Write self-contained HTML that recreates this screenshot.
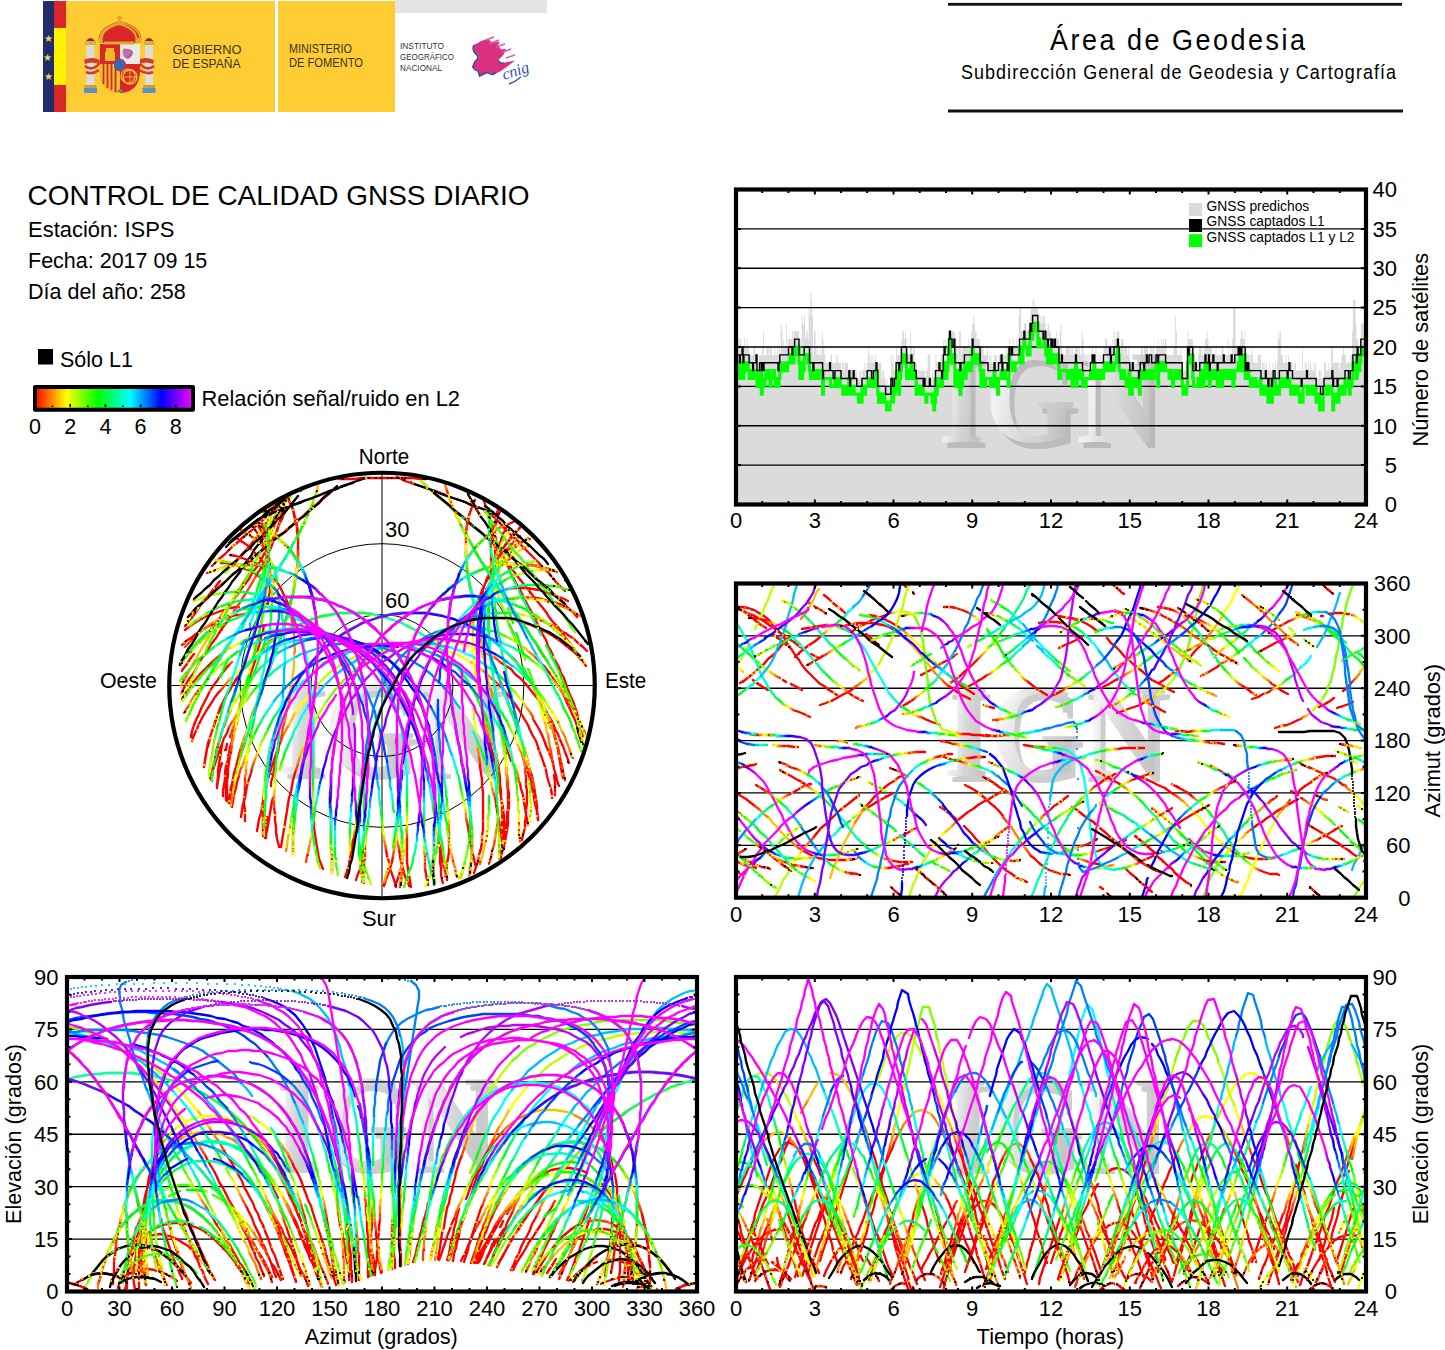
<!DOCTYPE html>
<html><head><meta charset="utf-8"><title>Control de calidad GNSS diario</title>
<style>
html,body{margin:0;padding:0;background:#fff;}
svg{display:block;}
text{font-family:"Liberation Sans",sans-serif;}
.c path{fill:none;stroke-width:2.35;stroke-linecap:round;stroke-linejoin:round;}
.c path.sp{stroke-width:2.2;}
text.wm{font-family:"Liberation Serif",serif;}
</style></head><body>
<svg width="1445" height="1350" viewBox="0 0 1445 1350">
<defs>
<clipPath id="cpA"><rect x="736" y="189.5" width="630" height="315"/></clipPath>
<clipPath id="cpB"><rect x="736" y="583.5" width="630" height="314.2"/></clipPath>
<clipPath id="cpC"><rect x="67" y="977" width="630" height="314.5"/></clipPath>
<clipPath id="cpD"><rect x="736" y="977" width="630" height="314.5"/></clipPath>
<clipPath id="cpP"><circle cx="382" cy="685.5" r="212.75"/></clipPath>
<linearGradient id="wmg" x1="0" y1="0" x2="1" y2="0.3">
<stop offset="0" stop-color="#c9c9c9"/><stop offset="0.25" stop-color="#f6f6f6"/><stop offset="0.6" stop-color="#d8d8d8"/><stop offset="1" stop-color="#c2c2c2"/>
</linearGradient>
<linearGradient id="cbar" x1="0" y1="0" x2="1" y2="0">
<stop offset="0" stop-color="#ff0000"/><stop offset="0.2" stop-color="#ffff00"/><stop offset="0.4" stop-color="#00ff00"/><stop offset="0.6" stop-color="#00ffff"/><stop offset="0.8" stop-color="#0000ff"/><stop offset="1" stop-color="#ff00ff"/>
</linearGradient>
<g id="wmark" font-size="118" font-weight="bold" transform="scale(1 1.13)">
<text class="wm" x="-106.5" y="5" fill="#9c9c9c" fill-opacity="0.5">I</text><text class="wm" x="-60.5" y="5" fill="#9c9c9c" fill-opacity="0.5">G</text><text class="wm" x="31.3" y="5" fill="#9c9c9c" fill-opacity="0.5">N</text>
<text class="wm" x="-111.5" y="0" fill="url(#wmg)" fill-opacity="0.92">I</text><text class="wm" x="-65.5" y="0" fill="url(#wmg)" fill-opacity="0.92">G</text><text class="wm" x="26.3" y="0" fill="url(#wmg)" fill-opacity="0.92">N</text>
</g>
</defs>

<!-- ================= HEADER LEFT (logos) ================= -->
<g id="logos">
<rect x="395" y="0" width="152" height="13" fill="#e4e4e4"/>
<rect x="43" y="1" width="11" height="111" fill="#1f2d6b"/>
<rect x="54" y="1" width="12" height="27" fill="#d8262b"/>
<rect x="54" y="28" width="12" height="57" fill="#fff200"/>
<rect x="54" y="85" width="12" height="27" fill="#d8262b"/>
<g fill="#f5d84a"><text x="44" y="42" font-size="10">★</text><text x="43" y="61" font-size="10">★</text><text x="44" y="80" font-size="10">★</text></g>
<rect x="66" y="1" width="209" height="111" fill="#ffcc33"/>
<rect x="278" y="1" width="117" height="111" fill="#ffcc33"/>
<!-- coat of arms -->
<g id="coa">
<rect x="86.5" y="44" width="8" height="43" fill="#dcdcdc"/>
<rect x="145" y="44" width="8" height="43" fill="#dcdcdc"/>
<rect x="85" y="41" width="11" height="4" fill="#e0b030"/><rect x="143.5" y="41" width="11" height="4" fill="#e0b030"/>
<path d="M86 41q4.5 -6 9 0z M144.5 41q4.5 -6 9 0z" fill="#8b2a2a"/>
<rect x="84.5" y="85" width="12" height="3" fill="#c8a030"/><rect x="143" y="85" width="12" height="3" fill="#c8a030"/>
<rect x="84" y="88" width="13" height="5" fill="#5a8fc8"/><rect x="142.5" y="88" width="13" height="5" fill="#5a8fc8"/>
<path d="M84 60 q8 -4 16 0 l-1 4 q-7 -3 -14 0z M138 60 q8 -4 16 0 l-1 4 q-7 -3 -14 0z" fill="#d43a2a"/>
<path d="M85 66 q7 6 15 -3 M139 63 q8 9 15 3 M86 72 q6 3 13 -2 M139 70 q8 5 14 2" stroke="#d43a2a" stroke-width="2.6" fill="none"/>
<path d="M100 44 h40 v26 q0 22 -20 23 q-20 -1 -20 -23z" fill="#d8262b"/>
<rect x="120" y="44" width="20" height="20" fill="#e8e8e8"/>
<path d="M100 64 h20 v29 q-20 -1 -20 -23z" fill="#f2c230"/>
<g stroke="#d8262b" stroke-width="1.8"><path d="M103.5 64v20M107.5 64v24M111.5 64v26M115.5 64v28"/></g>
<circle cx="130" cy="77" r="7" fill="none" stroke="#f2c230" stroke-width="1.3"/>
<path d="M123 77h14M130 70v14" stroke="#f2c230" stroke-width="0.9"/>
<path d="M105 61v-9h2v2h2v-2h2v2h2v-2h2v9z" fill="#f0b92b"/>
<path d="M125 50q5 -3 8 2q-1 6 -6 7q-3 -3 -2 -9z" fill="#b05aa0"/>
<ellipse cx="120" cy="65" rx="5.5" ry="6" fill="#3a66b5" stroke="#d8262b" stroke-width="1"/>
<path d="M117 91q3 -4 6 0q-3 3 -6 0z" fill="#5aa04a"/>
<path d="M99 43 q-3 -16 21 -22 q24 6 21 22z" fill="#d8262b"/>
<path d="M100 42 q-2 -14 20 -20 q22 6 20 20 M110 41 q-1 -12 10 -19 q11 7 10 19 M120 22v20" fill="none" stroke="#e2a92a" stroke-width="1.8"/>
<rect x="99" y="38" width="42" height="5" fill="#e2a92a"/>
<path d="M120 15v7M117 18h6" stroke="#e2a92a" stroke-width="1.8"/>
</g>
<circle cx="128" cy="76" r="7" fill="none" stroke="#f2c230" stroke-width="1.2"/>
<rect x="106" y="48" width="8" height="12" fill="#f0b92b"/>
<path d="M123 49 q5 -2 8 3 q-2 5 -6 6 q-3 -3 -2 -9z" fill="#c76aa8"/>
<ellipse cx="119" cy="65" rx="5" ry="5.5" fill="#3a66b5"/>
<path d="M102 43 q-2 -15 17 -20 q19 5 17 20z" fill="#d8262b"/>
<path d="M102 43 q-3 -14 17 -19 q20 5 17 19" fill="none" stroke="#e2a92a" stroke-width="2"/>
<path d="M104 43 h30" stroke="#e2a92a" stroke-width="3"/>
<path d="M119 16 v8" stroke="#e2a92a" stroke-width="2"/>
</g>
<text x="172.5" y="54" font-size="12.4" fill="#3b3325" textLength="69" lengthAdjust="spacingAndGlyphs">GOBIERNO</text>
<text x="172.5" y="67.8" font-size="12.4" fill="#3b3325" textLength="68" lengthAdjust="spacingAndGlyphs">DE ESPAÑA</text>
<text x="289" y="52.5" font-size="12" fill="#3b3325" textLength="63" lengthAdjust="spacingAndGlyphs">MINISTERIO</text>
<text x="289" y="67" font-size="12" fill="#3b3325" textLength="74" lengthAdjust="spacingAndGlyphs">DE FOMENTO</text>
<text x="400" y="48.6" font-size="8.6" fill="#333" textLength="44" lengthAdjust="spacingAndGlyphs">INSTITUTO</text>
<text x="400" y="60" font-size="8.6" fill="#333" textLength="54" lengthAdjust="spacingAndGlyphs">GEOGRÁFICO</text>
<text x="400" y="71.2" font-size="8.6" fill="#333" textLength="42" lengthAdjust="spacingAndGlyphs">NACIONAL</text>
<!-- cnig logo -->
<path d="M473 45.3L477 43.5L481 41L488 38.8L490 41L493 42.4L500 41.8L498 45L501 49.4L506 48.8L503.5 54.7L498 60.6L502 63L515 60.6L506 67.6L501 71L493 74.7L488 72.4L483.5 75.3L479.4 77L477.6 70.6L471.8 67.6L474 61.8L478.8 57.6L474 53L473 49.4Z" fill="#d9317f"/>
<path d="M486 40l8 -3M489 44l10 -4M496 47l9 -3M503 52l8 -3M506 58l9 -3" stroke="#e05a98" stroke-width="1.5" fill="none"/>
<path d="M474 45q-2 3 0 7q3 2 4 6q-3 3 -5 8q0 4 5 5q1 4 2 6M481 75q5 -4 9 -1q3 2 6 -2M498 60q2 4 6 3" stroke="#2f4fae" stroke-width="1.3" fill="none"/>
<text x="0" y="0" transform="translate(504 80) rotate(-18)" style="font-family:'Liberation Serif',serif;font-style:italic" font-size="16" fill="#2f4fae">cnig</text>
<path d="M509 84q6 -2 12 -7" stroke="#2f4fae" stroke-width="1.4" fill="none"/>
</g>

<!-- ================= HEADER RIGHT ================= -->
<rect x="948" y="2.9" width="454" height="2.8" fill="#111"/>
<rect x="948" y="109.5" width="455" height="3" fill="#111"/>
<text transform="translate(1177.5 50) scale(0.93 1)" x="0" y="0" font-size="29" text-anchor="middle" textLength="274" lengthAdjust="spacing">Área de Geodesia</text>
<text transform="translate(1178.5 78.7) scale(0.93 1)" x="0" y="0" font-size="19.3" text-anchor="middle" textLength="467.7" lengthAdjust="spacing">Subdirección General de Geodesia y Cartografía</text>

<!-- ================= TITLE BLOCK ================= -->
<text x="27.5" y="205" font-size="28" textLength="502" lengthAdjust="spacingAndGlyphs">CONTROL DE CALIDAD GNSS DIARIO</text>
<text x="28" y="237" font-size="21.5" textLength="146.5" lengthAdjust="spacingAndGlyphs">Estación: ISPS</text>
<text x="28" y="268.4" font-size="21.5">Fecha: 2017 09 15</text>
<text x="28" y="299" font-size="21.5">Día del año: 258</text>

<!-- legend -->
<rect x="38" y="349" width="15" height="15.5" fill="#000"/>
<text x="60" y="367" font-size="21.5">Sólo L1</text>
<rect x="35" y="387" width="158" height="22.7" fill="url(#cbar)" stroke="#000" stroke-width="4" stroke-linejoin="round"/>
<g stroke="#000" stroke-width="1.6">
<path d="M52.6 407v-1.5M70.2 407v-3M87.8 407v-1.5M105.4 407v-3M123 407v-1.5M140.6 407v-3M158.2 407v-1.5M175.8 407v-3"/>
</g>
<g font-size="21.5" text-anchor="middle">
<text x="35" y="433.5">0</text><text x="70.2" y="433.5">2</text><text x="105.4" y="433.5">4</text><text x="140.6" y="433.5">6</text><text x="175.8" y="433.5">8</text>
</g>
<text x="201.5" y="405.7" font-size="21.5" textLength="258.5" lengthAdjust="spacingAndGlyphs">Relación señal/ruido en L2</text>

<!-- ================= POLAR PLOT ================= -->
<g id="polar">
<use href="#wmark" x="390" y="773"/>
<g fill="none" stroke="#000" stroke-width="1">
<circle cx="382" cy="685.5" r="141.8"/>
<circle cx="382" cy="685.5" r="70.9"/>
<path d="M169 685.5H595M382 472.75V898.25"/>
</g>
<g class="c" clip-path="url(#cpP)">
<path stroke="#ff0000" d="M257 831l1-6 1-6 2-6 1-6 1-6 1-7 2-6 1-6 2-6 2-7 2-6 2-6 2-6 2-6 2-4M498 684l5 5 4 5 4 5 4 5 4 6 3 5 3 5 3 5 2 5 3 6 3 5 2 6 2 6 2 5 2 6 2 6 1 6 2 7 2 6 1 6 0 3M356 880l2-6 2-5M558 629l5 3 5 3 6 4 4 4 5 4 4 4M285 500l-5 5-5 4-5 5-5 4-4 4-5 4-4 4-5 4-5 4-4 4-5 4-4 4-5 5-5 4-4 4-3 3M496 552l0-6-1-6 0-7 0-6 1-6 1-6 1-6M236 538l5 3 6 4 4 4 5 5 4 4 4 6 3 5 1 2M274 807l1 7 0 6 1 7 0 6 1 6 2 7 0 1M555 795l0-7 0-6-1-7 0 0M565 591l-5-5-4-4-4-5-4-5-5-4-4-5-4-4-5-5-4-4-4-4-4-5-5-4-4-4-5-5-4-5-5-5-5-4-3-4M185 630l5-4 6-4 5-3 6-3 6-2 5-2 6-2 6-2 7-1 1 0M386 849l1 7 2 6 1 6 2 6 2 6 2 6 0 1M210 778l2-6 2-5 2-6 2-6 2-6 2-5 2-6 3-5 2-6M495 797l1 6 1 7 1 6 1 6 1 6 1 6 1 6 2 6 0 3M500 859l2-6 1-5 2-6 1-6 1-6 1-6 0-6 0-6 1-6 0-6 0-6-1-6M495 568l2-6 2-6 3-5 3-6 4-5 3-5 5-4 4-5M263 527l2 6 1 6 1 6 1 7 0 6 0 5M230 756l-1 6-1 7 0 6-1 6 0 6 0 7 0 6 0 1M288 499l-4 5-4 5-3 5-4 5-4 4-4 5-5 5-4 5-4 5-4 5-5 5-4 5-4 5-3 3M220 581l-4 5-4 5-4 5-4 5-4 5-3 5-4 5-4 5-4 5M384 886l2-6 2-6 2-6 2-6 1-6M529 598l7 0 6 1 6 2 6 1 6 2 6 3 1 0M222 745l-1 7-1 6-1 6-1 7 0 6-1 7 0 4M266 523l1 6 0 3M232 807l1-6 1-6 2-7 1-6 2-6 0-1M520 783l1 6 2 6 1 7 1 6 1 6 1 6 1 5M575 713l3 6 3 6 2 5M252 526l4 5 3 5 3 6 2 6 2 6 2 6 0 0M245 786l0 6-1 6 0 6 1 6 0 6 0 5M522 840l1-6 2-6 0-6 1-6 0-6 1-7 0-6 0-6-1-6 0-6 0-2M496 558l1-6 2-6 2-6 2-6 3-5 0-1M399 849l1 7 1 6 2 6 1 5 2 6 3 6 0 1M182 645l4-4 5-3 5-4 6-4 5-3 6-3 6-3 5-2 6-2 6-2 3 0M467 821l1 6 1 7 1 6 1 6 1 6 2 6 1 6 1 3M192 741l2-6 3-6 2-5 3-6 3-5 3-5 4-6 3-5 4-5 2-2M467 823l1 3M281 847l1-6 1-6 1-6 1-6 1-6 1-6 1-7 1-6 2-6 1-6 1-6 2-7 1-3M500 662l6 4 5 3 4 5 5 4 5 5 4 5 4 5 4 5 3 4 4 6 3 5 3 5 3 5 2 6 3 5 2 6 3 6 2 6 2 5 2 6M345 877l2-6 2-6 1-6 1-6 1-6 1-7 1-2M525 623l6 2 6 3 5 2 6 3 5 3 6 4 5 4 5 4 5 4 4 4 3 4M261 521l2 6 2 6 1 6 1 6 1 6 0 7 0 6 0 6 0 6-1 7 0 6-1 3M237 719l-2 6-1 6-1 7-2 6-1 6-1 7-1 6-1 6 0 6-1 7 0 6 0 6 0 6M500 856l2-6 1-6 2-6 1-6 0-6 1-6 0-6 1-6 0-6 0-6 0-6-1-4M494 570l2-6 3-6 2-5 3-6 4-5 4-5 4-5 4-4M221 563l6 0 7 2 6 2 5 2 6 2 5 3 5 4 5 3 3 3M314 822l0 6 1 6 1 7 1 6 1 6 1 6 2 5 2 5M583 736l-1-6-2-6-2-6-1-5-2-6-2-6-3-6-2-5-2-6-2-6-3-5-2-6-3-5-3-6-2-5-3-5-2-6-3-5-3-6-3-6-3-6-3-6-3-5-3-6-3-6-3-6-3-5-3-6-3-5-2-6-3-5-2-6-3-6-3-6-2-6-2-6-2-5-2-7-2-6-1-6-2-6M524 761l2 6 2 6 2 6 1 7 2 6 1 6 1 6 2 7 1 6 0 3M241 817l1-7 1-6 2-6 1-6 1-6 2-7 2-6 1-5M182 699l3-5 4-5 3-5 4-5 4-5 4-4 4-4 5-5M440 847l1 6 1 6 1 6 2 6 2 6 0 3M533 719l3 5 3 5 3 6 2 5 2 6 3 6 2 5 2 6 1 6 2 6 1 5 2 6M265 838l2-7 1-6 1-6 1-6 1-6 1-6 1-3M204 766l1-6 1-6 1-6 2-5 1-6 2-6 2-6 2-5 2-6 3-6 2-6 3-6 4-6 3-6 4-5 1-2M499 772l1 6 0 6 1 7 0 6 1 7 0 6 0 6 0 6 0 6 0 6 0 7 0 5M426 479l-7-1-6 0-7 0-6 0-7 0-6 0-6 0-7 0-6 0-7 0-6 1-7 0-6 0-3 0M263 836l0-6 0-6 0-7 0-6 0-6 1-6 0-7M541 701l3 6 3 6 2 6 2 5 2 6 2 6 1 6 2 5 1 6 1 6 1 6 1 6 0 4M190 615l-2 2M469 875l1-7 1-6 1-6 0-6 0-7 0-6 0-7-1-6M474 549l4-5 5-4 4-4 5-4 5-3 6-3 6-2 6-3 0 0M292 507l2 7 2 6 1 6 1 6 0 6 0 6 0 7 0 0M239 755l-1 6-2 6-2 6-1 7-1 6-2 6 0 6-1 5M537 813l0-7-1-6-1-6-1-6M468 523l1-7 2-6 2-6 2-4M289 501l3 6 2 6 1 7 2 5 0 7 1 6 0 6 0 7 0 6 0 6-1 6-1 6-1 7-1 6-1 6-2 6-1 6-2 6-2 6-1 6-2 7-2 6-2 6-3 6-2 7-2 6-2 6-3 6-2 7-2 6-3 6-2 7-2 6-3 6-2 6-2 7-2 6-2 6-2 6-2 7-2 6-2 6-1 6-2 6-1 7-2 6-1 6-1 6 0 4M537 811l0-6-1-6-1-6-1-7-2-6-1-6-2-6-1-6-2-7-2-6-2-6-2-6-2-6-2-7-2-6-3-6-2-7-2-6-3-6 0-1M475 606l-2-6-1-6-2-6-1-7-1-6-1-6 0-7-1-6 0-6 0-6 0-7 0-6 1-6 1-6 2-6 2-6 2-6 1-1M261 527l4 2M277 537l4 4 5 4 4 5 3 4 4 6 3 5 3 6 3 6 0 1M296 806l-1 6-1 6 0 7-1 6 0 7 0 6 0 7 0 4M586 737l-2-6-3-5-2-6-2-5-3-6-3-5-2-6-3-5-3-5-2-4M549 664l-3-5-4-5-3-5-3-6-4-5-3-5-3-5-4-5-3-5-4-5M499 589l-3-6-4-5-4-6-3-5-4-6-3-5-3-5-3-6-3-5-3-6-3-5-3-6-3-6-2-6-3-5-2-6-2-6-2-6M207 573l6-2 6-2 6-2 6-1 6-1 7 0 6 0 7 0 6 1 6 1 6 1 2 0M363 859l0 4M363 875l1 6 0 2M494 514l-5-2-6-3-6-2-6-2-6-3-6-2-6-2-6-2-6-3-6-2-6-2-6-2-6-2-6-2-6-2-6-3-2-1M204 767l1-6 1-6 1-6 2-6 1-6 2-6 2-6 2-5 2-6 3-6 1-3M245 667l4-5 4-4 5-5 5-4 4-5 5-4 5-3 1-1M489 728h0M494 746l2 6 1 7 1 6 1 6 1 7 0 6 1 7 0 6 1 6 0 7 0 6 0 6 0 6 0 6 0 7 0 6-1 7 0 4M426 479l-6 0-7-1-6 0-7 0-6 0-7 0-6 0-6 0-7 0M346 479l-7 0M263 836l0-5M559 752l1 6 1 6 1 6 0 3M334 489l-4 4-5 4-5 4-5 5-5 4-5 4-5 5-5 4-5 4-4 4-5 4-3 2M249 561l-2 1M222 585l-5 4-5 4-4 5-5 4-5 4-4 5-4 4-2 2M400 887l1-7 1-6 0-7 0-6 0-6 0-6 0-6 0-7 0-3M478 571l5-2 6-2 6-1 6-1 6-1 7 0 6 0 7 1 6 0 7 2 4 1M495 642l5 4 4 4 5 5 5 4 4 5 4 6 4 5 4 5 3 6 3 6 4 6 3 6 2 6 3 5 2 6 2 6 2 5 1 6 2 6 1 6 1 6 1 6 1 6 1 6 1 4M332 873l0-7 0-6 0-6-1-6 0-7 0-6 0-7 0-6 0-6 0-6-1-7 1-6 0-2M537 566l6 2 6 1 4 2M288 498l2 5 3 6 1 6 2 7 1 5 1 7 0 6 0 6 0 7 0 6 0 3M243 742l-2 6-2 6-1 6-2 7-2 6-1 6-1 6-1 6-1 7-1 5M538 820l-1-6 0-7-1-6-1-6-1-6-1-7-1-6-2-6-2-6-1-6-1-4M466 550l0-6 0-6 0-7 1-6 1-6 2-6 2-6 2-6 1-1M213 571l6-2 6-2 6-1 6-1 7 0 6 0 6 0 7 1 6 1 6 1 5 2 6 2 6 2 5 3 5 3 5 3 5 3 2 2M366 804l-1 6 0 6-1 7 0 6 0 7-1 6 0 6 0 6 0 7 0 6 0 6 1 7 0 2M577 617l-4-5-5-4-4-5-5-4-4-4-5-5-5-4-5-4-4-4-5-4-5-4-5-4-5-5-4-4-5-4-5-4-5-3-5-4-5-4-4-4-5-4-5-4-4-4-5-4-5-4-5-4-5-4-5-5-5-4-5-4-3-3M180 664l3-5 4-5 4-5 4-4 4-5 5-4 5-5 5-4 5-4 5-4 5-3 6-4 6-3 5-2M434 835l0 6 0 7 0 6-1 6 0 6 0 7 1 6 0 1M495 514l-6-2-6-3-6-2-6-2-6-3-6-2-6-2-6-2-6-3-6-2-6-2-6-2-6-2-6-2-6-2 0-1M204 767l1-6 1-6 1-6 1-6 2-6 2-6 2-5 2-6 2-6 2-6 3-6 3-6 3-6 4-5 3-6 4-5 4-6 4-5 5-5 4-4 5-5 5-4 5-4 5-4 5-3 5-4 2-1M485 715l2 6 2 6 2 7 2 6 1 6 2 7 1 6 1 6 1 7 1 6 0 7 1 6 0 6 1 7 0 6 0 6 0 6 0 4M426 479l-6 0-3-1M402 478l-6 0-7 0-6 0-7 0-6 0-7 0-6 1-6 0-7 0-5 0M263 836l0-6 0-6 0-6 0-6 0-7 1-6 0-6 0-5M268 760l1-6 2-7 1-6 2-6 2-6M511 761l-2-6-2-6-1-6-2-6-2-6-1-6-2-6-1-2M480 615l0-6 1-6 1-7 1-6 2-6 2-6 3-5 2-5 4-6 4-5 4-4 5-4 5-3 6-3 5-3 5-1M491 555l0-6 0-7 1-6 1-6 1-6 3-6 2-5 1-1M283 500l0 6-1 6-1 6-2 6-2 6-1 6-3 6-2 6-3 5-2 6-3 5-3 6-2 2M227 622l-4 5-4 6-3 5-4 5-3 5-3 5-4 5-3 5-3 6-3 5-4 5-3 5-3 6-2 4M565 780l-1-3M191 737l1-6 2-6 2-5 3-6 2-5 3-6 3-6 3-6 3-5 4-5 3-5 4-5 4-5 2-2M407 837l0 7 0 6 0 6 0 6 1 7 1 6 1 6 1 6M586 666l-3-5-4-5-4-5-3-5-4-5-4-5-3-5-4-5-4-4-4-5-3-5-4-5-4-5-4-5-4-5-4-5-4-5-4-5-4-5-3-5-2-2M501 553l-2-4M211 780l1-7 1-6 2-6 1-7 1-6 2-6 2-6 0-2M439 843l1 7 0 6 0 6 1 6 0 6 1 6 1 3M286 507l-2 6-2 6-3 6-2 6-3 5-3 6-2 5-4 5-3 6-3 5-3 5-4 5-3 6-4 5-4 5-3 5-4 5-4 5-4 5-4 6-3 4-4 5-4 5-3 5M194 654l-4 5-3 5-4 5-1 2M362 882l1-6 1-6 0-7 1-6 0-6 0-6 0-1M540 662l4 4 4 5 3 5 4 5 3 5 4 6 3 6 2 5 3 6 2 5 3 6 2 6 1 6 2 6 1 4M230 736l0 1M227 744l-1 6-1 0M222 763l-2 6-1 6-1 6-1 6 0 1M445 876l1-6 1-6 1-6 1-6 0-7 0-6 0-5M514 588l6 0 6 0 7 1 6 1 6 2 6 2 5 2 6 2 6 3M230 555l6 1 6 2 6 2 6 2 5 3 5 4 5 4 4 5 4 4 3 5 3 6 3 6 2 5 2 6 1 6 1 4M282 734l-1 6-2 6-1 6-2 6-1 6-1 6-1 6-2 6 0 4M267 817l-1 6 0 7 0 6 0 2M502 853l1-6 0-6 1-6 0-7 0-6 0-6-1-7-1-6-1-6-1-7-1-6-1-6-1-6-1-6-2-6-1-6-2-6-1-6M476 607l2-6 2-5 2-6 3-6 3-5 4-5 4-4 5-5 5-4 5-3 2-1M425 868l1 6 1 6 1 5M395 886l2-5 2-6 1-4M496 559l-1-6 0-6-1-6 1-7 0-6 1-6 0-3M257 524l3 5 3 5 2 6 2 6 1 6 1 7 1 6 0 6 0 6 0 7 0 6-1 6-1 6 0 2M264 625l-1 6-2 6-1 6-2 6-1 6-2 6-2 6-2 6-2 6-1 6-2 7-2 6-2 6-2 6-2 6-1 6-2 7-2 6-1 6-2 6-1 7-1 6-2 6-1 6 0 7-1 6-1 6 0 5M474 873l2-6 2-6 1-6 2-6 1-7 0-6 1-6 0-7 0-6 0-6 0-7 0-6 0-6-1-6 0-6-1-7-1-6 0-4"/>
<path stroke="#ff4000" d="M281 741l2-6 1-1M491 678l5 4 2 2M360 869l1-6 1-3M546 623l6 2 6 4M498 562l-1-6-1-4M268 571l2 4M274 800l0 7M553 764l-1-6-1-6-1-5M238 607l1 0M385 844l1 5M229 727l3-5 1-1M493 792l2 5M570 751l2 6 1 1M508 788l0-6 0-2M493 573l2-5M268 563l0 7 0 1M232 745l-1 7-1 4M393 856l1-6M522 597l6 1 1 0M489 864l2-6 1-7 2-6 1-6M511 545l4-5 5-4M267 532l1 6 0 7 0 0M184 713l3-5 1-1M455 868l1 6 1 3M239 775l2-7 1-1M518 776l1 6 1 1M306 862l1-6 1-3M565 696l3 5 4 6 3 5 0 1M268 560l1 7 0 0M245 776l0 7 0 3M526 777l-1-6 0-4M495 566l1-7 0-1M398 844l1 5M239 615l6-1M221 690l4-5 1-1M466 817l1 6M296 770l2-6 0-1M494 657l5 4 1 1M354 838l0-4M519 622l6 1M266 592l0 6-1 3M239 709l-1 6-1 4M507 786l0-6 0-2M493 576l1-6M269 584l3 3M313 817l1 5M522 754l2 7M252 768l2-6M213 661l5-4 2-2M438 841l2 6M530 712l3 5 0 2M238 677l3-5 1-1M498 765l1 7M264 792l1-6M537 692l3 6 1 3M332 873l0-3M569 643l4 5 4 5 2 3M335 488l-5 4-4 4-5 5-5 4-5 4-4 4M223 583l-5 5-4 4-5 4-5 5-4 4-5 4-4 5-1 1M548 569l6 2 3 1M471 824l0-6M471 553l3-4M298 551l0 6M241 748l-1 6-1 1M534 788l-1-7-2-5M466 532l1-7 1-2M469 874l1 0M504 692l-2-7-3-6-1-3M479 621l-2-6-2-7 0-2M309 586l1 2M297 801l-1 5M515 613l-3-5-4-5-3-5-3-5-3-4M277 568l5 2M363 852l0 6 0 1M278 636l5-3 6-3 0-1M486 718l2 6 1 4M263 831l0-6 0-6 0-1M554 734l2 6 1 6 2 6M402 833l-1-5M473 573l5-2M486 635l5 4 4 3M331 795l0-7M400 886l1-3M524 564l6 1 7 1 0 0M298 562l-1 6M245 736l-2 6M526 754l-2-7-1 0M466 556l0-6M314 588l4 4M366 798l0 6M246 607l5-2 2-1M434 830l0 5M479 701l2 6 3 6 1 2M276 729l2-6 1-4M498 717l-1-6-2-6M480 626l0-7 0-4M491 563l0-6 0-2M258 572l-3 6-3 5-3 5-3 5-4 6-3 5-4 5-3 6-4 5-1 2M480 515l-3-5-4-5-3-6M241 530l5 3 6 4 1 0M564 777l-1-6-1-6-2-7-1-3M230 664l2-2M407 833l0 4M185 647l4-4 5-5 4-4 2-2M221 734l2-6 2-3M439 837l0 6M301 491l-1 0M291 496l-5 4-6 3-5 3-5 3-6 3-1 0M365 844l0-5M534 656l4 4 2 2M233 728l-2 6-1 2M449 834l0-5M508 589l6-1M292 620l1 6 1 6M285 721l-2 6-1 6 0 1M490 742l-2-6 0-2M475 615l1-6 0-2M425 858l0 6 0 4M400 871l2-6 0-3M480 763l-1-6 0-1"/>
<path stroke="#ff8000" d="M284 734l3-6 2-3M482 670l5 4 4 4M362 860l1-6 0-1M538 619l5 2 3 2M499 572l-1-6 0-4M270 575l3 5M274 794l0 6 0 0M550 747l-1-6-1-7-1-1M384 839l1 5M233 721l3-5 0-1M492 787l1 5M286 851l1-6M562 731l3 6 2 6 2 5 1 3M382 885l3-5 0-2M557 605l6 2 5 2 6 3 6 4 0 0M508 780l-1-6 0-1M492 579l1-6M268 571l0 6 0 2M234 736l-2 7 0 2M394 850l1-5M516 598l6-1M495 839l1-7 1-6 0-2M504 553l4-5 3-3M268 545l0 6 0 5M188 707l3-6 3-5 4-5 1-2M452 855l1 6 2 7M242 767l2-6 0-1M516 769l2 6 0 1M308 853l1-6 1-3M557 685l4 5 3 5 1 1M269 567l1 6 0 1M246 768l0 6-1 2M525 767l-1-6 0-3M495 572l0-6 0 0M397 839l1 5M245 614l5-1M226 684l4-5 0 0M466 812l0 5M298 763l2-6 0-1M485 653l6 3 3 1M354 834l1-4M514 620l5 2M265 601l-1 6-1 3M242 698l-2 6-1 5M507 778l-1-6 0 0M492 581l1-5M272 587l3 3M313 812l0 5M519 748l3 6 0 0M254 762l2-5M480 864l1-4M523 542l5-4M220 655l5-3 1-2M438 836l0 5M526 707l4 5M242 671l4-5 2-2M497 759l1 6M265 786l0-6M532 684l4 6 1 2M332 870l0-7 0-4M554 629l5 4 5 5 4 4 1 1M307 513l-5 4-5 4-5 4-4 4-5 4-5 4-5 4-4 4-5 4-5 4-5 4-5 4-4 4-5 4-5 4-5 4-4 4-3 2M401 885l0-7 1-6 0-1M525 565l7 0 7 1 5 2 4 1M471 818l-1-6M468 557l3-4M298 557l0 6M243 742l-2 6M531 776l-1-6-1-3M466 539l0-6 0-1M470 874l1-7 0-6 1-6 0-2M494 531l5-3 6-3 2-1M498 676l-2-6-3-6-2-7-2-6-2-6-2-7-2-6-2-6-2-5M310 588l2 6M297 796l0 5M282 570l5 2M363 848l0 4M180 664l4-5 3-5 3-4M289 629l6-3 6-2 4-2M481 705l2 6 3 6 0 1M263 818l0-6 0-3M550 720l2 6 1 6 1 2M401 828l0-4M469 575l4-2M474 628l6 3 5 4 1 0M331 788l0-6 0-1M401 883l1-7 0-6 0-1M522 564l6 1 1 0M297 568l-1 6M248 729l-2 6-1 1M523 747l-2-7 0 0M466 562l0-6M259 526l6 3 4 2M583 730l-2-6-3-6-2-5M451 502l-3-6-1-6-2-5M318 592l5 4 0 1M367 791l-1 6 0 1M253 604l5-2 2 0M434 825l0 5M322 616l6-1 6-1 6-1 0 0M465 678l4 5 3 6 3 5 3 6 1 1M279 719l2-6 3-6 0-1M495 705l-2-6-1-6-2-5 0-1M481 643l0-6-1-6 0-5M493 571l-1-6-1-2M253 537l4 4 5 5 0 0M233 793l-1 6-1 6 0 1M407 829l0 4M200 632l5-3 4-4 5-3M225 725l2-6 1-3M439 832l0 5M365 839l0-5M528 651l5 4 1 1M236 721l-3 6 0 1M449 829l0-6M503 590l5-1M294 632l0 6 0 6 1 6-1 5M290 697l-1 6-2 6-1 6-1 6 0 0M488 734l-2-6-1-5M473 624l1-6 1-3M424 851l1 6 0 1M281 510l-3 6-2 6-2 5-2 4M196 659l-3 5-3 5-3 6-3 5-3 6 0 1M402 862l1-6 1-2M479 756l-1-6 0-3"/>
<path stroke="#ffbf00" d="M289 725l3-6 3-6 1-1M469 661l5 3 5 4 3 2M363 853l1-6M530 617l6 2 2 0M538 570l6 0 6 0 5 0M501 582l-1-6-1-4M273 580l1 4M275 788l-1 6M547 733l-1-7-2-6M384 835l0 4M236 715l3-5M491 781l1 6M287 845l1-7 0-3M556 719l3 5 2 6 1 1M385 878l2-6 2-5M543 600l6 2 6 2 2 1M507 773l0-6 0-1M491 584l1-5M268 579l-1 6 0 1M236 727l-2 6 0 3M395 845l1-5M511 598l5 0M230 710l-1 5M497 824l1-7M500 559l4-5 0-1M268 556l0 6-1 3M199 689l4-4 4-5 0-1M450 847l1 6 1 2M244 760l2-5M514 763l2 6M310 844l1-6 0-1M550 677l4 5 3 3M270 574l1 5M247 760l-1 7 0 1M524 758l-1-6-1-2M494 579l0-6 1-1M397 835l0 4M250 613l6 0M230 679l5-5 0 0M465 808l1 4M300 756l3-7 1-3M474 648l5 2 6 3M355 830l1-5M508 619l6 1M263 610l-1 7-1 6 0 1M246 683l-2 6-1 7-1 2M506 772l0-7 0 0M491 586l1-5M275 590l3 3M313 806l0 6M517 743l2 5M256 757l2-5M481 860l2-6 1-6 2-7 0-1M511 551l5-5 5-3 2-1M226 650l6-3 0 0M437 831l1 5M523 702l3 5 0 0M280 770l1-5M248 664l4-5 1-2M496 753l1 6M265 780l1-7M528 678l3 5 1 1M332 859l0-6-1-3M542 619l5 4 5 4 2 2M402 871l0-6 0-3M513 564l6 0 6 1M318 485l-1 6-2 5M470 812l-1-5M466 561l2-4M298 563l-1 6M246 735l-2 6-1 1M529 767l-1-6-1-2M466 546l0-6 0-1M257 525l6 3 2 1M472 853l0-6 0-6M485 538l5-4 4-3M312 594l1 6 0 2M298 791l-1 5M287 572l4 2M190 650l4-4 4-5 5-5 4-3M434 862l-1 4M305 622l6-2 6-2 6-2 6-1 2 0M470 685l3 6 4 6 2 5 2 3M263 809l1-7 0-2M545 710l3 6 2 4M582 659l3 5M401 824l0-4M465 577l4-2M458 621l6 2 5 3 5 2M331 781l0-7 1-3M579 655l3 5 1 1M402 869l0-6 0-3M510 564l6 0 6 0M296 574l-1 6M250 722l-2 7M521 740l-2-7M467 568l-1-6M269 531l5 4 4 3M293 843l0 6 0 6M576 713l-3-6-3-5-2-5-3-5M457 518l-2-6-3-6-1-4M323 597l5 4 2 3M367 782l0 6 0 3M260 602l6-2 0 0M435 820l-1 5M340 613l6 0 6 0 7 0 6 0 6 1 4 1M407 625l5 3 6 3 5 4 5 3 5 4 5 4 5 4 4 5 4 5 5 4 4 6 3 5 2 3M284 706l3-6 3-6 3-5M490 687l-2-6-1-6-1-6-1-6-2-6-1-7 0-6-1-1M494 580l-1-6 0-3M262 546l3 5 2 2M235 781l-1 6-1 6M461 878l2-7 1-6 1-1M550 728l-1-4M407 824l0 5M214 622l5-3 6-3M228 716l3-5 0-2M439 827l0 5M365 834l0-4M522 646l5 4 1 1M238 713l-2 6 0 2M449 823l0-4M498 591l5-1M294 655l0 6 0 6-1 6-1 7-1 6-1 6 0 5M485 723l-1-6-2-6 0-3M473 638l0-6 0-6 0-2M424 845l0 6M519 829l0 6 1 6 0 1M520 550l6-3 3-1M268 539l-3 6-3 5-3 6-1 1M212 632l-3 5-4 6-3 5-3 5-3 6M404 854l0-6M478 747l-1-6-1-5M271 516l0 6 0 5"/>
<path stroke="#ffff00" d="M296 712l4-6 4-5 4-5 4-5 3-3M438 648l6 2 6 2 6 2 6 3 5 3 2 1M364 847l1-4M524 615l6 2M525 572l6-1 7-1 0 0M282 502l-2 6-2 6-1 1M425 886l3-6 0-1M503 588l-2-6M274 584l2 5M275 782l0 6M544 720l-2-6-1-6M383 831l1 4M239 710l4-5 0-1M490 776l1 5M288 835l2-6 0-1M550 709l4 5 2 5M389 867l1-4M533 599l6 1 4 0M291 496l-4 5-4 5-4 4-3 4M194 612l-4 5-3 5-1 2M507 766l-1-6 0-1M490 589l1-5M267 586l0 6-1 2M238 718l-2 6 0 3M396 840l0-5M506 599l5-1M233 700l-1 6-2 4M497 565l3-5 0-1M267 565l0 6-1 2M207 679l4-5 4-3M449 840l1 6 0 1M246 755l2-6M512 757l2 6M311 837l1-6M544 671l4 4 2 2M271 579l0 6M248 752l-1 6 0 2M522 750l-1-6 0-2M494 586l0-7M396 831l1 4M256 613l5-1M235 674l5-4M464 803l1 5M304 746l2-6 3-6 1-2M457 643l6 1 6 2 5 2M356 825l0-4M504 619l4 0M261 624l-2 6-1 6-1 6-2 6-1 6-2 6-2 6-1 7-2 6-1 4M506 765l-1-6 0-1M490 592l1-6M278 593l3 4M313 802l0 4M515 737l2 6M258 752l2-6M267 510l1 6 0 5M486 840l1-6 1-6M505 558l4-5 2-2M232 647l6-3M436 826l1 5M519 697l4 5M281 765l0-1M579 719l-3-5-2-6-3-5 0-1M454 510l-2-6-3-6-1-5M211 571l6-1 5-2M253 657l5-4 2-2M494 746l2 6 0 1M266 773l1-6M523 671l4 5 1 2M331 850l0-6M532 613l6 4 4 2M402 862l0-6 0-2M503 565l6-1 4 0M315 496l-2 6-2 5-2 6-1 1M195 701l-2 5-3 6-2 5-2 4M469 807l0-5M464 564l2-3M297 569l-1 5M248 729l-2 6M527 759l-2-7 0-1M466 552l0-6M265 529l5 3 5 3 0 1M293 846l0 7 0 2M586 739l-2-6-2-5-2-6-1-1M314 498l-2 6-1 3M191 709l-2 6-3 5 0 1M472 841l0-7 0-2M479 543l5-4 1-1M313 602l2 6 0 3M299 786l-1 5M291 574l5 2M207 633l5-4 5-5 2-1M434 853l0 6 0 3M331 615l6-1 6-1 6 0 6 0 6 0 6 1 6 1 6 1 6 1 6 2 5 2 6 2 6 3 5 3 6 3 5 3 5 4 5 4 5 4 4 4 5 5 4 4 4 5 4 5 4 6 4 5 2 4M264 800l0-6 0-1M541 700l3 7 1 3M332 873l0-7 0-1M563 637l4 4 4 4 4 5 4 5 3 4M401 820l-1-4M461 580l4-3M290 694l3-6 2-3M432 614l6 1 6 1 6 2 6 2 2 1M332 771l0-7 1-6 0-2M561 635l5 5 4 4 4 5 3 4 2 2M402 860l0-6 0-1M501 565l6-1 3 0M295 580l-1 6 0 1M253 715l-3 6 0 1M519 733l-2-6 0 0M468 573l-1-5M278 538l5 4 1 2M293 834l0 7 0 2M565 692l-3-5-3-6-2-4M464 531l-3-6-3-6-1-1M330 604l4 5 3 5 1 1M368 768l0 6-1 6 0 2M266 600l6-1 1 0M435 816l0 4M497 590l-2-6-1-4M267 553l3 6 0 0M237 772l-2 6 0 3M465 864l0-4M549 724l-3-6-1-4M251 646l1 0M407 820l0 4M225 616l5-2 3-1M350 848l0 5M231 709l3-5 1-2M439 822l0 5M499 855l0 4M365 830l0-4M517 642l5 4 0 0M242 705l-3 6-1 2M449 819l-1-5M494 593l4-2M482 708l-2-6-1-6-1-6-1-6-1-6-1-7-1-6 0-6-1-7 0-6 0-6 0-2M180 665l3-4M424 839l0 6M519 811l0 6 0 7 0 5M511 556l5-3 4-3M258 557l-3 5-3 6-3 5-3 5-4 6-3 5-4 6-3 5-4 6-3 5-3 5-3 5-4 5-3 6 0 0M404 848l1-5M476 736l0-6-1-6-1-5M530 822l0-6 1-7 0-5M504 539l3-5 3-5M271 527l0 7-1 6 0 2"/>
<path stroke="#bfff00" d="M315 688l4-5 5-5 4-4 5-4 6-4 5-3 5-3 6-3 5-3 6-2 6-2 6-2 6-1 6-2 6 0 6-1 6 0 6 0 6 1 6 0 6 2 6 1M365 843l1-5M518 614l6 1M517 575l6-2 2-1M277 515l-2 5-2 6-3 6-3 5-1 2M196 670l-2 5-3 6-2 5-3 6-2 6-1 2M428 879l3-6 2-6 1-3M276 589l1 5M275 776l0 6M541 708l-2-6-2-7M503 587l-1-3M183 701l3-5M447 871l1 3M383 826l0 5M243 704l4-4M488 771l2 5M290 828l1-6 0-1M545 701l3 5 2 3M525 598l6 1 2 0M276 514l-4 5-4 5-4 5-5 5-4 5-1 1M234 563l-4 5-4 5M205 598l-4 5-3 5-4 4M506 759l-1-6 0-1M490 595l0-6M266 594l0 6-1 3M240 708l-1 6-1 4M396 835l1-4M501 600l5-1M234 696l-1 4M495 570l2-5M266 573l0 6-1 3M215 560l6 1 1 0M215 671l4-5 2-1M448 834l1 6M248 749l2-5M510 752l2 5M312 831l0-4M538 665l5 5 1 1M271 585l1 7M249 745l0 6-1 1M521 742l-1-6-1-2M494 593l0-7 0 0M396 829l0 2M261 612l5 0M240 670l5-4M463 798l1 5M310 732l2-5 3-6 3-6 4-6 3-5 2-3M418 641l6 0 6-1 6 0 6 1 7 0 6 1 2 1M356 821l1-5M498 618l6 1M505 758l-1-6 0-1M489 597l1-5M281 597l2 3M313 796l0 6M512 732l3 5M260 746l2-5M268 521l1 6 0 6 0 5M211 759l-1 7-1 6 0 4M488 828l0-7 0-3M501 563l4-5 0 0M193 601l6-2 6-2 6-2M369 879l2 5M238 644l5-3M436 822l0 4M515 692l4 5M571 702l-3-5-3-5-3-6-1-1M460 524l-2-6-3-6-1-2M222 568l6-1 6-1 7-1 1 0M363 870l1 6 0 6M426 485l-5-4 0 0M260 651l4-4 3-2M493 739l1 6 0 1M267 767l1-6M518 664l4 5 1 2M331 844l0-6M524 609l5 3 3 1M402 854l0-6M495 566l6-1 2 0M308 514l-2 5-3 6-1 2M204 685l-3 5-3 5-3 6M469 802l-1-5M462 569l2-5M296 574l-1 7M250 722l-2 6 0 1M525 751l-2-6M466 557l0-5M275 536l5 4 2 2M293 837l0 6 0 3M311 507l-2 6-3 6-1 3M200 691l-2 5-3 6-3 5-1 2M472 832l-1-6 0-1M475 548l4-5M315 611l1 6 1 7 0 3M300 781l-1 5M296 576l4 2M219 623l5-4 5-3M434 846l0 6 0 1M264 793l0-6 1-1M537 693l3 5 1 2M332 865l0-6 0-3M549 624l5 5 5 4 4 4M400 816l0-5M457 583l4-3M295 685l3-5 4-6 4-5 4-5 4-5M329 645l5-4 5-4 5-4 5-3 6-3 5-3 6-2 6-2 5-2 6-2 6-1 6-1 6-1 6 0 6 0 6 0 7 0 6 1 0 0M333 756l1-6 1-7 1-6 1-6 1-7 0 0M391 628l4-4 6-4 5-4 5-3M547 623l6 4 5 5 3 3M402 853l0-6M494 566l6-1 1 0M469 874l1-6 1-6 0-3M294 587l-1 6-1 2M256 706l-3 7 0 2M517 727l-2-7-1 0M469 580l-1-7M284 544l4 4M294 827l-1 7 0 0M557 677l-4-6-3-5-1-2M470 542l-3-6-3-5M338 615l4 6 3 6 3 5 3 6 2 6 2 6 1 3M368 726l0 6 1 7 0 6-1 7 0 6 0 7 0 3M273 599l6-1M435 811l0 5M525 660l0-1M500 601l-2-5-1-6M270 559l3 6M239 764l-2 6 0 2M545 714l-3-5 0-1M252 646l5-4 0 0M407 815l0 5M233 613l6-2 2-1M350 843l0 5M235 702l3-5 1-1M439 818l0 4M264 836l0-2M499 835l0 6 0 6 0 7 0 1M365 826l0-5M511 639l5 3 1 0M245 697l-3 6 0 2M448 814l0-4M490 595l4-2M183 661l4-4 4-5 4-5 5-5 1-1M361 871l1 6 1 5M424 834l0 5M518 798l0 6 0 6 1 1M505 562l4-4 2-2M405 843l0-3M474 719l0-7-1-4M531 804l-1-6 0-7 0-3M499 549l3-6 2-4M270 542l-1 6-1 6M459 878l3-6 2-6 0-2M534 561l3 0"/>
<path stroke="#80ff00" d="M366 838l0-4M512 613l6 1M511 577l5-2 1 0M266 539l-2 6-3 6-3 6-3 5 0 1M210 642l-3 5-2 6-3 5-3 6-3 5 0 1M434 864l1-7 1-4M277 594l2 5M276 769l-1 7M537 695l-2-6-2-6 0-1M506 599l-2-7-1-5M186 696l3-5 4-5 4-5 1-1M444 859l2 6 1 6 0 0M268 607l2 1M382 822l1 4M247 700l4-6M487 766l1 5M291 821l1-5M541 695l3 4 1 2M393 848l0-1M518 598l6 0 1 0M505 752l-1-6 0-1M489 602l1-7M265 603l-1 6-1 4M243 696l-1 6-2 6M397 831l0-5M496 601l5-1M498 793l0-4M493 576l2-6M265 582l-1 6 0 3M584 749l-1-6-2-6-1-6-2-6-1-6-2-6 0 0M490 523l-2-6-1-6-1-2M222 561l7 1 6 2 4 1M318 862l2 6M221 665l5-4 1-1M447 829l1 5M250 744l3-6M508 747l2 5M312 827l1-5M533 661l5 4 0 0M272 592l0 6M251 737l-1 6-1 2M519 734l-1-7 0-2M495 600l-1-6 0-1M266 612l0 0M245 666l5-4M462 794l1 4M327 701l4-5 4-6 4-4 4-5 5-5 5-4 4-4 5-4 6-4 5-3 5-3 6-3 5-2 6-2 6-2 6-2 6-1 5-1M357 816l0-3M493 618l5 0M504 751l-1-7 0-1M489 604l0-7M283 600l3 5M313 790l0 6M180 681l3-4M509 726l3 6M262 741l3-5 0-1M269 538l-1 6 0 6M214 742l-1 6-1 7-1 4M488 818l1-6 0-2M498 568l3-5M211 595l6-1 6-1 2 0M365 867l2 6 2 6M575 632l-4-5M490 519l-3-5-3-4M243 641l6-3M435 817l1 5M280 769l1-5M511 688l4 4M561 685l-3-5-3-6-2-3M466 536l-3-6-3-6M242 565l6 0 6 0M363 861l0 6 0 3M565 605l-4-5-5-4-5-4-3-3M456 512l-5-4-5-5-5-4-4-4-5-4-5-4-1-2M267 645l5-4 3-3M490 731l2 6 1 2M268 761l1-6M512 658l5 5 1 1M331 838l0-5M516 605l6 3 2 1M402 848l0-5M489 567l6-1M302 527l-3 6-3 6M212 671l-3 5-3 5-2 4M468 797l-1-5M460 572l2-3M295 581l-1 6 0 1M253 714l-2 6-1 2M523 745l-2-6 0-1M467 563l-1-6M282 542l5 4 0 1M294 829l-1 7 0 1M305 522l-3 6-3 6M209 676l-3 6-3 5-3 4M471 825l0-6M474 549l1-1M317 627h0M301 775l-1 6M300 578l4 3M229 616l6-3 3-2M434 840l0 6M265 786l0-6M533 685l3 6 1 2M332 856l0-7-1-1M538 617l6 4 5 3M400 811l0-5M452 586l5-3M338 724l2-7 2-6 2-6 2-6 2-7 2-6 3-5 3-6 2-6 4-5 3-6 3-5 4-5 4-5 4-4 4-5 4-4 3-2M537 616l5 4 5 3M402 847l0-5M488 568l6-2M315 495l-2 6 0 2M189 715l-3 5 0 1M471 859l1-6 0-6 0-1M488 535l1 0M292 595l0 0M259 696l-2 6-1 4M514 720l-2-7 0-1M470 587l-1-7 0 0M288 548l4 4M294 821l0 6M549 664l-4-6-3-5-1-2M476 552l-3-5-3-5M356 653l2 6 2 6 1 6 1 6 2 7 1 6 1 6 0 7 1 6 1 7 0 6 0 4M279 598l7-1M435 806l0 5M525 659l-3-6-1-2M516 641l-2-5-1-2M509 625l-2-5-2-6-2-6-3-6 0-1M273 565l2 5M241 756l-2 6 0 2M190 625l5-4 5-3 5-3 2-2M337 869l1 6M257 642h0M407 811l0 4M241 610l6-1 0 0M350 838l0 5M239 696l3-6 1-1M439 813l0 5M264 834l0-7 0-6 0 0M498 822l0 6 1 6 0 1M365 821l0-4M505 636l6 3 0 0M249 686l-3 6-1 5M448 810l-1-5M486 596l4-1M201 641l5-4 4-4 4-2M360 861l0 6 1 4M424 829l0 5M517 788l0 7 1 3M500 567l5-5M530 788l-1-6 0-3M496 556l2-6 1-1M268 554l-2 7-1 5M464 864l2-6 1-6 1-4M521 565l6-2 6-1 1-1"/>
<path stroke="#40ff00" d="M366 834l1-5M507 613l5 0M505 580l6-3M255 563l-3 5-3 6-3 5-4 6-3 5-3 6-3 6-4 5-3 6-3 6-3 5-3 5-3 6-3 5-1 2M436 853l1-6 1-1M279 599l1 5M276 763l0 6 0 0M533 682l-2-6-2-6-1-1M510 614l-2-6 0 0M198 680l4-5 4-4 1-2M443 850l1 6 0 3M270 608l5 1M382 818l0 4M251 694l4-5 0 0M485 760l2 6M292 816l1-6M536 689l4 5 1 1M393 847l1-6M513 599l5-1M504 745l-1-6 0-2M489 608l0-6 0 0M263 613l-1 7-1 6-1 2M247 680l-1 6-2 7-1 3M397 826l1-4M492 602l4-1M498 789l0-6 0-1M491 581l2-5M264 591l-2 6-1 4M235 694l-2 7 0 0M575 713l-2-6-2-6-2-5-3-6-1-4M497 543l-2-5 0-1M492 530l-2-6 0-1M239 565l6 2 3 2M316 851l1 6 1 5M227 660l5-4 0 0M447 824l0 5M253 738l2-5M506 741l2 6M313 822l1-5M528 657l5 4M404 887l2-6M553 586l6 1 6 2 4 1M272 598l0 6 0 2M252 728l-1 7 0 2M518 725l-2-6 0-4M495 608l0-7 0-1M250 662l5-4M461 789l1 5M357 813l1-6M487 618l6 0M503 743l-1-6 0-2M488 611l1-6 0-1M286 605l3 4M313 784l0 6M183 677l4-5 4-4 4-5 3-3M507 721l2 5M265 735l3-5 0-1M268 550l-1 6 0 5M217 728l-1 6-2 7 0 1M489 810l0-7 0 0M495 573l3-5M225 593l7-1 3 0M363 859l1 6 1 2M571 627l-3-6-4-5-3-5-4-5-4-5-3-5-4-5-4-5-3-4-4-5-4-5-4-5-3-5-4-5-5-5-4-5-4-5-3-5-4-5-4-5-4-5-2-3M249 638l5-2M434 813l1 4M281 764l2-5M505 681h0M553 671l-3-5-3-5-2-3M473 547l-3-6-3-5-1 0M254 565l6 0 3 1M363 854l0 6 0 1M548 589l-4-4-5-4-5-5-5-4-5-4-3-3M526 569l-5-4-5-4-5-4-5-4-4-4-5-4-5-4-5-4-5-3-4-4-5-4-5-4-4-4-5-4-3-2M275 638l6-3 5-4 0 0M487 721l2 6 1 4M269 755l1-7M506 652l4 4 2 2M331 833l0-5M509 603l6 2 1 0M402 843l0-5M484 569l5-2M296 539l-3 5-3 5M220 659l-4 5-3 5-1 2M467 792l-1-4M458 577l2-5M294 588l-1 6-1 2M256 706l-2 6-1 2M521 738l-3-6M467 569l0-6M287 547l4 4M294 823l0 6M299 534l-3 5-3 5M217 663l-4 6-3 5-1 2M471 819l-1-6M302 768l-1 6 0 1M304 581l4 2M238 611l5-3 3-1M434 835l0 5M265 780l1-7M528 678l4 6 1 1M331 848l0-6M529 612l6 3 3 2M400 806l-1-6M448 589l4-3M529 611l5 4 3 1M402 842l0-5M483 569l5-1M313 503l-3 6-2 5-2 5M199 694l-3 6-3 5-2 5-2 5M472 846l0-7 0-4M482 541l4-4 2-2M288 613l-1 4M264 683l-2 6-2 6-1 1M512 712l-3-6-1-2M472 595l-1-6-1-2M292 552l3 5M295 815l-1 6M541 651l-3-5-4-5-2-3M484 565l-4-5-3-6-1-2M286 597l6 0M435 801l0 5M513 634l-2-5-2-4M275 570l1 5M243 749l-2 6 0 1M207 613l6-3 6-3 3-1M336 859l0 6 1 4M268 637l2-1M407 806l0 5M247 609l6-1M350 833l0 5M243 689l3-4 1-2M439 808l0 5M264 821l1-7 0-3M498 813l0 6 0 3M365 817l-1-5M499 633l6 3 0 0M254 673l-2 6-3 5 0 2M447 805l0-5M482 599l4-3M214 631l5-4 5-3M359 854l1 7 0 0M581 751l-2-6-2-6-2-6-3-6 0-1M489 523l1-6 1-6 0-1M424 825l0 4M516 780l1 6 0 2M497 571l3-4M406 832l0-3M495 564l1-6 0-2M265 566l-2 6-2 6M220 677l0 0M264 524l2 6 1 3M212 775l0 6M468 848l1-6 0-5M513 569l6-3 2-1"/>
<path stroke="#00ff00" d="M367 829l1-4M502 613l5 0M501 583l4-3M438 846l1-6 0-1M280 604l1 6M277 755l-1 6 0 2M523 653l-2-6-2-6-2-6-1-2M513 623l-2-6-1-3M207 669l5-4 3-3M442 843l1 7 0 0M275 609l5 1M381 813l1 5M255 689l5-5 0 0M483 755l2 5M293 810l1-4M531 683l5 5 0 1M394 841l1-5M507 599l6 0M503 737l-1-6-1-4M489 617l0-7 0-2M260 628l-1 6-1 6-2 6-1 6-2 6-1 4M249 675l-2 5M398 822l0-5M488 604l4-2M498 782l0-6-1 0M490 585l1-4M261 601l-1 7-1 5-1 1M239 681l-2 6-2 6 0 1M565 686l-3-6-2-6-2-5-3-6M499 548l-2-5M248 569l5 3 2 0M314 842l1 6 1 3M232 656l5-4 1 0M446 820l1 4M255 733l3-6M503 736l3 5M314 817l1-5M522 653l6 4M406 881l2-6 2-6 1-2M537 585l6 0 6 1 4 0M272 606l-1 6 0 2M254 719l-1 6-1 3M516 715l-2-6-1-5M496 617l0-6-1-3M255 658l5-3 1-1M460 784l1 5M358 807l1-5M482 619l5-1M502 735l-1-6-1-4M488 619l0-6 0-2M289 609l3 6M313 777l0 6 0 1M431 871l2 6 2 6 0 1M198 660l5-4 5-4 1-1M503 715l3 5 1 1M268 729l3-6 0 0M267 561l-1 6-1 4M221 715l-2 7-2 6M489 803l0-7M493 577l2-4M235 592l6 0 2 0M361 852l1 6 1 1M254 636l6-2M433 808l1 5M283 759l2-7M500 676l5 5 0 0M545 658l-3-5-3-5-2-3M479 558l-3-5-3-6 0 0M263 566l6 1 1 0M363 848l0 6M180 664l4-5 2-3M434 877l0 6 0 2M286 631l6-3 6-3 3-1M482 709l3 6 2 6M270 748l2-6 0-1M499 645l5 5 2 2M331 828l0-5M503 601l5 1 1 1M402 838l0-4M479 571l5-2M290 549l-3 6-3 5-1 1M227 646l-3 5-3 6-1 2M466 788l0-6M457 581l1-4M292 596l-1 6-1 3M260 695l-2 6-2 5M518 732l-2-7 0 0M468 575l-1-6M291 551l3 4M295 817l-1 6M293 544l-3 6-3 5-1 1M224 651l-3 5-3 5-1 2M470 813l0-5M304 760l-2 6 0 2M308 583l4 4M246 607l6-2 1-1M434 829l0 6M266 773l1-5M523 671l4 5 1 2M331 842l0-6M521 607l6 3 2 2M399 800l0-6 0-1M443 594l5-4 0-1M402 837l0-4M478 571l5-2M306 519l-3 6-3 6 0 0M207 679l-3 5-3 6-2 4M472 835l0-6 0-1M477 546l4-4 1-1M287 617l-2 7-2 6-2 6-2 6-2 6-2 7-3 6-2 6-2 7-3 6-1 3M508 704l-2-7-1-4M474 605l-1-6-1-4M295 557l2 3M295 810l0 5M532 638l-3-5-4-5-3-6-2-2M495 582l-4-5-3-6-4-5 0-1M292 597l7 0 1 0M435 795l0 6M276 575l1 5M245 743l-2 6 0 0M222 606l5-2 5-1M335 851l0 6 1 2M530 682l-2-5M270 636l6-2 2-1M407 800l0 6M253 608l6-1M350 829l0 4M247 683l4-5 1-1M439 803l0 5M265 811l0-7 0-1M497 804l1 7 0 2M364 812l0-5M493 631l6 2 0 0M266 638l-2 7-2 5-2 6-2 6-2 6-2 5M447 800l-1-5M478 601l4-2M224 624l5-3 3-1M359 848l0 6M572 726l-2-6-3-6-3-5-1-2M489 537l0-6 0-6 0-2M239 675l2-3M424 820l0 5M515 772l1 6 0 2M494 575l3-4M493 570l2-6M261 578l-2 6-2 6 0 1M227 662l-3 6-2 6-2 3M267 533l1 6 1 6M216 757l-2 6-1 7-1 5M469 837l1-6 0-2M507 572l6-3 0 0"/>
<path stroke="#00ff40" d="M368 825l0-5M497 613l5 0M497 585l4-2M439 839l0-6M281 610l1 6 0 1M278 747l-1 6 0 2M215 662l5-4M441 838l1 5M280 610l4 2M381 808l0 5M260 684l5-5 1-1M481 749l2 6M294 806l0-5M527 679l4 4M395 836l0-4M503 600l4-1M501 727l-1-6 0-5M489 626l0-6 0-3M398 817l1-4M484 606l4-2M497 776l0-6M489 590l1-5M258 614l-1 6-2 6-1 6-2 5M246 657l-2 6-1 6-2 6-2 6M555 663l-3-5-2-5-3-6-1-2M515 583l-3-6-2-5-1-1M255 572l5 4M313 836l1 6 0 0M238 652l5-3M445 815l1 5M258 727l3-5 0 0M501 730l2 6M315 812l0-4M517 650l5 3M411 867l2-6 0-3M526 585l6 0 5 0M271 614l0 6-1 5M256 707l-1 6-1 6M513 704l-1-6-1-6-1-2M498 631l-1-7-1-6 0-1M393 808l1 4M261 654l5-3 1 0M459 778l1 6M359 802l0-5M475 620l6-1 1 0M500 725l-1-6-1-6M488 630l0-6 0-5M292 615l3 5 0 2M313 769l0 6 0 2M429 861l1 6 1 4M209 651l5-4 3-2M499 709l4 5 0 1M271 723l3-6 1-1M265 571l-1 6-1 4M224 703l-2 7-1 5M489 796h0M491 582l2-5M243 592l6 1 0 0M360 846l1 6M260 634l5-2M433 804l0 4M285 752l3-6 0-1M493 670l5 4 2 2M537 645l-4-5-3-5-3-5M488 572l-4-6-3-5-2-3M270 567l6 1 0 0M363 843l0 5M186 656l4-5 4-5 4-4 5-5 1-2M433 864l0 6 1 7 0 0M301 624l5-3 6-2 6-2 5-1M474 691l3 6 2 6 3 6M272 741l2-6 0-2M491 639l5 4 3 2M331 823l0-4M496 599l6 2 1 0M402 834l-1-4M475 573l4-2M283 561l-3 5-3 6-2 2M238 631l-4 5-3 5-4 5M466 782l-1-5M455 586l2-5M290 605l-2 6-1 6-1 2M265 680l-2 7-2 6-1 2M516 725l-2-6 0-1M469 581l-1-6M294 555l2 4M295 812l0 5M286 556l-3 5-3 6-1 1M233 638l-3 5-4 5-2 3M470 808l-1-5M306 749l-2 6 0 5M312 587l5 3M365 815l0 4M253 604l6-2 1 0M435 825l-1 4M267 768l1-7M518 665l4 5 1 1M331 836l0-5M513 604l6 3 2 0M399 793l-1-6 0-1M437 600l5-4 1-2M402 833l-1-4M474 573l4-2M300 531l-3 6-3 5M215 666l-3 6-4 5-1 2M472 828l-1-6M473 550l4-4M505 693l-3-6-2-6-1-3M478 618l-2-6-1-6-1-1M297 560l3 4M296 805l-1 5M520 620l-3-5-4-5-3-5-4-5-3-5-4-6-3-5-1-2M300 597l6 0 1 0M435 789l0 6M277 580l0 2M247 736l-2 6 0 1M232 603l6-2 2 0M335 844l0 7 0 0M528 677l-3-6-2-4M278 633l6-2 2 0M407 794l0 6M259 607l5 0M350 824l0 5M252 677l4-4 1-1M439 798l0 5M265 803l1-6 0-2M497 797l0 6 0 1M364 807l0-5M485 629l6 2 2 0M446 795l0-5M474 604l4-3M232 620l5-2 2-1M359 843l0 5M563 707l-2-6-3-6-2-3M491 549l-1-6-1-6M241 672l5-5 1-1M424 816l0 4M514 765l1 7 0 0M492 579l2-4M525 756l-1-6 0 0M493 576l0-6M257 591l-2 6-2 5-3 6-2 5M228 660l-1 2M269 545l0 6 0 4M219 743l-2 7-1 6 0 1M470 829l0-6 0-1M502 575l5-3"/>
<path stroke="#00ff80" d="M368 820l1-4M493 613l4 0M494 588l3-3M439 833l1-6M282 617l1 6 0 3M279 737l-1 6 0 4M440 832l1 6M284 612l6 2M380 803l1 5M266 678l5-4 2-2M477 741l3 6 1 2M294 801l1-5M523 675l4 4M395 832l1-4M498 601l5-1M500 716l-1-6-1-6-1-4M490 642l-1-7 0-6 0-3M399 813l0-5M479 608l5-2M497 770l-1-7 0 0M487 596l2-6M252 637l-2 6-1 6-2 6-1 2M541 635l-3-6-3-6-3-6-3-6-3-6-3-6-3-5-2-6-3-5M260 576l4 3M312 829l1 7M243 649l5-3M444 811l1 4M261 722l3-6 1-1M497 724l3 5 1 1M315 808l1-5M512 647l5 3M413 858l2-6 0-1M519 586l6-1 1 0M270 625l0 6-1 7-1 2M260 691l-2 6-1 6-1 4M510 690l-1-6-2-7-1-6-1-6-2-6-1-6-1-6-1-6-1-6-1-4M393 803l0 5M287 616l5 1 1 1M267 651l6-3 1 0M457 772l2 6M359 797l1-7 0-1M467 622l6-2 2 0M498 713l-1-6-1-6-1-7M490 648l-1-6 0-7-1-5M295 622l3 6 1 3M313 757l0 6 0 6M427 853l1 6 1 2M217 645l6-4 2-1M494 702l4 5 1 2M275 716l4-6 2-3M263 581l-2 6-1 5M228 691l-2 6-2 6M489 587l2-5M249 593l6 1M359 841l1 5M265 632l6-1 0 0M432 799l1 5M288 745l3-6 1-2M484 664l5 4 4 2M527 630l-3-5-4-5-3-5-4-5-3-5-3-5-4-5-3-6-4-5-4-6-3-5-1-1M276 568l5 2M363 839l0 4M204 635l5-4 5-5 3-2M434 854l-1 7 0 3M323 616l6-1 6-1 6-1 6 0 6 0 6 0 6 0 6 1 1 0M447 655l4 4 4 5 4 5 4 6 4 5 3 5 4 6M274 733l2-6 1-3M480 632l6 3 5 4M331 819l-1-5M490 598l6 1M401 830l0-5M470 575l5-2M275 574l-4 6-3 5-4 6-4 6-3 5-3 5-4 5-3 5-3 5-4 5-2 4M465 777l-2-7M453 591l2-5M286 619l-2 6-2 7-2 6-2 6-2 6-2 7-2 6-3 6-2 6-2 5M514 718l-3-6 0-3M471 588l-2-6 0-1M296 559l3 4M296 807l-1 5M279 568l-4 5-3 6-4 5-1 2M246 618l-4 5-3 6-3 5-3 4M469 803l-1-4M462 568h0M316 621l1 7 0 2M309 731l-1 7-2 6 0 5M317 590l4 4 1 1M365 810l0 5M260 602l6-2 0 0M435 820l0 5M268 761l1-5M512 658l5 5 1 2M331 831l0-5M506 602l6 2 1 0M398 786l0-7-1-5M430 609l4-5 3-4M401 829l0-5M469 575l5-2M294 542l-3 6-3 5M222 654l-3 5-3 6-1 1M471 822l-1-6M470 555l3-5M499 678l-2-6-3-6-2-6-2-7-2-6-3-6-2-6-2-7-2-6-1-4M300 564l2 4M297 800l-1 5M307 597l7 1 2 1M434 782l1 6 0 1M249 730l-2 5 0 1M240 601l6-1 1 0M335 839l0 5M286 631l6-1 4-1M407 785l0 7 0 2M264 607l5 0M350 820l0 4M257 672l4-5 2-1M439 793l0 5M266 795l0-6 0 0M496 791l1 6 0 0M364 802l0-7M477 627l6 2 2 0M446 790l-1-6M470 608l4-4M239 617l6-2 0 0M359 838l0 5M556 692l-3-6-3-6 0-1M493 559l-2-6 0-4M247 666l4-4 1-1M424 811l0 5M512 759l1 6 1 0M489 584l3-5M524 750l-2-7 0-1M492 582l1-6M248 613l-2 6-2 5-2 5M269 555l0 6 0 2M222 732l-2 6-1 5M470 822l0-6M498 579l4-4"/>
<path stroke="#00ffbf" d="M369 816l0-5M487 614l6-1M441 816l0 0M490 591l4-3M440 827l0-4M283 626l1 6 0 7M280 723l-1 6 0 6 0 2M439 828l1 4M290 614l5 2 1 0M379 796l1 7M273 672l5-4 4-3M474 732l2 6 1 3M295 796l1-4M518 670l5 5M396 828l0-4M494 602l4-1M497 700l-1-6-1-6-1-6-1-6 0-7-1-6-1-6-1-6 0-6 0-3M399 808l1-6M474 611l5-3M496 763l0-6 0-1M486 602l1-6M264 579l3 3M312 824l0 5M248 646l6-3M444 806l0 5M265 715l3-5 1-1M493 717l4 6 0 1M316 803l1-4M506 645l6 2M415 851l1-6M513 587l6-1M268 640l0 6-1 6-1 6-1 6-1 6-2 7-1 6-1 6 0 2M392 797l1 6M293 618l6 2 1 0M274 648l6-3 3-1M455 765l2 6 0 1M360 789l1-6 1-3M458 625l6-2 3-1M495 694l0-6-1-6-1-6-1-7-1-6-1-6 0-6 0-3M299 631l2 6 2 6 1 5M313 738l0 6 0 6 0 6 0 1M426 847l1 6M225 640l5-3M488 694l4 5 2 3M281 707l4-6 4-5 1-1M260 592l-2 6-1 6 0 0M233 677l-2 6-2 6-1 2M487 591l2-4M255 594l5 1M359 836l0 5M271 631l7-1M431 794l1 5M292 737l2-6 3-5M472 656l5 3 5 4 2 1M281 570l5 2M364 834l-1 5M217 624l5-4 6-3M434 847l0 6 0 1M372 614l6 2 6 1 6 2 6 2 6 2 5 3 6 3 5 3 5 3 6 4 4 3 5 5 5 4 4 4M277 724l2-7 2-4M467 624l5 3 6 3 2 2M330 814l0-5M483 597l7 1M401 825l0-4M466 577l4-2M463 770l-1-6 0-1M452 598l1-6 0-1M511 709l-3-6-1-2M472 597l-1-6 0-3M299 563l2 4M297 802l-1 5M267 586l-4 6-3 6-4 5-3 5-3 5-4 5 0 0M468 799l0-5M461 571l1-3M317 630l0 6 1 6 0 6-1 7 0 6 0 7-1 6 0 6-1 7-1 6 0 7-1 7-1 6-1 7-1 6-1 5M322 595l4 4 1 2M366 805l-1 5M266 600l6-1 1 0M435 815l0 5M269 756l1-7 0-1M506 652l5 4 1 2M331 826l0-4M500 600l6 2 0 0M397 774l0-7 0-6 0-7 0-2M419 628l3-6 3-6 4-5 1-2M401 824l0-4M465 577l4-2M288 553l-3 6-4 5 0 1M231 641l-3 5-4 5-2 3M470 816l0-6M468 558l2-3M302 568l2 4M297 795l0 5M316 599l7 1 4 1M434 773l0 6 0 3M251 723l-2 6 0 1M247 600l6-1M335 834l0 5M296 629l6 0 7 0 1 0M407 774l0 7 0 4M269 607l5 0M351 816l-1 4M263 666l4-4 3-3M438 786l1 7M266 789l1-6M496 785l0 6M364 795l0-6 0-2M468 627l6 0 3 0M445 784l-1-6 0-1M465 613l5-5M245 615l6-2M359 834l0 4M550 679l-3-5-3-6-1-1M496 570l-2-6-1-5M252 661l5-4 1-1M424 807l0 4M511 752l1 6 0 1M487 588l2-4M522 742l-2-7 0-1M492 588l0-6M269 563l0 6-1 3M225 721l-2 6-1 5M470 816l0-6M495 582l3-3"/>
<path stroke="#00ffff" d="M369 811l1-4M482 615l5-1M441 816l0-5M487 594l3-3M440 823l1-5M284 639l1 6 0 7 0 6 0 5M283 697l-1 6-1 6 0 6-1 7 0 1M438 823l1 5M296 616l5 3 2 1M379 789l0 6 0 1M282 665l5-3 5-3 4-2M473 732l1 0M296 792l1-5M513 666l5 4M396 824l1-5M490 604l4-2M400 802l0-6M469 614l5-3M496 756l-1-6 0-1M486 607l0-5M267 582l4 3M311 818l1 6M254 643l5-2M443 802l1 4M269 709l4-6 1-2M489 710l3 5 1 2M317 799l1-5M501 642l5 3M416 845l1-5M507 589l6-2M391 789l1 7 0 1M300 620l6 3 3 2M283 644l6-2 5-1M452 755l2 6 1 4M362 780l1-6 1-7 0-1M444 631l6-3 6-3 2 0M304 648l2 6 1 7 1 6 1 6 1 7 0 6 1 6 0 6 1 6 0 6 0 6 1 6 0 7 0 6 0 3M226 639l2-1M425 841l1 6M479 684l4 5 4 5 1 0M290 695l5-5 4-5 5-4 4-4M257 604l-2 6-2 6-2 6-1 2M240 655l-2 6-2 6-2 7-1 3M486 596l1-5M260 595l4 1M358 832l1 4M278 630l6-1 1 0M430 787l1 7M297 726l3-6 3-6 4-6 1-2M449 647l6 2 6 2 5 3 6 2M286 572l4 1M364 830l0 4M228 617l5-3 4-3M434 841l0 6M281 713l3-6 3-6 1-4M447 617l6 2 6 2 6 3 2 0M330 809l0-5M476 596l7 1M401 821l-1-4M462 579l4-2M462 763l-1-7-1-2M450 606l1-6 1-2M507 701l-2-6-2-5M475 608l-1-6-2-5M301 567l2 3M297 797l0 5M468 794l-1-5M459 576l2-5M327 601l4 5 4 4M366 799l0 6M273 599l7-1M435 811l0 4M270 748l2-6 0-1M499 646l5 4 2 2M331 822l0-5M493 598l6 2 1 0M397 752l0-6 0-7 0-6 0-7 0-6 1-7 0-6 1-7 1-6 0-7 2-6 1-6 1-6 2-7 2-6 1-5 3-6 2-6 2-6 3-5M493 598l1 1M401 820l-1-4M461 580l4-3M281 565l-4 6-3 5-4 5M242 624l-3 5-4 5-3 5-1 2M470 810l-1-5M465 562l3-4M304 572l1 4M298 791l-1 4M327 601l6 2 6 3 2 0M433 759l0 7 1 6 0 1M254 715l-2 6-1 2M253 599l6 0M335 829l0 5M310 629l6 1 6 1 6 2 3 1M405 755l1 6 0 6 1 6 0 1M274 607l5 1M351 811l0 5M270 659l5-3 3-3M438 779l0 6 0 1M267 783l1-6M495 779l1 6M364 787l0-6 0-4M455 627l7 0 6 0M444 777l-1-6 0-3M460 619l4-5 1-1M251 613l6-1M359 829l0 5M543 667l-3-6-3-5-1-2M500 582l-2-6-2-6M258 656l5-4 1 0M424 801l0 6M509 746l2 6 0 0M486 592l1-4M520 734l-1-6-1-2M492 595l0-6 0-1M268 572l0 6-1 1M228 712l-2 6-1 3M470 810l0-5M492 585l3-3"/>
<path stroke="#00bfff" d="M370 807l0-6M476 616l6-1M441 811l0-4M484 597l3-3M441 818l0-5M285 663l-1 7 0 6 0 6-1 6 0 6 0 3M241 644l4-2M438 819l0 4M303 620l5 4 4 3M377 778l1 7 1 4M296 657l5-3 6-2 6-2 6-2 3-1M452 697l4 6 4 5M297 787l2-6M507 662l5 4 1 0M397 819l0-4M485 606l5-2M400 796l1-6 0-2M463 619l5-4 1-1M495 749l-1-7 0-2M485 615l0-6 1-2M271 585l3 3M311 813l0 5M259 641l6-2 0-1M442 797l1 5M274 701l4-5 4-4M482 700l4 6 3 4M318 794l1-6M494 640l6 2 1 0M417 840l0-5M503 591l4-2M390 779l0 7 1 3M309 625l6 3 5 4 3 2M294 641l6-1 6-1 5-1M447 741l2 6 2 6 1 2M364 766l1-6 2-6 1-5 2-6 1-6 2-6 2-6 0 0M411 658l4-5 5-4 4-4 5-4 5-4 6-4 4-2M228 638l6-3 0 0M424 836l1 5M462 670l5 4 5 4 5 4 2 2M321 667l5-4 6-3 5-3 6-2 6-3 5-1 6-2 6-2 6-1 3 0M406 646l6 1 6 2 6 1 6 2 6 3 5 2M250 624l0 3M245 640l-2 6-2 6-1 3M484 601l2-5M264 596l5 2M358 827l0 5M285 629l7 0 2 0M428 780l2 6 0 1M308 706l4-5 4-5 4-5 4-5 5-5 4-4 5-4 5-4 5-4 6-3 5-4 5-3 6-2 6-3 6-2 6-1 5-2 7-1 6-1 6 0 6 0 6 0 6 1 6 0 6 2 6 1 1 0M290 573l5 2M364 825l0 5M237 611l5-2 2-1M434 835l0 6M288 697l3-6 4-6 3-5 4-5 4-6 0-1M409 613l6 0 6 0 6 0 6 1 6 1 6 2 2 0M330 804l0-5M470 596l6 0M400 817l0-5M458 582l4-3M460 754l-1-7-1-6M448 618l1-6 1-6M503 690l-2-6-2-7-2-4M480 624l-2-6-2-6-1-4M303 570l2 4M298 792l-1 5M467 789l-1-5M457 580l2-4M335 610l3 6 4 5 3 6 2 4M369 750l-1 7 0 0M367 792l-1 7 0 0M280 598l6-1M435 806l0 5M272 741l2-6 0-1M491 639l5 4 3 3M331 817l0-5M487 597l6 1M486 597l7 1M400 816l0-5M457 582l4-2M270 581l-3 6-4 5-3 5-3 5-4 5-3 6-4 5-3 5-1 1M469 805l-1-5M463 566l2-4M305 576l2 4M299 786l-1 5M341 606l6 3 6 3 5 4 6 3 2 2M429 733l1 6 1 7 1 6 1 6 0 1M279 604l0 6 0 2M257 706l-2 6-1 3M259 599l5 1M335 824l0 5M331 634l6 2 6 3 5 3 6 4 5 3 4 4 4 5 5 4 3 5 4 5 4 6 3 5 2 6 3 5 2 6 2 6 2 6 2 6 1 6 2 6 1 7 1 6 1 6 0 6M279 608l5 1M351 806l0 5M278 653l5-3 6-3 1 0M437 769l1 6 0 4M268 777l1-6M494 773l1 6M364 777l0-7 1-6 0-5M436 632l6-2 6-1 6-2 1 0M443 768l-1-6-1-6 0-1M454 629l3-6 3-4M257 612l5 0M359 825l0 4M536 654l-3-5-3-6-3-5M507 598l-3-6-2-6-2-4M264 652l5-4 2-1M424 796l0 5M507 739l2 6 0 1M484 597l2-5M518 726l-1-6-1-2M492 602l0-7 0 0M267 579l0 6-1 3M231 702l-2 6-1 4M470 805l0-5M489 588l3-3"/>
<path stroke="#0080ff" d="M370 801l1-6M469 618l6-1 1-1M441 807l1-6M481 600l3-3M441 813l0-1M245 642l5-3M437 814l1 5M312 627l5 4 4 4 5 4M375 758l1 6 0 6 1 7 0 1M322 647l6-2 6-1 6 0 7-1 6 0 6 1 6 0 6 1 6 1 6 2 6 2 5 2 6 3 6 2 5 3 6 4 5 3 5 4 5 4 4 5 5 4 4 5 5 5 2 3M299 781l1-5M502 658l5 4 0 0M397 815l1-6M480 608l5-2M401 788l0-6 1-4M456 625l4-4 3-2M494 740l-1-6 0-4M484 623l1-6 0-2M274 588l3 3M311 808l0 5M265 638l6-1 0-1M441 791l1 6M282 692l4-5 4-4 3-3M471 687l4 5 4 5 3 3M319 788l1-5M487 637l6 2 1 1M417 835l1-5M498 592l5-1M387 762l1 6 1 7 1 4M323 634l5 4 5 4 4 5 4 5 4 4 4 5 4 5 3 6 3 5 3 6 3 5 3 6 2 6 3 7 2 5 1 6 2 6 2 6 1 5M311 638l6 0 6 0 6 0 6 1 6 1 6 1 4 1M431 707l3 6 3 6 3 5 3 6 2 5 2 6M375 725l2-6 2-6 2-5 3-6 2-6 3-6 3-6 4-5 3-6 4-5 4-5 3-5 1 0M234 635l6-3M424 832l0 4M437 655l5 3 6 3 5 3 6 3 3 3M487 764l0-6M483 607l1-6M269 598l4 2M357 823l1 4M294 629l7 0 5 1M426 770l2 6 0 4M295 575l4 3M364 821l0 4M244 608l6-3 2 0M434 830l0 5M306 668l4-5 5-5 4-4 5-5 4-4 5-4 5-4 5-3 6-3 5-3 5-3 6-3 6-2 6-2 5-2 6-1 6-1 6-1 6 0 3 0M330 799l0-6M463 596l6 0 1 0M400 812l0-5M454 585l4-3M458 741l-1-7-1-6-1-7-2-6 0-1M447 635l1-6 0-6 0-5M497 673l-2-6-3-6-2-7-2-6-2-6-2-6-2-7-2-5M305 574l1 4M299 788l-1 4M466 784l-1-6M455 585l2-5M347 631l3 6 2 5 2 6 2 6 2 6 2 6 1 6 2 6 1 7 1 6 1 6 1 7 0 6 1 7 0 6 0 7 1 6 0 7 0 6 0 1M367 784l0 6 0 2M286 597l7 0M435 800l0 6M274 734l2-7 1-2M481 632l5 3 5 4M331 812l-1-5M481 597l6 0M480 597l6 0M400 811l0-5M453 586l4-4M468 800l0-4M461 570l2-4M307 580l2 5M300 780l-1 6M366 621l5 5 5 4 4 4 4 4 5 5 3 5 4 5 4 5 3 5 3 6 3 5 3 6 2 6 3 6 2 6 2 6 2 6 2 7 2 6 1 6 1 4M279 612l0 6-1 5M261 694l-2 6-2 6M264 600l4 0M335 820l0 4M284 609l5 2M352 801l-1 5M290 647l6-3 6-2 5-2M435 755l1 6 1 6 0 2M269 771l1-6M493 767l1 6M365 759l1-6 0-6 1-6 1-6 1-6 1-7 2-6 1-6 2-6 2-6 2-6 3-5 3-6 2-5 4-6 3-5 4-5 4-4 5-5 4-4 5-4 5-3 6-4 5-2 4-2M441 755l-1-6 0-6-1-6 0-6 0-1M445 650l2-6 2-5 3-6 2-4M262 612l6-1M360 821l-1 4M527 638l-3-6-3-6-3-5-3-6-3-5-2-5-3-6 0-1M271 647l6-3 2-1M424 789l0 6 0 1M505 733l2 6 0 0M482 602l2-5M516 718l-2-6 0-4M493 610l-1-6 0-2M266 588l-1 6-1 4M235 691l-2 6-2 5M470 800l0-6M486 592l3-4"/>
<path stroke="#0040ff" d="M371 795l1-7 0-1M461 622l6-3 2-1M442 801l0-5M478 604l3-4M250 639l5-2M436 810l1 4M326 639l4 5 4 5 4 5 3 5 3 5 3 6 3 5 3 6 3 6 2 6 2 6 3 6 1 6 2 6 2 6 1 5 1 6 2 6 1 6 1 6 1 6M300 776l2-6M495 654l5 3 2 1M398 809l0-5M476 610l4-2M402 778l0-6 0-1M403 763l0-1M445 637l4-5 5-5 2-2M493 730l-1-6-1-6 0-1M484 635l0-6 0-6M277 591l2 4M311 803l0 5M271 636l6-1 1 0M440 786l1 5M293 680l5-4 5-4 5-4 6-4 5-3 3-2M444 665l5 4 6 3 4 4 5 5 5 4 2 2M320 783l2-7 0 0M479 635l6 2 2 0M418 830l0-5M494 594l4-2M380 730l2 6 1 6 1 6 1 6 2 6 0 2M351 642l6 2 6 2 5 3 6 2 5 3 6 4 5 3 5 4 4 4 5 4 5 5 4 5 4 5 4 5 4 5 3 5 3 4M240 632l6-2M423 827l1 5M487 758l-1-6 0-2M482 614l1-7 0 0M273 600l3 2M357 819l0 4M306 630l6 1 6 1 5 1M422 754l2 5 1 7 1 4M299 578l4 2M365 817l-1 4M252 605l6-2 1-1M434 826l0 4M330 793l1-6M454 597l7 0 2-1M400 807l-1-5M449 589l5-4M453 714l-1-6-1-7 0-6-1-7-1-6-1-7 0-1M306 578l2 5M300 782l-1 6M465 778l-1-6M454 590l1-5M368 771l-1 7 0 6M293 597l6 0 1 0M435 795l0 5M277 725l2-7 2-5M468 625l5 3 6 3 2 1M330 807l0-5M474 596l6 1 1 0M473 596l7 1M400 806l-1-6M449 589l4-3M468 796l-1-5M459 574l2-4M309 585l1 5M301 774l-1 6M278 623l-1 6-1 6-1 5M266 676l-2 6-1 6-2 6 0 0M268 600l5 1M336 815l-1 5M289 611l6 2M352 795l0 6M307 640l6-1 6-1 6-1 6 0 6 1 6 0M429 726l1 6 2 7 1 6 1 5 1 5M270 765l1-6M492 761l1 6M439 730l-1-6 0-6 0-7 0-6 0-5M439 682l1-6 0-6 2-6 1-6 2-6 0-2M268 611l5 0M360 816l0 5M279 643l6-3 5-1M424 781l0 6 0 2M503 726l2 6 0 1M481 608l1-6M514 708l-2-6-1-5M494 620l-1-6 0-4M264 598l-1 6-1 5M239 679l-2 6-2 6M470 794l-1-5M484 595l2-3"/>
<path stroke="#0000ff" d="M372 787l1-7 1-5M451 627l6-3 4-2M442 796l0-6M475 608l3-4M255 637l6-2M436 806l0 4M302 770l1-6 0-1M487 650l6 3 2 1M398 804l0-5M471 613l5-3M403 762l1-6 1-6 1-6 1-6 1-6 1-6 1-6 1-6 2-6 1-6 2-6 2-6 2-6 2-6 3-6 2-6 3-6 3-5 3-5 3-5 4-6 2-2M491 717l-1-6-1-6 0-6-1-5M485 657l-1-6 0-6 0-7 0-3M279 595l3 4M310 797l1 6M278 635l6-1 3-1M438 779l2 6 0 1M322 659l6-2 6-3 6-2 6-2 6-2 6-1 6-1 6 0 6-1 6 0 6 1 6 0 4 1M410 649l6 2 5 2 6 3 6 2 5 3 6 4 0 0M322 776l1-6 1-3M468 634l7 1 4 0M418 825l1-4M491 597l3-3M246 630l5-1M422 823l1 4M486 750l-1-6 0-2M481 622l1-6 0-2M276 602l5 2M356 814l1 5M323 633l7 2 6 3 5 2 6 4 5 3 5 3 5 4 5 4 5 4 4 4 4 5 4 5 4 5 4 5 4 6 3 5 3 6 3 6 3 6 2 5 3 6 2 5 2 6 2 6 2 5 1 6M303 580l4 3M365 812l0 5M259 602l6-2 0 0M435 821l-1 5M331 787l0-6 0-2M445 599l6-1 3-1M399 802l0-6M445 593l4-4M308 583l2 5M301 776l-1 6M464 772l-1-6-1-1M452 596l2-6 0 0M368 751l0 7 0 6 0 7 0 0M300 597l6 0 2 0M435 789l0 6M281 713l3-6 2-6 2-3M449 618l5 1 6 3 6 2 2 1M330 802l0-5M467 596l7 0M466 596l7 0 0 0M399 800l0-6M444 594l4-4 1-1M467 791l-1-5M458 578l1-4M310 590l2 6 0 0M302 767l-1 6 0 1M275 640l-1 6-1 6-2 7-1 5-2 6-2 6M273 601l5 2M336 811l0 4M295 613l5 3 2 1M353 788l-1 6 0 1M343 638l6 1 6 2 6 2 5 2 6 3 5 3 5 4 5 3 5 5 4 4 4 5 4 5 4 5 3 5 4 5 2 6 3 5 3 6 2 6 2 6 2 5M271 759l1-6M491 755l1 6M273 611l5 0M360 812l0 4M290 639l6-2 6-2 2 0M423 769l0 6 1 6M500 719l2 6 1 1M480 615l1-6 0-1M511 697l-2-6-2-6-1-4M496 635l-1-6-1-6 0-3M262 609l-2 6-2 6-1 5M246 660l-2 6-3 6-2 6 0 1M469 789l0-6M481 599l3-4"/>
<path stroke="#4000ff" d="M374 775l1-6 1-6 1-6 0-3M434 639l5-4 5-3 5-4 2-1M442 790l0-6 0-1M472 613l3-5M261 635l6-2M435 801l1 5M303 763l2-6 1-2M477 646l6 2 4 2M398 799l1-7 0-1M465 617l5-3 1-1M488 694l-1-6 0-6-1-6 0-7-1-6 0-6M282 599l3 3M310 792l0 5M287 633l6-1 4 0M436 770l2 7 0 2M324 767l2-7 1-5M453 634l7 0 6 0 2 0M419 821l0-5M487 599l4-2M251 629l5-2M422 819l0 4M485 742l0-7-1-5M480 632l0-6 1-4M281 604l4 2M356 809l0 5M307 583l5 3M366 807l-1 5M265 600l6-1 1 0M435 816l0 5M331 779l0-6 1-4M434 602l6-2 5-1M399 796l-1-6 0-2M439 598l4-4 2-1M310 588l2 6M302 770l-1 6M462 765l-1-6 0-3M450 604l2-6 0-2M308 597l6 1 3 1M434 781l1 7 0 1M288 698l3-6 3-6 4-5 3-6 4-4M412 613l6 0 7 0 6 1 6 1 6 1 6 2M330 797l1-6M459 597l7-1 1 0M458 597l7-1 1 0M399 794l-1-6 0-2M438 599l4-4 2-1M466 786l-1-5M456 582l2-4M312 596l2 7 0 1M304 759l-1 6-1 2M278 603l4 1M337 806l-1 5M302 617l5 3 3 2M353 778l0 6 0 4M272 753l2-6 0-1M489 748l2 6 0 1M278 611l6 1M360 807l0 5M304 635l6-1 6 0 6 0 5 0M421 751l1 6 0 6 1 6 0 0M496 711l3 5 1 3M478 623l1-6 1-2M506 681l-1-6-1-3M497 641l-1-6M257 626l-2 6-2 6-2 6-2 6-2 6-1 4M469 783l-1-5M479 603l2-4"/>
<path stroke="#8000ff" d="M377 754l2-6 1-6 1-6 2-6 2-5 1-6 2-6 2-6 3-6 2-6 3-6 3-6 3-5 3-6 3-5 4-5 4-5 3-5 4-4 5-5 4-4M442 783l0-6 0-2M468 619l3-5 1-1M267 633l6-1M434 796l1 5M306 755l2-7 2-5M463 642l6 1 6 2 2 1M399 791l1-6 0-3M458 623l5-4 2-2M285 602l2 5M310 786l0 6M297 632l7 0 6 0 1 1M433 758l2 6 1 6M327 755l2-6 2-6 2-6 2-5 2-4M425 639l6-2 6-1 7-1 6-1 3 0M419 816l1-5M483 601l4-2M256 627l6-1M421 814l1 5M484 730l-1-7 0-6-1-6M479 649l0-6 0-7 1-4M285 606l4 3M356 804l0 5M312 586l4 3M366 802l0 5M272 599l6-1M435 811l0 5M332 769l0-7 1-6 0-2M417 609l6-3 6-2 5-2M398 788l0-6 0-4M433 606l4-5 2-3M312 594l1 6 0 1M303 762l-1 6 0 2M461 756l-1-6-1-6M449 615l1-6 0-5M317 599l6 1 4 1M434 772l0 6 0 3M305 671l4-5 4-5 4-5 4-5 5-4 5-4 5-4 5-4 5-3 5-3 6-3 5-3 6-2 6-2 6-2 6-1 6-2 6 0 6-1 6 0 2 0M331 791l0-6 0-1M451 598l6-1 2 0M450 598l6-1 2 0M398 786l0-7 0-4M431 608l4-5 3-4M465 781l-1-7M454 588l2-6M314 604l1 6 1 5M306 747l-1 6-1 6M282 604l5 2M337 802l0 4M310 622l5 4 4 4 2 2M354 762l0 6 0 6-1 4M274 746l1-6 1-1M487 741l2 5 0 2M284 612l6 2M361 801l-1 6M327 634l6 1 6 2 6 1 6 3 6 3 5 2 5 4 5 3 5 4 4 5 5 4 4 5 4 5 3 5 3 6 3 5 3 6 2 5 2 6 3 6 1 6 2 6 2 7 1 6 1 6 1 5M491 702l3 5 2 4M477 634l1-6 0-5M468 778l0-6 0-1M476 609l3-6"/>
<path stroke="#bf00ff" d="M442 775l0-6 0-5M463 628l3-6 2-3M273 632l6-1 1 0M433 790l1 6M310 743l3-6 2-5 3-6 1-4M438 639l6 0 6 1 6 1 6 1 1 0M400 782l1-7 0-6 0-1M449 632l4-5 5-4 0 0M287 607l3 5M310 779l0 7 0 0M311 633l7 0 6 1 6 2 6 2 2 0M425 733l2 6 2 6 2 6 2 5 0 2M337 728l2-5 3-5 3-6 3-6 3-6 4-5 3-6 4-5 4-5 4-4 5-5 4-4 5-5 5-3 5-4 5-3 5-3 6-3 5-3 6-2 4-1M420 811l0-5M480 604l3-3M262 626l5-1M420 810l1 4M482 711l0-6-1-7 0-6-1-6 0-6-1-6 0-6 0-6 0-7 0-6M289 609l5 3M355 798l1 6M316 589l4 5 1 0M366 795l0 6 0 1M278 598l6-1M435 807l0 4M333 754l1-7 1-6 1-6 1-7 2-6 1-7 1-4M381 637l4-4 5-4 4-4 5-4 6-4 5-4 6-3 1-1M398 778l-1-7 0-6 0-4M423 620l4-5 3-6 3-3M313 601l1 6 1 4M305 751l-1 7-1 4M459 744l-2-7-1-6-1-7 0-1M447 635l1-6 0-6 1-6 0-2M327 601l6 2 6 3 3 1M433 758l0 6 1 7 0 1M331 784l0-7 0-2M441 600l6-2 4 0M439 600l7-1 4-1M398 775l-1-7 0-6 0-7 0 0M420 626l3-6 4-6 3-5 1-1M464 774l-1-6M453 594l1-6M316 615l0 6 1 7 0 5M309 727l-1 7-1 6-1 7M287 606l5 3M338 796l-1 6M321 632l4 4 4 5 4 6 3 5 3 5 2 6 3 6 2 6 1 6 2 6 1 6 1 6 1 6 1 6 0 3M354 724l1 6 0 6 0 6 0 6 0 6-1 6 0 2M276 739l2-6 1-3M485 732l2 6 0 3M290 614l6 1 0 0M361 795l0 6M484 691l4 5 3 6M477 656l0-7 0-6 0-6 0-3M468 771l-1-6 0-1M474 614l2-5"/>
<path stroke="#ff00ff" d="M442 764l0-6 1-6 0-6 0-6 0-7 0-6 1-6 0-6 0-6 1-6 1-6 0-6 1-6 1-7 1-6 2-6 1-7 2-6 2-6 2-5 2-6 2-6 1-2M280 631l6-1 7 0 6 0 7 0 6 1 6 1 6 2 7 2 6 2 6 3 5 3 5 3 5 3 5 4 5 3 5 5 4 4 4 4 5 5 4 5 3 5 4 6 3 5 4 6 3 6 3 6 2 5 3 6 2 5 2 6 2 5 2 6 1 6 2 6 2 6 1 7 2 6 1 6 1 6M319 722l3-5 4-6 3-6 4-5 3-5M341 689l4-5 4-5 5-4 5-5 4-4 5-3 6-4 5-3 5-3 6-3 5-3 6-2 6-2 6-1 6-1 6-1 6-1 6 0 1 0M401 768l1-6 1-6 0-6 1-6 1-6 1-6 1-6 2-6 1-6 1-6 2-5 2-7 2-6 2-6 2-6 3-6 2-6 3-5 3-6 3-5 4-5 3-5 4-5 3-3M290 612l3 6 2 5 3 6 2 7 1 5 2 6 1 6 1 7 2 6 0 6 1 7 1 6 0 6 1 6 0 6 0 6 1 6 0 7 0 6 0 6 0 6 0 6 0 7 0 6 0 6-1 6 0 6 0 2M338 638l6 3 6 2 5 3 5 3 5 3 5 4 5 4 5 4 4 4 5 5 4 5 4 5 4 5 4 5 3 6 3 5 4 6 3 6 2 5 2 6 3 5 0 1M420 806l0-6 1-7 0-6 0-7 1-6 0-6 0-6 1-6 0-6 1-6 0-6 1-6 1-6 0-6 1-6 1-6 1-6 1-6 2-7 1-6 2-6 2-6 2-6 2-6 3-6 2-6 3-5 3-6 4-5 3-5 4-5 4-5 4-4 4-5 5-3M267 625l7-1 6 0 7 0 6 1 6 0 6 2 6 1 7 2 5 3 6 2 6 3 5 4 6 4 5 3 4 4 5 4 4 5 4 5 4 4 4 5 4 6 3 5 3 6 4 5 2 6 3 6 3 6 2 5 2 6 2 6 2 5 1 6 2 6 2 6 1 6 1 6 2 7 1 6 1 6 1 7 1 6 1 6 0 4M294 612l4 4 5 5 4 4 4 5 4 5 3 5 4 6 3 5 3 6 2 5 3 6 2 6 2 6 2 6 2 7 2 6 1 6 1 6 1 6 2 6 1 6 0 6 1 6 1 6 1 6 0 6 1 6 0 6 1 6 0 7 1 6 0 7 0 1M321 594l4 4 4 5 4 5 4 5 3 5 3 6 4 6 2 6 3 5 2 6 2 6 2 6 2 6 1 6 1 6 2 6 1 7 1 6 0 7 1 6 1 7 0 6 0 7 1 6 0 7 0 6-1 7 0 6 0 7 0 6-1 6 0 7 0 6-1 2M284 597l7 0 6 0 7 0 6 1 7 1 6 1 6 2 6 2 6 3 6 2 6 3 6 4 5 4 5 4 5 4 4 4 5 4 4 5 4 4 3 5 4 5 3 6 4 5 3 6 3 5 2 6 3 6 2 6 2 6 2 6 2 7 2 6 1 6 2 7 1 6 1 6 1 7 1 6 0 7 1 6 0 6 0 7 1 6 0 6 0 7 0 4M341 711l2-6 2-6 3-6M359 669l3-6 3-5 4-5 3-5 4-5 4-5 1-1M397 761l0-7 0-6-1-7 1-6 0-7 0-6 0-7 1-6 0-7 1-6 1-7 1-6 1-6 2-7 1-6 2-6 2-6 2-5 2-6 2-6 3-6 3-5 2-4M315 611l1 6 1 7 0 6 0 6 1 6 0 6 0 6-1 7 0 6-1 7 0 6-1 7 0 6-1 7-1 6-1 7-1 6-1 7-1 6-1 7-2 6-1 6M455 723l-1-6-1-7-1-7-1-6-1-7-1-6 0-7-1-6 0-6-1-7 0-6 0-6 0-7 0-4M342 607l6 3 6 3 6 4 5 3 5 4 5 4 4 5 4 4 4 4 4 5 4 5 4 5 3 6 3 5 3 6 3 5 3 6 2 6 3 6 2 6 2 6 2 7 1 6 2 6 1 7 1 6 1 7 1 6 1 5M331 775l1-6 0-6 1-7 1-6 1-7 1-6 1-7 1-6 2-6 1-7 2-6 2-6 3-6 2-6 3-6 2-6 3-5 3-6 4-5 3-5 4-6 4-4 3-5 5-5 4-4 4-4 6-4 5-4 5-4 6-3 6-3 6-3 6-2 6-2 3-1M406 616l6-4 6-3 6-3 5-2 7-2 3-2M397 755l0-7 0-6 0-7 0-6 0-7 0-7 1-6 0-7 1-6 1-6 1-7 1-6 2-6 1-6 2-6 2-6 2-6 2-6 2-5 3-6 2-4M463 768l-1-6-1-7-1-6-2-6-1-7-1-6-1-7-1-6-1-7-1-6-1-7-1-6-1-7 0-6-1-7 0-6-1-7 0-6 0-6 0-7 0-6 1-6 0-6 1-6 1-7 1-6 1-6 1-2M317 633l1 6 0 7 0 6-1 6 0 7 0 6-1 6 0 7-1 6-1 7-1 6-1 7-1 7-1 6-1 4M292 609l5 3 5 4 5 4 4 4 4 5 4 5 3 5 3 6 3 5 3 6 2 6 2 6 1 6 2 6 1 6 1 6 1 6 0 7 1 6 0 6 0 7 0 6 0 6 0 6 0 6-1 6 0 6-1 6 0 6-1 6 0 7-1 6 0 5M279 730l2-5 2-6 2-5 3-6 3-6 4-5 3-6 4-5 4-5 4-4 4-5 5-4 4-4 5-3 6-4 5-3 6-3 5-2 6-2 6-1 6-2 6 0 6 0 6 0 6 0 6 1 6 2 6 1 6 3 6 2 5 3 6 3 5 4 5 4 4 4 5 4 4 5 4 5 4 5 3 5 3 5 4 6 2 6 3 5 2 6 2 5 2 4M296 615l1 1M304 619l5 2 5 4 5 3 5 4 4 5 5 5 3 5 4 5 3 5 3 5 3 6 2 6 2 6 2 6 1 6 2 6 1 6 1 6 1 6 1 7 0 6 0 7 1 6 0 6 0 6 0 6 0 6-1 6 0 6 0 7-1 6 0 4M386 644l6-1 6 0 6 0 6 0 6 1 6 1 6 2 6 2 6 3 5 3 6 3 5 4 5 3 4 4 5 4 4 5 4 5 4 5 2 3M480 694l-1-6-1-6 0-6-1-6 0-6 0-7 0-1M467 764l0-6-1-6-1-6 0-7-1-6 0-6-1-6 0-6 0-7-1-6 0-6 0-6 0-6 0-7 0-6M464 651l1-6 1-6 2-6 1-6 2-6 2-6 1-1"/>
<path stroke="#000" d="M282 508l-4 5-3 6-3 6-4 5-3 5-3 5-4 5-4 5-3 6-4 5-4 5-3 6-4 5-4 5-3 5-4 5-3 5-4 5-3 5-4 6-3 5-3 5-4 5-3 5-3 6-3 5-4 5-3 6-3 5-2 5M566 581l-1-1M548 564l-4-5-5-4-4-4-5-5-5-4-4-4-5-4-4-4-5-4-4-5-5-4-4-4-5-4-4-3M284 499l-5 4-3 2M267 513l-5 4-5 3-5 4-5 4-5 4-5 4-5 4-3 3M405 666l4-5 4-5 4-4 5-4 4-4 5-4 5-4 6-4 5-3 6-3 6-2 6-2 6-2 6-1 6-1 6 0 6 0 7 0 6 0 7 1 6 2 6 2 5 2 6 2 6 3 5 2 6 4 5 3 5 4 5 4 5 4 4 4 1 1M285 499l-5 4-5 4-5 3-5 4-4 4-5 4-5 4-5 4-5 4-5 4-5 4-4 4-1 1M347 878l2-6 1-7 2-6 1-6 1-6 1-6 1-7 1-5 1-7 0-6 1-6 1-6 1-6 1-7 1-6 1-7 1-6 1-7 1-5 1-6 2-6 1-6 2-6 1-6 2-6 2-5 2-6 2-6 3-6 3-6 3-5 3-6 3-6 3-5 4-5 4-5 0-1M495 514l-6-2-6-3-6-2-6-2-6-3-6-2-6-2-6-2-6-2-6-3-6-2-6-2-6-2-5-2M353 483l-6 2-6 2-6 2-6 2-6 3-6 2-5 2-6 2-6 3-6 2-6 2-6 3-6 2-6 2-6 3-6 2M564 603l-5-4-5-4-4-5-5-4-5-4-5-4-4-4-5-5-5-4-5-4-5-4-4-4-5-4-5-4-5-4-5-3-4-4-5-4-5-4-5-4-4-4-5-4-5-4-5-5-5-4-5-4-5-4M433 861l0 7 0 6 1 6 0 4M353 483l-6 2-6 2-5 2-6 2-6 2-6 3-6 2-6 2-6 2-6 3-6 2-6 2-6 3-6 2-1 1M366 478l-6 2-6 2-6 2-6 2-5 3-6 2-6 2-2 1M313 498l-6 2-6 2-6 2-6 3-6 2-6 2-6 3-2 1M337 486l-4 4-5 4-5 4-4 5-5 4-5 4-5 5-6 4-4 4-5 4-4 4-5 3-5 4-1 1M266 547l-5 4-5 4-4 4-5 4-5 4-5 4-5 4-4 4-5 5-5 4-4 4-5 4-5 5-4 4-5 4-4 5-3 3M298 496l-4 5-4 5-4 5-4 5-5 4-4 5-4 4-5 5-4 4-5 4-4 5-5 4-5 5-4 4-5 4-4 4-5 4-4 4-5 4-4 5-5 4-4 4-5 4-2 2M588 644l-4-5-4-5-4-5-4-5-4-4-4-5-4-4-5-5-4-5-4-4-4-5-4-4-4-5-4-4-5-5-4-5-4-5-4-5-5-4-3-5M496 538l-4-5-4-6-3-5-4-5-3-5-3-6-3-5-3-5-1-2"/>
<path class="sp" stroke="#ff0000" d="M261 812h0m1-7h0m1-4h0m275-52h0m6 16h0m7 27h0m-190 73h0m1-4h0m174-242h0m5 2h0m19 9h0m5 3h0m1 0h0m11 9h0m-329-109h0m-6 5h0m256 25h0m-1-8h0m-1-3h0m0-1h0m0-34h0m1-5h0m-255 30h0m5 3h0m5 5h0m2 2h0m11 14h0m10 252h0m1 9h0m0 5h0m1 3h0m278-42h0m0-5h0m-2-26h0m-9-194h0m-2-2h0m-2-1h0m-3-4h0m-6-6h0m-11-11h0m0 0h0m-9-9h0m-9-10h0m-4-3h0m0-1h0m-297 98h0m1 0h0m34-12h0m156 267h0m-172-126h0m276 58h0m7 37h0m55-121h0m-175 163h0m5-16h0m160-267h0m-47 254h0m2-6h0m2-10h0m2-11h0m2-20h0m0-2h0m0-8h0m-12-237h0m10-19h0m2-3h0m7-9h0m-248 22h0m-37 200h0m-2 7h0m0 2h0m-2 24h0m0 10h0m31-260h0m-2 2h0m-3 4h0m-5 6h0m-10 11h0m-3 5h0m-21 24h0m-4 6h0m-3 4h0m-11 13h0m-2 3h0m-2 3h0m0 1h0m192 266h0m5-12h0m1-5h0m1-1h0m137-269h0m28 6h0m9 4h0m-345 149h0m0 3h0m-1 7h0m270 97h0m0 0h0m1-4h0m3-10h0m14-300h0m4-5h0m1 0h0m-244 0h0m0 17h0m-72 133h0m2-3h0m10-12h0m245 182h0m-218-70h0m2-9h0m287 17h0m0 3h0m2 10h0m1 6h0m0 1h0m-219 36h0m260-155h0m12 22h0m-327-195h0m10 19h0m1 2h0m3 9h0m-22 223h0m0 9h0m279 44h0m2-17h0m1-13h0m-1-16h0m0-11h0m-29-221h0m5-18h0m1-4h0m-101 330h0m-218-219h0m1-1h0m10-8h0m17-10h0m18-8h0m240 225h0m1 4h0m2 9h0m1 3h0m1 5h0m-191-37h0m263-114h0m5 10h0m0 0h0m2 4h0m7 15h0m1 4h0m4 10h0m-219 115h0m2-8h0m2-7h0m0-1h0m0-2h0m217-205h0m5 4h0m-309-121h0m1 3h0m3 22h0m-40 208h0m-2 28h0m277 54h0m2-9h0m3-42h0m-12-229h0m2-6h0m7-14h0m-256 25h0m8 5h0m59 265h0m262-123h0m-1-2h0m0-1h0m-2-5h0m-9-26h0m-2-4h0m-5-10h0m-19-39h0m-21-42h0m-2-3h0m-21-46h0m-4-10h0m-6-18h0m41 257h0m3 11h0m7 34h0m0 2h0m-293-13h0m0-1h0m0-1h0m0-1h0m1-3h0m235 66h0m6-21h0m1-5h0m24-284h0m5-5h0m6-5h0m-336 151h0m0-1h0m0 0h0m4-5h0m0 0h0m3-5h0m15-16h0m1-1h0m230 178h0m0 3h0m7 30h0m99-134h0m1 2h0m8 25h0m0 0h0m4 15h0m-292 49h0m1-5h0m0 0h0m-56-94h0m4-12h0m287 87h0m0 19h0m-80-349h0m-37-1h0m-44 1h0m-78 337h0m0-10h0m0-3h0m287-81h0m10 37h0m-28-146h0m19 13h0m14 13h0m8 9h0m-275-128h0m-12 10h0m-38 32h0m-28 25h0m-15 13h0m197 270h0m148-301h0m-80 299h0m2-20h0m0-17h0m3-283h0m-181-32h0m4 23h0m-63 230h0m301 30h0m-2-9h0m-3-15h0m-65-242h0m1-10h0m1-2h0m0-1h0m1-5h0m1-3h0m1-3h0m3-8h0m-162 5h0m-18 7h0m4 26h0m0 1h0m-68 257h0m307 8h0m-1-3h0m0-2h0m-70-258h0m0-3h0m4-25h0m0-2h0m1-3h0m-209 18h0m1 1h0m15 10h0m7 7h0m3 2h0m5 296h0m0 5h0m285-130h0m-14-28h0m-17-29h0m-95-155h0m-1-4h0m-3-9h0m-1-2h0m-84 361h0m110-347h0m-71-26h0m-197 282h0m10-40h0m287 93h0m0 13h0m-90-349h0m-32 0h0m181 285h0m1 10h0m-228-284h0m-114 97h0m182 283h0m0-5h0m102-299h0m18-1h0m37 190h0m2 14h0m2 10h0m-231 81h0m0-4h0m69 24h0m102-314h0m15-1h0m-230-66h0m1 3h0m6 18h0m1 5h0m2 16h0m-66 243h0m-1 6h0m-1 4h0m306 11h0m0-2h0m0-3h0m-4-21h0m-1-4h0m-62-258h0m-209 10h0m4 2h0m4 3h0m314 196h0m-5-12h0m-7-14h0m-121-203h0m-235 73h0m17-5h0m1 0h0m15-1h0m2 0h0m5 0h0m11 1h0m98 295h0m214-245h0m-10-9h0m-22-21h0m-3-2h0m-16-14h0m-5-5h0m-12-10h0m-7-6h0m-16-13h0m-14-11h0m-6-5h0m-9-7h0m-268 139h0m24-24h0m2-3h0m3-1h0m10-8h0m206 229h0m0 11h0m-1 14h0m0 1h0m56-359h0m0 0h0m-76-28h0m-2-2h0m-206 277h0m1-4h0m296 67h0m-149-343h0m-10 0h0m-80 357h0m0-6h0m0-16h0m0-2h0m0-4h0m235-248h0m21-17h0m5-2h0m4-2h0m1 0h0m-38 20h0m0-12h0m0-3h0m1-10h0m-215-3h0m-5 14h0m-12 25h0m-2 3h0m-32 50h0m-4 7h0m-2 2h0m0 0h0m-6 9h0m-1 1h0m-11 16h0m-1 2h0m-9 15h0m-3 5h0m289-168h0m-236 19h0m2 1h0m8 5h0m11 11h0m-72 189h0m0-1h0m0-1h0m5-15h0m5-12h0m1-2h0m7-13h0m4-7h0m194 174h0m178-195h0m-2-3h0m-4-6h0m-2-3h0m-19-26h0m-1 0h0m-10-14h0m-5-6h0m-7-8h0m-5-6h0m-338 46h0m21 130h0m0-1h0m2-11h0m3-10h0m221 97h0m1 3h0m1 28h0m1 4h0m0 2h0m-155-382h0m-13 7h0m-8 4h0m19-1h0m-2 7h0m-17 35h0m-4 7h0m-5 9h0m-14 20h0m-13 17h0m-1 1h0m-9 13h0m-2 3h0m-8 10h0m-19 27h0m-2 3h0m174 212h0m0-1h0m1-7h0m1-6h0m0-2h0m184-185h0m1 1h0m3 5h0m16 29h0m3 7h0m4 9h0m5 19h0m-355 6h0m-4 16h0m-5 18h0m230 86h0m2-18h0m0-11h0m82-250h0m8 1h0m7 2h0m9 3h0m4 2h0m-325-41h0m14 4h0m7 3h0m11 266h0m238-7h0m-1-12h0m0-4h0m8-248h0m-330 106h0m244 192h0m0 7h0m94-40h0m0 7h0m-242-310h0m-3 6h0m-37 66h0m-2 3h0m-51 85h0m212 205h0m3-10h0m96-324h0m-1-6h0m0-1h0m1-18h0m1-5h0m-236 7h0m1 3h0m2 4h0m0 1h0m1 3h0m1 2h0m1 4h0m3 14h0m-41 196h0m246 118h0m1-3h0m1-3h0m4-16h0m0-1h0m1-4h0m-211-305h0"/>
<path class="sp" stroke="#ff4000" d="M579 644h0m-81-81h0m57 230h0m2-210h0m-32-35h0m-134 322h0m-101-43h0m100 36h0m138-265h0m-26-47h0m-228-34h0m-27 32h0m-12 14h0m-21 26h0m313 8h0m-30 228h0m20-287h0m-329 169h0m261 135h0m6 28h0m-192-326h0m-18 269h0m281-3h0m0-26h0m-29-229h0m-96 304h0m0 1h0m69-24h0m-120 23h0m208-219h0m-293-105h0m1 5h0m237 305h0m3-283h0m-2-4h0m-8-19h0m0-1h0m-228-18h0m253 23h0m5-3h0m-338 150h0m256 178h0m132-155h0m-3-5h0m-369 55h0m59 42h0m316-149h0m-284-133h0m-17 14h0m124 336h0m-94-358h0m163 347h0m1-16h0m0-10h0m-174-303h0m235 251h0m0-1h0m0-2h0m-64-267h0m-208 13h0m35-4h0m240 281h0m-69-275h0m1-7h0m116 209h0m-328-166h0m157-82h0m-200 246h0m289 85h0m0 4h0m-121-340h0m178 276h0m2 13h0m-266-245h0m-8 7h0m45 321h0m229-215h0m-54-71h0m21 1h0m4 0h0m4 1h0m-66 305h0m-180-369h0m7 24h0m1 13h0m234 240h0m-2-10h0m33-82h0m-7-11h0m-95-151h0m-98 346h0m85-375h0m-21-7h0m75 323h0m28-273h0m-260 11h0m-7 14h0m214-54h0m-234 22h0m305 191h0m-3-8h0m-343-8h0m16 37h0m221 100h0m-163-311h0m89 323h0m204-150h0m-352 76h0m308-194h0m23 5h0m-307-36h0m268 2h0m-318 93h0m9-10h0m161 231h0m158-48h0m1 16h0m-253-301h0m-24 43h0m-5 7h0m-3 6h0m-49 81h0m309-143h0m-227 20h0m1 6h0m214 261h0m48-10h0"/>
<path class="sp" stroke="#ff8000" d="M539 751h0m-176 103h0m180-233h0m-314-71h0m46-30h0m158 346h0m63-348h0m52 219h0m0-1h0m-359-44h0m370-107h0m-169 284h0m110-42h0m-112 43h0m-134-330h0m247 315h0m8-55h0m-11-240h0m12-21h0m-223-39h0m-48 58h0m-42 53h0m189 269h0m170-277h0m-41-62h0m-248-10h0m0 33h0m-70 129h0m5-7h0m32 110h0m76 46h0m251-152h0m-308-163h0m272 301h0m-326-103h0m85 101h0m269-103h0m7 15h0m-210 121h0m165-326h0m8 63h0m0 0h0m-255-75h0m1 8h0m0 10h0m218 292h0m-292-231h0m290-88h0m-41 357h0m-212-303h0m132 311h0m92-365h0m46 294h0m-170 64h0m-139-258h0m123-120h0m156 362h0m0-3h0m18-317h0m-195-15h0m-65 274h0m306 6h0m-243 34h0m0 11h0m-93-152h0m271 135h0m59-58h0m-64-229h0m-173 307h0m-78-277h0m19-4h0m18-1h0m182 285h0m43-343h0m-64-24h0m-199 240h0m288 112h0m47-117h0m-50-153h0m63 210h0m-271-270h0m2 346h0m160-344h0m-187 59h0m304 43h0m-11-10h0m-4-4h0m-115-102h0m-231 246h0m5-14h0m186-247h0m120 65h0m-29-6h0m-211-14h0m-1 3h0m-4 10h0m-5 13h0m-6 12h0m-10 18h0m-68 106h0m83-128h0m-65 58h0m6 76h0m370-33h0m-52-68h0m-316 33h0m52 204h0m-28-230h0m-5 6h0m134 250h0m215-115h0m-133 126h0m52-298h0m11-8h0m-150 306h0m65-9h0m0 7h0m92-73h0m1 11h0m5-251h0m-243-39h0m-95 169h0m214 197h0m2-7h0m94-323h0m0-1h0m-1-3h0m0-5h0m1-10h0m-231 11h0m213 324h0m0 0h0m1-4h0m4-16h0m48-26h0"/>
<path class="sp" stroke="#ffbf00" d="M261 808h0m1-2h0m283-38h0m28-129h0m6 5h0m-312-106h0m-7 14h0m-1 2h0m-20 37h0m-2 3h0m-3 6h0m-45 86h0m308-130h0m-245-6h0m300 27h0m-43-44h0m-320 93h0m199 232h0m1 6h0m-99-39h0m262-113h0m-168 170h0m161-281h0m20 7h0m-68-45h0m-230-18h0m9-31h0m249 83h0m-33 255h0m23-312h0m-247 8h0m0 12h0m314 178h0m-344-173h0m79 293h0m132-18h0m79-15h0m-217 12h0m-67-40h0m253-245h0m-313 91h0m8 97h0m5-10h0m151 138h0m230-212h0m-317-134h0m5 18h0m1 4h0m237 297h0m4-31h0m-267-243h0m337 151h0m-23-59h0m-17-34h0m-6-11h0m-351 66h0m346 90h0m6 24h0m2 6h0m-287-17h0m-33-45h0m-1 4h0m-2 11h0m272 96h0m36-305h0m-152 333h0m75-13h0m106-112h0m-93-237h0m-220 51h0m312 23h0m-338 149h0m292 89h0m-101 53h0m1-20h0m-92-350h0m-9 20h0m12-29h0m264 216h0m-124-210h0m-3-6h0m-87 358h0m-139-240h0m223-123h0m-184 337h0m34-312h0m265 253h0m-230 82h0m175-292h0m-310 134h0m286-158h0m-190-30h0m-60 270h0m333-86h0m-98-155h0m-222 26h0m187-74h0m-221 137h0m222 228h0m-1 8h0m-217-145h0m1-4h0m285 90h0m-10-272h0m-227 27h0m-34 245h0m106 64h0m72 5h0m153-242h0m-5-6h0m-293 194h0m235 13h0m-269-229h0m-42 59h0m176 207h0m81 5h0m114-278h0m-309-37h0m3 2h0m13 260h0m0 3h0m237-15h0m3-249h0m13 265h0m-12-266h0m-259 15h0m-22 35h0m-35 57h0m211 198h0m94-307h0m-1-9h0m-1-6h0m-267 221h0m-2 12h0m257 62h0m0-2h0m49-29h0m-26-270h0m5-7h0m3 38h0"/>
<path class="sp" stroke="#ffff00" d="M550 788h0m2 8h0m-288-277h0m-29 25h0m-2 2h0m46-36h0m-25 54h0m184 281h0m57-306h0m0-5h0m-220 281h0m238-279h0m-10 305h0m0 2h0m-217 4h0m102 24h0m135-273h0m16 2h0m-262-87h0m-79 95h0m-8 10h0m315 223h0m12-311h0m-239-19h0m-9 11h0m-55 66h0m-25 32h0m31 135h0m277-190h0m86 181h0m-336-178h0m68 279h0m141 26h0m67-75h0m1 3h0m35-113h0m15 24h0m-329 101h0m162 69h0m-123-55h0m254-199h0m-32 202h0m48-173h0m-350-2h0m18-62h0m-30 91h0m276-146h0m-19-42h0m-15 382h0m-230-113h0m298 78h0m0 2h0m55-99h0m2 10h0m-227 96h0m-78-295h0m-62 56h0m210 254h0m0-10h0m112-293h0m-208-45h0m-77 282h0m64 36h0m0 10h0m10-322h0m-107 175h0m-8 17h0m283 144h0m35-337h0m-276 268h0m299-25h0m-1-4h0m-59-246h0m-12-1h0m-8-18h0m-240 74h0m-28 90h0m5-7h0m44-40h0m197-127h0m-214 240h0m5-13h0m284 86h0m0 19h0m0 8h0m0 21h0m-170 22h0m0-20h0m-1-5h0m224-216h0m-242-122h0m-16 13h0m226 43h0m15 2h0m13 158h0m-219 129h0m172-288h0m-198-45h0m-106 172h0m337 124h0m38-105h0m-345-145h0m9-1h0m-26 163h0m153-250h0m147 68h0m4-2h0m11-4h0m-37 10h0m-214-17h0m-79 133h0m-17 28h0m299-179h0m-233 18h0m2 2h0m10 8h0m204 328h0m-243-264h0m116 254h0m73 14h0m100-310h0m-310 68h0m240 212h0m0 1h0m-195-261h0m-33 45h0m154 228h0m0-7h0m214-119h0m-131 131h0m-182-45h0m237 26h0m-286-215h0m2-2h0m141 235h0m0 2h0m220-114h0m-91-213h0m24 17h0m-240-25h0m-35 62h0m-4 5h0m-2 5h0m-51 86h0m219 184h0m3-15h0m1-2h0m91-325h0m-230 11h0m214 316h0m16-292h0m-224-42h0m248 44h0m1-1h0m5-1h0"/>
<path class="sp" stroke="#bfff00" d="M270 533h0m160 343h0m2-7h0m3-12h0m62-296h0m61 163h0m14 32h0m-341-189h0m287-29h0m66 211h0m-7-30h0m-19-48h0m-315-105h0m12 6h0m60 277h0m-125-146h0m265 166h0m110-173h0m-349-50h0m52-92h0m-49 168h0m-8 34h0m0 3h0m-1 10h0m-7-171h0m12-4h0m340 10h0m-59-77h0m-11-16h0m81 183h0m-202 185h0m-169-235h0m239 240h0m-192-317h0m302 1h0m-344 123h0m69-160h0m8 6h0m8 7h0m20-23h0m129 336h0m-171-35h0m293-81h0m19-90h0m6 7h0m-110 210h0m1-37h0m6-286h0m-193-1h0m182-8h0m-235 78h0m238-114h0m-222 34h0m-44 81h0m346 113h0m-347-98h0m-2 11h0m223 208h0m87-293h0m8-5h0m-269 21h0m-15 23h0m-18 28h0m312 159h0m-29-235h0m1-3h0m2-3h0m30 21h0"/>
<path class="sp" stroke="#80ff00" d="M523 573h0m19-3h0m-253 265h0m1-9h0m267-105h0m-359-114h0m298 229h0m66-156h0m-14-30h0m-32-65h0m-267-16h0m68 288h0m2 8h0m113 8h0m-218-132h0m312-201h0m1-1h0m8 38h0m32 118h0m-3-5h0m-100-158h0m-100 349h0m158-315h0m-4-3h0m-15-13h0m-36-30h0m-45-38h0m-206 143h0m186 226h0m97-286h0m-188-59h0m-16 34h0m16-33h0m-15 33h0m-86 134h0m-10 18h0m-2-50h0m65 167h0m297-175h0m22 26h0m-180 192h0m112-288h0m-243-31h0m22 310h0m261-171h0m-317 99h0m-14-154h0m41 218h0m234-18h0m1 21h0m0 3h0m76-108h0m-7-17h0m-49 96h0m-19-245h0m-264 27h0m-3 4h0m-51 86h0m348 131h0m-261-267h0m-1-9h0m191 339h0m2-4h0m7-29h0"/>
<path class="sp" stroke="#40ff00" d="M258 556h0m-10 19h0m-9 16h0m-40 87h0m89 158h0m99 36h0m138-274h0m-235-101h0m-13 16h0m-74 88h0m296-39h0m84 183h0m-25-75h0m-71-158h0m-264 49h0m93 293h0m134-9h0m106-160h0m-369-13h0m81-156h0m0 29h0m243 6h0m-269 41h0m126 286h0m178-287h0m19 101h0m-3-5h0m-317-122h0m8 0h0m110 298h0m187-272h0m-60-52h0m-66-55h0m-93 360h0m71 12h0m-190-186h0m-9 16h0m-1 3h0m326 75h0m-341-46h0m285 130h0m0-13h0m-38 14h0m112-138h0m0 1h0m8-83h0m20 20h0m-55-85h0m-301 97h0m75 181h0m-60-53h0m317-61h0m-285 79h0m233 0h0m0 20h0m1 20h0m0 5h0m-312-196h0m0 0h0m174 215h0m0 1h0m128-348h0m1-11h0m1-1h0m26 275h0m-275-202h0m261-45h0m6-10h0m-238-8h0m0 12h0m-6-8h0m-52 247h0"/>
<path class="sp" stroke="#00ff00" d="M532 571h0m-299 31h0m-23 41h0m228 199h0m-172-316h0m281 121h0m-233 193h0m-105-162h0m318-93h0m20 0h0m-361 88h0m316-112h0m37 22h0m31 118h0m-16-28h0m-191 193h0m-167-222h0m104-112h0m-82 128h0m-22 39h0m280-152h0m100 105h0m-278-117h0m253 133h0m-315 105h0m-41-152h0m69 203h0m1-9h0m234 16h0m0 14h0m0 14h0m-299-217h0m19-15h0m142 242h0m1 8h0m206-161h0m-18-35h0m-295-117h0m275 228h0"/>
<path class="sp" stroke="#00ff40" d="M187 695h0m6-8h0m385 37h0m-5-17h0m-124 130h0m67-250h0m-334 92h0m35 48h0m335-127h0m-59-78h0m72 170h0m-12-21h0m-6-10h0m-85-134h0m45 27h0m-7-6h0m-11-9h0m-15-13h0m-12-9h0m-263 124h0m8-9h0m8 34h0m-3 5h0m348-36h0m-259-105h0m-1 1h0m171 13h0m-1-2h0m-257 68h0m285 213h0m1 28h0m-139 16h0m211-144h0m-8-17h0m-13-27h0m-1-1h0m-58-128h0m0-2h0m-2-9h0m0-16h0m7 34h0m-275 178h0"/>
<path class="sp" stroke="#00ff80" d="M266 539h0m-45 83h0m-6 11h0m222 219h0m-248-160h0m362-37h0m-15-30h0m-23-46h0m-199 262h0m115 22h0m-240-193h0m9-10h0m27-67h0m3-1h0m138 280h0m185-274h0m-1 68h0m-2-3h0m-57-122h0m-159 309h0m140-17h0m14-296h0m-270 72h0m3-2h0m116 250h0m2 12h0m-73-43h0m234-1h0m78-87h0m-83-177h0m24 225h0m0 6h0m-250-258h0m-54 241h0m252 88h0m3-17h0m42-276h0m6-3h0m11-4h0"/>
<path class="sp" stroke="#00ffbf" d="M541 634h0m-15-49h0m-314 63h0m258-105h0m-6-25h0m-236 99h0m206 236h0m0 1h0m-127-337h0m177 22h0m-258 65h0m110 260h0m227-158h0m-2-5h0m-2-4h0m-66-137h0m-1-6h0m-3-25h0m2-19h0m-222 45h0m-48 178h0"/>
<path class="sp" stroke="#00ffff" d="M522 597h0m-207 249h0m101 2h0m-229-194h0m30 8h0m14-59h0m104 243h0m216-165h0m-62-151h0"/>
<path class="sp" stroke="#00bfff" d="M555 663h0m-126 199h0m2 8h0m117-194h0m-59-137h0m-220 17h0"/>
<path class="sp" stroke="#0080ff" d="M523 598h0m-96 256h0"/>
<path class="sp" stroke="#000" d="M279 505h0m-4 4h0m-3 2h0m-13 12h0m-12 11h0m-3 3h0m-15 13h0m-14 13h0m338 7h0m-273-63h0m-1 3h0m149 370h0m0 0h0m68-358h0m1-8h0m58 273h0m-1-208h0m-1 0h0m-2-3h0m0 0h0m-1-1h0m-8-9h0m-42-43h0m-10-9h0m14 335h0m67-95h0m-1-144h0m7 4h0m-288-115h0m-5 5h0m-83 100h0m-6 8h0m-7 9h0m314 230h0m-216-350h0m-2 4h0m-4 5h0m-94 115h0m378-19h0m-73 251h0m1-6h0m27-314h0m64 207h0m-1-2h0m-397-30h0m272 164h0m71-53h0m50-104h0m-395-60h0m371-73h0m15 4h0m-316-63h0m2 3h0m268 305h0m19-278h0m-6-5h0m-7-6h0m-1-1h0m-3-3h0m-3-3h0m-23-21h0m-8-7h0m-305 130h0m382 121h0m-325-230h0m271 3h0m2-3h0m-82 349h0m-150-381h0m-3 2h0m-2 1h0m-1 2h0m-9 7h0m-12 9h0m-8 7h0m-12 9h0m-4 3h0m-1 1h0m35-30h0m0 4h0m259 25h0m-37-23h0m-306 180h0m264 180h0m131-158h0m-363-149h0m217-79h0m-248 167h0m250 223h0m0 3h0m54-373h0m-24-9h0m-5-2h0m-19-7h0m-14-14h0m-2 0h0m-19-1h0m-3 0h0m-4 0h0m-1 0h0m-5 0h0m-11 0h0m-5 0h0m-7 0h0m-26 1h0m-16 13h0m-8 3h0m-2 1h0m-38 14h0m-4 2h0m-16 7h0m71-27h0m224 79h0m-237-80h0m153 382h0m0-1h0m4-371h0m-213 26h0m321 199h0m-111 140h0m-179-359h0m0 0h0m182-6h0m-264 71h0m283-59h0m-18-7h0m-6-2h0m-5-2h0m-17-6h0m-3-2h0m-8-2h0m-32-12h0m-5-2h0m103 367h0m-79-366h0m-26-1h0m-6 0h0m-48 1h0m6 5h0m-5 2h0m-4 1h0m-4 2h0m-17 6h0m-18 7h0m0 0h0m-2 1h0m-12 4h0m-6 3h0m299 146h0m2 4h0m-384-54h0m-3 4h0m-4 4h0m151-127h0m-7 2h0m-65 25h0m65-26h0m-2 2h0m68 395h0m0-2h0m149-313h0m-79 294h0m-180-359h0m-32 21h0m2 1h0m-46 43h0m350 34h0m-134-114h0m28 10h0m-2-1h0m-12-4h0m-48-17h0m-9 0h0m-25 0h0m160 63h0m2 0h0m-232-39h0m-2 3h0m-83 81h0m-3 3h0m290-67h0m4-8h0m-216-13h0m0 3h0m0 0h0m-1 7h0m-99 180h0m67-156h0m315 243h0m-2-7h0m15-116h0m-136 223h0m-157-378h0m-20 11h0m19 0h0m0 1h0m293 216h0m1 1h0m0 2h0m0 1h0m2 6h0m-349-183h0m272 293h0m-321-185h0m308-145h0m0-4h0m95 127h0m-4-6h0m-105-126h0m-2-4h0m45 330h0m1 3h0m-337-156h0m213 203h0m81-21h0m1-3h0m31-331h0m-46 338h0"/>
</g>
<circle cx="382" cy="685.5" r="212.75" fill="none" stroke="#000" stroke-width="4.2"/>
<text x="384" y="463.7" font-size="22" text-anchor="middle" textLength="50.4" lengthAdjust="spacingAndGlyphs">Norte</text>
<text x="379" y="925.5" font-size="22" text-anchor="middle">Sur</text>
<text x="128.5" y="688" font-size="22" text-anchor="middle" textLength="57" lengthAdjust="spacingAndGlyphs">Oeste</text>
<text x="625.6" y="688" font-size="22" text-anchor="middle" textLength="41.2" lengthAdjust="spacingAndGlyphs">Este</text>
<text x="385" y="537" font-size="22">30</text>
<text x="385" y="608" font-size="22">60</text>
</g>

<!-- ================= CHART A ================= -->
<g id="chartA">
<path d="M736.0 347H737.8V339.1H738.6V347H739.5V339.1H741.2V347H743.9V339.1H744.8V347H746.5V339.1H747.4V347H749.1V354.9H753.5V347H755.2V354.9H757V362.8H758.8V354.9H762.2V347H763.1V331.2H764V354.9H766.6V347H769.2V354.9H770.1V347H771.9V354.9H774.5V347H775.4V354.9H777.1V347H778V354.9H778.9V347H779.8V354.9H780.6V323.4H781.5V331.2H782.4V347H783.2V339.1H784.1V347H785.9V323.4H786.8V347H787.6V339.1H792V331.2H792.9V339.1H793.8V331.2H799V347H799.9V339.1H800.8V347H801.6V315.5H802.5V323.4H804.2V315.5H805.1V339.1H806V331.2H807.8V339.1H808.6V307.6H809.5V315.5H810.4V291.9H811.2V299.8H812.1V315.5H813V354.9H813.9V331.2H815.6V347H816.5V354.9H817.4V347H818.2V354.9H820V347H820.9V354.9H821.8V331.2H822.6V339.1H823.5V347H824.4V354.9H825.2V362.8H830.5V354.9H832.2V362.8H835.8V354.9H836.6V362.8H837.5V354.9H838.4V362.8H841V370.6H841.9V362.8H843.6V370.6H844.5V362.8H848V370.6H856.8V378.5H859.4V370.6H861.1V378.5H862V370.6H863.8V362.8H864.6V370.6H865.5V362.8H866.4V370.6H867.2V362.8H868.1V347H869V354.9H869.9V362.8H870.8V354.9H871.6V362.8H872.5V354.9H873.4V362.8H875.1V354.9H876V362.8H881.2V378.5H882.1V370.6H883.9V378.5H885.6V386.4H886.5V378.5H887.4V386.4H890.9V354.9H891.8V362.8H892.6V354.9H893.5V370.6H896.1V347H897V354.9H901.4V339.1H902.2V331.2H904V339.1H904.9V331.2H905.8V339.1H906.6V354.9H910.1V331.2H911V347H911.9V354.9H912.8V347H914.5V370.6H915.4V362.8H917.1V370.6H925V378.5H925.9V370.6H927.6V354.9H930.2V378.5H932V370.6H932.9V378.5H934.6V370.6H935.5V354.9H936.4V362.8H940.8V354.9H942.5V347H943.4V339.1H944.2V347H945.1V339.1H946V347H948.6V331.2H954.8V339.1H956.5V347H957.4V354.9H958.2V347H959.1V331.2H960.9V354.9H961.8V347H967.9V339.1H968.8V347H971.4V331.2H972.2V323.4H973.1V315.5H974V323.4H974.9V331.2H976.6V339.1H980.1V354.9H981V347H983.6V354.9H987.1V347H988V362.8H988.9V354.9H989.8V362.8H990.6V354.9H991.5V362.8H994.1V354.9H996.8V362.8H998.5V354.9H1005.5V347H1006.4V354.9H1007.2V347H1009V339.1H1009.9V347H1013.4V339.1H1014.2V347H1016V339.1H1016.9V347H1018.6V315.5H1019.5V307.6H1021.2V331.2H1023.9V323.4H1026.5V331.2H1030V315.5H1030.9V307.6H1032.6V299.8H1034.4V307.6H1037.9V323.4H1039.6V315.5H1040.5V323.4H1041.4V315.5H1042.2V323.4H1043.1V315.5H1044.9V323.4H1045.8V331.2H1047.5V323.4H1049.2V331.2H1051V339.1H1056.2V331.2H1057.1V339.1H1058.9V354.9H1059.8V331.2H1060.6V323.4H1061.5V347H1062.4V354.9H1065.9V347H1070.2V354.9H1071.1V347H1072.9V354.9H1074.6V347H1078.1V354.9H1079V347H1079.9V354.9H1081.6V331.2H1082.5V339.1H1083.4V354.9H1084.2V362.8H1089.5V354.9H1092.1V347H1093V354.9H1095.6V347H1096.5V354.9H1103.5V347H1105.2V339.1H1107V347H1112.2V339.1H1113.1V347H1114V331.2H1114.9V339.1H1116.6V331.2H1119.2V354.9H1120.1V347H1121V339.1H1123.6V354.9H1124.5V347H1127.1V354.9H1128V347H1128.9V354.9H1129.8V362.8H1137.6V354.9H1138.5V362.8H1140.2V354.9H1141.1V347H1142.9V354.9H1143.8V347H1148.1V354.9H1149.9V347H1151.6V354.9H1152.5V347H1154.2V354.9H1156V347H1157.8V339.1H1158.6V347H1161.2V339.1H1162.1V347H1163V339.1H1163.9V347H1164.8V339.1H1166.5V354.9H1173.5V347H1175.2V315.5H1176.1V331.2H1177V354.9H1180.5V347H1181.4V354.9H1182.2V362.8H1183.1V370.6H1186.6V362.8H1187.5V331.2H1188.4V339.1H1192.8V354.9H1193.6V362.8H1194.5V354.9H1195.4V362.8H1198V354.9H1198.9V347H1201.5V354.9H1202.4V347H1203.2V354.9H1204.1V347H1205V339.1H1206.8V331.2H1207.6V339.1H1208.5V347H1212V354.9H1215.5V347H1216.4V354.9H1221.6V347H1223.4V354.9H1227.8V339.1H1228.6V354.9H1230.4V347H1231.2V354.9H1232.1V339.1H1233V307.6H1235.6V347H1240V339.1H1240.9V331.2H1242.6V339.1H1244.4V331.2H1245.2V362.8H1247V354.9H1249.6V362.8H1250.5V354.9H1251.4V347H1252.2V354.9H1253.1V362.8H1257.5V354.9H1261V370.6H1261.9V362.8H1263.6V370.6H1264.5V362.8H1265.4V370.6H1266.2V362.8H1267.1V370.6H1268.9V362.8H1269.8V370.6H1272.4V362.8H1273.2V370.6H1275V362.8H1275.9V370.6H1276.8V362.8H1277.6V339.1H1278.5V331.2H1279.4V339.1H1280.2V331.2H1281.1V354.9H1282.9V362.8H1285.5V354.9H1286.4V362.8H1288.1V354.9H1289V362.8H1292.5V370.6H1294.2V362.8H1296V370.6H1302.1V347H1303V370.6H1304.8V362.8H1306.5V370.6H1308.2V362.8H1309.1V370.6H1310V362.8H1310.9V370.6H1313.5V362.8H1314.4V370.6H1315.2V362.8H1316.1V378.5H1318.8V370.6H1320.5V378.5H1321.4V370.6H1322.2V378.5H1324V362.8H1325.8V370.6H1328.4V362.8H1329.2V370.6H1331V347H1332.8V362.8H1338.9V370.6H1339.8V362.8H1341.5V354.9H1343.2V347H1344.1V354.9H1345.9V362.8H1350.2V354.9H1352V331.2H1352.9V299.8H1355.5V323.4H1356.4V339.1H1358.1V347H1359.9V339.1H1360.8V323.4H1364.2V331.2H1365.1V323.4H1366V504.5H736.0Z" fill="#dbdbdb" stroke="none" clip-path="url(#cpA)"/>
<g clip-path="url(#cpA)"><use href="#wmark" x="1050" y="442"/></g>
<path d="M736.0 465.12H1366.0M736.0 425.75H1366.0M736.0 386.38H1366.0M736.0 347.00H1366.0M736.0 307.62H1366.0M736.0 268.25H1366.0M736.0 228.88H1366.0" stroke="#000" stroke-width="1.3" fill="none"/>
<path d="M736.0 362.8H737.8V370.6H739.5V378.5H740.4V362.8H741.2V370.6H742.1V362.8H743V378.5H743.9V370.6H745.6V362.8H746.5V370.6H747.4V362.8H748.2V370.6H749.1V378.5H750V370.6H750.9V378.5H751.8V370.6H752.6V378.5H753.5V370.6H757V386.4H758.8V378.5H760.5V370.6H761.4V394.2H762.2V378.5H764V386.4H764.9V378.5H765.8V370.6H767.5V378.5H768.4V370.6H770.1V386.4H771V378.5H773.6V370.6H774.5V378.5H775.4V386.4H777.1V378.5H778V386.4H778.9V378.5H779.8V362.8H780.6V370.6H784.1V362.8H785V370.6H787.6V362.8H790.2V354.9H791.1V362.8H793.8V354.9H795.5V347H796.4V354.9H798.1V347H799V362.8H799.9V378.5H800.8V370.6H801.6V378.5H802.5V362.8H803.4V370.6H804.2V354.9H807.8V362.8H808.6V354.9H809.5V370.6H810.4V378.5H812.1V370.6H813V378.5H816.5V370.6H818.2V378.5H819.1V370.6H822.6V394.2H823.5V378.5H830.5V386.4H834.9V378.5H836.6V386.4H839.2V378.5H840.1V386.4H842.8V394.2H844.5V386.4H845.4V394.2H847.1V386.4H848V394.2H848.9V378.5H849.8V394.2H850.6V386.4H852.4V394.2H853.2V386.4H854.1V394.2H858.5V402.1H859.4V394.2H860.2V402.1H862V386.4H862.9V394.2H863.8V386.4H864.6V394.2H865.5V386.4H868.1V378.5H871.6V386.4H873.4V378.5H874.2V386.4H876V370.6H876.9V386.4H877.8V394.2H878.6V402.1H879.5V394.2H881.2V402.1H882.1V394.2H884.8V402.1H886.5V410H890V402.1H891.8V386.4H892.6V402.1H893.5V394.2H895.2V386.4H896.1V378.5H897V370.6H898.8V394.2H899.6V378.5H900.5V370.6H901.4V362.8H903.1V354.9H904V362.8H904.9V354.9H906.6V378.5H908.4V370.6H909.2V378.5H911V362.8H911.9V378.5H912.8V370.6H914.5V378.5H916.2V394.2H917.1V386.4H918.9V394.2H919.8V386.4H921.5V394.2H922.4V386.4H923.2V394.2H925.9V402.1H926.8V394.2H932V402.1H932.9V394.2H933.8V410H934.6V402.1H935.5V378.5H936.4V394.2H937.2V378.5H940.8V386.4H942.5V378.5H943.4V362.8H945.1V370.6H946V378.5H946.9V370.6H947.8V362.8H948.6V347H949.5V339.1H950.4V354.9H952.1V362.8H953V354.9H954.8V386.4H955.6V370.6H957.4V386.4H958.2V370.6H960V394.2H960.9V370.6H961.8V386.4H962.6V378.5H963.5V370.6H964.4V362.8H965.2V378.5H966.1V370.6H967V362.8H968.8V370.6H971.4V362.8H972.2V347H973.1V362.8H974.9V354.9H975.8V362.8H976.6V354.9H979.2V362.8H980.1V370.6H981V386.4H981.9V378.5H982.8V370.6H983.6V378.5H984.5V386.4H985.4V378.5H990.6V386.4H991.5V378.5H992.4V386.4H994.1V370.6H995V386.4H996.8V378.5H997.6V394.2H998.5V378.5H1001.1V370.6H1002V378.5H1002.9V370.6H1005.5V378.5H1008.1V386.4H1009V354.9H1009.9V362.8H1012.5V370.6H1015.1V362.8H1019.5V347H1020.4V354.9H1021.2V347H1022.1V362.8H1023V347H1023.9V339.1H1024.8V347H1027.4V354.9H1030V331.2H1030.9V339.1H1032.6V331.2H1034.4V323.4H1037.9V347H1038.8V339.1H1039.6V347H1044V339.1H1044.9V347H1045.8V354.9H1046.6V347H1047.5V362.8H1048.4V354.9H1050.1V347H1051V362.8H1051.9V354.9H1053.6V362.8H1054.5V354.9H1055.4V362.8H1057.1V354.9H1058V362.8H1058.9V378.5H1060.6V370.6H1067.6V378.5H1069.4V370.6H1072V386.4H1072.9V370.6H1074.6V378.5H1075.5V362.8H1076.4V386.4H1077.2V370.6H1079V378.5H1080.8V370.6H1082.5V386.4H1083.4V378.5H1084.2V386.4H1086V378.5H1090.4V370.6H1093V378.5H1093.9V362.8H1094.8V370.6H1095.6V378.5H1096.5V370.6H1097.4V378.5H1098.2V370.6H1099.1V378.5H1101.8V370.6H1102.6V378.5H1103.5V370.6H1104.4V362.8H1106.1V370.6H1107V362.8H1107.9V370.6H1109.6V362.8H1110.5V370.6H1111.4V362.8H1113.1V370.6H1114V362.8H1116.6V354.9H1117.5V347H1118.4V354.9H1119.2V370.6H1121V378.5H1121.9V370.6H1124.5V378.5H1126.2V386.4H1127.1V378.5H1128.9V370.6H1129.8V394.2H1132.4V378.5H1135V386.4H1135.9V378.5H1136.8V386.4H1137.6V378.5H1138.5V386.4H1139.4V394.2H1140.2V370.6H1141.1V378.5H1142V370.6H1143.8V378.5H1145.5V370.6H1147.2V378.5H1149V370.6H1151.6V378.5H1152.5V370.6H1153.4V378.5H1154.2V370.6H1156V362.8H1157.8V386.4H1158.6V370.6H1159.5V362.8H1161.2V370.6H1162.1V362.8H1163V370.6H1163.9V362.8H1165.6V370.6H1169.1V378.5H1170.9V370.6H1171.8V378.5H1172.6V386.4H1173.5V378.5H1175.2V370.6H1176.1V378.5H1178.8V370.6H1179.6V378.5H1180.5V370.6H1181.4V378.5H1182.2V386.4H1183.1V394.2H1184V386.4H1184.9V394.2H1186.6V386.4H1187.5V362.8H1190.1V354.9H1192.8V378.5H1193.6V386.4H1198V378.5H1198.9V386.4H1200.6V370.6H1202.4V378.5H1203.2V386.4H1204.1V378.5H1205V362.8H1205.9V378.5H1206.8V370.6H1207.6V378.5H1208.5V362.8H1209.4V386.4H1210.2V370.6H1211.1V378.5H1212V370.6H1214.6V378.5H1215.5V370.6H1216.4V378.5H1217.2V386.4H1218.1V378.5H1219.9V370.6H1220.8V378.5H1221.6V386.4H1222.5V370.6H1224.2V378.5H1226V370.6H1226.9V378.5H1228.6V370.6H1229.5V378.5H1231.2V370.6H1232.1V378.5H1233V386.4H1233.9V378.5H1234.8V370.6H1238.2V362.8H1240V354.9H1240.9V370.6H1241.8V354.9H1243.5V370.6H1244.4V354.9H1245.2V378.5H1247.9V370.6H1248.8V378.5H1250.5V386.4H1252.2V378.5H1254V386.4H1254.9V378.5H1255.8V386.4H1260.1V378.5H1261V394.2H1262.8V386.4H1263.6V394.2H1264.5V386.4H1266.2V394.2H1267.1V386.4H1268V402.1H1268.9V386.4H1269.8V394.2H1271.5V402.1H1272.4V386.4H1273.2V378.5H1275V394.2H1277.6V386.4H1278.5V394.2H1279.4V386.4H1280.2V378.5H1281.1V386.4H1282V378.5H1282.9V386.4H1285.5V378.5H1286.4V386.4H1289V378.5H1289.9V386.4H1290.8V394.2H1291.6V386.4H1292.5V394.2H1293.4V386.4H1295.1V394.2H1296.9V386.4H1298.6V394.2H1299.5V402.1H1300.4V394.2H1301.2V402.1H1303V386.4H1307.4V394.2H1309.1V386.4H1312.6V394.2H1315.2V386.4H1316.1V402.1H1317V394.2H1319.6V410H1320.5V402.1H1321.4V410H1323.1V394.2H1325.8V386.4H1326.6V394.2H1328.4V386.4H1331.9V394.2H1332.8V410H1333.6V402.1H1334.5V394.2H1336.2V402.1H1337.1V394.2H1338V402.1H1338.9V386.4H1341.5V394.2H1343.2V386.4H1344.1V394.2H1345V378.5H1348.5V386.4H1349.4V394.2H1350.2V378.5H1351.1V386.4H1352V378.5H1352.9V362.8H1353.8V370.6H1355.5V362.8H1356.4V378.5H1357.2V354.9H1358.1V362.8H1359V370.6H1359.9V362.8H1360.8V354.9H1361.6V347H1362.5V354.9H1363.4V347H1364.2V354.9H1366.0" fill="none" stroke="#00ff00" stroke-width="3.2" clip-path="url(#cpA)"/>
<path d="M736.0 354.9H739.5V362.8H740.4V354.9H742.1V347H743V362.8H743.9V354.9H749.1V362.8H752.6V370.6H753.5V362.8H756.1V354.9H757V370.6H759.6V362.8H761.4V370.6H762.2V362.8H763.1V370.6H764V362.8H778V370.6H778.9V362.8H779.8V354.9H788.5V347H792V354.9H792.9V347H794.6V339.1H799V354.9H804.2V347H809.5V362.8H813V370.6H813.9V362.8H822.6V378.5H823.5V370.6H829.6V362.8H830.5V370.6H833.1V378.5H834.9V370.6H841V378.5H848.9V370.6H849.8V386.4H850.6V378.5H853.2V370.6H854.1V378.5H856.8V386.4H862V378.5H867.2V370.6H871.6V378.5H873.4V370.6H876V362.8H876.9V370.6H877.8V386.4H885.6V394.2H890.9V378.5H892.6V386.4H894.4V378.5H896.1V362.8H898.8V370.6H899.6V362.8H901.4V347H906.6V362.8H911V354.9H911.9V362.8H914.5V370.6H916.2V378.5H923.2V386.4H924.1V378.5H925V386.4H929.4V378.5H930.2V386.4H935.5V370.6H939V362.8H939.9V370.6H941.6V378.5H942.5V370.6H943.4V354.9H944.2V347H945.1V354.9H948.6V339.1H949.5V331.2H950.4V339.1H952.1V347H953.9V339.1H954.8V362.8H960V370.6H960.9V362.8H964.4V354.9H972.2V339.1H973.1V347H980.1V362.8H988V370.6H994.1V362.8H995V370.6H998.5V362.8H1001.1V354.9H1002V370.6H1002.9V362.8H1007.2V370.6H1009V347H1009.9V354.9H1011.6V347H1012.5V354.9H1019.5V339.1H1023.9V331.2H1024.8V339.1H1030V323.4H1030.9V331.2H1031.8V323.4H1032.6V315.5H1037.9V331.2H1043.1V339.1H1044V331.2H1045.8V339.1H1047.5V347H1048.4V339.1H1051V347H1051.9V339.1H1052.8V347H1054.5V339.1H1055.4V347H1058.9V362.8H1061.5V354.9H1062.4V362.8H1075.5V354.9H1076.4V362.8H1082.5V370.6H1090.4V362.8H1092.1V354.9H1093V362.8H1093.9V354.9H1094.8V362.8H1103.5V354.9H1109.6V347H1110.5V362.8H1111.4V354.9H1114V347H1117.5V339.1H1118.4V347H1119.2V362.8H1129.8V370.6H1132.4V362.8H1133.2V370.6H1138.5V378.5H1139.4V370.6H1140.2V362.8H1143.8V370.6H1144.6V362.8H1146.4V354.9H1147.2V362.8H1149V354.9H1151.6V362.8H1156V354.9H1157.8V362.8H1158.6V354.9H1165.6V362.8H1182.2V378.5H1187.5V347H1188.4V354.9H1189.2V347H1192.8V370.6H1195.4V362.8H1196.2V370.6H1199.8V362.8H1205V354.9H1205.9V362.8H1208.5V354.9H1209.4V370.6H1210.2V362.8H1212.9V354.9H1213.8V362.8H1217.2V370.6H1218.1V362.8H1223.4V354.9H1224.2V362.8H1231.2V354.9H1232.1V362.8H1234.8V354.9H1238.2V347H1239.1V354.9H1240V347H1240.9V354.9H1241.8V347H1245.2V370.6H1246.1V362.8H1247V370.6H1247.9V362.8H1248.8V370.6H1261V378.5H1265.4V370.6H1266.2V378.5H1268V386.4H1268.9V378.5H1271.5V386.4H1272.4V378.5H1273.2V370.6H1275V378.5H1279.4V370.6H1287.2V378.5H1288.1V370.6H1289V362.8H1289.9V370.6H1292.5V378.5H1301.2V386.4H1302.1V378.5H1306.5V370.6H1307.4V378.5H1316.1V386.4H1320.5V394.2H1323.1V386.4H1324V378.5H1331.9V370.6H1332.8V386.4H1333.6V378.5H1337.1V386.4H1338V378.5H1345V370.6H1348.5V378.5H1350.2V370.6H1352.9V354.9H1356.4V362.8H1357.2V347H1358.1V354.9H1360.8V339.1H1366.0" fill="none" stroke="#000" stroke-width="1.4" clip-path="url(#cpA)"/>
<rect x="1189" y="203" width="13" height="13" fill="#dbdbdb"/><rect x="1189" y="219" width="13" height="13" fill="#000"/><rect x="1189" y="234.2" width="13" height="12.8" fill="#00ff00"/>
<g font-size="13.8"><text x="1206.5" y="211.2">GNSS predichos</text><text x="1206.5" y="226.4">GNSS captados L1</text><text x="1206.5" y="241.8">GNSS captados L1 y L2</text></g>
<rect x="736.0" y="189.50" width="630.0" height="315.00" fill="none" stroke="#000" stroke-width="4.2"/>
<path d="M736.0 189.5v5M736.0 504.5v-5M814.8 189.5v5M814.8 504.5v-5M893.5 189.5v5M893.5 504.5v-5M972.2 189.5v5M972.2 504.5v-5M1051.0 189.5v5M1051.0 504.5v-5M1129.8 189.5v5M1129.8 504.5v-5M1208.5 189.5v5M1208.5 504.5v-5M1287.2 189.5v5M1287.2 504.5v-5M1366.0 189.5v5M1366.0 504.5v-5M762.2 189.5v3.5M762.2 504.5v-3.5M788.5 189.5v3.5M788.5 504.5v-3.5M841.0 189.5v3.5M841.0 504.5v-3.5M867.2 189.5v3.5M867.2 504.5v-3.5M919.8 189.5v3.5M919.8 504.5v-3.5M946.0 189.5v3.5M946.0 504.5v-3.5M998.5 189.5v3.5M998.5 504.5v-3.5M1024.8 189.5v3.5M1024.8 504.5v-3.5M1077.2 189.5v3.5M1077.2 504.5v-3.5M1103.5 189.5v3.5M1103.5 504.5v-3.5M1156.0 189.5v3.5M1156.0 504.5v-3.5M1182.2 189.5v3.5M1182.2 504.5v-3.5M1234.8 189.5v3.5M1234.8 504.5v-3.5M1261.0 189.5v3.5M1261.0 504.5v-3.5M1313.5 189.5v3.5M1313.5 504.5v-3.5M1339.8 189.5v3.5M1339.8 504.5v-3.5M736.0 504.50h5M1366.0 504.50h-5M736.0 465.12h5M1366.0 465.12h-5M736.0 425.75h5M1366.0 425.75h-5M736.0 386.38h5M1366.0 386.38h-5M736.0 347.00h5M1366.0 347.00h-5M736.0 307.62h5M1366.0 307.62h-5M736.0 268.25h5M1366.0 268.25h-5M736.0 228.88h5M1366.0 228.88h-5M736.0 189.50h5M1366.0 189.50h-5" stroke="#000" stroke-width="2" fill="none"/>
<g font-size="22" text-anchor="middle"><text x="736.0" y="527.5">0</text><text x="814.8" y="527.5">3</text><text x="893.5" y="527.5">6</text><text x="972.2" y="527.5">9</text><text x="1051.0" y="527.5">12</text><text x="1129.8" y="527.5">15</text><text x="1208.5" y="527.5">18</text><text x="1287.2" y="527.5">21</text><text x="1366.0" y="527.5">24</text></g>
<g font-size="22" text-anchor="end"><text x="1397.0" y="512.3">0</text><text x="1397.0" y="472.9">5</text><text x="1397.0" y="433.6">10</text><text x="1397.0" y="394.2">15</text><text x="1397.0" y="354.8">20</text><text x="1397.0" y="315.4">25</text><text x="1397.0" y="276.1">30</text><text x="1397.0" y="236.7">35</text><text x="1397.0" y="197.3">40</text></g>
<text transform="translate(1428.0 349.7) rotate(-90)" font-size="21.7" text-anchor="middle" textLength="193.5" lengthAdjust="spacingAndGlyphs">Número de satélites</text>
</g>

<!-- ================= CHART B ================= -->
<g id="chartB">
<use href="#wmark" x="1055" y="776"/>
<path d="M736.0 845.33H1366.0M736.0 792.97H1366.0M736.0 740.60H1366.0M736.0 688.23H1366.0M736.0 635.87H1366.0" stroke="#000" stroke-width="1.3" fill="none"/>
<g class="c" clip-path="url(#cpB)">
<path stroke="#ff0000" d="M820 705l6-2 5-2 6-3 5-3 6-3 5-3 2-2M958 820l5-4 5-4 5-3 5-4 5-3 6-3 5-3 5-3 6-3 0 0M750 734l5 1M904 835l5-3 5-3 3-1M1178 608l5 3 5 4 5 4 5 3 5 4 4 4 2 1M751 862l5 3 6 2 6 1 2 1M1039 623l6-1 6 0 6 0 4 1M1150 704l6 3 5 3 4 2M1291 791l5 3 2 1M755 843l5 4 4 3 5 4 5 4 5 4 5 4 5 3 2 2M1059 648l6-3 5-2 6-3 5-3 1 0M1207 742l6 1 6 0 5 1M967 687l6-3 5-3 5-3 4-3M1132 780l6-2 5-2 6-2 4-1M780 770l5 3 6 3 5 3 6 3 4 3M888 859l6 2 6 1 6 0 6 0M1185 616l6 1 6 2 5 2M1272 684l5 3 5 4 6 3 0 0M736 607l5 3 5 3 5 4 5 4 5 4 5 3M772 634l5 3 5 4 5 4 3 2M941 741l6 1 6 2 1 0M1082 846l6-2 5-3 4-2M753 680l5 4 5 3 5 3M1297 615l4 1M1051 696l5-2 6-3 1-1M1220 788l5-2 6-3 5-2M1165 812l6-3 1-1M749 618l6 0 6 1 6 2M850 694l5 3 6 3 2 1M983 777l6 3 5 3 5 4 5 3 2 1M1086 861l6 2 6 1 3 0M782 746l6 0 6 1 4 0M1259 652l5-3 6-3 5-3 5-2 4-2M736 769l6-2 6-1 6-1 2-1M1201 676l6-3 5-3 5-3 5-4M1365 768l1 0M1117 713l6-2 5-2 6-2 6-2 5-3 2-1M1252 829l5-4 5-3 5-4 5-3 5-4 5-3 6-3 5-3 5-3M1176 731l6 0 6 1 5-1M1317 840l5-3 6-3 5-3 5-3 4-2M869 615l6 1 6 2 5 2 6 3 5 3 3 2M946 673l5 4 4 4 5 4 5 3 6 4 3 2M1096 771l6 3 5 3 5 3 6 3 3 2M1202 859l6 2 6 1 6 0 5 0M802 629l6-1 5-1 7-1 6-1 0 0M921 717l6 3 5 2 6 2 2 1M1072 807l5 3 5 4 5 4 5 3 5 4 4 4 5 4 4 4 5 4 5 4 4 4 5 4 5 4 5 4 5 3 5 3 5 3 6 2 1 0M788 795l6-3 5-3 5-3 6-2 1 0M1252 699l6-2 5-3 6-2 2-2M807 665l6-3 5-3 5-3 2-1M970 758l6-1 7 0 2 0M867 808l5-3 5-3 5-3 6-3 5-3M1337 708l6-2 6-2 4-2M950 683l5-3 5-4 4-4 5-4 4-4 5-5 0 0M1094 787l5-3 5-4 5-3 6-3 3-1M1310 887l4 4 5 4 2 3M1322 584l4 4 5 4 2 2M901 707l5-3 5-3 3-2M1045 814l5-4 4-4 5-3 5-4 4-3M1297 644l1 1M779 762l6 2 5 3 6 2 1 0M888 868l6-1 6-1 6-2 2 0M1158 607l6 1 6 1 5 2M1241 685l5 3 5 4 5 3M756 785l5 3 3 2M851 873l6 1 3 1M736 607l6 0 6 1 6 2 5 3 5 3 5 4 4 5 4 4 4 5 4 5 3 6 4 5 3 5 4 5 3 5 4 5 4 4 5 5 4 4 5 3 5 4 5 3 3 2M965 785l6 3 5 3 5 4 5 4 4 4 5 4 4 4 4 5 0 1M1030 855l5 4 4 4 5 4 5 3 6 2 6 2 6 0 3 1M1321 616l2 0M1329 614l6-1 6 0 6 1 2 0M793 710l6 2 5 2 6 3M940 807l5 3 5 4 5 4 2 2M964 826l4 4 4 4 4 5 5 5 0 0M989 854l4 4 5 5 4 4 5 4 5 3 5 4 6 2 4 2M1268 633l5-3 5-3 6-3 5-3 3-1M771 735l1 0M777 736l3 0M916 869l5 4 4 4 5 4 5 4 4 4 5 4 1 1M1159 683l5-3 5-4 5-4 4-4M1191 656l4-5 4-4 4-5 2-2M1290 800h0M1296 795l4-5 5-4 5-3 5-4 5-3 6-3 5-2M891 887l4 4 5 4 2 3M903 584l3 3M913 592l1 2M1110 707l2-1M1270 801l5-3 2-2M824 595l5 4 4 4 5 4 5 4 3 3M856 624l1 1M866 634l5 4 4 4 4 3M1024 745l6 1 6 1 6 0 2 0M1138 863l6-3 5-2 6-3 5-3 1-1M813 838l4-5 4-5 5-4 4-4 4-4 5-5 5-4 4-3 5-4 5-4 1-1M1275 728l6-2 6-1 5-2 6-3 3-1M741 852l5-3M944 607l6 0 6 1 6 2 5 2 2 1M1027 681l5 4 5 4 5 3 5 3M1172 784l5 3 6 3 5 3 5 4 0 0M1259 870l5 2 6 2 7 0 2 1M851 632l5-3 5-3 6-3 5-3 6-2 5-2 5-2M962 734l6 0 6 1 6 0 6 1 3 0M1135 836l5 4 5 4 4 4 5 4 4 5 5 4 4 4 5 4 4 5 5 4 5 4 5 3 0 1M795 657l4-4 5-4 5-4 5-3 5-4 2-2M936 757l6-1 6-2 4 0M1126 869l4 4 5 4 4 4 5 4 5 4 3 3M740 683l5-3 5-4 5-4 4-4 5-4 4-5 5-4 4-4 4-5 4-5 4-4 1-2M867 805l4-4 4-5 5-4 4-4 5-4 5-3 5-4 3-1M1100 887l3 2M1107 893l4 4 1 1M1112 584l5 4 4 4 3 2M1319 707l6-3 5-3 4-3M1343 691l5-4 4-5 1-1M736 793l5 3 5 3 5 4 4 3M802 850l5 3 6 3 5 2 6 1 6 1 6 0 7 0 6 0 6-1 2-1M787 863l6 2 6 1 6 1 6 1 2 0M1140 608l6 1 6 2 6 2 5 3 6 3 5 3 5 3M1204 643l5 3 5 4 5 3 5 3 6 3 5 3 3 2M1316 795l2 1M921 675l6-3 5-3 5-3 5-3 6-3 5-3 2-2M1118 749l6-1 6 0 7 0 6 0 1 0M1307 824l5 3 5 3 5 3 6 4 5 3 5 3 5 4 5 3 5 4 5 3M1364 861l2 1M1103 687l6-3 5-3 5-3 3-1M1314 758l6-1 6-1 7 0 2 0M736 608l6 2 5 3 6 2 5 3 6 3 5 4 5 3 5 4 5 3 5 4 5 3 5 4 3 2M811 654l6 3 2 1M986 735l6 1 6 0 6-1 2 0M1172 827l5-3 6-4 5-3 5-3 5-3 6-3 5-3 0 0M780 678l0 0M783 680l3 2M791 684l6 3 5 3M941 756l6 2 6 2 6 1 3 1M1098 851l6-2 6-2 6-2 5-3 5-2M841 627l6-2 6-1 6-1 6 0 6 0 6 1 6 1 6 2 5 3 1 1M947 685l5 3 5 4 5 3 6 3 2 1M984 705l6 2 4 1M1126 772l5 2 6 2 6 2 5 2 6 3 6 3 5 2 5 4 5 3M1237 854l6 2 6 2 6 1 6 0 6 0 6-1 1 0M915 752l6 0 4 0M1340 744l5 1 2 0M736 861l6 3 5 2 6 1 3 1M1058 616l6 1 6 1 6 1 5 2 6 3 5 3 5 4 1 0M1107 638l4 5 5 4 4 4 4 5 5 4 4 4 5 4 5 4 4 4 5 4 6 3 5 3 5 3 6 3 0 0M1300 763l5 3 6 2 6 3 5 2 6 3 5 2 5 3 5 4 2 0"/>
<path stroke="#ff4000" d="M855 687l3-2M955 823l3-3M755 735l4 0M899 837l5-2M746 860l5 2M1061 623l2 0M1148 703l2 1M1301 798l5 3 1 1M1082 637l0 0M1205 742l2 0M987 675l3-1M1130 781l2-1M1082 802l2-1M806 785l3 2M885 859l3 0M1202 621l3 2M1269 681l3 3M954 744l3 0M1079 847l3-1M890 768l5 2 5 2M1014 861l6-1M1301 616l6 2M1113 669l3-2M1289 760l4-1M1063 690l3-2M1217 790l3-2M993 720l4 0M1158 816l6-3 1-1M767 621l3 1M847 691l3 3M1006 791l3 2M1083 860l3 1M779 746l3 0M1284 639l2-1M1222 663l3-1M1363 769l2-1M1147 701l3-2M1249 831l3-2M1193 731l1 0M1314 841l3-1M900 628l4 3M942 670l4 3M1121 785l3 2M1199 858l3 1M826 625l2 0M919 717l2 0M786 796l2-1M1271 690l2-1M825 655l3-2M968 758l2 0M864 810l3-2M978 659l2-2M1092 789l2-2M914 699l2-2M1042 817l3-3M856 728l1-1M1004 830l4-3M1242 595l5 4 5 4 1 1M1284 633l5 5 5 4 3 2M953 850l3-2M797 769l2 1M886 868l2 0M1175 611l2 1M1238 683l3 2M764 790l3 2M847 873l4 0M989 762l0 0M1003 817l4 5 1 1M1026 849l3 4 1 2M1352 615l1 0M792 709l1 1M981 844l4 5 4 5M1292 620l2-1M769 735l2 0M1205 640l4-5 0 0M1287 804l3-4M1112 706l4-2M1265 805l5-3 0-1M1044 747l1 0M1137 864l1-1M810 842l3-4M1301 719l2-2M1234 745l1 0M736 855l5-3M969 613l2 2M1025 680l2 1M1193 797l2 2M1257 869l2 1M888 614l2-1M960 734l2 0M821 636l2-2M934 758l2-1M862 811l4-5 1-1M1353 681l3-3M755 806l5 4 0 0M797 847l5 3 0 0M782 861l5 2M1179 625l5 3 5 4 5 4 5 3 5 4M736 872l5 2 4 2M1075 620l6 0 2-1M1318 796l5 3 4 1M955 655l2-1M1116 749l2 0M1184 652l5-2 3-2M1122 677l4-3M1312 759l2-1M809 603l1 0M814 606l5 3 5 3 2 2M1006 735l2 0M1168 829l4-2M776 676l4 2M962 762l3 1M1095 852l3-1M895 631l5 3 1 1M942 680l4 4 1 1M1175 795l4 3M1233 852l4 2M910 753l5-1M1347 745l5 1M1345 785l2 3"/>
<path stroke="#ff8000" d="M858 685l4-3M951 827l4-4M759 735l3 0M895 839l4-2M742 858l4 2M1063 623l2 1M1146 702l2 1M1307 802l5 3M1203 741l2 1M990 674l2-2M1128 782l2-1M903 714l3 0M1074 807l5-3 3-2M837 741l4 0M990 841l5-3 4-2M809 787l2 2M883 858l2 1M1205 623l3 1M1266 679l3 2M957 744l2 1M1076 848l3-1M900 772l5 3M1009 860l5 1M1307 618l5 2M1116 667l5-3 2-1M1283 760l6 0M1066 688l3-1M1214 791l3-1M997 720l4-1M1154 819l4-3M770 622l3 1M844 689l3 2M1009 793l3 2M1080 859l3 1M777 746l2 0M1286 638l2-1M1225 662l3-2M1361 770l2-1M1150 699l3-1M1245 834l4-3M1194 731l2 0M1312 842l2-1M904 631l3 3M939 666l3 4M1124 787l3 2M1197 857l2 1M828 625l2 1M917 716l2 1M783 798l3-2M1273 689l2-1M1210 766l2 0M1341 859l3 0M828 653l3-2M965 758l3 0M862 812l2-2M980 657l3-3M1090 791l2-2M916 697l2-1M1040 820l2-3M857 727l4-1M997 835l5-4 2-1M1253 604l5 4 5 4 4 5 4 4 5 4 4 4 4 4M815 745l5 1M946 854l5-3 2-1M799 770l2 1M884 868l2 0M1177 612l2 2M1236 681l2 2M767 792l3 2M844 872l3 1M989 762l6 3 1 0M1108 866l6-1M1008 823l4 5 3 5 4 6 3 5 4 5M1353 615l2 1M790 708l2 1M1294 619l2-1M767 735l2 0M1214 657l4-4M1209 635l4-5 2-3M1283 809l3-4 1-1M1116 704l3-2M1261 809l4-4M1045 747l1 0M1135 864l2 0M805 847l4-5 1 0M1303 717l3-1M1235 745l5 1M1364 855l2-1M971 615l3 1M1023 678l2 2M1195 799l3 2M1255 868l2 1M902 616l4-1M1152 808l5 4 0 0M1231 880l5 2 2 0M890 613l3 0M958 733l2 1M823 634l3-2M933 759l1-1M801 619l4-5 3-4M854 824l4-6 3-5 1-2M1356 678l4-5 0-1M760 810l5 5 4 3M788 839l5 4 4 4M778 859l4 2M1083 619l6 0 1 0M1210 693l6 3M1114 749l2 0M1192 648l6-3 2-1M1126 674l4-2M1309 759l3 0M1008 735l2 0M1165 831l3-2M773 674l3 2M965 763l2 0M1092 853l3-1M901 635l5 4 4 4 2 2M931 668l4 5 4 4 3 3M1179 798l5 4M1229 849l4 3M906 753l4 0M1115 610l6 2 4 3M1181 655l5 3 5 4 1 0M1352 746l3 1M1347 788l4 3"/>
<path stroke="#ffbf00" d="M862 682l5-4 0-1M944 833l5-4 2-2M762 735l2 0M892 841l3-2M851 851l6-2 1 0M738 855l4 3M1065 624l2 0M1143 700l3 2M1312 805l5 4M1201 741l2 0M992 672l2-1M1126 783l2-1M906 714l4-1M1069 810l5-3M841 741l5 1M984 843l5-2 1 0M811 789l3 1M880 857l3 1M1208 624l3 2M1262 676l4 3M959 745l2 0M1074 849l2-1M741 670l2 2M905 775l3 2M1006 860l3 0M1312 620l3 1M1123 663l5-3M1279 761l4-1M1069 687l2-1M1212 793l2-2M1001 719l3 0M1150 822l4-3M773 623l2 1M841 687l3 2M1012 795l3 3M1077 857l3 2M776 745l1 1M1288 637l3-1M1228 660l2-2M1359 770l2 0M1153 698l4-3M1241 839l4-4 0-1M1196 731l2 0M1310 843l2-1M907 634l5 4 0 1M934 661l4 5 1 0M1127 789l2 2M1194 856l3 1M830 626l2 0M915 715l2 1M781 799l2-1M1275 688l2-1M1212 766l5 3 3 1M1334 859l6 0 1 0M831 651l3-2M964 759l1-1M859 813l3-1M1364 697l2-2M983 654l3-3M1088 792l2-1M918 696l2-2M1037 822l3-2M861 726l3 0M993 839l4-4M820 746l4 0M942 857l4-3M1196 599l4 1M801 771l1 1M883 868l1 0M1179 614l2 1M1234 679l2 2M770 794l3 2M842 871l2 1M1110 617l4-1M996 765l4 2M1104 867l4-1M1355 616l2 2M789 707l1 1M1296 618l1 0M1218 653l5-4 2-2M1364 755l2-1M1215 627l3-4 4-6 1-2M1276 819l3-5 4-5M1119 702l2-1M1258 812l3-3M1219 826l1-2M1046 747l2 1M1133 865l2-1M800 854l3-5 2-2M1306 716l3-2M799 827l2-2M1240 746l3 0M1359 857l5-2M974 616l2 2M1021 676l2 2M1198 801l2 1M1253 866l2 2M906 615l5-1M1015 715l4 1M1157 812l5 4 2 1M1225 877l5 2 1 1M893 613l3-1M955 733l3 0M826 632l2-2M931 759l2 0M808 610l3-6 3-5 2-6 3-4M830 878l2-6 2-6 3-5 2-6 3-6 2-6 3-5 3-6 3-5 1-3M1360 672l4-5 2-3M769 818l4 5 4 4 4 5 4 4 3 3M774 857l4 2M1090 619l6 0M1205 691l5 2M1348 760l6 2 1 0M1339 807l1 1M1112 749l2 0M1200 644l5-3M1130 672l3-2M1307 760l2-1M1010 735l2 0M1162 833l3-2M769 671l4 3M967 763l2 1M1090 853l2 0M912 645l4 5 4 4 4 5 4 5 3 4M1184 802l4 4 2 2M1222 843l4 4 3 2M903 754l3-1M854 779l5-2 1 0M809 858l5-1M1129 617l5 3 3 2M1170 647l5 3 5 4 1 1M1355 747l3 0M1351 791l4 4M1296 612l5 2"/>
<path stroke="#ffff00" d="M867 677l5-5 4-4 3-4M932 848l3-5 4-4 4-5 1-1M764 735l2 0M889 842l3-1M845 853l6-2M1124 609l6 2M1336 751l3 1M736 853l2 2M1067 624l3 1M1141 699l2 1M1317 809l4 3M1199 741l2 0M994 671l3-2M1124 784l2-1M910 713l3-1M1065 812l4-2M846 742l1 1M979 845l5-2M1259 606l5 3 4 2M1309 643l5 4M814 790l2 2M878 855l2 2M1211 626l3 3M1259 673l3 3M961 745l2 0M1072 850l2-1M737 667l4 3M1002 859l4 1M1315 621l4 3M1128 660l4-2M1277 761l2 0M1071 686l2-2M1210 794l2-1M1004 719l2-1M1146 824l4-2M775 624l3 1M838 685l3 2M1015 798l3 2M1075 856l2 1M774 745l2 0M1291 636l2-1M1230 658l2-1M1357 771l2-1M1157 695l4-4 1 0M1234 845l4-4 3-2M1198 731l2 0M1308 844l2-1M912 639l5 4 4 4 4 5 4 5 4 4 1 0M1129 791l3 2M1192 855l2 1M832 626l2 0M913 714l2 1M779 801l2-2M1277 687l3-2M985 613l5 1M1220 770l4 3M1329 859l5 0M834 649l2-1M962 759l2 0M857 815l2-2M1366 695l0 0M736 811l5 3 0 1M809 878l5 3 1 0M1060 633l3-3M986 651l2-3M1086 794l2-2M920 694l2-1M1035 824l2-2M864 726l2-1M989 842l4-3M824 746l3 1M938 858l4-1M1200 600l6 3 1 1M1273 666l4 4 2 1M802 772l2 1M881 868l2 0M1181 615l2 1M1232 678l2 1M773 796l2 2M839 870l3 1M1114 616l5-2M1226 715l3 2M1358 806l5 4 1 0M782 601l4 1M857 668l3 3M1000 767l3 1M1101 868l3-1M1357 618l4 2M787 706l2 1M1297 618l2-1M1225 647l5-3M1361 756l3-1M1223 615l3-6 4-5 3-6 2-5 3-5 2-4M1240 897l3-6 2-5 3-6 2-6 2-6 3-6 2-5 3-6 2-6 3-5 3-6 3-6 3-5 2-4M1121 701l3-2M1254 814l4-2M1065 727l3 0M1210 832l5-3 4-3M1048 748l1 0M1131 866l2-1M736 667l3-5M791 867l3-5 4-5 2-3M1309 714l4-4M791 833l5-4 3-2M1243 746l3 1M1356 859l3-2M976 618l2 2M1019 673l2 3M1200 802l2 2M1251 865l2 1M911 614l3 0M1012 714l3 1M1164 817l4 4 1 1M1220 873l5 4M896 612l5-1M950 732l5 1M828 630l2-2M930 760l1-1M769 854l5 3M1096 619l4 1M1201 689l4 2M1355 762l2 1M1340 808l5 2M968 647l0 0M1110 750l2-1M1205 641l5-2M1364 731l2 0M1133 670l4-2M1305 760l2 0M1294 771l2-1M1012 735l2-1M1159 835l3-2M766 669l3 2M969 764l2 0M1087 854l3-1M1190 808l4 5 5 4 4 5 4 5 3 4 5 5 4 5 3 2M754 657l2-1M901 754l2 0M846 782l5-2 3-1M803 858l6 0M1137 622l5 3 5 4 5 4 5 4 5 3 4 4 4 3M1358 747l2 1M1355 795l4 4 3 3M868 782l6 3 1 1M987 863l6 0 0 0M1301 614l6 2 2 1"/>
<path stroke="#bfff00" d="M879 664l3-6 3-5 3-6 3-6 2-6 2-6 2-5 2-7 2-5 2-6 1-6 2-7 2-5 1-4M909 897l2-6 2-6 3-6 2-6 3-6 2-5 4-6 3-5 2-3M766 735l2 0M887 843l2-1M841 854l4-1M1130 611l5 3 5 3M1190 658l5 3 5 4 1 1M1339 752l6 2 0 1M1070 625l2 1M1139 697l2 2M1321 812l4 4M1365 853l1 1M911 666l2-1M1084 758l2-1M1198 741l1 0M997 669l2-2M1122 785l2-1M913 712l3-1M1062 814l3-2M976 847l3-2M1268 611l5 4 5 3 1 2M1289 628l4 3M1304 639l4 4 1 0M816 792l3 2M876 854l2 1M1214 629l4 2M1256 670l3 3M963 745l2 1M1069 850l3 0M736 666l1 1M1000 859l2 0M1319 624l3 2M1219 630l3-1M1132 658l3-2M1274 762l3-1M1073 684l2-1M1208 795l2-1M1006 718l2 0M1144 826l2-2M778 625l2 2M836 683l2 2M1018 800l3 2M1072 854l3 2M773 745l1 0M1293 635l2-1M1232 657l3-2M1355 772l2-1M1162 691l5-5 4-4 4-5 0-1M1218 863l4-5 4-4 4-5 4-4M1200 731l2 0M1305 845l3-1M1132 793l2 2M1190 854l2 1M834 626l2 0M911 713l2 1M777 802l2-1M1280 685l2-1M990 614l6 2 2 0M1079 682l5 4 1 0M1224 773l4 1M1326 859l3 0M870 641l5-2 2-1M1024 737l2 1M836 648l3-2M960 759l2 0M855 817l2-2M741 815l5 4 1 0M804 875l5 3M1063 630l5-3 2 0M1194 736l4 0M774 887l2 1M988 648l3-3M1084 797l2-3M922 693l2-2M1032 827l3-3M866 725l2-1M986 844l3-2M827 747l2 0M936 860l2-2M1207 604l5 3M1267 662l5 4 1 0M804 773l1 0M879 868l2 0M1183 616l2 2M1230 675l2 3M775 798l2 1M838 869l1 1M1119 614l3 0M1222 714l4 1M786 602l5 3 1 1M851 664l4 3 2 1M1003 768l3 1M1098 868l3 0M1361 620l4 4 1 1M785 705l2 1M1299 617l2-1M1230 644l4-3M1359 756l2 0M1124 699l2-2M1252 817l2-3M1068 727l4-1M1205 837l5-4 0-1M1049 748l2 0M1130 866l1 0M739 662l3-5 3-6 3-5 1-2M755 629l3-6 2-5 3-6 2-6 3-6 2-6 2-5 3-5M775 897l3-6 3-5 2-6 4-5 3-6 1-2M1313 710l4-4 4-5 2-3M1358 890l3-5 4-5 1-1M785 837l5-4 1 0M1246 747l2 0M1354 860l2-1M1198 762l5 2M978 620l3 2M1016 670l3 3M1202 804l2 3M1249 863l2 2M914 614l2-1M1010 713l2 1M1169 822l4 4M1216 870l4 3M901 611l6 1 6 3 2 2M938 724l4 5 6 2 2 1M830 628l2-1M928 760l2 0M736 828l0 0M763 850l5 4 1 0M1100 620l3 0M1197 687l4 2M1345 810l3 2M968 647l3-2M1108 750l2 0M1210 639l4-1M1361 730l3 1M1137 668l3-2M1302 761l3-1M1056 707l1 0M1284 774l6-2 4-1M1014 734l2 0M1156 836l3-1M762 666l4 3M971 764l2 1M1085 854l2 0M756 656l6-3 5-3 0 0M951 735l6 1M898 754l3 0M840 785l6-3M798 859l5-1M1360 748l1 0M1362 802l4 5M875 786l6 2 0 1M981 862l6 1M1309 617l5 2 0 0M1096 760l6 2 1 0M1248 853l1 0"/>
<path stroke="#80ff00" d="M768 735l2 0M885 844l2-1M838 854l3 0M1140 617l5 3 5 4M1180 650l5 4 5 3 0 1M1345 755l5 1M1072 626l2 1M1137 695l2 2M1325 816l5 4M1360 850l5 3M913 665l5-3 2-1M1079 758l5 0M1095 632l1 0M1196 741l2 0M999 667l2-2M1120 786l2-1M916 711l2-1M1059 816l3-2M854 744l0 0M973 848l3-1M819 794l2 3M873 852l3 2M1218 631l4 4M1251 666l5 4M965 746l1 0M1067 851l2-1M916 782l2 1M997 858l3 1M1322 626l4 2M860 804l5 3 5 4 2 1M944 868l5 3 1 0M1222 629l6-2 2 0M1357 723l3 1M1135 656l3-2M1272 762l2 0M1075 683l2-2M1206 797l2-2M1008 718l2-1M1141 827l3-1M780 627l3 2M833 681l3 2M1021 802l3 3M1069 852l3 2M1295 634l0 0M1235 655l2-2M1354 772l1 0M1175 676l4-6 2-5 3-6 2-6 2-6 2-7 1-6 2-6 1-7 2-6 1-5 1-7 2-7 2-6 1-6M1204 896l2-6 2-6 2-6 3-5 3-6 2-4M1202 731l1 0M1303 846l2-1M1134 795l3 2M1187 852l3 2M836 626l2 1M909 711l2 2M1342 661l1-1M775 804l2-2M1282 684l2-2M998 616l5 3M1073 678l5 4 1 0M1228 774l3 2M1323 859l3 0M877 638l6-3 0 0M1019 736l5 1M1179 833l1 1M1225 869l4 2M839 646l2-1M958 760l2-1M736 696l2-1M853 818l2-1M747 819l5 4M799 872l5 3M1070 627l4-3M1191 735l3 1M1350 840l4 4 2 1M762 877l4 4 5 4 3 2M991 645l4-4M1081 799l3-2M924 691l2-2M1030 829l2-2M868 724l2 0M984 846l2-2M829 747l1 0M933 861l3-1M1212 607l5 3M1263 658l4 4M805 773l2 1M878 867l1 1M1185 618l3 2M1228 673l2 2M777 799l2 2M835 867l3 2M1122 614l3-1M1220 713l2 1M792 606l4 3M846 659l4 4 1 1M1006 769l2 1M1098 868l0 0M1366 625h0M783 704l2 1M1301 616l2-1M1234 641l3-3M1357 757l2-1M1126 697l2-1M1249 819l3-2M1072 726l2 0M1201 840l4-3M1051 748l2 0M1128 867l2-1M1323 698l3-5 2-6 3-6 1-6 2-6 1-6 1-7 2-7 1-6 1-6 1-6 1-6 1-7 2-6 1-7 2-6 2-6 2-6 2-3M1354 897l3-5 1-2M782 840l3-3M1248 747l2 0M1352 861l2-1M991 600l3 2M1068 670l2 1M1203 764l5 2M1315 867l0 0M981 622l0 1M1013 666l3 4M1204 807l2 2M1246 861l3 2M916 613l3 0M1008 712l2 1M1173 826l4 4M1212 867l4 3M915 617l3 6 2 5 2 7 1 6 1 7 1 7 0 8 1 6 1 6 1 7 0 8 1 6 1 7 2 6 2 6 2 6 2 3M832 627l2-2M927 761l1-1M736 828l4 3M745 835l3 3M752 841l5 4 5 4 1 1M1103 620l3 1M1194 685l3 2M988 647l6-3 3-2M1174 729l3 0M971 645h0M1106 750l2 0M1214 638l3-2M1359 730l2 0M1140 666l3-3M1300 762l2-1M1057 707l6-2 0 0M1278 776l6-2 0 0M1016 734l2 0M1153 838l3-2M758 662l4 4M973 765l3 1M1082 855l3-1M767 650l6-3 1-1M946 734l5 1M896 755l2-1M836 787l4-2M795 859l3 0M881 789l4 2M977 861l4 1M1314 619l6 3M1103 762l6 2 1 1M1241 855l6-1 1-1"/>
<path stroke="#40ff00" d="M770 735l2 0M882 845l3-1M835 855l3-1M1150 624l4 3 5 5 5 3 4 5 5 4 5 4 2 2M1350 756l3 1M1074 627l2 1M1134 694l3 1M1330 820l4 4 1 1M1354 844l3 3M920 661l5-4M1075 758l4 0M1096 632l2-1M1194 740l2 1M1001 665l3-2M1118 788l2-2M918 710l2 0M1056 818l3-2M854 744l3 0M971 848l2 0M821 797l3 2M871 850l2 2M1222 635l4 4 1 1M1246 660l4 4 1 2M966 746l2 0M1065 851l2 0M918 783l2 1M995 857l2 1M1326 628l4 4M1364 665l2 2M872 812l5 4 4 3M935 864l3 1M941 867l3 1M1230 627l5-1M1353 721l4 2M1138 654l2-2M1270 762l2 0M1077 681l3-1M1204 798l2-1M1010 717l2 0M1138 829l3-2M1034 746l2 1M1184 846l5-3 1 0M783 629l3 2M830 678l3 3M1024 805l3 3M1066 849l3 3M1237 653l3-2M1352 773l2-1M1203 731l2 0M1301 848l2-2M1137 797l3 3M1184 850l3 2M838 627l3 1M907 710l2 1M1343 660l5-3 3-2M773 805l2-1M1284 682l2-2M1003 619l4 2M1068 675l5 3M1231 776l3 2M1320 858l3 1M883 635l4-1M1015 735l4 1M1180 834l5 4 5 4 5 4 5 4 5 4 4 4 5 3 5 4 5 4 1 0M841 645l2-1M956 760l2 0M738 695l2-1M850 821h0M752 823l4 4M795 869l4 3M1074 624l3-1M1188 735l3 0M1356 845l5 5 4 4 1 1M736 853l4 4 5 5 4 4 5 4 4 4 4 3M995 641l3-5 1 0M1078 803l3-4M926 689l2-1M1027 833l3-4M870 724l2-1M981 848l3-2M830 747l2 0M931 862l2-1M1217 610l4 3M1259 654l4 4M807 774l1 1M876 867l2 0M1188 620l2 3M1225 670l3 3M779 801l2 2M833 866l2 1M1125 613l2 0M1218 712l2 1M796 609l4 3M841 655l5 4M1008 770l1 1M781 702l2 2M1303 615l1 0M1237 638l3-2M1355 757l2 0M1128 696l2-2M1247 822l2-3M1074 726l2-1M1198 842l3-2M1053 748l1 0M1126 868l2-1M779 843l3-3M1250 747l1 0M1350 862l2-1M994 602l5 3 1 0M1061 664l5 4 2 2M1208 766l4 2M1311 868l4-1M987 629l1 2M1009 661l3 5 1 0M1206 809l3 3M1244 859l2 2M919 613l2 0M1006 711l2 1M1177 830l5 4 0 1M1207 863l5 4 0 0M834 625l3-2M925 762l2-1M748 838l4 3M1106 621l3 1M1191 684l3 1M997 642l6-2 2-1M1168 728l6 1M977 642l1-1M1104 751l2-1M1217 636l3-1M1356 730l3 0M1143 663l3-2M1298 762l2 0M1063 705l5-2M1274 778l4-2M1018 734l2 0M1149 840l4-2M752 657l4 4 2 1M976 766l2 0M1080 855l2 0M774 646l6-2M942 734l4 0M1100 803l6 3 5 3M1209 869l6 1 2 0M894 755l2 0M832 788l4-1M792 858l3 1M1365 749l1 0M973 860l4 1M1320 622l5 4M1366 659l0 1M860 615l6 1M966 686l2 2M1110 765l4 2M1237 856l4-1"/>
<path stroke="#00ff00" d="M772 735l1 0M880 846l2-1M833 855l2 0M1353 757l3 1M1076 628l3 2M1132 691l2 3M1340 830l5 5 3 3M1351 842l3 2M925 657l4-2M1072 759l3-1M1098 631l2-1M1193 740l1 0M1004 663l3-2M1116 789l2-1M920 710l2-1M1054 820l2-2M857 744l1 1M969 849l2-1M824 799l3 3M867 848l4 2M1227 640l4 4 5 5 3 4M1244 658l2 2M968 746l2 1M1063 852l2-1M920 784l3 2M993 857l2 0M1330 632l4 4 1 0M1359 660l4 5 1 0M881 819l5 4 3 2M933 862l2 2M1235 626l3 0M1349 720l4 1M1140 652l3-1M1268 763l2-1M1080 680l2-2M1202 799l2-1M1012 717l2-1M1136 830l2-1M1036 747l6 1 0 1M1177 848l5-2 2 0M786 631l3 2M827 675l3 3M1027 808l4 4M1062 846l4 3M1240 651l2-1M1350 774l2-1M1205 731l2 0M1298 849l3-1M1140 800l3 3M1181 847l3 3M841 628l2 1M904 708l3 2M882 754l6 0 1 0M1351 655l6-3M770 807l3-2M1286 680l3-2M1007 621l4 2M1064 671l4 4M1234 778l2 1M1318 858l2 0M887 634l3-1M1012 734l3 1M843 644l3-2M955 760l1 0M740 694l2-2M847 823l3-2M756 827l4 5M791 865l4 4M1077 623l3-2M1186 735l2 0M1004 657l3-3M1161 754l2-1M999 636l3-5 2-2M1074 808l4-5M928 688l2-3M1024 836l3-3M872 723l1 0M979 850l2-2M832 747l2 0M929 863l2-1M1221 613l4 4M1254 650l5 4M808 775l2 1M874 867l2 0M1190 623l3 3M1222 666l3 4M781 803l2 2M831 865l2 1M1127 613l2 0M1216 711l2 1M800 612l4 3M837 651l4 4M1009 771l2 1M779 700l2 2M1304 615l2-1M1240 636l2-2M1353 758l2-1M1130 694l2-1M1244 824l3-2M1076 725l2-1M1195 845l3-3M1054 748l2 0M1123 868l3 0M1251 747l2 0M1348 863l2-1M1000 605l4 3M1056 660l5 4 0 0M1212 768l2 1M1308 868l3 0M988 631l4 5 3 5 4 5 3 6 4 5 3 4M1209 812l3 4M1240 855l4 4M921 613l1 0M1004 710l2 1M1182 835l4 4 2 2M1201 856l4 5 2 2M837 623l2-2M923 763l2-1M1109 622l3 1M1188 682l3 2M1005 639l5-2M1164 727l4 1M1359 820l3 2M978 641l4-2M1101 751l3 0M1220 635l3-1M1354 730l2 0M1146 661l3-2M1296 763l2-1M1068 703l3-2M1270 779l4-1M1020 734l3-1M1146 842l3-2M736 643l5 4 4 4 5 4 2 2M978 766l2 1M1077 855l3 0M780 644l4-2M939 734l3 0M1111 809l5 3 3 1M1201 866l6 2 2 1M736 658l2-1M892 756l2-1M829 790l3-2M789 858l3 0M970 859l3 1M1325 626l5 3 1 1M1360 654l4 4 2 1M866 616l5 1 1 0M959 682l6 3 1 1M1114 767l4 1M1233 856l4 0"/>
<path stroke="#00ff40" d="M773 735l2 0M878 847l2-1M830 855l3 0M1356 758l2 1M1079 630l3 2M1129 689l3 2M929 655l2-1M1070 759l2 0M1100 630l2 0M1191 740l2 0M1007 661l3-2M1113 791l3-2M922 709l2-1M1051 821l3-1M858 745l2 0M967 850l2-1M827 802l4 4M864 844l3 4M970 747l2 0M1062 852l1 0M923 786l2 2M991 856l2 1M1335 636l4 4 4 4M1350 652l4 4 5 4M889 825l5 4 2 2M919 852l5 4M1238 626l3-1M1347 719l2 1M1143 651l2-2M1266 763l2 0M1082 678l2-1M1199 801l3-2M1014 716l2 0M1134 832l2-2M1042 749l4 1M1172 850l5-2M789 633l4 4M823 671l4 4M1031 812l4 5 1 0M1057 841l5 4 0 1M765 745l2 0M1242 650l3-3M1348 775l2-1M1207 731l2 0M1296 850l2-1M1143 803l4 5M1177 843l4 4M843 629l3 1M901 706l3 2M878 754l4 0M1357 652l4-2M767 809l3-2M1289 678l3-2M1011 623l4 3M1060 668l4 3M1236 779h0M1316 857l2 1M890 633l3-1M1010 734l2 0M846 642l2-1M953 761l2-1M742 692l3-2M843 826l4-3M760 832l5 4 1 1M786 860l4 5 1 0M1080 621l2-1M1184 735l2 0M1007 654l5-3 3-3M1156 755l5-1M1004 629l3-5 4-5 0 0M1068 816l4-5 2-3M930 685l3-2M1021 839l3-3M873 723l2-1M977 852l2-2M834 747l1 0M928 863l1 0M1225 617l4 4 1 1M1249 644l4 4 1 2M810 776l2 1M872 866l2 1M1193 626l4 5 1 1M1217 660l4 5 1 1M783 805l3 2M829 863l2 2M1129 613l2 0M1214 711l2 0M804 615l4 4M833 646l4 5 0 0M1011 772l2 0M775 697l4 3M1306 614l2 0M756 734l1 0M1242 634l3-2M1352 759l1-1M1132 693l1-2M1242 827l2-3M1078 724l2 0M1192 847l3-2M1056 748l3 1M1120 869l3-1M1253 747l1 0M1346 864l2-1M1004 608l5 3M1052 656l4 4M1214 769l2 1M1306 868l2 0M1212 816l4 5 1 1M1236 850l4 5 0 0M922 613l2 0M1003 710l1 0M1188 841l4 5 4 5 4 4 1 1M839 621l3-2M921 764l2-1M1112 623l1 0M1185 680l3 2M1010 637l4-2M1161 726l3 1M1362 822l4 4M982 639l4-3M1098 752l3-1M1223 634l2-1M1352 729l2 1M1149 659l4-3M1294 764l2-1M1071 701l3-1M1267 781l3-2M1023 733l2 0M1142 844l4-2M980 767l2 1M1074 855l3 0M784 642l3-2M937 733l2 1M1119 813l6 3 1 1M1195 864l6 2 0 0M738 657l3-2M890 756l2 0M826 792l3-2M787 858l2 0M894 796l2 2M967 858l3 1M1331 630l4 3 5 4M1359 654l1 0M872 617l5 2M954 679l5 3M1118 768l3 1M1230 856l3 0"/>
<path stroke="#00ff80" d="M775 735l2 1M876 848l2-1M829 855l1 0M1358 759l2 1M1082 632l3 3M1125 685l4 4M1068 759l2 0M1102 630l2-1M1188 740l3 0M1010 659l3-3M1110 793l3-2M924 708l1-1M1049 823l2-2M860 745l2 0M965 851l2-1M831 806l5 5 1 2M858 839l4 4 2 1M972 747l1 1M1059 853l3-1M925 788l2 1M988 854l3 2M1343 644l4 4 3 4M900 835l4 4 5 4 5 4 4 4 1 1M1241 625l2 0M1344 718l3 1M1145 649l2-1M1265 764l1-1M1084 677l3-3M1197 803l2-2M1016 716l2-1M1132 833l2-1M1046 750l3 0M1169 851l3-1M793 637l4 5 2 1M817 664l4 5 2 2M1036 817l4 5 4 5 4 4 5 5 4 4 0 1M763 745l2 0M1304 630l2-1M1245 647l3-2M1345 776l3-1M1209 731l3-1M1292 851l4-1M1147 808l4 4 3 3M1170 836l4 5 3 2M846 630l5 3M897 702l4 4M874 754l4 0M1361 650l3-2M764 812l3-3M1292 676l4-4M1015 626l5 3M1056 664l4 4M1314 857l2 0M893 632l3-1M1008 733l2 1M848 641l3-2M951 761l2 0M745 690l3-2M839 829l4-3M766 837l4 5 4 5 4 4 4 5 4 4M1082 620l2-1M1183 735l1 0M1015 648l5-4 0 0M1152 755l4 0M1011 619l3-5 4-6 3-5 3-5 2-6 1-2M1055 841l2-5 3-6 3-5 4-6 1-3M933 683l3-3M1017 844l4-5M875 722l1 0M975 853l2-1M835 747l2 0M926 864l2-1M1230 622l4 4 4 5 4 5 4 5 3 3M812 777l2 2M870 865l2 1M1198 632l4 5 3 5 4 5 3 6 4 5 1 2M786 807l2 3M827 861l2 2M1131 613l2 0M1212 710l2 1M808 619l5 5 2 2M826 639l4 5 3 2M1013 772l1 1M1089 868h0M736 623l3 4M770 690l4 5 1 2M1308 614l3-1M754 734l2 0M1245 632l2-2M1350 759l2 0M1133 691l2-1M1239 830l3-3M1080 724l2-1M1190 849l2-2M1059 749l4 0M1116 869l4 0M1254 747l2 0M1344 864l2 0M1009 611l3 3M1048 652l4 4M1216 770l2 0M1304 868l2 0M1217 822l3 5 4 5 3 6 4 5 3 5 2 2M924 613l2 0M1001 709l2 1M842 619l3-3M919 765l2-1M1182 678l3 2M1014 635l3-1M1158 726l3 0M986 636l6-3M1094 753l4-1M1225 633l3-1M1350 729l2 0M1153 656l4-2M1291 765l3-1M1074 700l3-1M1264 782l3-1M1025 733l3 0M1138 846l4-2M982 768l3 1M1071 855l3 0M787 640l4-2M935 733l2 0M1126 817l5 4 1 0M1189 862l6 2M741 655l3-2M888 757l2-1M823 794l3-2M785 857l2 1M896 798l3 2M964 857l3 1M1340 637l4 4 2 2M877 619l4 2M950 676l4 3M1121 769l2 1M1228 856l2 0"/>
<path stroke="#00ffbf" d="M777 736l2 0M874 849l2-1M736 762l0 0M827 855l2 0M1360 760l2 1M1085 635l5 4 0 1M1120 680l4 4 1 1M1066 760l2-1M1104 629l3-1M1186 739l2 1M1013 656l4-4M1107 796l3-3M925 707l2 0M1047 825l2-2M862 745l2 1M963 851l2 0M837 813l4 5 4 4 3 5 4 5 4 5 2 2M973 748l3 0M1057 853l2 0M927 789l3 2M986 853l2 1M1243 625l2 0M1342 717l2 1M1147 648l3-2M1263 764l2 0M1087 674l3-2M1194 805l3-2M1018 715l1 0M1129 835l3-2M1049 750l3 1M1166 851l3 0M799 643l4 5 4 4 4 5 4 5 2 2M761 745l2 0M1306 629l4-1M1248 645l4-3M1342 778l3-2M1212 730l3 0M1288 853l4-2M1154 815l4 5 3 5 4 5 4 5 1 1M851 633l4 4 3 3M890 694l4 5 3 3M872 754l2 0M1364 648l2-1M760 815l4-3M1296 672l4-4 1-1M1020 629l4 4 0 0M1051 659l4 4 1 1M1312 856l2 1M896 631l2-1M1006 733l2 0M851 639l2-1M949 762l2-1M748 688l5-4M834 835l4-4 1-2M1084 619l2 0M1181 734l2 1M1020 644l4-3M1150 756l2-1M1027 590l3-5 0-1M1031 897l3-6 2-6 2-5 3-6 2-6 3-6 2-5 2-6 3-6 2-4M936 680l3-5M1012 850l4-4 1-2M876 722l2-1M972 855l3-2M837 747l1 0M924 865l2-1M814 779l2 2M868 864l2 1M788 810l3 3M824 858l3 3M1133 613l2 0M1211 709l1 1M815 626l4 5 4 5 3 3M1014 773l2 1M1088 868l1 0M739 627l3 5 3 5 3 6 3 6 2 5 2 6 3 6 2 6 3 6 3 5 3 6 1 1M1311 613l3-1M753 734l1 0M1247 630l2-2M1348 760l2-1M1135 690l2-2M1236 832l3-2M1082 723l1 0M1188 851l2-2M1063 749l5 2 1 0M1109 869l6 1 1-1M1256 747l1 1M1343 865l1-1M1012 614l5 5M1043 648l5 4 0 0M1218 770l2 1M1303 868l1 0M926 613l1 1M999 708l2 1M845 616l3-4M916 767l3-2M1179 676l3 2M1017 634l4-1M1156 725l2 1M992 633l5-3 1-1M1090 754l4-1M1228 632l3-1M1348 729l2 0M1157 654l4-3M1288 766l3-1M1077 699l3-2M1262 783l2-1M1028 733l4-1M1133 849l5-3M985 769l3 1M1068 855l3 0M791 638l3-1M932 733l3 0M1132 821l5 3 0 1M1184 859l5 3M744 653l4-3M886 757l2 0M820 795l3-1M782 856l3 1M899 800l3 2M961 855l3 2M881 621l4 2M946 673l4 3M1123 770l2 1M1225 856l3 0"/>
<path stroke="#00ffff" d="M779 736l1 0M872 850l2-1M736 762l2 1M825 855l2 0M1362 761l2 1M1090 640l4 4 4 5 1 2M1111 668l4 5 4 5 1 2M1064 760l2 0M1107 628l4 0M1183 739l3 0M1017 652l5-4 1-2M1106 796l1 0M927 707l2-1M1044 826l3-1M864 746l1 0M961 852l2-1M976 748l2 1M1054 853l3 0M930 791l2 3M983 851l3 2M1245 625l3 0M1340 716l2 1M1150 646l2-1M1261 765l2-1M1090 672l3-3M1191 808l3-3M1019 715l2-1M1127 837l2-2M1052 751l2 1M1164 852l2-1M758 745l3 0M1310 628l4-1M1252 642l4-4M1339 780l3-2M1215 730l6 0M1282 855l6-2 0 0M858 640l3 4 4 6 3 5 3 6 3 5 3 6 3 5 3 5 3 6 3 5 1 1M736 648l1-1M869 754l3 0M755 820l5-4 0-1M1301 667l5-4 4-5 1-2M1024 633l5 5 3 2M1043 652l4 4 4 3M1310 855l2 1M898 630l2 0M1004 733l2 0M853 638l3-2M946 763l3-1M753 684l4-4 4-4M824 845l4-5 4-4 2-1M1086 619l2-1M1180 734l1 0M1024 641l3-3M1147 757l3-1M939 675l4-5 1-2M1006 859l3-4 3-5M878 721l1-1M970 857l2-2M838 747l1 1M922 865l2 0M816 781l3 2M865 862l3 2M791 813l3 4M820 854l4 4M1135 613l1 1M1209 708l2 1M1016 774l2 1M1086 867l2 1M1314 612l4 0M751 734l2 0M1249 628l2-1M1347 761l1-1M1137 688l3-2M1234 836l2-4M1083 723l2-1M1185 852l3-1M1069 751l5 4 4 5 3 6 1 5 2 7 1 7 1 6 1 6 1 8 1 7 1 8 0 7 1 7 1 7 2 6 1 6 2 6 4 5 4 4 4 1M766 852l1 0M1257 748l2 0M1341 866l2-1M1017 619l4 4 2 1M1037 641l5 5 1 2M1220 771l2 1M1301 868l2 0M927 614l2 0M998 707l1 1M848 612l5-4 0-1M912 771l4-4M1176 673l3 3M1021 633l2-1M1154 725l2 0M998 629l6-3 5-3 1-1M1081 757l6-2 3-1M1231 631l2-1M1346 728l2 1M1161 651l5-4M1285 768l3-2M1080 697l2-1M1259 785l3-2M1032 732l4-1M1127 853l5-3 1-1M988 770l4 2M1063 854l5 1M794 637l3-1M930 733l2 0M1137 825l5 3 1 1M1178 855l5 3 1 1M748 650l3-2M883 758l3-1M818 797l2-2M780 856l2 0M902 802l3 3M958 854l3 1M885 623l3 2M942 670l4 3M1125 771l3 1M1223 856l2 0"/>
<path stroke="#00bfff" d="M780 736l3 0M869 851l3-1M738 763l2 0M823 855l2 0M1364 762l2 0M1099 651l4 5 4 5 3 5 1 2M941 648l1-1M1062 760l2 0M1111 628l4-1M1179 738l4 1M1023 646l5-4 4-5 3-4M1092 811l4-5 0-1M929 706l2-1M1042 828l2-2M865 746l2 0M958 852l3 0M978 749l3 1M1051 854l3-1M932 794l3 2M980 849l3 2M1248 625l2 0M1338 715l2 1M1152 645l3-2M1259 765l2 0M1093 669l4-4M1186 812l5-4M1021 714l2-1M1124 839l3-2M1054 752l2 0M1162 852l2 0M754 745l4 0M1314 627l6-1 1 0M1256 638l5-3 2-2M1333 784l5-4 1 0M1221 730l6 0 6 0 3 1M1265 857l6 1 6-1 5-2M737 647l3-1M867 754l2 0M747 829l5-5 3-4M1317 647l3-5 3-5 3-6 2-5 2-6 3-6 2-6 2-6 2-7 1-2M1352 870l2-6 3-5 3-6 3-6 3-5M1032 640l1 1M1037 646l5 4 1 2M1307 854l3 1M900 630l2-1M1002 732l2 1M856 636l4-3M944 764l2-1M761 676l4-5 4-5 3-5 3-6 2-6 3-6 2-6 2-6 2-5 1-6 2-7 2-6 2-7 1-6 2-6 1-4M798 897l2-6 2-7 2-5 2-6 3-5 3-6 3-5 4-5 4-5 1-2M1088 618l1-1M1178 734l2 0M1027 638l3-2M1146 757l1 0M944 668l4-5 3-6 3-5 1-1M993 880l3-6 3-5 4-5 3-5M879 720l2-1M968 859l2-2M839 748l2 0M921 866l1-1M819 783l4 5M861 859l4 3M794 817l4 5 2 3M815 847l4 5 1 2M1136 614l2 0M1208 707l1 1M1018 775l1 1M1084 867l2 0M1318 612l6 0 2 0M1364 730l2 1M749 733l2 1M1251 627l2-2M1345 761l2 0M1140 686l2-3M1230 839l4-3M1085 722l1-1M1183 854l2-2M764 854l2-2M1259 748l1 0M1339 866l2 0M1023 624l4 5 4 5 4 5 2 2M1222 772l1 1M1299 868l2 0M929 614l2 0M996 706l2 1M853 607l5-4 4-5 1-2M904 780l4-5 4-4M1125 628l4 3M1172 670l4 3M1023 632l3-1M1152 724l2 1M1010 622l5-3 6-3 5-4 5-3 4-4 4-5 3-6 2-7 0-3M1044 896l1-8 1-2M1050 799l1-6 1-7 1-6 3-6 4-5 4-4 5-3 6-3 6-2 0 0M1233 630l3-1M1344 728l2 0M1166 647l5-4 1-1M1281 770l4-2M1082 696l3-2M1257 786l2-1M1036 731l6-1 2-1M1117 858l5-3 5-2M992 772l5 4 1 0M1057 853l6 1 0 0M797 636l2-2M928 733l2 0M1143 829l5 4 3 2M1170 850l5 3 3 2M751 648l4-3M881 759l2-1M815 799l3-2M778 855l2 1M905 805l3 2M955 852l3 2M888 625l4 2M938 667l4 3M1128 772l2 1M1221 856l2 0"/>
<path stroke="#0080ff" d="M783 736l2 0M866 852l3-1M740 763l2 1M821 855l2 0M1366 762l0 1M942 647l2-2M1060 761l2-1M1115 627l6 0 2 1M1172 736l6 2 1 0M1035 633l3-5 4-5 3-5 3-6 2-6 3-6 2-5 2-6 1-5M1059 897l1-6 2-6 2-7 2-6 1-6 2-6 2-7 2-6 2-6 3-6 2-6 3-5 3-5 4-6 2-2M931 705l2-1M1039 830l3-2M867 746l2 1M956 853l2-1M981 750l3 1M1047 853l4 1M935 796l4 4M977 846l3 3M1250 625l2 1M1336 714l2 1M1155 643l2-2M1257 766l2-1M1097 665l5-4 2-2M1180 818l4-4 2-2M1023 713l2-1M1121 841l3-2M1056 752l2 1M1160 853l2-1M748 744l6 1 0 0M1321 626l6 0 6 2 5 4 3 5 2 7 2 6 1 6 1 7 1 6 1 7 1 7 0 7 1 7 1 6 1 7 2 7 1 6 2 6 3 5 4 5 1 1M1263 633l5-5 4-4 4-5 3-5M1320 798l3-5 5-4 4-4 1-1M1236 731l5 4 3 6 1 6 2 7 0 7 1 7M1252 823l1 7 1 6 1 6 1 6 3 6 6 3M740 646l2-2M866 754l1 0M736 845l3-6 4-5 3-4 1-1M1248 787l2 2M1305 852l2 2M902 629l2 0M1000 732l2 0M860 633l5-3M940 765l4-1M1089 617l2-1M1177 734l1 0M1030 636l2-2M1144 758l2-1M955 651l3-6 2-5 3-6 2-6 3-5 2-6 2-6 3-6 2-6 3-5 2-6 2-4M984 897l3-6 3-5 3-6 0 0M881 719l2-1M966 861l2-2M841 748l2 0M919 867l2-1M823 788l4 5 3 5 1 2M855 852l4 5 2 2M800 825l3 5 4 5 3 5 4 5 1 2M1138 614l1 0M1206 706l2 1M1019 776l2 1M1082 866l2 1M1326 612l5 3 4 5 3 6 2 6 1 7 1 7 1 6 1 7 1 8 0 6 1 6 1 8 1 7 1 7 1 7 2 6 2 6 3 5 5 4 2 1M746 733l3 0M1253 625l3-2M1344 762l1-1M1142 683l3-3M1226 844l4-5M1086 721l2 0M1181 856l2-2M762 856l2-2M1260 748l2 0M1337 867l2-1M1223 773l2 1M1298 868l1 0M931 614l1 1M995 705l1 1M863 596l4-6 3-5 0-1M871 897l2-6 2-6 2-6 1-6 2-7 1-6 2-7 1-6 1-6 1-6 1-7 1-6 2-6 1-7 2-6 2-6 2-6 3-6 4-5 0 0M1129 631l5 4 0 0M1166 666l5 4 1 0M1026 631l3-1M1150 724l2 0M1236 629l3-1M1342 728l2 0M1172 642l5-4 4-3M1275 773l5-3 1 0M1085 694l3-1M1254 788l3-2M1044 729l6-1 6-2 6-1 5-2 7-1 3 7M1079 867l4 5 6-2 6-2 5-2 6-3 5-2 6-3M998 776l4 4 5 4 2 2M1045 845l5 4 5 3 2 1M799 634l3-1M926 732l2 1M1151 835l5 4 5 4 5 3 4 4M755 645l5-3M878 760l3-1M812 801l3-2M775 854l3 1M908 807l4 4M952 849l3 3M892 627l4 3M934 664l4 3M1130 773l2 1M1218 856l3 0"/>
<path stroke="#0040ff" d="M785 736l3 0M862 853l4-1M742 764l2 1M818 854l3 1M944 645l3-1M1059 761l1 0M1123 628l6 2 5 4 3 5 3 6 2 6 2 7 1 7 1 6 2 7 1 6 1 7 1 7 2 6 1 6 2 6 3 6 3 5 4 5 5 3 1 1M933 704l3-1M1036 833l3-3M869 747l2 0M954 853l2 0M984 751l3 1M990 754l0 0M1040 852l6 1 1 0M939 800l4 4 0 1M972 842l5 4 0 0M1252 626l2 0M1334 713l2 1M1157 641l3-2M1255 767l2-1M1104 659l4-5 4-5 3-5 2-3M1167 835l3-5 4-5 4-5 2-2M1025 712l3-1M1118 843l3-2M1058 753l2 0M1158 853l2 0M736 738l5 4 6 2 1 0M1279 614l4-5 3-5 2-6 2-6 2-6 0-2M1293 897l1-7 2-5 1-7 1-7 2-6 1-6 1-6 1-7 1-6 2-6 1-6 2-6 2-6 2-6 3-6 3-5 1-1M742 644l3-1M864 755l2-1M1250 789l2 2M1302 850l3 2M904 629l2-1M999 731l1 1M865 630l5-3 2-1M934 767l5-2 1 0M1091 616l2 0M1175 734l2 0M1032 634l3-2M1142 759l2-1M883 718l2-1M963 863l3-2M843 748l1 0M917 867l2 0M831 800l3 6 3 6 2 5 2 6 2 4M1139 614l2 1M1205 705l1 1M1021 777l2 1M1080 866l2 0M742 732l4 1M1256 623l2-2M1342 763l2-1M1145 680l4-5M1222 850l4-5 0-1M1088 721l2-1M1179 858l2-2M760 858l2-2M1262 748l2 0M1335 867l2 0M1225 774l1 1M1296 867l2 1M932 615l2 1M993 704l2 1M1134 635l5 4 3 3M1158 658l5 4 3 4M1029 630l2-1M1147 724l3 0M1239 628l4-1M1339 727l3 1M1181 635l5-4 4-4 5-4 4-5M1262 783l4-4 5-3 4-3M1088 693l2-2M1251 789l3-1M1009 786l3 5 4 5 3 5 3 5M1030 822l3 6 3 5 4 5 4 5 1 2M802 633l3-1M924 732l2 0M760 642l5-3 0-1M874 761l4-1M809 803l3-2M772 852l3 2M912 811l4 4M947 846l5 3M896 630l5 4M929 660l5 4 0 0M1132 774l2 2M1216 855l2 1"/>
<path stroke="#0000ff" d="M788 736l4 0M858 854l4-1M744 765l2 2M816 854l2 0M947 644l2-2M1057 762l2-1M936 703l2-2M1033 835l3-2M871 747l2 1M951 853l3 0M990 754l5 4 4 5 4 5 2 6 2 5 2 6 2 6 2 6 1 6 2 6 2 7 2 6 1 6 3 5 2 6 4 5 4 4 5 3 1 1M943 805l4 5 4 4 0 1M964 833l4 4 4 5M1254 626l2 0M1332 712l2 1M1160 639l4-2M1252 768l3-1M1117 641l4-5 3-6 2-6 3-6 3-6 2-5 2-7 2-6 2-6 1-4M1142 897l2-6 2-6 1-6 1-1M1152 865l3-6 2-6 3-5 3-6 3-5 1-2M1028 711l4-1M1113 846l5-3M1060 753l2 1M1156 853l2 0M745 643l2-1M862 755l2 0M1252 791l4 3M1299 848l3 2M906 628l2 0M997 731l2 0M872 626l5-4 5-3 5-4 4-5 3-5 3-6 2-6 1-7 0-1M901 896l1-8 0-5M907 816l0-6 1-7 1-6 2-6 2-6 3-5 4-4 5-4 5-3 4-2M1093 616l2-1M1174 734l1 0M1035 632l2-2M1141 759l1 0M885 717l2-1M960 866l3-3M844 748l2 0M914 868l3-1M1141 615l2 0M1203 704l2 1M1023 778l2 2M1078 864l2 2M736 730l6 2 0 0M1258 621l3-2M1340 764l2-1M1149 675l3-5 2-1M1215 859l4-5 3-4M1090 720l1-1M1177 860l2-2M757 860l3-2M1264 748l2 0M1333 868l2-1M1226 775l2 0M1294 867l2 0M934 616l3 1M990 702l3 2M1142 642l4 4 5 4 4 5 3 3M1031 629l3 0M1146 723l1 1M1243 627l4 0M1336 727l3 0M1199 618l4-4 4-5 4-5 3-6 3-5 3-6 1-3M1221 897l3-6 2-7 1-6 2-6 1-7 2-6 1-6 1-6 2-6 1-7 2-6 2-6 2-6 2-6 2-6 3-5 3-6 4-5 4-4 1-1M1090 691l3-1M1249 791l2-2M805 632l3-1M922 732l2 0M765 638l5-3 2-1M869 763l5-2M806 805l3-2M769 851l3 1M916 815l5 4 2 2M941 840l5 4 1 2M901 634l4 4 3 2M922 653l4 4 3 3M1134 776l2 1M1214 855l2 0"/>
<path stroke="#4000ff" d="M792 736l6 1 2 0M849 855l6 0 3-1M746 767l2 1M814 853l2 1M949 642l3-1M1055 762l2 0M938 701l3-2M1028 839l5-4M873 748l3 1M949 854l2-1M951 815l4 5 4 5 3 5 2 3M1256 626l2 1M1330 711l2 1M1164 637l4-3M1249 769l3-1M1032 710l4-3M1107 851l5-4 1-1M1062 754l1 1M1154 854l2-1M747 642l2-2M860 755l2 0M1256 794l4 5M1295 844l4 4M908 628l2 0M995 730l2 1M1095 615l1-1M1172 734l2 0M1037 630l2-1M1139 760l2-1M887 716l3-3M956 870l4-4M846 748l3 0M912 869l2-1M1143 615l2 1M1201 703l2 1M1025 780l3 3M1075 863l3 1M1261 619l3-3M1338 766l2-2M1154 669l3-6 3-5 3-5M1203 878l4-5 3-6 3-5 2-3M1091 719l2-1M1174 862l3-2M755 862l2-2M1266 748l2 1M1330 869l3-1M1228 775l2 2M1292 867l2 0M937 617l2 1M988 700l2 2M1034 629l2-1M1143 723l3 0M1247 627l5-1M1331 726l5 1M1093 690l3-2M1246 793l3-2M808 631l3-1M920 732l2 0M772 634l5-4 5-4 2-1M861 767l6-2 2-2M802 808l4-3M765 848l4 3M923 821l3 4M939 838l2 2M908 640l5 4 4 4 4 5 1 0M1136 777l2 1M1212 854l2 1"/>
<path stroke="#8000ff" d="M800 737l6 2 5 4 3 6 2 6 2 6 2 7 1 6 1 6 0 7 1 8 1 7 1 7 1 7 1 6 1 6 1 6 2 7 2 5 4 5 5 3 6 1 1 0M748 768l3 2M811 852l3 1M952 641l2-2M1053 763l2-1M941 699l5-3M1023 844l4-4 1-1M876 749l3 1M945 854l4 0M1258 627l2 0M1328 710l2 1M1168 634l5-4 1 0M1245 771l4-2M1036 707l5-3 5-4M1095 861l5-4 5-4 2-2M1063 755l2 0M1152 854l2 0M749 640l2-1M858 755l2 0M1260 799l4 4 2 4M1288 837l4 5 3 2M910 628l2 0M993 730l2 0M1096 614l2 0M1170 734l2 0M1039 629l2-2M1138 760l1 0M890 713l5-3M950 876l4-5 2-1M849 748l3 1M908 869l4 0M1145 616l3 2M1198 701l3 2M1028 783l4 4M1071 860l4 3M1264 616l3-4M1335 768l3-2M1163 653l3-6 3-5 2-6 3-6 2-6 3-6 2-5 3-6 2-6 2-6 3-5 2-6M1194 897l2-6 3-5 3-6 1-2M1093 718l2-1M1171 864l3-2M752 865l3-3M1268 749l4 0M1326 869l4 0M1230 777l1 1M1291 866l1 1M939 618l4 3M984 696l4 4M1036 628l3-1M1141 722l2 1M1252 626l6 0 2 0M1324 723l6 2 1 1M1096 688l3-3M1242 795l4-2M811 630l3-1M918 732l2 0M784 625l5-4 5-4 4-4 4-5 4-4 4-6 3-5 2-6 1-3M817 896l1-6 2-7 1-6 1-7 2-7 0-6 1-6 1-6 1-6 1-6 1-7 1-6 1-7 2-6 2-6 2-6 2-6 4-5 4-5 4-5 5-3 5-4M797 812l5-4M760 844l5 4 0 0M1138 778l3 2M1209 853l3 1"/>
<path stroke="#bf00ff" d="M751 770l4 3M806 850l5 2M954 639l3-2M1051 763l2 0M946 696l5-4 3-3M1013 854l4-5 4-4 2-1M879 750l5 2M939 853l6 1M1260 627l2 1M1326 708l2 2M1174 630l4-4 5-4 2-1M1235 777l5-3 5-3M1046 700l5-4 3-5 3-6 3-5 2-6 1-6 2-7 1-6 1-7 1-6 0-7 1-7 1-8 1-7 1-6 1-7 1-6 1-6 1-4M1076 896l2-7 2-5 2-6 4-5 3-5 4-5 2-2M1065 755l2 1M1150 854l2 0M751 639l3-1M857 756l1-1M1266 807l4 5 3 5 4 5 3 5 4 5 4 5 0 0M912 628l3 0M991 729l2 1M1098 614l3-1M1168 734l2 0M1041 627l2-2M1136 761l2-1M895 710l4-5 4-5 3-5 2-5M934 585l1-1M935 897l3-6 3-5 4-5 4-4 1-1M852 749l5 1M902 870l6-1M1148 618l3 2M1195 698l3 3M1032 787l3 4 3 4M1065 852l3 5 3 3M1267 612l5-4 1-1M1331 771l4-3M1095 717l3-2M1168 868l3-4M748 868l4-3M1272 749l6 2 0 0M1319 869l6 1 1-1M1231 778l2 1M1288 865l3 1M943 621l4 4 2 3M978 688l4 5 2 3M1039 627l3 0M1138 721l3 1M1260 626l6 1 5 3 5 3 4 5 3 6 3 5 2 6 2 6 2 6 2 6 1 6 2 6 2 6 2 6 2 4M1308 709l3 5 5 4 5 4 3 1M1099 685l4-2M1239 798l3-3M814 629l3-1M915 731l3 1M792 817l4-4 1-1M751 834l4 5 5 4 0 1M1141 780l3 2M1206 852l3 1"/>
<path stroke="#ff00ff" d="M755 773l5 5 4 4 3 5 3 6 3 5 3 6 3 6 3 5 2 6 3 5 3 6 3 5 4 5 4 4 5 4M957 637l5-3 5-3 5-4 6-3 4-4 5-4 5-4 3-5 3-6 2-6 2-6 1-5M1003 896l1-7 1-8 0-5M1009 824l1-6 1-7 1-7 1-7 2-5 2-6 4-5 4-4 5-4 5-3 5-3 6-2 5-2M954 689l4-5 4-5 3-5 1-2M969 666l2-6 2-6 2-6 1-6 2-7 1-6 2-6 1-6 1-7 1-6 2-6 1-7 2-6 0-1M990 897l2-7 2-6 2-6 3-5 3-6 4-5 3-5 4-3M884 752l6 3 4 5 4 5 2 5 3 6 2 6 2 5 1 7 2 6 1 6 2 6 2 6 1 6 2 6 3 6 3 5 3 5 5 4 5 2 2 1M1262 628l6 3 5 4 4 4 4 5 4 5 3 6 3 5 3 5 3 6 3 5 3 6 3 5 3 5 4 5 4 4 5 4 4 3M1185 621l4-4 4-5 4-5 3-5 2-6 2-6 1-6M1206 896l1-7 1-7 1-7 1-8 0-6 1-6 1-7 0-6 1-8 1-7 1-6 1-7 1-6 2-6 2-5 2-6 4-5 4-5 4-4M1067 756l6 2 5 3 5 4 5 4 3 5 4 5 3 6 2 5 3 6 2 6 2 6 2 6 2 6 3 6 2 6 3 5 4 5 4 5 5 3 6 3 6 1 6 0M754 638l5-3 5-3 6-3 5-3 6-2 5-3 6-3 5-2 6-3 5-3 0-2M809 771l5-4 5-2 6-2 6-2 6-1 6-2 6-1 6-1 2 0M915 628l6 0 6 1 5 3 5 4 4 5 3 6 2 6 2 5 2 6 2 7 2 5 2 7 2 6 2 6 2 5 3 6 3 5 4 5 4 5 5 3 5 3 5 2M1101 613l6-1 6-1 6 2 5 3 3 6 2 5 2 6 1 7 1 8 1 6 1 8 0 6 1 6 1 8 1 7 1 7 1 6 1 7 2 6 2 6 4 5 5 4 5 2 6 1 3 1M1043 625l5-4 5-4 4-4 5-4 4-5 4-4 3-5 4-6 2-5M1080 897l2-6 2-6 2-6 2-6 1-6 2-7 1-6 1-6 1-6 1-6 1-7 2-7 1-6 2-6 1-7 2-6 3-6 3-5 3-6 4-4 4-5 5-4 5-3 5-3M908 690l3-6 2-6 1-6M922 631l1-6 2-7 1-6 1-6 2-7 2-6 2-6 1-2M857 750l6 3 4 4 3 5 2 6 2 6 1 7 1 7 1 6 1 7 1 8 1 8 1 7 0 7 1 6 1 6 2 6 1 6 3 6 4 5 5 3 4 1M1151 620l5 4 3 5 4 5 2 6 3 5 2 6 3 6 2 6 3 6 2 5 3 6 3 5 3 5 4 5 2 3M1038 795l3 6 3 6 2 5 3 6 2 6 3 6 2 6 3 5 3 6 3 5M1273 607l4-5 4-5 3-5 3-5 2-3M1289 897l3-6 2-6 2-6 1-6 2-7 1-6 1-7 2-6 1-6 1-6 1-7 1-7 2-6 1-6 2-6 2-6 2-6 3-6 3-5 4-5 5-4M1098 715l5-4 4-4 4-5 3-5 3-6 2-5 2-6 2-6 2-7 1-6 1-6 1-6 2-6 1-7 1-6 1-6 1-6 1-7 2-6 2-6 2-7 2-5 1-3M1145 897l2-5 4-6 3-5 4-4 5-5 4-4 1 0M736 881l4-5 4-4 4-4M1278 751l5 3 4 5 3 6 2 6 1 7 1 6 2 8 0 7 1 7 1 8 1 7 1 7 1 7 1 6 1 7 2 6 2 6 4 5 5 4 3 0M1233 779l5 4 4 5 4 5 3 6 3 5 3 6 2 5 2 6 3 6 2 6 3 6 3 6 3 5 3 5 4 4 5 4 3 2M949 628l4 5 3 6 2 5 3 6 2 6 2 6 3 6 2 5 3 6 3 5 2 4M1042 627l6-1 6 0 7 1 5 2 6 4 4 4 4 5 3 5 3 6 2 6 3 6 2 5 2 6 3 6 2 5 3 6 3 5 3 5 4 5 5 4 5 3 5 3 6 2 4 1M1103 683l5-4 4-4 5-4 4-5 4-4 5-5 3-5 4-4 4-5 3-6 3-5 4-5 2-6 3-5 3-6 2-5 3-6 2-6 3-5 1-4M1171 897l2-6 3-5 2-6 3-6 2-5 3-6 3-5 3-6 3-5 3-5 4-6 3-5 4-4 4-5 4-5 4-4 5-4 4-5 5-4 4-2M817 628l1 0M822 627l6-1 6-1 6 0 6 2 5 4 4 4 3 6 3 6 2 6 2 6 2 7 1 6 2 6 1 6 2 6 2 6 2 6 2 6 3 6 3 5 5 4 5 3 6 2 6 2 6 1 2 0M736 893l3-6 2-5 3-6 3-6 3-5 4-5 3-6 4-5 3-5 4-4 5-5 4-4 4-5 4-4 5-4 2-1M736 815l4 5 3 4 4 5 4 5 0 0M1144 782l5 4 4 4 4 4 4 5 4 5 3 6 4 5 3 5 3 5 2 3M1189 839l4 4 5 4 5 4 3 1"/>
<path stroke="#000" d="M829 609l5 3 5 4 5 3 5 4 5 4 5 4 5 4 4 4 5 4 5 3 5 4 5 4 4 3M958 845l0 0M965 851l5 4 5 3 5 4 4 4 6 3 3 3M977 608l3 2M984 613l5 4 5 3 5 4 1 1M736 854l5 3 7 0 6-1 6-2 5-2 6-2 6-3 5-2 6-3 5-3 6-3 5-3 5-2 6-3 1-1M1080 607l5 4 5 4 5 3 5 4 5 4M1279 732l7 0 6 0 6 0 6 0 6-1 6 0 6 0 6 0 6 0 6 2 5 5 2 5 2 7 1 6 1 7 1 6 0 5M1356 819l0 7 1 7 1 6 2 6 2 6 4 4M1335 869l5 4 4 4 5 4 4 4 5 4 1 1M1283 591l5 4 4 4 5 4 5 4 4 4 5 4 0 1M931 840l5 4 5 5 4 4 4 4 5 4 4 4 4 5 5 4 5 4 4 4 4 3M736 755l6-1 3-1M864 591l5 4 5 4 4 4 5 4 4 4 2 2M1070 587l5 4 4 4 4 3M1086 601l4 4 5 4 4 4M1032 594l5 4 4 4 5 4 5 4 4 4 1 1M1059 618l5 5 4 4 4 4 5 4 5 4 4 4 2 2M1186 604l6 3 5 3 5 3 6 3 5 3 5 4 5 3 6 3 5 4 5 3 5 3 3 2M1092 829l5 3 5 3 5 3 6 4 5 3 5 3 5 4 5 3 5 4 3 2M1148 865l5 3 6 3 5 2 6 3 2 0"/>
<path class="sp" stroke="#ff0000" d="M828 702h0m2-1h0m2 0h0m154 99h0m7-4h0m10-5h0m-246-56h0m1 0h0m136 105h0m3-2h0m7-4h0m3-1h0m0 0h0m6-3h0m281-210h0m3 2h0m-451 238h0m3 2h0m2 0h0m0 1h0m15 5h0m3 0h0m273-246h0m3 0h0m3 0h0m1 0h0m9 0h0m96 85h0m4 1h0m2 1h0m1 1h0m131 81h0m1 1h0m9 6h0m-538 52h0m1 1h0m1 1h0m2 1h0m2 2h0m5 4h0m0 0h0m4 3h0m5 4h0m1 1h0m1 0h0m281-223h0m0 0h0m14-7h0m137 106h0m-239-63h0m156 99h0m15-6h0m-80 36h0m-232-68h0m7 1h0m141 101h0m-205-72h0m2 1h0m4 2h0m4 2h0m8 5h0m0 0h0m3 2h0m88 77h0m11 2h0m2 0h0m5 0h0m290-243h0m73 64h0m3 2h0m0 0h0m9 6h0m3 2h0m-533-75h0m1 1h0m1 1h0m3 2h0m5 4h0m2 1h0m10 9h0m2 2h0m2 1h0m5 4h0m1 1h0m1 1h0m1 0h0m155 96h0m5 1h0m2 1h0m1 0h0m131 103h0m12-5h0m4-2h0m-340-156h0m1 0h0m2 2h0m130 83h0m0 0h0m2 1h0m4 1h0m115 91h0m3 0h0m1 0h0m292-244h0m7 4h0m-193 43h0m1 0h0m6-4h0m158 100h0m-229-67h0m3-2h0m166 94h0m1 0h0m4-2h0m3-1h0m0 0h0m-237-62h0m163 95h0m9-5h0m-419-192h0m10 1h0m1 0h0m4 1h0m83 72h0m3 2h0m135 85h0m6 3h0m5 3h0m5 4h0m4 2h0m82 71h0m9 2h0m2 0h0m-312-118h0m472-94h0m1-1h0m5-2h0m7-4h0m8-4h0m-536 125h0m2 0h0m4-1h0m2 0h0m2 0h0m371-55h0m153 101h0m4-2h0m0-1h0m1 0h0m6-4h0m2-1h0m3-2h0m-115-70h0m4 0h0m3 1h0m0 0h0m1 0h0m148 97h0m3-1h0m-465-212h0m2 0h0m10 3h0m77 67h0m9 6h0m129 81h0m3 2h0m16 9h0m85 76h0m3 1h0m7 1h0m-399-236h0m4 0h0m109 94h0m150 91h0m1 1h0m0 0h0m2 1h0m9 7h0m1 1h0m4 3h0m14 12h0m16 14h0m1 1h0m19 14h0m4 2h0m8 4h0m-366-78h0m4-2h0m13-6h0m1-1h0m449-87h0m0 0h0m1 0h0m0 0h0m1-1h0m-49 70h0m8 4h0m2 1h0m112 88h0m3 0h0m4 0h0m-530-195h0m0 0h0m0 0h0m2-2h0m1 0h0m2-1h0m7-5h0m1 0h0m145 102h0m2 0h0m13-1h0m-107 45h0m1 0h0m9-5h0m0-1h0m6-2h0m447-87h0m2 0h0m0 0h0m-381-31h0m3-3h0m143 106h0m6-3h0m210-192h0m-11 304h0m10 9h0m12-304h0m-426 111h0m3-2h0m1-1h0m141 107h0m11-8h0m-74 42h0m7-6h0m6-4h0m3-3h0m252-222h0m4 4h0m14 14h0m11 10h0m5 5h0m-470 106h0m133 103h0m-172-86h0m6 3h0m6 2h0m95 100h0m272-261h0m9 3h0m75 78h0m-485 99h0m3 2h0m5 3h0m78 80h0m4 1h0m1 1h0m1 0h0m2 0h0m1 0h0m1 0h0m4 1h0m-75-273h0m-44 5h0m11 2h0m0 1h0m83 84h0m132 92h0m1 1h0m1 0h0m84 84h0m1 1h0m10 2h0m1 0h0m1 0h0m256-258h0m0 0h0m8-2h0m3 0h0m2-1h0m-529 102h0m2 1h0m138 95h0m9 7h0m9 8h0m56 53h0m1 1h0m4 1h0m1 1h0m-257-147h0m154 139h0m21 19h0m217-211h0m12-9h0m144 105h0m4-2h0m-418-192h0m-8 307h0m8-307h0m370 215h0m3-2h0m-452-202h0m43 40h0m164 111h0m1 0h0m116 112h0m6-3h0m-302-54h0m4-3h0m3-2h0m421-70h0m1 0h0m-45 20h0m121 112h0m5-2h0m-418-249h0m1 0h0m8 0h0m2 1h0m7 2h0m78 81h0m2 1h0m1 1h0m134 93h0m1 1h0m1 0h0m6 4h0m2 1h0m85 82h0m-370-258h0m2 0h0m2-1h0m246 194h0m4 3h0m5 3h0m71 65h0m-381-248h0m6-3h0m0-1h0m5-3h0m1 0h0m2-1h0m4-2h0m112 113h0m155 101h0m3 3h0m9 8h0m1 0h0m6 6h0m2 2h0m4 4h0m2 3h0m6 5h0m5 5h0m3 2h0m3 3h0m-381-223h0m10-8h0m1-1h0m1-1h0m4-3h0m125 115h0m4-1h0m4-1h0m1 0h0m178 116h0m0 0h0m22 20h0m1 1h0m-407-209h0m1-1h0m156 96h0m212-193h0m8 6h0m3 3h0m196 114h0m2-1h0m5-3h0m1 0h0m1-1h0m-494 158h0m16-1h0m3 0h0m3-1h0m1 0h0m-72 4h0m6 2h0m2 1h0m6 1h0m359-253h0m7 4h0m13 7h0m1 1h0m25 18h0m4 2h0m1 1h0m0 0h0m4 3h0m1 1h0m7 5h0m1 0h0m7 4h0m2 2h0m-493 212h0m338-253h0m1 0h0m5-1h0m10 0h0m-171 56h0m1 0h0m0 0h0m6-4h0m6-3h0m0 0h0m6-4h0m4-2h0m185 86h0m178 76h0m2 1h0m3 2h0m1 1h0m13 7h0m0 0h0m7 5h0m3 2h0m4 3h0m3 2h0m-155-197h0m-81 35h0m1 0h0m4-3h0m5-2h0m198 78h0m1 0h0m15-2h0m2 0h0m1 0h0m-519-149h0m6 3h0m4 3h0m-88-4h0m4 1h0m18 9h0m4 2h0m5 3h0m10 7h0m9 6h0m0 1h0m7 4h0m1 1h0m5 4h0m13 8h0m2 1h0m176 80h0m0 0h0m4 0h0m3 0h0m1 0h0m179 87h0m1 0h0m2-2h0m14-8h0m3-1h0m4-2h0m7-5h0m-424-124h0m7 4h0m8 4h0m146 69h0m9 2h0m5 1h0m147 87h0m4-1h0m4-2h0m4-2h0m2-1h0m-278-216h0m8-2h0m5 0h0m134 83h0m150 70h0m5 2h0m2 1h0m126 78h0m-518-201h0m154 96h0m3 0h0m-61 27h0m3-1h0m266-167h0m3 1h0m30 20h0m1 1h0m35 27h0m151 83h0m5 1h0m-605 118h0m3 1h0m0 0h0m9 3h0m3 0h0m305-250h0m2 0h0m2 0h0m1 0h0m2 0h0m1 1h0m2 0h0m7 2h0m81 63h0m142 80h0m1 1h0m1 1h0m7 2h0m0 1h0m2 0h0m-3-152h0"/>
<path class="sp" stroke="#ff4000" d="M913 830h0m-167 30h0m546-69h0m-534 55h0m15 11h0m443-114h0m-303-31h0m-66 31h0m131 103h0m-82 15h0m-152-249h0m15 11h0m5 4h0m11 9h0m306 210h0m-176-71h0m114 86h0m97-194h0m161 94h0m13-2h0m-531-140h0m101 81h0m134 84h0m10 5h0m84 73h0m-302-116h0m0 0h0m-44 21h0m442-35h0m147 100h0m-455-215h0m2 0h0m222 156h0m35 85h0m2 1h0m8 6h0m0 0h0m-156-251h0m351 245h0m3 0h0m-532-196h0m168 94h0m-241 55h0m2 1h0m211-130h0m-40 18h0m97 126h0m250-219h0m6 6h0m-444 132h0m388-142h0m-425 160h0m6 2h0m3 2h0m376-159h0m-403 181h0m0 1h0m1 0h0m88 83h0m258-258h0m-367-8h0m223 178h0m89 87h0m3 1h0m-118-66h0m342-184h0m-344 266h0m230-215h0m147 103h0m1-1h0m-415-193h0m368 217h0m4-3h0m-436-190h0m3 3h0m441 115h0m-492 107h0m567 25h0m8-4h0m-627-1h0m1-1h0m459-89h0m-253-156h0m10 1h0m5 2h0m224 181h0m3 3h0m-23 25h0m4 3h0m53 53h0m-237-139h0m154 145h0m6 5h0m-248-107h0m-40 79h0m310-240h0m8 4h0m-436 251h0m337-253h0m265 188h0m3 2h0m-410-142h0m184 11h0m197 79h0m-565-144h0m250 122h0m194 78h0m-394-125h0m304 160h0m12-4h0m-269-220h0m425 233h0m-511-205h0m5-3h0m186 85h0m-100 44h0m7-2h0m271-160h0m19 13h0m3 3h0m2 2h0m34 25h0m-440 206h0m327-247h0m3 1h0m243 153h0m-449 11h0"/>
<path class="sp" stroke="#ff8000" d="M987 799h0m-226-64h0m136 103h0m305-212h0m-70-14h0m213 142h0m-579 114h0m545-64h0m0 0h0m-397-140h0m-157 181h0m459-102h0m-72 32h0m-300-33h0m435-122h0m-497 151h0m20 11h0m90 78h0m11 2h0m-167-255h0m26 19h0m22 17h0m160 99h0m149 99h0m-76 20h0m284-246h0m14 6h0m-194 43h0m4-2h0m-70 32h0m-53 25h0m154 99h0m-407-200h0m239 162h0m219-107h0m-81 37h0m156 98h0m6-3h0m-104-73h0m38 130h0m-100-15h0m0 1h0m-132-234h0m3 1h0m5 1h0m225 156h0m-352-131h0m357 230h0m-248-114h0m87-129h0m129 108h0m-434 141h0m343-97h0m-248-53h0m439-84h0m-97-43h0m-413 165h0m1 1h0m110 101h0m266-259h0m90 85h0m-493 94h0m461-73h0m4 1h0m-374-51h0m154 105h0m-26 24h0m74 79h0m-246-157h0m463-83h0m7-4h0m6-3h0m77 131h0m-438 117h0m18 17h0m232-217h0m152 101h0m-64 36h0m-114 49h0m-288-63h0m89-189h0m71 109h0m211 163h0m-360-257h0m269 216h0m4 4h0m2 1h0m-2 40h0m-394-206h0m5-3h0m354 219h0m-256-34h0m-54 7h0m356-254h0m2 0h0m5 3h0m7 3h0m6 3h0m9 6h0m52 35h0m-136-42h0m-102 23h0m-55 21h0m370 162h0m33 22h0m-145-203h0m-139 61h0m-277-71h0m3 2h0m215 98h0m206 71h0m-259-48h0m316 101h0m8-1h0m-325-124h0m-39 19h0m4 0h0m-76 33h0m5-2h0m-31 74h0m305-248h0m74 50h0m156 85h0m3 1h0m-606 118h0m0 0h0m2 0h0m3 1h0m5 2h0m314-250h0m238 148h0m0 0h0m2 1h0m7 3h0m-443 14h0"/>
<path class="sp" stroke="#ffbf00" d="M829 702h0m1-1h0m164 95h0m-83 35h0m2-1h0m227-213h0m5 3h0m1 1h0m15 12h0m1 1h0m2 2h0m32 26h0m-447 199h0m299-239h0m-287 226h0m19 15h0m281-216h0m150 95h0m2 1h0m-299-32h0m153 100h0m-228-70h0m145 102h0m9-4h0m-103 21h0m304-242h0m-451-7h0m337 236h0m-185-77h0m122 91h0m291-243h0m6 3h0m-450 185h0m366-179h0m126 96h0m-79 38h0m-41 20h0m-232-62h0m-150-23h0m236 166h0m170-210h0m-58 24h0m3-2h0m-25 57h0m160 96h0m-471-212h0m9 2h0m2 1h0m222 156h0m11 6h0m-302-153h0m267 184h0m20 16h0m13 11h0m4 3h0m227-180h0m-550 132h0m9-5h0m3-1h0m461-94h0m-193-16h0m1 1h0m4 3h0m139 87h0m123 91h0m-316-122h0m-45 20h0m-98 43h0m-73 77h0m261-249h0m288 217h0m-398-168h0m153 99h0m-294-30h0m8 0h0m381-143h0m7 5h0m-429-7h0m162 210h0m74 68h0m2 1h0m-251-145h0m461-93h0m-302 239h0m181-174h0m-273-100h0m20 189h0m423-70h0m78 132h0m-297-193h0m250 202h0m-363-260h0m90 83h0m124 127h0m54 54h0m-355-245h0m328 259h0m-381-239h0m134 109h0m3 0h0m-191-83h0m1-1h0m139 109h0m-96 86h0m374-245h0m42 75h0m-42 33h0m-36 19h0m186 86h0m3 1h0m-263-130h0m220 69h0m-496-137h0m29 19h0m176 80h0m-50 21h0m179 85h0m-269-218h0m3 0h0m131 81h0m2 1h0m157 73h0m124 80h0m-416-80h0m-53 80h0m345-232h0m15 12h0m24 18h0m166 89h0m-614 115h0m5 2h0m2 1h0m418-178h0m5 2h0m148 82h0m1 0h0m-441 15h0m114 78h0m5 0h0m244-7h0"/>
<path class="sp" stroke="#ffff00" d="M1002 792h0m2-2h0m183-176h0m13 10h0m0 0h0m-72-14h0m22 14h0m203 133h0m-597 108h0m2 1h0m395-160h0m-374 156h0m371-88h0m1-1h0m-246-59h0m-61 28h0m131 105h0m7-3h0m285-233h0m41 31h0m4 3h0m-525 129h0m122 88h0m-167-252h0m5 4h0m28 22h0m13 10h0m-32 36h0m246 177h0m-141-54h0m373-179h0m117 95h0m-60 38h0m-65 27h0m1-1h0m-72 33h0m10-6h0m-305-113h0m-64 48h0m329-37h0m197 127h0m-216-61h0m-7 51h0m255-173h0m-472-18h0m-68 26h0m-16 209h0m16 10h0m347-127h0m-211-71h0m167 90h0m0 0h0m-58 30h0m3-3h0m-198-74h0m409-103h0m23 21h0m-474 102h0m4 1h0m116 109h0m267-251h0m46 89h0m-32 20h0m3 1h0m-433-109h0m60 60h0m6 4h0m134 94h0m121 101h0m-280-172h0m145 101h0m2 1h0m81 79h0m-46 3h0m7 4h0m245-248h0m-54 23h0m3-2h0m17-14h0m-298 247h0m304 11h0m-69-224h0m4-3h0m138 110h0m6-4h0m2-1h0m7-4h0m-262-45h0m7-1h0m2-1h0m132 110h0m-375-233h0m7 6h0m316 247h0m5-3h0m-317-44h0m439-82h0m75 132h0m-357-253h0m60 59h0m113 120h0m-15 29h0m-301-184h0m3-2h0m-108 47h0m364-87h0m-269 273h0m2 0h0m7-2h0m-66 6h0m369-250h0m66 43h0m13 7h0m-502 208h0m343-252h0m1 0h0m8-1h0m263 142h0m-347-121h0m165 88h0m-32 20h0m221 109h0m-166-209h0m123 110h0m0 0h0m-538-127h0m23 15h0m198 90h0m4-1h0m203 73h0m-257-50h0m37-53h0m145 68h0m-354-127h0m1-1h0m169 89h0m2 0h0m153 69h0m100 63h0m-397-8h0m320-244h0m28 19h0m3 2h0m2 1h0m35 26h0m155 83h0m7 2h0m1 0h0m-604 119h0m316-249h0m240 149h0m-334 94h0m326-247h0m-59 242h0m1 0h0m2-1h0"/>
<path class="sp" stroke="#bfff00" d="M909 897h0m228-282h0m203 138h0m3 1h0m5 2h0m-601 104h0m324-51h0m13-8h0m207-172h0m-272 231h0m-159-56h0m10 7h0m17 12h0m345-196h0m6-1h0m114 95h0m-235-54h0m172 92h0m-131 57h0m202-166h0m-356-31h0m62 54h0m12 9h0m1 0h0m4 3h0m-209-46h0m5-2h0m310 204h0m32 26h0m7 4h0m-484-54h0m453-81h0m-186-85h0m152 102h0m115-126h0m-326 223h0m318-186h0m-154-49h0m4-1h0m4 0h0m-333-9h0m572 150h0m-249-50h0m153 99h0m-51 24h0m-441 69h0m24-71h0m401-63h0m13 5h0m96 100h0m-395-254h0m304 258h0m-18-232h0m-455 236h0m334-256h0m-84 23h0m344 164h0m-145-160h0m-427 3h0m139 103h0m-103 105h0m5 0h0m336-231h0m10 8h0m12 9h0m-282 146h0m98 72h0m2 1h0m2 0h0m261-9h0"/>
<path class="sp" stroke="#80ff00" d="M844 853h0m8-3h0m58-137h0m4-1h0m156 97h0m237-167h0m-407 131h0m-17 48h0m11 9h0m24 21h0m317-225h0m120 96h0m3 2h0m-155 173h0m-320-143h0m190-76h0m269 181h0m1 0h0m-143-9h0m-456-33h0m1 1h0m56 55h0m397-137h0m-461 118h0m2 2h0m5 5h0m14 13h0m18 14h0m244-244h0m-192 103h0m109 112h0m267-257h0m13 8h0m-431-8h0m12 8h0m47 49h0m6 5h0m371-14h0m-103 52h0m235 196h0m-564-65h0m10-7h0m446-79h0m115 109h0m-454-241h0m108 100h0m155 108h0m30-134h0m5-47h0m-149 65h0m220 70h0m9-4h0m2 0h0m-179 34h0m7 4h0m-269-29h0m-51 77h0m359-225h0m2 2h0m35 26h0m-320 121h0m440-165h0m-442-1h0m227 143h0m2 0h0m13 5h0"/>
<path class="sp" stroke="#40ff00" d="M1147 622h0m8 6h0m6 5h0m-241 27h0m-10 53h0m-66 29h0m132 105h0m284-241h0m7 5h0m38 29h0m-301 220h0m-143-55h0m26 18h0m61 47h0m274-241h0m132 93h0m-75 39h0m-126 58h0m192-160h0m-357-46h0m12 4h0m333 242h0m-443-226h0m133 104h0m171 108h0m-449-28h0m1 2h0m325-193h0m3-2h0m117 111h0m164 110h0m-606 21h0m26 21h0m91-162h0m-40 22h0m437-89h0m5 4h0m1 1h0m-498 132h0m88-125h0m139 96h0m4 2h0m358-12h0m-102 56h0m0-1h0m-470 24h0m8-6h0m567 26h0m-313-200h0m-35 60h0m193-22h0m131 114h0m-270-105h0m202 77h0m9-4h0m9-3h0m3-1h0m-533-116h0m0-1h0m192 81h0m1 0h0m256 133h0m7 2h0m1 0h0m-381-83h0m315-156h0m-164 232h0m6 0h0m307-250h0m6 2h0m-443 0h0m103 71h0"/>
<path class="sp" stroke="#00ff00" d="M848 852h0m317-216h0m15 14h0m174 108h0m-81-143h0m-378 216h0m453-111h0m-220-60h0m45 189h0m8-3h0m164-187h0m-18 200h0m-129-11h0m-456-33h0m9 8h0m442-88h0m-182-84h0m203-43h0m45 46h0m-406 12h0m245 202h0m118-40h0m-210-219h0m166 215h0m29-135h0m-210-43h0m71 59h0m4-1h0m216 70h0m7-2h0m7-2h0m-529-120h0m10-5h0m173 90h0m4 0h0m161 76h0m16 10h0m9-197h0m-260 164h0"/>
<path class="sp" stroke="#00ff40" d="M913 665h0m4-3h0m-49 147h0m6 5h0m401-53h0m-107 90h0m175-191h0m-275 14h0m123 169h0m32 25h0m-478-51h0m7 6h0m3 3h0m47 48h0m-59-14h0m2 2h0m4 4h0m6 6h0m4 4h0m254-226h0m3-3h0m-174 9h0m2 2h0m365 175h0m-205-225h0m0 0h0m211 262h0m1 0h0m-216-229h0m279 135h0m13-5h0m-343-36h0m163 74h0m8 5h0m12 7h0m1 1h0m61 42h0m1 0h0m5 2h0m9 3h0m-232-8h0m-26-184h0"/>
<path class="sp" stroke="#00ff80" d="M1140 617h0m33 26h0m4 4h0m173 109h0m-436-92h0m-22 164h0m11 10h0m18 15h0m428-133h0m-470 34h0m468-96h0m4-3h0m-468-20h0m1 0h0m137 101h0m171 107h0m-438-18h0m1 1h0m-7 39h0m326-139h0m138 42h0m102 99h0m-312-227h0m1 0h0m164 87h0m6 2h0m-112-23h0m218 69h0m-173 31h0m83 55h0m-354-74h0m3-1h0m28-170h0m100 70h0m137 76h0m7 3h0m125 91h0m4-1h0m5-1h0"/>
<path class="sp" stroke="#00ffbf" d="M900 835h0m272 15h0m186-199h0m-561 219h0m-38 5h0m265-234h0m128 115h0m0-1h0m-121 142h0m-32-293h0m314 263h0m-306-229h0m164 90h0m-51 86h0m2 1h0m2 1h0m65 46h0m3 1h0m14 5h0m11 2h0m-340-251h0m73 57h0"/>
<path class="sp" stroke="#00ffff" d="M914 847h0m437-126h0m-300 30h0m-44-97h0m43 1h0m-41-18h0m153 89h0m-31 94h0m74 48h0"/>
<path class="sp" stroke="#00bfff" d="M890 826h0m-12-72h0m4 0h0m-85 143h0m247 0h0m2-14h0m0-3h0m0-3h0m0-4h0m1-4h0m0-5h0m0-4h0m0-6h0m1-5h0m0-5h0m0-6h0m0-5h0m0-5h0m1-5h0m0-5h0m0-4h0m0-4h0m0-3h0m1-3h0m0-3h0m83 21h0m67 44h0m-323-247h0"/>
<path class="sp" stroke="#0080ff" d="M1058 897h0m-145-50h0m335-77h0m1 3h0m0 3h0m0 3h0m0 3h0m0 3h0m1 4h0m0 3h0m0 4h0m0 3h0m0 3h0m1 4h0m0 3h0m0 3h0m0 3h0m1 3h0m0 3h0m-377-67h0m109 143h0m-114 1h0m207-166h0m0 5h0m0 12h0m1 30h0m0 49h0m0 22h0m0 9h0m1 4h0m0 2h0"/>
<path class="sp" stroke="#0040ff" d="M1293 897h0"/>
<path class="sp" stroke="#0000ff" d="M1141 898h0m-241-1h0m2-16h0m0-3h0m1-3h0m0-3h0m0-3h0m0-3h0m1-4h0m0-4h0m0-3h0m0-4h0m0-4h0m1-4h0m0-3h0m0-4h0m0-3h0m1-3h0m0-3h0m0-3h0m0-3h0m0-3h0m315 80h0"/>
<path class="sp" stroke="#8000ff" d="M1194 897h0m-378 0h0"/>
<path class="sp" stroke="#bf00ff" d="M1076 897h0m-141 0h0"/>
<path class="sp" stroke="#ff00ff" d="M1003 897h0m3-23h0m0-3h0m0-3h0m0-3h0m0-3h0m1-3h0m0-3h0m0-3h0m0-3h0m0-3h0m1-3h0m0-3h0m0-3h0m0-3h0m1-3h0m0-3h0m0-2h0m-19 70h0m215 0h0m-397-294h0m1 182h0m0-12h0m271 125h0m209-1h0m-145 0h0m27 1h0"/>
<path class="sp" stroke="#000" d="M1180 609h0m2 2h0m2 1h0m5 4h0m5 4h0m2 1h0m6 5h0m6 5h0m-351 218h0m269-240h0m2 1h0m210 142h0m0 0h0m-574 115h0m4 1h0m526-75h0m-534 54h0m0 0h0m1 1h0m0 0h0m0 0h0m4 3h0m20 15h0m4 4h0m364-97h0m-70 29h0m-88 36h0m3-1h0m263-230h0m2 1h0m43 33h0m3 2h0m4 3h0m-530 126h0m-46-165h0m2 1h0m2 2h0m48 37h0m307 193h0m-203-71h0m2 1h0m125 90h0m-158-55h0m0 1h0m252-137h0m179 90h0m-58 22h0m-67 30h0m-278-156h0m294 190h0m6-2h0m-441-225h0m2 0h0m234 160h0m-17 75h0m2 2h0m3 2h0m1 0h0m1 1h0m2 2h0m9 7h0m4 3h0m271-219h0m36 149h0m-303-180h0m227 242h0m1 0h0m-335-108h0m194-146h0m1 1h0m1 0h0m0 1h0m4 2h0m5 4h0m3 3h0m5 3h0m2 1h0m0 1h0m250 152h0m0 3h0m1 3h0m0 3h0m0 3h0m0 3h0m1 3h0m0 3h0m0 3h0m0 3h0m0 3h0m1 3h0m0 3h0m0 2h0m0 3h0m-370-204h0m2 0h0m355 246h0m-116 11h0m-418-205h0m176 92h0m-248 54h0m325-179h0m-290 253h0m235-230h0m156 99h0m1-1h0m174 117h0m7 7h0m1 1h0m6 5h0m-41 4h0m0 1h0m5 4h0m1 1h0m1 1h0m0 0h0m2 1h0m3-311h0m1 1h0m2 2h0m7 6h0m-41 4h0m2 2h0m1 1h0m11 10h0m1 1h0m5 4h0m-67-18h0m-289 252h0m243-249h0m-418 162h0m0 1h0m80 112h0m252-259h0m250 193h0m-370-46h0m-254-156h0m1 0h0m330 268h0m200-242h0m-352 236h0m5 5h0m2 1h0m1 2h0m5 4h0m1 1h0m2 2h0m10 8h0m1 2h0m383-121h0m-435 115h0m7 6h0m1 1h0m13-302h0m-47-1h0m1 1h0m1 1h0m2 1h0m5 5h0m5 4h0m0 0h0m0 1h0m4 3h0m2 2h0m332 217h0m1-1h0m-344-184h0m1 1h0m2 1h0m199-50h0m2 1h0m19 18h0m-66-18h0m1 1h0m201 149h0m1 0h0m-490 104h0m457-85h0m-255-157h0m-45 9h0m1 0h0m-51 16h0m288 208h0m51 45h0m-55-7h0m1 1h0m3 3h0m-32 12h0m2 2h0m7-308h0m-264 271h0m1 0h0m336-253h0m1 1h0m48 29h0m2 1h0m-435 230h0m5 1h0m330-260h0m1 0h0m1 1h0m4 1h0m89 53h0m-155-43h0m236 176h0m3 1h0m-8 30h0m20-71h0m-516-148h0m10 5h0m-88-4h0m0 0h0m465 199h0m1 0h0m1 0h0m0 0h0m3-2h0m-367-180h0m287 146h0m-373-116h0m457 213h0m2 1h0m-121-40h0m3 2h0m68 41h0m2 1h0m-309-96h0m1-1h0m332-116h0m150 83h0m-37 21h0m2 1h0m-313 97h0m109-102h0"/>
</g>
<rect x="736.0" y="583.50" width="630.0" height="314.20" fill="none" stroke="#000" stroke-width="4.2"/>
<path d="M736.0 583.5v5M736.0 897.7v-5M814.8 583.5v5M814.8 897.7v-5M893.5 583.5v5M893.5 897.7v-5M972.2 583.5v5M972.2 897.7v-5M1051.0 583.5v5M1051.0 897.7v-5M1129.8 583.5v5M1129.8 897.7v-5M1208.5 583.5v5M1208.5 897.7v-5M1287.2 583.5v5M1287.2 897.7v-5M1366.0 583.5v5M1366.0 897.7v-5M762.2 583.5v3.5M762.2 897.7v-3.5M788.5 583.5v3.5M788.5 897.7v-3.5M841.0 583.5v3.5M841.0 897.7v-3.5M867.2 583.5v3.5M867.2 897.7v-3.5M919.8 583.5v3.5M919.8 897.7v-3.5M946.0 583.5v3.5M946.0 897.7v-3.5M998.5 583.5v3.5M998.5 897.7v-3.5M1024.8 583.5v3.5M1024.8 897.7v-3.5M1077.2 583.5v3.5M1077.2 897.7v-3.5M1103.5 583.5v3.5M1103.5 897.7v-3.5M1156.0 583.5v3.5M1156.0 897.7v-3.5M1182.2 583.5v3.5M1182.2 897.7v-3.5M1234.8 583.5v3.5M1234.8 897.7v-3.5M1261.0 583.5v3.5M1261.0 897.7v-3.5M1313.5 583.5v3.5M1313.5 897.7v-3.5M1339.8 583.5v3.5M1339.8 897.7v-3.5M736.0 897.70h5M1366.0 897.70h-5M736.0 845.33h5M1366.0 845.33h-5M736.0 792.97h5M1366.0 792.97h-5M736.0 740.60h5M1366.0 740.60h-5M736.0 688.23h5M1366.0 688.23h-5M736.0 635.87h5M1366.0 635.87h-5M736.0 583.50h5M1366.0 583.50h-5M736.0 871.52h3.5M1366.0 871.52h-3.5M736.0 819.15h3.5M1366.0 819.15h-3.5M736.0 766.78h3.5M1366.0 766.78h-3.5M736.0 714.42h3.5M1366.0 714.42h-3.5M736.0 662.05h3.5M1366.0 662.05h-3.5M736.0 609.68h3.5M1366.0 609.68h-3.5" stroke="#000" stroke-width="2" fill="none"/><g font-size="22" text-anchor="middle"><text x="736.0" y="921.5">0</text><text x="814.8" y="921.5">3</text><text x="893.5" y="921.5">6</text><text x="972.2" y="921.5">9</text><text x="1051.0" y="921.5">12</text><text x="1129.8" y="921.5">15</text><text x="1208.5" y="921.5">18</text><text x="1287.2" y="921.5">21</text><text x="1366.0" y="921.5">24</text></g><g font-size="22" text-anchor="end"><text x="1410.5" y="905.5">0</text><text x="1410.5" y="853.1">60</text><text x="1410.5" y="800.8">120</text><text x="1410.5" y="748.4">180</text><text x="1410.5" y="696.0">240</text><text x="1410.5" y="643.7">300</text><text x="1410.5" y="591.3">360</text></g><text transform="translate(1440.0 740.8) rotate(-90)" font-size="21.7" text-anchor="middle" textLength="153.6" lengthAdjust="spacingAndGlyphs">Azimut (grados)</text>
</g>

<!-- ================= CHART C ================= -->
<g id="chartC">
<use href="#wmark" x="383" y="1167"/>
<path d="M67.0 1239.08H697.0M67.0 1186.67H697.0M67.0 1134.25H697.0M67.0 1081.83H697.0M67.0 1029.42H697.0" stroke="#000" stroke-width="1.3" fill="none"/>
<g class="c" clip-path="url(#cpC)">
<path stroke="#ff0000" d="M453 1261l1-7 2-6 1-6 2-6 1-7 2-6 2-6 2-6 2-7 2-6 2-6 2-7 2-6 2-6 3-5 2-6 2-6 3-5 1-3M223 1149l3 5 4 6 3 5 3 5 3 6 3 5 2 6 3 5 3 6 3 5 2 6 3 5 2 6 3 5 2 6 3 7 2 6 2 6 3 6 2 6 2 6 2 6 2 5M395 1268l0-7-1-6 0-5M193 1250l2 6 3 5 2 6 3 5 2 6 3 6M648 1286l-5-3-5-3-6-2-6-1-6 0-6 2-6 2-6 2-1 1M138 1237l-2 6-2 6-2 6-2 6-1 6-1 6-1 6-1 7-1 3M619 1284l0-7 1-6 0-7 0-7 0-6 0-6 0-6 0-6 0-6-1-6 0-5M455 1217l-3 6-2 6-2 5-2 6-2 6-2 6-2 6-1 2M281 1280l-3-6-3-6-3-4M177 1281l-5-4-6-3-5-2-6-2-7-1-6 1-6 1-5 2-6 3-4 3M567 1280l3-6 2-5 2-6 2-6 3-6 2-6 2-6 2-6 2-6 2-6 1-2M380 1219l-1 7 0 6-1 6 0 6-1 7 0 7-1 6-1 6 0 5M490 1265l2-6 2-6 3-6 2-6 3-6 3-6 2-6 3-6 3-6M303 1212l2 6 1 6 2 7 1 6 2 6 1 7 2 6 1 6 1 6 1 7 1 4M322 1287l-2-6-3-5-2-6-2-6-3-5-2-6-3-6-2-6-3-6-2-6-3-6-2-5M144 1218l-2 7-1 6 0 7-1 6-1 7 0 6 0 7 0 7 0 6 0 7 0 6M632 1270l-1-6-1-7-1-6-1-6-1-6-2-6-2-6-1-3M496 1224l-3 6-3 5-3 6-3 5-3 5-3 6-2 5 0 1M650 1286l-3-6-4-4-5-5-5-4-5-3-6-2-5-2-7 0-3 0M597 1262l-6 2-6 3-5 4-4 4-5 4-2 2M381 1273l-1-6-1-6-1-7 0-6-1-7-1-6 0-5M171 1231l1 6 2 6 2 6 2 6 2 6 2 6 2 6 0 1M504 1229l-4 6-3 6-4 5-3 6-3 6-3 6 0 0M635 1272l-1-6-1-6M471 1263l2-6 2-6 2-6 2-6 2-6 2-5 0-2M286 1226l2 6 2 6 2 6 2 6 2 6 1 6 2 6 1 6 1 2M239 1266l2 5 3 6 2 5M629 1281l-1-7 0-6 0-7-1-6-1-7-1-6-1-6-1-7 0-2M476 1228l-3 6-2 6-3 6-2 5-3 6-2 4M308 1286l-2-6-3-6-3-5-2-6-3-6-2-5-3-6-3-5-3-6-2-6M140 1230l-1 6-1 6-1 6-1 7-1 6-1 7 0 5M372 1221l0 6-1 6 0 6 0 7-1 6 0 7 0 6-1 7 0 4M559 1279l3-6 2-6 3-5 2-6 2-5 3-6 2-6 2-6 3-6 2-6 2-6 1-2M326 1214l1 6 1 6 1 6 1 6 1 7 0 7 1 6 1 7 1 6 0 6 0 2M511 1270l3-6 2-6 3-5 2-6 3-6 3-5 3-6 2-6 3-5 2-4M326 1216l1 4M438 1259l1-6 1-6 1-7 1-7 2-6 1-7 1-6 1-6 2-5 1-6 2-6 1-6 2-7 1-6 2-6 2-6 2-5M205 1155l3 6 3 5 3 5 3 6 2 5 4 6 3 6 3 6 3 5 3 6 3 6 2 6 3 6 3 5 3 6 2 6 3 6 2 6 3 5 2 6 3 6 0 1M401 1266l0-7 0-6-1-7 0-7 0-6 0-6 0-6 0-6 0-7 0-1M183 1208l3 6 2 6 2 6 3 6 2 6 3 5 2 6 3 6 2 5 3 6 2 6 2 2M633 1280l0-7-1-6-1-6-1-7-1-6-2-6-1-6-2-6-2-5-2-7-3-5-3-6-3-5-3-5M517 1197l-4 5-4 5-4 5-4 5-3 5-3 6-3 5-3 5-3 6-3 5-3 6-2 5-2 3M321 1283l-2-6-3-5-2-6-2-6-3-6-2-6-3-6-2-6-3-6-2-6-3-6-2-3M144 1215l-1 7-1 6-1 7-1 6 0 7-1 7 0 6 0 7 0 6 0 7 0 5M605 1276l1-6 1-6 1-7 1-6 1-6 1-6 0-6 1-6 0-7 1-6 0-6 0-6M428 1203l-1 6-2 7-2 6-1 6-2 7-1 6-2 6-1 6-2 6-1 3M249 1283l-3-5-4-5-4-6-3-5-4-5-4-5-4-4-5-5-4-4-5-4-5-4-6-3-6-2-6-2-6-1-6 0-6 1-6 1-6 3-5 3-5 4-4 5-4 4-4 6-3 5-3 5-2 6-3 6-2 6-2 6-1 4M273 1214l2 6 3 6 2 6 2 6 2 5 2 6 2 6 2 6 1 5 2 7 2 6 1 3M464 1262l2-6 2-6 1-6 2-6 2-6 2-6 2-6 2-6 2-6 2-4M533 1274l2-6 3-5 3-6 2-5 3-6 3-6 2-5 3-5M348 1231l0 6 0 6 1 6 0 7 0 7 0 6 0 7 0 4M246 1206l3 6 3 6 2 6 3 6 3 6 2 6 3 6 2 6 3 6 2 6 2 6 2 5M448 1260l1-6 1-6 1-7 2-6 1-6 2-7 1-6 2-7 0 0M497 1266l3-5 3-6 3-5 3-6 3-5 3-5 4-6 3-5 4-5 3-5 4-6 4-5 3-5 4-5 1-1M288 1192l3 6 3 6 2 6 3 6 2 6 2 6 3 6 2 6 2 6 2 6 2 6 1 6 2 6 1 3M88 1290l-6-3-6-2-6-2-3 0M696 1283l-6 1-6 2-6 2-2 1M449 1260l2-6 2-6 2-6 2-6 2-6 2-6 3-6 2-6M234 1213l4 6 3 5 3 5 4 5 3 6 3 5 3 5 4 6 3 5 3 6 2 5 2 3M575 1280l-2 2M339 1285l-2-6-1-6-2-7-1-6-1-6-2-7-1-6-1-7-2-6-1-6 0-2M127 1221l0 6 0 7 1 6 0 6 1 7 1 6 1 6 1 6 1 6 1 6 1 7M650 1272l0-6-1-6 0-7-1-6-1-6-1-6-1-6-1-6-1-6-2-6M494 1211l-2 6-3 6-2 6-3 6-2 6-2 5-2 6-3 6-1 4M293 1273l-2-5-2-6-2-6-2-6-1-2M116 1249l-1 6-1 6 0 6 0 7-1 6 0 4M650 1282l0-7 0-6 0-6-1-6 0-6-1-7-1-6-1-6-1-6-2-6-1-6-2-6-2-6-2-5-2-6-3-6-3-6-3-5-4-6-4-5-4-4-5-4-5-4-5-3-6-2-6-2-7-2-6 0-7 0-6 2-6 1-5 2-6 3-5 4-6 4-4 4-5 5-5 5-3 4-4 5-3 5-3 6-4 5-2 6-3 5-3 6-3 6-2 6-2 6-3 5-2 6-2 6-2 6-2 6-1 2M293 1272l-2-5-2-6-2-6-3-6-2-6-2-5-2-6-3-6-2-6-3-6-3-5-2-6-3-5-3-6-4-5-3-5-4-5-3-5-5-5-5-4-4-5-2-1M153 1158l-4 4-4 5-4 5-4 5-3 6-3 6-3 6-2 6-2 5-1 6-2 6-1 6-2 6-1 6-1 6 0 7-1 6-1 6 0 6 0 6-1 7 0 4M632 1273l1-6 0-1M635 1246l1-6 0-6 1-7 0-6 0-7 0-7 0-6 0-7 0-7-1-7 0-6-1-3M444 1195l-1 7-2 6-1 6-1 6-2 6-1 6-1 6-1 6-2 7-1 6-1 3M249 1287l-2-5-3-6-3-5-3-6-3-5-3-5-3-6-3-5-2-3M212 1226l-5-5-4-4-5-4-5-4-5-3-6-2-6-2-2-1M155 1201l-5 2-6 3-5 3-5 4-5 4-4 5-4 5-3 5-3 6-3 6-3 6-2 5-2 6-2 6-2 6-1 6-2 5M597 1284l2-5 3-6 2-6 2-6 3-6 2-6 2-6 2-6 2-6 2-6 2-6 2-6 1-3M393 1235l0 5M392 1258l-1 7 0 4M125 1280l-5-3-6-2-6-1-7-1-6 1-6 2-5 3-6 3-4 3M497 1266l3-5 3-6 3-5 3-5 3-6 3-5 4-6 3-5 4-5 1-2M553 1182l4-5 4-5 4-5 5-5 4-5 5-5 4-4 1-1M262 1148h0M274 1165l3 6 4 6 3 6 3 6 2 6 3 6 3 5 2 6 3 7 2 6 2 6 3 6 2 6 2 6 2 6 1 6 2 6 2 6 1 6 2 6 0 1M88 1290l-6-3-5-2-7-2-3 0M697 1283l-7 1M680 1287l-3 2M449 1260l2-5M260 1256l3 5 3 6 3 5 1 1M673 1276l-3-5-4-5-4-5-4-4-5-4-5-3-6-3-6-2 0 0M615 1246l-1 1M596 1257l-5 4-5 5-4 4-4 5-4 5 0 1M373 1275l-1-6 0-7-1-7 0-6 0-6-1-6 0-6 0-7 0-6-1-7 0-6 0-7 0-2M137 1197l1 7 2 6 2 6 1 6 2 6 2 5 2 7 2 6 2 6 3 6 2 6 2 6 1 3M187 1156l5 5 4 4 5 5 4 5 4 5 4 5 4 5 4 5 4 5 3 5 4 6 4 5 3 5 4 5 3 6 3 5 4 5 3 6 3 5 3 5 3 6 3 5 3 6 1 2M408 1263l1-6 1-6 0-6 1-6 1-6 1-7 0-6 1-6 1-6 1-7 2-6 1-6 1-7 1-6 2-7 1-6 2-7 0-1M159 1267l2 5 3 6 1 4M650 1288l0-6 0-6 0-7 0-6-1-6 0-6-1-6-1-7-1-6-1-6-2-6-1-6-2-6-2-6-1-4M501 1198l-3 6-3 6-3 5-2 6-3 6-2 6-2 6-3 5-2 6-2 6-2 6 0 1M296 1281l-2-6-2-6-2-6-3-6-2-5-2-6-2-6-2-6-3-6-2-5-3-6-2-5M123 1212l-2 6-1 6-2 6-1 6-1 6 0 6-1 7-1 6 0 6 0 6-1 6 0 5M599 1279l3-6 2-5 2-6 3-6 2-6 2-6 2-7 2-6 2-6 2-6 2-6 1-6 2-6 1-6 2-7 1-6 2-7 1-6 1-7 1-6 1-2M396 1154l0 6-1 7 0 7 0 6 0 7-1 7 0 7 0 6 0 7 0 6-1 7 0 6 0 6 0 6-1 6 0 6-1 7 0 5M191 1283l-4-5-4-5-4-5-5-4-4-5-5-3-5-4-6-3-6-2-6-2-6 0-6 0-6 2-6 2-5 3-5 4-5 4-4 5-4 5-4 5M550 1277l3-5 4-5 3-6 4-5 3-6 4-5 3-6 3-5 4-5 3-6 3-5 3-5 2-3M348 1211l1 6 1 6 1 7 1 6 1 6 0 6 1 6 1 7 0 6 1 7 0 1M125 1280l-5-3-6-2-6-1-6-1-7 1-6 2-5 3-6 3 0 0M497 1267l3-6 3-5 3-6 3-5 3-6 3-5 4-5 3-5 3-6 4-5 4-5 3-5 4-5 4-6 4-5 4-5 4-5 4-5 5-4 4-5 4-5 5-5 5-5 4-4 5-4 2-2M252 1135l5 5 4 6 4 5 3 6 4 5 3 6 4 6 3 5 3 6 3 6 3 6 2 6 3 6 2 6 3 6 2 6 2 6 3 6 2 6 1 5M88 1290l-4-3M77 1285l-7-2-3 0M697 1283l-7 1-6 1-5 3-3 1M449 1260l2-6 2-6 2-6 2-6 2-6 2-6 2-6 3-6 1-4M481 1178l4-6 3-5 3-6 4-6 4-5 2-3M278 1198l-3-6-3-6-3-6-3-5-3-5-4-5-4-5-4-5M162 1155l-4 6-3 5-2 6-2 5-2 6-2 6-2 7-1 6-1 6 0 7-1 6 0 7 0 6 0 7 0 6 0 7 1 6 0 6 1 7 1 6 1 6M136 1228l-1 6-2 6-2 7-1 6-1 6-1 6 0 6-1 6 0 6 0 5M648 1288l-1-6-2-6-1-6-2-6-3-6-2-6-3-5-3-6-4-5-4-4-5-4-4-3M578 1225l-5 3-5 4-5 4-4 4-4 5-4 5-4 5-3 5-3 5-4 6-2 3M272 1282l-1-3M513 1270l3-6 3-5 4-6 3-5 3-6 4-5 3-5 4-6 3-5 3-6 4-5 3-5 0-1M366 1205l0 6 1 6 0 7 0 6 1 7 0 6 0 6 0 6 0 6 0 6 0 7 0 3M215 1280l-3-5-4-6-4-5-3-4-4-5-5-5-4-4-5-3-6-4-5-2-6-2-6-1-6 1-6 1M141 1240l-3 2M489 1265l3-6 2-5 3-6 3-5 3-6 3-5 3-6 1-1M347 1225l1 7 1 6 0 6 1 6 1 6 0 6 0 6 1 7 0 6 0 1M647 1276l-2-6-2-5-3-6-3-5-3-6-4-5-4-4-5-4-5-3-6-2-6-1-7 0-5 2-6 2-6 3-5 4-5 4-1 1M556 1259l-3 5-4 6-2 3M392 1269l0-7 0-6 0-6 0-6 0-7 0-6 0-7 1-6 0-6M209 1213l4 5 3 6 4 5 3 5 3 6 4 5 3 6 3 5 3 6 4 5 3 5 3 6 3 5 0 1M508 1213l-1 1M503 1221l-2 5-1 1M495 1240l-3 5-2 6-3 6-2 6-1 1M350 1274l-1-6-2-6-1-7-1-6-1-6-1-6-1-6-2-6-1-7M161 1219l1 6 2 6 2 6 2 6 2 6 2 6 2 5 3 6 2 6 3 6 0 1M611 1273l1-6 1-6 1-7 1-6 1-6 1-7 0-6 1-6 0-6 0-6 0-6 0-6-1-6 0-6-1-6-1-6-2-6-1-6-2-6-3-6-2-6-2-4M494 1142l-4 5-3 5-3 5-3 6-3 5-2 6-3 5-2 6-2 6-2 6-1 2M454 1236l-2 6-1 6-2 6-2 6M320 1282l-2-6-2-6-2-6-2-6-2-6-2-6-1-6-2-6-2-7-2-6-2-6-2-5-2-6-2-6-3-5-2-6-2-6-3-5-3-6-2-5-3-5-2-3M155 1158l-2 6-2 6-2 7-1 6-1 6-1 6 0 6-1 6 0 6 0 6 0 6 0 6 1 7 0 6 1 5M359 1254l0 6 0 6 0 7 0 6 0 1M375 1275l-1-6 0-7-1-6-1-3M140 1229l-2 5-2 6-2 6-2 6-1 6-2 6-1 6-1 5M631 1279l0-6-1-7 0-6-1-6-1-7-1-6-1-6-2-6-1-6-2-6-3-6-2-6-3-5-3-6-4-5-4-5M587 1173l-6-3-6-1-6-1-6 0-6 1-6 1-6 3-5 3-6 3-5 4-4 4-5 5-4 5-3 4-4 5-4 6-3 5-3 5-3 6-3 5-3 6-3 6-3 5-2 6-3 6-1 1M336 1285l-2-6-2-6-2-6-2-6-2-6-1-6-2-6-2-6-2-6-2-6-2-6-2-6-2-7-3-6-2-6-2-5-2-6-2-5-3-6-3-5-2-5"/>
<path stroke="#ff4000" d="M489 1148l3-6 2-4M217 1139l4 6 2 4M394 1250l0-7 0-6M188 1237l2 6 3 6 0 1M143 1227l-3 5-2 5M619 1216l-1-6 0-1M457 1210l-2 6 0 1M268 1256l-3-6-4-5-1-3M590 1219l0-1M380 1212l0 6 0 1M513 1211l2-6 1-1M301 1204l2 7 0 1M258 1272l3 6 0 1M293 1218l-3-6-1-2M145 1211l-1 6 0 1M622 1224l-3-6 0-3M501 1216l-3 5-2 3M376 1230l-1-6 0-3M168 1222l2 6 1 3M328 1284l-2-6-2-5-3-6-2-6-1-2M141 1259l0 7 1 6 0 6M633 1260l-2-6-1-6-1-4M526 1272l2-5 1-1M344 1267l0 6 0 6 1 3M483 1226l3-6 1-3M283 1218l2 6 1 2M423 1260l0-6 1-7M230 1248l3 6 3 5 2 6 1 1M623 1227l-2-6 0-2M481 1220l-3 5-2 3M282 1229l-3-5-2-4M143 1220l-2 6-1 4M372 1213l0 6 0 2M586 1213l2-6 0-2M537 1215l3-6 0-1M325 1208l1 7 0 1M462 1155l2-6 1-3M200 1147l3 5 2 3M400 1207l0-7M181 1201l2 6 0 1M608 1197l-4-5-2-2M523 1191l-4 4-2 2M292 1215l-2-5-1-3M146 1208l-1 6-1 1M613 1202l0-7M430 1196l-1 6-1 1M270 1207l3 6 0 1M483 1204l2-6 0 0M554 1230l2-6 2-3M347 1222l1 6 0 3M242 1199l3 5 1 2M545 1191l4-5 1-1M285 1185l3 6 0 1M466 1212l2-6 1-1M229 1206l3 5 2 2M408 1264l1-4M202 1260l4 6 3 5 0 1M674 1277l-4-5-3-5-4-5-5-4-2-2M597 1256l-5 4-5 5-4 4-4 5-4 5 0 1M163 1277l2 5 2 3M325 1220l-2-6 0-1M126 1213l1 7 0 1M641 1211l-2-6 0-1M498 1204l-3 6-1 1M284 1248l-2-6-3-6 0-1M117 1236l-1 7 0 6M339 1284l-1 0M229 1157l-5-3-5-4-3-1M165 1149l-5 4-5 3-2 2M634 1159l-1-3M446 1189l-2 6M174 1201l-6 0-6-1-6 1-1 0M624 1210l1-6 1-2M393 1225l0 6 0 4M584 1147l5-5 4-4 1-1M255 1138l4 5 3 5M451 1255l1-6 2-6 1-3M252 1241l3 6 3 5 2 4M369 1196l0-6M135 1191l2 6M179 1147l5 5 3 4M426 1155l2-6 0-2M373 1275l-1-5M154 1253l2 6 2 6 1 2M637 1198l-2-5-1-1M504 1192l-3 6 0 0M269 1212l-3-6-1-1M125 1205l-2 6 0 1M636 1154l1-7 0-2M396 1146l0 6 0 2M592 1210l3-6 1-1M347 1204l1 6 0 1M240 1122l5 4 4 5 3 4M501 1147l4-5 3-4M251 1155l-4-4-5-5M170 1147l-5 4-3 4M140 1219l-2 6-2 3M614 1225l-6-3-5-1-6-1-7 1-6 1-5 3-1 0M119 1268l-3 5-3 5-2 3M623 1287l1-7 0-6 1-6M271 1279l-2-6-3-6-3-5-1-3M553 1204l2-3M365 1198l1 6 0 1M559 1274l3-5 3-6 3-5 0 0M510 1225l3-5 2-4M346 1217l1 6 0 2M657 1289l0 0M652 1287l-6-1-6 1-3 1M393 1212l0-6 0-1M205 1205l3 5 1 3M512 1206l-4 6 0 1M339 1218l-1-6 0-1M159 1211l1 7 1 1M603 1141l-4-5-4-5-1-1M504 1130l-4 5-4 5-2 2M273 1157l-3-5-2-3M159 1149l-3 6-1 3M358 1240l0 6 0 6 1 2M372 1253l-1-6 0-6 0-2M292 1162l-3-5-1-3"/>
<path stroke="#ff8000" d="M494 1138l2-5 3-6 1-1M209 1127l4 6 3 5 1 1M394 1237l-1-6 0-5M184 1227l2 6 2 4M147 1218l-3 6-1 3M618 1209l-1-6-1-1M460 1203l-2 5-1 2M260 1242l-4-5-3-5-1-1M380 1205l0 6 0 1M516 1204l3-6 0-1M299 1198l2 6M435 1260l1-7 0-2M249 1252l3 6 3 5 2 6 1 3M382 1272l-1-6-1-5M181 1262l2 6 2 5 2 6 3 6 1 3M289 1210l-3-6 0-1M147 1204l-1 6-1 1M619 1215l-3-5-1-2M506 1209l-3 5-2 2M375 1221l-1-6 0-2M166 1214l2 6 0 2M318 1259l-2-6-2-6-2-4M142 1244l-1 6 0 7 0 2M629 1244l-2-5-2-7M529 1266l2-6 3-5 3-6 0-1M343 1248l0 7 1 7 0 5M487 1217l2-6 1-2M280 1210l3 6 0 2M424 1247l0-6 1-6M224 1236l3 5 3 6 0 1M621 1219l-2-6-1-2M485 1212l-3 5-1 3M277 1220l-3-5-2-3M145 1213l-2 6 0 1M372 1206l0 6 0 1M588 1205l2-5 0-1M540 1208l3-6 1-1M324 1202l1 6 0 0M465 1146l2-6 1-4M194 1137l3 5 3 5M400 1200l1-6M178 1194l3 6 0 1M602 1190l-4-4-2-2M531 1185l-5 4-3 2M289 1207l-3-5-1-1M148 1201l-2 6 0 1M613 1195l0-6M432 1189l-2 6 0 1M267 1200l3 6 0 1M485 1198l3-6 0-1M332 1278l-2-4M145 1275l0 6 0 3M558 1221l3-6 1-2M346 1214l1 6 0 2M239 1193l3 5 0 1M550 1185l4-5 1-2M281 1179l3 5 1 1M469 1205l2-6 1 0M224 1199l4 5 1 2M409 1260l0-7 1-6 0-3M193 1245l3 5 3 6 3 4M656 1256l-5-4-5-3-6-3-6-1-6-1-6 1-6 1-6 2-5 3-6 3-2 2M373 1273l-1-7 0-7-1-6M154 1254l3 6 2 6 2 6 2 5M323 1213l-2-7 0-1M126 1206l0 6 0 1M639 1204l-2-6-1-1M501 1198l-3 6 0 0M279 1235l-2-6-2-3M119 1227l-1 6-1 3M338 1284l-1-6-1-7-2-6-1-6 0-1M130 1259l1 6 1 6 1 6 0 1M216 1149l-5-2-6-2-6-1-6-1-7 0-6 1-7 2-6 3-2 0M633 1156l-1-6-1-3M447 1183l-1 6M626 1202l1-6M394 1219l-1 6M550 1277l4-5 3-6 1-1M594 1137l5-4 4-4 5-4 1 0M244 1126l5 5 4 5 2 2M455 1240l2-6 2-4M245 1230l3 5 4 6 0 0M369 1190l-1-6M134 1185l1 6M169 1138l4 4 5 4 1 1M428 1147l2-7 1-4M372 1270l0-7-1-7 0-6M153 1251l2 6 1 1M634 1192l-2-6-1-1M508 1186l-3 5-1 1M265 1205l-3-6 0-1M127 1198l-2 6 0 1M631 1274l1-6 1-6 1-3M246 1281l-3-6-2-5-2-4M103 1267l-2 6-1 6-2 6 0 3M637 1145l1-6 1-5M396 1134l0 7 0 5M596 1203l3-6 1-1M346 1197l1 7M625 1113l5-4 6-3 6-4 3-2M215 1101l5 3 5 4 5 4 5 4 4 4 1 2M508 1138l4-6 4-4 3-3M242 1146l-5-3-5-4-6-2 0 0M184 1137l-5 3-5 3-4 4M144 1212l-3 5-1 2M625 1268l0-7 1-6 0-6M477 1249l-2 6-2 6-1 1M365 1192l0 6M568 1258l3-6 3-6 2-4M515 1216l3-5 2-2M345 1209l1 7 0 1M393 1205l0-6 0-1M201 1199l3 5 1 1M516 1200l-4 5 0 1M338 1211l-1-7 0 0M157 1204l2 7 0 0M594 1130l-4-5-5-4-5-3-6-3-1-1M528 1114l-6 3-6 3-5 4-5 4-2 2M268 1149l-4-5-4-5M165 1140l-4 5-2 4M357 1229l0 7 1 4M644 1277l-2-6-3-6-3-5-1-3M554 1255l-4 5-4 5-4 5-3 4M371 1239l-1-6-1-5M288 1154l-4-5-2-4"/>
<path stroke="#ffbf00" d="M500 1126l3-5 3-5 3-6 1 0M197 1110l4 5 4 6 3 5 1 1M393 1226l0-6 0-2M181 1219l2 6 1 2M161 1264l1 6 1 7 2 6 0 2M153 1211l-4 5-2 2M616 1202l-1-6M463 1196l-2 6-1 1M252 1231l-3-5-4-4M381 1198l-1 7M519 1197l3-5 1-1M297 1192l2 6M436 1251l1-6 1-7M243 1239l3 5 3 6 0 2M380 1261l-1-6 0-7-1-3M176 1246l2 6 2 6 1 4M286 1203l-3-5-1-2M150 1197l-2 6-1 1M615 1208l-3-5-1-2M512 1202l-4 5-2 2M374 1213l-1-6 0-1M165 1207l1 6 0 1M523 1204l-3 3M312 1243l-2-6 0 0M143 1233l-1 6 0 5M625 1232l-3-6-1-3M537 1248l3-6 3-6 0-1M342 1236l0 6 1 6M490 1209l2-5 0-1M278 1203l2 6 0 1M425 1235l1-6 0-4M220 1226l2 5 2 5M618 1211l-2-6 0-1M489 1205l-4 5 0 2M272 1212l-3-5-1-2M148 1206l-2 5-1 2M372 1199l0 7M590 1199l2-6 0 0M544 1201l3-5 1-2M322 1196l2 6M468 1136l3-6 2-6 0-1M185 1124l4 5 3 5 2 3M401 1194l0-7M176 1188l2 6 0 0M596 1184l-5-3-4-3M541 1178l-5 3-5 4M285 1201l-3-6 0-1M150 1195l-2 6M613 1189l-1-7M434 1183l-2 6 0 0M265 1194l2 6 0 0M488 1191l2-6M330 1274l-2-6-2-6-2-6-1-3M144 1253l0 6 0 7 1 7 0 2M562 1213l2-6 1-1M346 1207l0 6 0 1M236 1186l3 6 0 1M470 1173l2-5 1-1M555 1178l5-5 1-1M278 1173l3 6M472 1199l2-6 1-1M219 1193l4 5 1 1M410 1244l1-6 1-6M185 1233l3 5 4 6 1 1M371 1253l0-6 0-6 0-2M149 1241l3 6 2 6 0 1M666 1288l-1-7-2-6 0 0M321 1205l-1-6M127 1199l-1 7M636 1197l-2-6 0 0M505 1191l-3 6-1 1M275 1226l-2-6-2-3M121 1218l-1 6-1 3M631 1278l1-6 1-6M333 1258l-2-6-1-7-1-3M128 1243l1 6 1 7 0 3M631 1147l-1-6-2-4M449 1177l-2 6M627 1196l2-6M558 1265l3-5 4-6 3-5 1-1M353 1248l1 6 0 1M609 1125l5-4 5-4 5-4 5-3 5-3M224 1107l5 4 5 4 4 4 4 5 2 2M459 1230l2-6 1-3M239 1221l4 6 2 3M211 1275l3 4M368 1184l0-7M133 1178l1 7M154 1125l5 3 4 4 5 5 1 1M431 1136l2-6 3-7M209 1271l3 5M371 1250l0-6-1-6 0-1M148 1238l2 6 3 6 0 1M631 1185l-3-6M512 1180l-3 5-1 1M262 1198l-3-6-1 0M130 1192l-3 6M634 1259l0-6 1-6 1-3M434 1244l-2 7-1 6-1 3M239 1266l-3-5-3-6-4-5-1-2M109 1249l-2 5-2 6-2 6 0 1M639 1134l0-6 1-6 0-1M397 1121l0 6 0 6-1 1M600 1196l3-6 0 0M345 1191l1 6M645 1100l6-3 5-3 6-2 5-3 6-2 6-3 7-2 1 0M106 1073l7 0 6 0 7 0 6 0 6 1 7 0 6 1 6 2 6 1 6 2 6 1 6 3 7 2 6 3 6 3 6 3 5 3 4 3M519 1125l4-5 5-4 4-4 4-3M226 1137l-6-3-6-1-6-1-7 0-6 1-6 2-5 2M149 1205l-4 5-1 2M626 1249l-1-6 0-7M482 1237l-3 5-2 6 0 1M343 1284l-2-6-1-6-2-4M249 1233l-2-3M364 1186l1 6M576 1242l2-5 3-6M520 1209l3-5 1-2M343 1203l2 6M393 1198l1-6M197 1192l3 5 1 2M521 1193l-4 5-1 2M337 1204l-1-7M156 1198l1 6 0 0M573 1114l-6-2-6-1-6-1-6 0-6 0-6 1-6 2-3 1M260 1139l-5-4-4-4-4-3M176 1128l-4 4-4 5-3 3M356 1220l1 7 0 2M305 1270l2 6 2 6 1 3M147 1263l0 7 1 6M631 1251l-4-4-5-5-2-1M570 1241l-5 3-5 5-4 4-2 2M369 1228l0-6-1-2M282 1145l-4-5-4-5M639 1276l-1-6-2-6 0-2"/>
<path stroke="#ffff00" d="M510 1110l3-6 4-5 4-5 4-5 5-5 5-5 1-2M166 1077l5 5 4 4 5 5 4 4 4 5 4 4 4 6 1 0M393 1218l0-7 0 0M178 1211l3 6 0 2M157 1247l1 6 2 7 1 4M647 1286l-2-6-3-6 0-1M361 1280l-2-6-1-3M157 1206l-4 5M615 1196l-1-6 0-1M466 1190l-3 6 0 0M245 1222l-3-5-3-3M381 1192l0 6M523 1191l2-5 1-2M295 1185l2 6 0 1M438 1238l1-7 1-3M238 1228l3 6 2 5M378 1245l0-5M172 1234l2 6 2 6M652 1288l-4-5-3-5-4-3M577 1275l-5 4-2 2M282 1196l-3-5-1-1M152 1191l-2 6M611 1201l-3-5-1-1M518 1195l-5 5-1 2M373 1206l-1-6 0-1M163 1200l1 6 1 1M530 1198l-5 4-2 2M144 1223l-1 6 0 4M621 1223l-3-5-1-3M543 1235l3-5 2-5M341 1226l1 6 0 4M492 1203l3-6 0-1M275 1197l3 6 0 0M426 1225l1-6 0-3M215 1217l3 6 2 3M616 1204l-2-5-1-1M493 1198l-3 5-1 2M268 1205l-4-5-1-1M151 1199l-2 6-1 1M372 1193l0 6M592 1193l2-6 0-1M548 1194l3-5M321 1189l1 6 0 1M473 1123l3-6 3-6 3-6 0-1M173 1105l4 5 3 6 4 5 1 3M401 1187l0-6M174 1182l2 6M587 1178l-6-3-6-1-6-1-6-1-7 1-6 2-6 2-3 1M282 1194l-4-5 0-1M153 1188l-3 6 0 1M612 1182l0-6M436 1177l-2 6M262 1188l2 5 1 1M490 1185l3-6 0-1M639 1287l-1-6-1-6-1-2M323 1253l-2-7-2-5-1-2M144 1239l0 6 0 6 0 2M565 1206l3-6 0-1M345 1200l1 6 0 1M233 1180l3 6 0 0M473 1167l0-1M242 1272l-3-6-3-5-3-4M106 1257l-2 6-2 6-1 6-1 2M598 1281l3-6 2-5M561 1172l4-5 2-2M274 1166l3 5 1 2M475 1192l3-6M214 1187l4 5 1 1M412 1232l1-6 0-3M180 1224l3 5 2 4M371 1239l-1-6 0-4M146 1229l2 6 1 6M663 1275l-2-7-1-6-2-5-2-4M531 1254l-3 5-3 6-3 5 0 1M320 1199l-2-7 0 0M127 1193l0 6M634 1191l-3-6M508 1185l-3 6 0 0M271 1217l-2-6-1-2M123 1210l-1 6-1 2M633 1266l1-6 0-6 1-5M433 1249l-2 6-1 5M250 1289l-3-5-2-6-3-5M662 1271l-1-6-2-4M527 1261l-3 6-2 5M329 1242l-1-6-1-4M127 1232l1 6 0 5M628 1137l-2-6-2-5 0-1M451 1170l-2 6 0 1M629 1190l1-7M569 1248l3-6 3-5 1-2M352 1236l1 6 0 6M634 1107l6-4 6-3 5-3 5-3 6-3 6-2 6-2 6-3 6-2 7-2 3-1M68 1079l7-2 6-1 6-1 6-1 7 0 6-1 6 0 7 0 6 0 6 0 7 1 6 0 6 1 6 2 6 1 6 1 6 2 7 2 6 3 6 3 6 3 6 3 6 3 5 4 5 3 3 2M462 1221l3-6 0-2M234 1213l3 5 2 3M408 1263l1-7 0-3M198 1254l3 5 4 6 3 5 3 5M368 1177l0-6M131 1172l2 6M530 1114l5-4 5-4M128 1106l6 4 5 4 5 3 5 4 5 4M436 1123l2-6 2-6 2-6 1-1M197 1252l3 5 4 6 3 5 2 3M370 1237l0-6 0-5M145 1227l2 6 1 5M628 1179l-3-5-1-2M517 1173l-3 5-2 2M258 1192l-3-6-1-1M132 1186l-2 6M636 1244l0-7 1-5M436 1233l-1 6-1 5M228 1248l-3-5-4-6-2-2M116 1236l-3 6-3 6-1 1M640 1121l0-7 1-6 0-7 0-2M399 1100l-1 7 0 6-1 6 0 2M603 1190l3-6 1-1M343 1185l2 6M155 1198l-4 4-2 3M625 1236l0-6-1-4M486 1227l-3 5-1 5M338 1268l-1-5M247 1230l-3-6-2-3M569 1179l0-1M364 1179l0 6 0 1M581 1231l3-5 1-4M402 1222l-1 7 0 0M524 1202l3-5 1-1M342 1196l1 7M321 1282l1 5M394 1192l0-6M193 1186l4 5 0 1M526 1187l-4 4-1 2M336 1197l-2-6M155 1191l1 6 0 1M247 1128l-6-3-5-3-6-3-6-2-6-1-7 0-6 0-6 1-6 2-6 2-5 3-5 4-1 0M549 1277l3-4M355 1213l1 6 0 1M299 1251l2 6 2 5 2 6 0 2M146 1246l0 7 0 6 1 4M620 1241l-5-4-5-3-6-1-7-1-6 0-6 1-6 2-5 3-4 3M368 1220l0-6-1-2M274 1135l-5-5-4-4-6-4 0 0M299 1274l-2-5-3-6-2-5M137 1258l-1 7 0 6 0 5M636 1262l-2-6-2-6-2-4"/>
<path stroke="#bfff00" d="M536 1077l5-4 5-5 5-4 5-3 6-4 5-3 6-3 6-3 6-3 7-2 6-2 6-2 6-1 7-2 7-1 7-1 7-1 7 0 6-1 6 0 6 0 6 0 6 0 8 1 7 0 6 1M69 1034l7 1 6 2 7 1 6 2 6 1 7 2 6 3 6 2 6 3 6 3 6 3 5 3 6 4 5 3 5 4 5 4 2 2M393 1211l0-7 0-1M176 1204l2 7 0 0M156 1235l0 6 1 6M642 1273l-3-6-3-5-3-5-3-5M548 1253l-4 4-4 5-4 5-4 4M358 1271l-1-6-2-6-1-6 0-2M614 1189l-2-6 0 0M469 1184l-3 5 0 1M239 1214l-5-5-3-2M156 1207l-2 2M532 1271l2-4M348 1268l0 4M382 1185l-1 7M526 1184l3-5 0-1M293 1179l2 5 0 1M440 1228l1-6 0-3M234 1219l3 6 1 3M170 1224l1 7 1 3M641 1275l-4-4-5-4-6-3-1-1M609 1261l-6 1-1 0M586 1269l-5 3-4 3M278 1190l-3-5-1-1M155 1185l-3 5 0 1M607 1195l-4-5-2-2M524 1189l-5 4-1 2M372 1199l0-6M162 1193l1 6 0 1M532 1196l-2 2M145 1215l-1 6 0 2M617 1215l-3-5-2-2M604 1285l1-6 1-3M548 1225l3-6 1-2M340 1218l1 6 0 2M495 1196l3-6M272 1190l3 6 0 1M427 1216l1-6 0-1M212 1210l3 5 0 2M613 1198l-2-6-1-1M497 1192l-3 5-1 1M263 1199l-4-5-1-2M155 1192l-3 6-1 1M372 1189l0 4M594 1186l2-6M551 1189l3-6 0-1M320 1182l1 7M482 1104l3-6 4-5 3-6 4-5 3-5 4-5 4-5 4-5 1-1M136 1062l4 4 5 5 5 5 4 4 4 5 4 5 4 5 3 5 4 5M401 1181l0-7M172 1176l2 5 0 1M278 1188l-4-6 0-1M156 1182l-3 6 0 0M612 1176l-1-6M438 1170l-2 6 0 1M259 1181l2 6 1 1M493 1178l3-6M636 1273l-1-6-1-6-2-6-1-3M499 1252l-3 6-4 6-1 2M318 1239l-2-6-2-5M144 1229l0 6 0 4M582 1282l2-5 2-6 2-6 0-2M389 1264l-1 6 0 0M568 1199l3-6 0 0M344 1193l1 7M229 1174l3 5 1 1M233 1257l-3-5-3-6-3-4M112 1243l-2 6-3 5-1 3M603 1270l2-5 3-6 2-6 1-2M392 1251l0 6-1 7 0 5M89 1280l-3 5M567 1165l4-5 3-3M270 1159l3 5 1 2M478 1186l3-6 0-1M209 1180l4 5 1 2M413 1223l1-6 0-3M175 1215l3 6 2 3M370 1229l0-7 0-3M143 1221l2 5 1 3M656 1253l-2-5-3-6-1-3M540 1240l-4 6-3 5-2 3M318 1192l-2-7M127 1186l0 7M631 1185l-3-6 0-1M513 1179l-4 5-1 1M268 1209l-3-5 0-1M125 1204l-2 5 0 1M635 1249l1-7 0-6M435 1236l-1 7-1 6M659 1261l-2-6-2-6-2-5M536 1246l-3 5-3 5-3 5M327 1232l-1-6-1-4M127 1223l0 6 0 3M624 1125l-3-6-3-5-3-5-2-2M453 1163l-2 6 0 1M630 1183l2-6M576 1235l4-5 2-5M351 1226l1 7 0 3M465 1213l3-6 0-1M229 1206l4 6 1 1M409 1253l1-6 1-6 0-2M189 1240l4 5 3 6 2 3M368 1171l0-7M130 1165l1 7M540 1106l5-4 5-3 6-4 5-3 6-3 7-3 2-1M605 1076l7-1 6-1 6-1 7 0 6-1 7 0 6 0 6 0 7 1 6 1 6 0 6 1 6 2 6 1 4 1M69 1079l6 2 7 2 6 3 6 2 6 3 5 2 6 3 5 3 6 3 6 4 0 0M443 1104l2-5 3-6 3-5 3-6 3-5 4-6 4-5 3-3M82 1064l4 4 4 5 4 5 4 6 4 5 3 4M188 1238l4 6 3 5 2 3M370 1226l0-6 0-2M143 1219l1 6 1 2M339 1285l-2-6-1-7-2-6M624 1172l-4-5-1-1M523 1166l-4 5-2 2M254 1185l-3-5-1-1M136 1179l-3 6-1 1M637 1232l0-7 0-2M438 1224l-1 6-1 3M219 1235l-4-5-4-5M122 1226l-3 5-3 5M641 1099l0-6 0-7 0-7-1-7-1-6-2-7-1-6-2-6-3-6-2-3M415 1040l-3 6-3 6-2 6-2 7-2 6-1 6-1 7-1 6-1 6 0 4M607 1183l3-5 0-1M342 1178l1 7M207 1192l-1-1M163 1192l-5 3-3 3M624 1226l0-6-1-2M489 1218l-2 6-1 3M242 1221l-3-5-1-1M569 1178l4-5 0-1M363 1173l1 6M585 1222l3-6 1-2M402 1214l0 7 0 1M528 1196l4-6 1-1M341 1190l1 6M449 1260l0-3M316 1257l1 6 2 6 1 7 1 6M394 1186l1-7M190 1180l3 5 0 1M531 1181l-4 4-1 2M334 1191l-1-6M154 1185l1 6M552 1273l3-5 3-5 3-6 3-5M393 1253l0 6-1 7-1 3M354 1205l1 7 0 1M294 1238l2 5 2 6 1 2M145 1234l0 6 1 6M367 1212l0-4M259 1122l-5-4-5-2M292 1258l-3-6-2-6-2-3M138 1243l-1 7 0 6 0 2M630 1246l-2-6-3-6 0 0M344 1284l-2-6-2-6-1-5M156 1267l1 4"/>
<path stroke="#80ff00" d="M393 1203l0-6M174 1197l2 6 0 1M154 1225l1 6 1 4M630 1252l-4-4-4-5-5-4-1 0M564 1239l-5 4-4 3-5 5-2 2M354 1251l-2-6-1-6 0-1M612 1183l-2-6M472 1177l-2 6-1 1M231 1207l-5-4-4-3M163 1200l-5 5-2 2M534 1267l3-5 2-6 3-5 1-2M347 1249l1 7 0 6 0 6M600 1181l0-3M382 1179l0 6M529 1178l3-5 1-1M290 1172l2 6 1 1M441 1219l1-6 1-2M230 1212l3 5 1 2M375 1217l0-1M167 1216l2 6 1 2M274 1184l-3-5-1-1M158 1178l-3 6 0 1M601 1188l-4-4-3-2M532 1183l-5 3-3 3M372 1193l-1-7M161 1187l1 6M299 1212l-1-5M146 1207l-1 7 0 1M612 1208l-4-5-1-2M255 1290l-3-6-4-5-4-6-3-5-2-3M126 1265l-2 6-2 6-2 4M606 1276l1-6 1-7 1-6 1-3M417 1255l-2 6 0 1M552 1217l3-6 1-1M339 1210l1 6 0 2M498 1190l2-6 1-1M270 1184l2 6M428 1209l1-6 0-1M208 1203l3 5 1 2M610 1191l-3-6 0 0M502 1185l-4 5-1 2M258 1192l-4-4-1-2M159 1186l-3 5-1 1M596 1180l0-1M554 1182l3-6 0 0M318 1176l2 6M512 1061l5-4 5-5 5-4 6-3 5-4 7-3 6-3 6-3 6-2 7-2 7-2 6-1 7-1 7-2 7-1 7 0 8-1 8 0 8 0 8 0 8 0 7 0 8 1 7 1 7 1 7 1 6 1 3 1M69 1027l8 2 6 2 7 2 5 3 6 2 6 3 6 4 5 3 6 4 5 4 5 4 2 2M401 1174l0-6M170 1169l2 6 0 1M274 1181l-4-5-1-1M159 1176l-3 5 0 1M611 1170l-1-7 0 0M441 1163l-2 6-1 1M542 1276l2-4M256 1175l2 6 1 0M496 1172l3-6 0-1M631 1252l-2-6-2-6 0-1M507 1239l-3 5-4 6-1 2M314 1228l-2-5-1-4M145 1220l-1 6 0 3M588 1263l2-6 2-6 1-5M391 1247l0 6-1 7-1 4M197 1273l-3-3M125 1270l-4 5-1 2M571 1193l3-6 0-1M344 1187l0 6M471 1172l2-6M226 1168l3 6M224 1242l-4-5-4-6 0 0M118 1231l-3 6-3 6M611 1251l2-7 2-6 0-1M393 1238l0 6-1 6 0 1M183 1273l-4-5-4-4-3-3M108 1256l-5 4-4 5-4 5-3 5-3 5M574 1157l4-4 3-3M264 1150l4 6 2 3M481 1179l3-5 0-1M204 1174l4 5 1 1M414 1214l1-6 1-1M170 1208l4 5 1 2M370 1219l-1-6 0-1M141 1213l2 6 0 2M650 1239l-3-5-3-6M548 1229l-4 5-4 6 0 0M316 1185l-1-6M128 1181l-1 5M628 1178l-4-5-1-2M518 1172l-4 5-1 2M265 1203l-3-6-1-1M128 1196l-2 6-1 2M636 1236l1-7 0-4M437 1226l-1 6-1 4M653 1244l-3-5-3-6M545 1234l-4 5-4 5-1 2M325 1222l-1-6-1-2M127 1221l0 2M613 1107h0M456 1156l-2 6-1 1M632 1177l1-7M582 1225l4-5 1-3M349 1218l1 6 1 2M468 1206l3-6 0-1M224 1200l4 5 1 1M411 1239l1-6 0-4M183 1229l3 5 3 6M368 1164l-1-7 0-1M129 1157l1 6 0 2M468 1063l4-6 5-5 5-4 5-4 6-3 6-4 6-3 6-2 7-3 7-2 7-2 6-1 7-2 7-1 6 0 8-1 7-1 7 0 8 0 7 0 8 0 7 1 7 1 7 0 6 1 7 2 6 1 7 2 7 2 6 2 6 3 6 2 6 3 6 4 5 3 4 3M68 1051l5 4 5 5 4 4M182 1228l3 5 3 5M370 1218l-1-6 0-1M140 1211l2 6 1 2M663 1275l-1-6-1-3M525 1266l-3 5M334 1266l-1-6-1-7-1-5M129 1249l0 1M619 1166l0-1M531 1159l-5 4-3 3M250 1179l-4-5-1-2M140 1173l-3 5-1 1M637 1223l0-7 0-1M440 1215l-2 6 0 3M211 1225l-4-4-4-4M129 1218l-4 5-3 3M629 1038l-4-5-4-5-5-4-5-4-6-3-7-3-6-2-5-2M455 1011l-6 3-6 2-6 3-6 4-6 4-4 5-4 5-2 3M610 1177l3-5 1-2M341 1172l1 6M206 1191l-6-2M193 1186l-6-1M180 1185l-6 1-6 2-5 3 0 1M623 1218l-1-7 0-1M493 1211l-3 5-1 2M570 1275l3-6 3-6 2-5 1-2M406 1257l-1 6 0 2M573 1172h0M362 1166l1 6 0 1M589 1214l2-6 0-1M403 1207l-1 7 0 0M533 1189l3-5 1-1M340 1183l1 6 0 1M449 1257l2-6 2-6 1-3M311 1242l2 6 2 6 1 3M395 1179l0-6 0-1M186 1173l3 6 1 1M539 1174l-5 4-3 3M333 1185l-1-6 0-1M153 1179l1 6M564 1252l3-5 3-6 1-2M395 1239l-1 6 0 6-1 2M353 1199l1 6M290 1228l2 5 2 5M146 1225l-1 6 0 3M285 1243l-2-6-1-2M140 1232l-1 6-1 5M625 1234l-3-5-3-5M339 1267l-2-6-2-6-2-6 0 0M153 1249l1 6 1 7 1 5"/>
<path stroke="#40ff00" d="M393 1197l-1-6M172 1191l2 6 0 0M154 1216l0 7 0 2M616 1239l-5-4-5-2-6-2-6-1-7 0-6 1-6 2-5 3-6 3M351 1238l-2-7-1-3M610 1177l-3-7 0 0M476 1171l-3 5-1 1M222 1200l-5-3-4-2M174 1194l-5 2M543 1249l2-5 3-6 1-2M347 1236l0 6 0 7M600 1178l2-6M382 1173l0 6M533 1172l3-6 1-2M288 1165l2 6 0 1M443 1211l1-6 0-1M227 1205l3 6 0 1M375 1216l-1-7 0-1M166 1209l1 6 0 1M270 1178l-4-5-1-2M162 1172l-4 5 0 1M594 1182l-5-3-5-3M543 1176l-5 3-5 3-1 1M371 1186l-1-6M160 1181l1 6M298 1207l-3-5-1-2M148 1201l-2 6M607 1201l-4-4-2-2M533 1195l-4 4M239 1265l-4-5-4-5-4-5-2-3M135 1248l-3 5 0 0M129 1259l-3 6 0 0M610 1254l1-7 0-6 0-1M420 1241l-1 6-2 6 0 2M556 1210l2-6 1-1M338 1204l1 6M501 1183l2-5 1-1M267 1178l3 5 0 1M429 1202l1-6 0-1M205 1196l3 6 0 1M371 1276l-1-6 0-2M172 1269l1 6 2 6 2 6M607 1185l-4-6-1-1M507 1179l-4 5-1 1M253 1186l-5-5-1-1M164 1180l-4 5-1 1M557 1176l3-6 1-1M317 1170l1 6M401 1168l0-6 1-1M168 1162l1 6 1 1M269 1175l-4-5-1-1M163 1169l-3 5-1 2M610 1163l-1-7-1-1M443 1156l-2 5 0 2M544 1272l2-6 3-6 3-5 1-4M252 1168l3 6 1 1M499 1165l3-6 1-1M627 1239l-3-6-2-5M514 1229l-3 5-4 5M311 1219l-2-5-1-2M146 1212l-1 6 0 2M593 1246l2-6 1-6M393 1234l-1 7-1 6M194 1270l-5-4-5-3-5-3-6-3-5-2-7-1-6 0-6 1-6 2-5 3-5 3-5 4-3 3M574 1186l3-6M343 1180l1 7M473 1166l2-6 1-1M221 1159h0M216 1231l-4-5-4-4M125 1222l-4 5-3 4M615 1237l2-6 2-4M393 1228l0 6 0 4M172 1261l-5-4-5-3-5-4-4-1M156 1250l-5-2-6-2-6-1-6 0-6 1-6 2-6 3-5 3-2 2M581 1150l5-5 5-5 1 0M257 1141l4 5 3 4M484 1173l4-6 0-1M198 1167l4 5 2 2M416 1207l1-6M167 1201l3 6 0 1M369 1212l0-6 0-1M139 1206l2 6 0 1M644 1228l-4-4-3-4M556 1220l-4 5-4 4M315 1179l-2-6M128 1174l0 7M623 1171l-3-5-2-1M524 1166l-5 5-1 1M261 1196l-3-5-1-1M130 1190l-2 6M637 1225l0-6 0-2M439 1218l-1 6-1 2M647 1233l-4-5-2-4M553 1224l-4 5-4 5M323 1214l-1-6-1-1M459 1147l-2 6-1 3M633 1170l1-7M587 1217l4-5 1-3M348 1210l1 7 0 1M471 1199l3-6 1-1M219 1193l4 5 1 2M412 1229l1-6 0-3M178 1220l3 6 2 3M367 1156l0-6 0-2M127 1149l1 7 1 1M178 1220l3 5 1 3M369 1211l0-7 0-1M139 1204l1 6 0 1M661 1266l-2-6-2-6-3-6 0 0M535 1248l-3 5-3 6-3 5-1 2M331 1248l-2-6-1-7M128 1237l0 6 1 6M605 1152l-3-2M542 1151l-5 3-5 4-1 1M245 1172l-5-5-1-1M145 1166l-4 5-1 2M637 1215l0-7 0-1M441 1208l-1 6 0 1M203 1217l-5-4-4-3M137 1210l-4 4-4 4M614 1170l3-5 1-1M339 1164l1 7 1 1M187 1185l-6 0-1 0M622 1210l-1-6-1-1M496 1203l-2 6-1 2M579 1256l3-5 2-6 2-4M408 1242l-1 7-1 6 0 2M580 1160l1-2M361 1159l1 6 0 1M591 1207l3-6 0-1M404 1200l-1 6 0 1M537 1183l3-5 1-2M338 1177l2 6 0 0M454 1242l2-6 1-5M308 1231l2 7 1 4M395 1172l1-6M182 1166l3 6 1 1M549 1167l-5 3-5 4M332 1178l-1-6-1 0M153 1172l0 7 0 0M571 1239l3-6 2-5M395 1229l0 6 0 4M256 1286l-2-6-3-5-3-5-2-5M125 1265l-1 6-1 6 0 6M352 1192l1 6 0 1M286 1219l3 6 1 3M146 1217l0 6 0 2M366 1196l-1-3M142 1222l-2 7 0 3M619 1224l-4-5-2-3M545 1216l-1 1M634 1273l-1-6-1-7 0 0M491 1261l-3 4M333 1249l-1-6-2-7 0 0M151 1236l1 7 1 6 0 0"/>
<path stroke="#00ff00" d="M392 1191l0-7M170 1185l2 6M153 1209l1 7 0 0M348 1228l-1-7 0-2M607 1170l-3-6 0-1M481 1164l-4 5-1 2M202 1191l-6-1-6 0-3 0M180 1191l-6 3M549 1236l2-5 3-5M346 1227l0 6 1 3M602 1172l1-6 0-1M383 1166l-1 7M537 1164l3-5 1-2M285 1158l2 6 1 1M444 1204l2-6M223 1198l3 6 1 1M374 1208l0-6 0-1M164 1201l1 7 1 1M265 1171l-5-5-2-2M167 1165l-4 5-1 2M584 1176l-6-2-6-2-6 0-6 0-2 0M548 1174l-5 2M370 1180l0-7M159 1174l1 7M294 1200l-2-5-1-1M149 1195l-1 6M601 1195l-5-4-4-3M543 1189l-5 3-5 3M225 1247l-5-4-4-5-4-3M138 1244l-3 4M611 1240l1-6 0-5M423 1230l-1 6-2 5M559 1203l3-6 0-1M337 1196l1 7 0 1M504 1177l3-6 0 0M264 1171l3 6 0 1M430 1195l1-6M202 1190l3 6 0 0M370 1268l-2-6-1-6-1-6 0-1M166 1250l2 6 2 6 1 6 1 1M602 1178l-4-4-1-2M514 1173l-4 4-3 2M247 1180l-5-5-3-2M171 1174l-5 4-2 2M561 1169l3-5 1-2M315 1163l1 6 1 1M402 1161l0-7 0-1M165 1154l2 6 1 2M264 1169l-5-5-2-3M169 1162l-4 5-2 2M608 1155l-1-7-1-2M447 1147l-2 6-2 3M356 1261l0 6 0 6 0 7 0 1M553 1251l3-5 2-6 1-2M248 1161l3 6 1 1M503 1158l3-6 1-2M622 1228l-3-6-2-3M521 1220l-4 5-3 4M308 1212l-2-6-1-1M147 1206l-1 6 0 0M596 1234l2-6 1-4M394 1225l0 6-1 3M577 1180l2-6 0-1M342 1174l1 6M476 1159l2-6 1-2M217 1152l3 5 1 2M208 1222l-5-5-4-3M133 1214l-5 4-3 4M619 1227l1-6 1-2M394 1219l-1 6 0 3M550 1277l4-5 1-2M356 1270l0 7 0 4M592 1140l4-4 5-4 4-4M247 1129l5 5 4 5 1 2M488 1166l4-5 1-2M191 1160l5 5 2 2M417 1201l1-7M163 1195l3 6 1 0M369 1205l0-7M137 1199l2 6 0 1M637 1220l-4-5-3-3M564 1213l-4 4-4 3M313 1173l-2-6 0-1M129 1167l-1 6 0 1M618 1165l-4-5-2-2M532 1158l-5 5-3 3M257 1190l-3-5-1-2M133 1184l-3 6M637 1217l0-6 0-1M441 1211l-2 6 0 1M641 1224l-5-5-3-4M561 1216l-4 4-4 4M321 1207l-1-6 0-1M464 1136l-3 6-2 5M634 1163l1-6 0-1M592 1209l3-5 1-1M347 1203l1 7 0 0M475 1192l2-6M214 1187l4 5 1 1M413 1220l1-6 1-2M173 1213l3 5 2 2M367 1148l0-6 0-4M126 1140l1 6 0 3M369 1203l0-6M137 1198l2 6M654 1248l-3-6-3-6 0-1M543 1236l-4 5-3 5-1 2M328 1235l-2-6 0-3M127 1226l0 6 1 5M602 1150l-6-3-6-2-7-2-6-1-7 0-6 1-6 1-6 2-6 3-4 2M239 1166l-5-5-3-3M152 1159l-4 4-3 3M637 1207l0-7M443 1201l-2 6 0 1M194 1210l-6-3-5-3-3-1M150 1203l-5 2-6 4-2 1M618 1164l3-6 1-2M337 1157l2 6 0 1M620 1203l-1-6 0 0M500 1197l-3 5-1 1M586 1241l2-5 2-5M410 1231l-1 7-1 4M222 1196l-3-3M581 1158l4-6 1-2M360 1150l1 7 0 2M594 1200l2-6 0-1M404 1194l0 6 0 0M541 1176l4-5 1-1M337 1170l1 6 0 1M457 1231l3-7 0-2M305 1222l2 6 1 3M396 1166l0-6 0-2M179 1159l3 6 0 1M578 1163l-6-1-6 0-6 1-6 2-5 2M330 1172l-1-6 0-1M152 1165l1 7 0 0M576 1228l3-5 2-4M396 1220l0 6-1 3M246 1265l-3-6-3-5-3-6-1-1M130 1247l-2 6-2 6-1 6M547 1189l2-3M352 1186l0 6M282 1211l3 6 1 2M147 1209l-1 6 0 2M144 1215l-2 6 0 1M613 1216l-5-5-4-2M555 1209l-5 3-5 4M632 1260l-1-6-1-6-1-4M499 1245l-3 5-3 6-2 5M330 1236l-2-7-1-3M151 1227l0 6 0 3"/>
<path stroke="#00ff40" d="M392 1184l0-7M168 1178l2 6 0 1M153 1202l0 7 0 0M347 1219l-2-7 0-1M604 1163l-3-5-1-3M486 1156l-4 5-1 3M554 1226l2-6 0 0M345 1218l1 6 0 3M603 1165l1-6 0-1M383 1159l0 6 0 1M541 1157l3-5 2-3M282 1150l2 6 1 2M446 1198l1-6 0-1M220 1191l3 6 0 1M374 1201l-1-7M163 1195l1 6M258 1164l-4-4-4-3M174 1157l-5 5-2 3M370 1173l-1-6M158 1168l1 6M291 1194l-3-6 0 0M151 1188l-2 7M592 1188l-5-3-6-2-5-1M560 1182l-6 2-5 2-6 3M212 1235l-5-4-5-3-2-1M159 1225l-6 4-2 1M612 1229l1-6 0-3M425 1221l-1 7-1 2M562 1196l3-6M337 1190l0 6M507 1171l3-6 0-1M261 1164l3 6 0 1M431 1189l1-6M199 1184l3 6M366 1249l-1-6-1-7M164 1237l1 6 1 7M597 1172l-4-4-3-3M522 1165l-5 4-3 4M239 1173l-5-3-6-3 0-1M181 1167l-6 3-4 4M373 1159l0 6M565 1162l3-5 1-3M313 1155l1 6 1 2M402 1153l0-7 0-1M163 1145l2 6 0 3M257 1161l-5-4-4-3M177 1154l-5 4-3 4M606 1146l-2-6-1-4M452 1137l-3 6-2 4M356 1245l0 7 0 6 0 3M559 1238l3-6 2-4M244 1153l3 6 1 2M507 1150l3-6 2-3M617 1219l-3-5-2-2M528 1212l-4 5-3 3M305 1205h0M148 1199l-1 6 0 1M599 1224l1-5 1-3M396 1216l-1 7-1 2M579 1173l3-5 0-1M341 1167l1 7M479 1151l2-6 2-4M211 1142l3 6 3 4M199 1214l-5-4-5-3-1-1M142 1207l-5 3-4 4M621 1219l2-6 0-3M394 1212l0 6 0 1M555 1270l3-5 4-6 3-5 2-4M354 1251l0 6 1 7 1 6M605 1128l5-4 5-4 5-3 5-4 1-1M231 1113l4 4 5 4 4 4 3 4M493 1159l3-5 2-3M184 1152l4 5 3 3M418 1194l1-6M159 1189l4 5 0 1M369 1198l0-6M136 1193l1 6M630 1212l-5-4-5-3M576 1205l-5 3-6 4-1 1M311 1166l-2-6-1-1M130 1160l-1 6 0 1M612 1158l-5-4-5-4-2-1M544 1150l-5 3-6 4-1 1M253 1183l-3-4-1-2M137 1178l-3 6-1 0M637 1210l0-7M442 1204l-1 6 0 1M633 1215l-4-4-4-3M571 1208l-5 4-5 4M320 1200l-2-6M470 1124l-3 6-3 6 0 0M635 1156l1-6 1-2M395 1170l0 6M596 1203l3-6 1-1M346 1197l1 6M477 1186l3-6 1 0M209 1180l4 5 1 2M415 1212l1-6 0-1M169 1205l3 6 1 2M367 1138l-1-6 0-5M125 1127l0 7 1 6M369 1197l0-6M136 1192l1 6M648 1235l-3-5-3-5M551 1226l-4 5-4 5M326 1226l-2-6 0-3M127 1218l0 6 0 2M231 1158l-5-3-6-4-2-1M163 1151l-5 3-5 4-1 1M637 1200l0-6M444 1195l-1 6M180 1203l-6-2-6 0-6 0-6 0-6 2M622 1156l3-5 2-3M335 1148l2 7 0 2M619 1197l-1-2M503 1191l-3 5 0 1M590 1231l2-6 1-3M411 1222l-1 6 0 3M219 1193l-5-4-2-1M586 1150l3-6 2-4M359 1141l1 6 0 3M596 1193l2-6M405 1188l-1 6M546 1170l3-5 2-2M335 1164l2 6 0 0M460 1222l3-6 1-3M302 1214l2 6 1 2M396 1158l1-6 0-1M174 1151l3 6 2 2M329 1165l-2-6 0-1M152 1159l0 6 0 0M581 1219l2-5 1-2M397 1212l-1 7 0 1M236 1247l-3-5-4-6-1-1M134 1235l-2 6-2 6 0 0M549 1186l4-5 1-2M351 1180l1 6M279 1204l3 6 0 1M147 1202l0 7 0 0M271 1213l-4-6 0 0M146 1207l-2 6 0 2M604 1209l-5-4-5-2-5-1M556 1208l-1 1M629 1244l-2-6-1-6M505 1233l-3 5-3 6 0 1M327 1226l-2-7 0-2M150 1218l0 6 1 3"/>
<path stroke="#00ff80" d="M392 1177l0-6M167 1172l1 6M153 1196l0 6M345 1211l-2-6 0-1M600 1155l-4-5-2-3M493 1147l-4 5-3 4M344 1210l1 7 0 1M604 1158l2-7 0-1M384 1150l-1 7 0 2M546 1149l3-5 3-4M277 1140l3 6 2 4M447 1191l2-6M217 1186l3 5M373 1194l-1-6M162 1189l1 6M250 1157l-5-4-5-3-3-1M186 1149l-6 3-5 4-1 1M369 1167l-1-7M157 1161l1 6 0 1M288 1188l-3-6-1-1M154 1182l-2 6-1 0M576 1182l-7-1-6 1-3 0M193 1224l-6-2-6-1-6 0-6 1-6 2-4 1M613 1220l0-6 0-2M427 1213l-1 7-1 1M565 1190l3-6 0-1M336 1184l1 6M510 1164l4-6 1-2M257 1157l3 5 1 2M432 1183l1-7M196 1177l3 6 0 1M364 1236l-1-6-1-4M162 1227l1 6 1 4M590 1165l-6-4-5-3-1 0M535 1158l-5 3-6 3-2 1M228 1166l-6-2-6-2-6-1-6 0-6 0-6 1-6 2-5 3M373 1152l0 7 0 0M603 1152l1-7 1-3M569 1154l3-5 2-3M310 1147l2 6 1 2M402 1145l0-6 1-6M160 1134l2 7 1 4M248 1154l-5-4-6-3-5-2M191 1145l-6 3-5 3-3 3M603 1136l-2-6-3-6 0 0M459 1124l-3 6-3 5-1 2M356 1233l0 6 0 6M564 1228l2-6 2-3M239 1145l3 5 2 3M512 1141l3-6 3-5 1-1M612 1212l-4-5-3-2M536 1205l-5 4-3 3M150 1192l-2 6 0 1M601 1216l1-6 0-2M396 1210l0 6 0 0M582 1167l3-6 0-2M340 1161l1 6M483 1141l2-5 3-5M204 1131l3 6 4 5M188 1206l-6-2-6-2-6-1-6-1-6 1-6 1-5 2-5 3M623 1210l2-6 0 0M394 1205l0 7M567 1250l4-5 3-6 1-2M352 1238l1 6 1 6 0 1M626 1112l6-4 5-3 6-4 6-3 5-3 6-3 5-2 6-3 6-2 7-2M180 1083l7 3 6 2 6 3 6 3 5 4 6 3 5 4 5 4 5 4M498 1151l3-5 3-4M174 1143l5 4 5 5M419 1188l1-6M156 1182l3 6 0 1M369 1192l-1-6M134 1187l2 6M620 1205l-5-2-6-2-6-1-6-1-6 1-6 2-6 2-3 1M308 1159l-2-6-1-2M132 1152l-1 6-1 2M600 1149l-6-3-6-2-6-1-7-1-7 0-6 1-5 1-6 2-6 3-1 1M249 1177l-4-4-2-3M141 1171l-3 6-1 1M637 1203l0-7M444 1197l-2 6 0 1M625 1208l-6-3-5-3-3-1M585 1201l-6 3-5 3-3 1M318 1194l-1-7M127 1188h0M617 1113l-3-5-4-5M484 1105l-5 5-4 5-3 6-2 3M637 1148l1-6 0-4M395 1163l0 7M600 1196l3-6 0-1M345 1191l1 6M481 1180l3-6M204 1174l4 5 1 1M416 1205l1-7M165 1199l3 5 1 1M366 1127l0-6-1-7 0-5M124 1111l0 6 0 7 1 3M369 1191l-1-7M134 1185l2 7M642 1225l-4-5-3-3M559 1218l-4 4-4 4M324 1217l-1-6-1-1M126 1210l1 7 0 1M218 1150l-5-2-6-2-6-2-6-1-7 0-6 1-7 1-6 3-6 3M637 1194l0-6M446 1188l-1 6-1 1M627 1148l3-6 2-4M332 1139l2 7 1 2M507 1184l-3 5-1 2M593 1222l3-6 0-2M412 1214l-1 7 0 1M591 1140l3-5 3-5 0-1M357 1129l1 6 1 6M598 1187l2-6M405 1181l0 7M551 1163l3-5 2-2M333 1156l2 6 0 2M464 1213l2-6 0-1M299 1207l2 6 1 1M397 1151l1-7 0-3M170 1142l2 5 2 4M327 1158l-1-6-1-2M152 1150l0 6 0 3M584 1212l3-6 0-1M397 1205l0 6 0 1M228 1235l-3-5-4-5M139 1225l-3 6-2 4M554 1179l3-5 1-1M349 1173l1 6 1 1M276 1198l3 5 0 1M148 1196l-1 6 0 0M267 1207l-3-6-1-1M149 1200l-2 6-1 1M589 1202l-6-1-5 0M626 1232l-3-6-1-3M511 1224l-3 5-3 4M325 1217l-2-6-1-1M150 1211l0 6 0 1"/>
<path stroke="#00ffbf" d="M392 1171l0-7M165 1165l1 6 1 1M340 1189l-1 0M152 1190l1 6M343 1204l-1-6M594 1147l-4-5-5-4-1-1M504 1137l-5 5-4 4-2 1M344 1204l0 6M606 1150l1-7 0-3M384 1141l0 6 0 3M552 1140l3-5 4-6 0-1M272 1129l3 5 2 6M449 1185l1-6M213 1179l3 6 1 1M372 1188l0-6M160 1183l2 6M237 1149l-5-3-6-2-7-1-6-1-6 0-6 1-6 2-5 2-4 2M368 1160l-1-7 0-1M156 1153l1 6 0 2M284 1181l-3-5-1-1M157 1175l-3 6 0 1M613 1212l0-6 0-1M429 1206l-2 7 0 0M568 1183l3-6 0 0M335 1177l1 7M515 1156l3-6 1-2M252 1148l3 6 2 3M433 1176l1-6M193 1171l2 5 1 1M362 1226l-1-6 0-2M160 1219l1 6 1 2M578 1158l-6-2-6-2-6-1-7 1-6 0-6 2-6 2M373 1142l0 6 0 4M605 1142l1-6 1-4M574 1146l3-6 2-5M307 1136l2 7 1 4M403 1133l0-6 0-6 0-1M157 1121l1 5 2 7 0 1M232 1145l-6-2-6-1-6-1-6 0-6 1-6 2-5 1M598 1124l-4-6-3-5-4-6-3-2M475 1105l-5 5-4 5-4 5-3 4M355 1224l1 6 0 3M568 1219l2-6M233 1134l3 6 3 5M519 1129l3-5 3-5 4-5 0-1M605 1205l-4-5-4-2M545 1198l-5 4-4 3M151 1186l-1 6 0 0M602 1208l1-6 0 0M397 1203l0 6-1 1M585 1159l3-5 1-2M339 1152l1 7 0 2M488 1131l2-6 3-6 2-3M193 1116l4 5 4 6 3 4M625 1204l2-7M394 1198l0 7M575 1237l3-5 3-5M351 1228l1 6 0 4M684 1083l6-2 7-2M69 1079l6-2 6-1 6-1 7-1 6 0 6-1 6 0 7 0 6 0 7 0 6 1 6 0 7 1 6 2 6 1 6 2 6 1 5 2M504 1142l5-5 4-6M162 1131l4 4 5 4 3 4M420 1182l2-7M152 1176l4 6 0 0M368 1186l0-7M133 1180l1 7M305 1151l-2-6-2-4M134 1142l-1 6-1 4M243 1170l-5-5-1-1M147 1164l-4 5-2 2M637 1196l0-6M445 1190l-1 7M611 1201l-6-1-6 0-6 0-6 1-2 0M317 1187l-2-6M127 1182l0 6M610 1103l-4-4-4-5-5-4-6-4-6-3-6-2-5-2-7-2-6-1-6-1-7 0-6 0-7 1-6 1-6 2-6 2-6 3-6 3-5 3-5 4-5 4-5 5-1 2M638 1138l1-6 1-6M396 1156l-1 7M603 1189l4-5 0-1M343 1184l2 7M484 1174l3-6 1-1M198 1167l4 5 2 2M417 1198l1-6M162 1192l3 6 0 1M365 1109l-1-6-1-6-1-6 0-7-2-6M124 1078l0 7-1 7 0 6 0 7 1 6M368 1184l0-7M133 1179l1 6M635 1217l-4-4-4-3M569 1210l-6 4-4 4M322 1210l-1-7 0 0M126 1204l0 6M637 1188l-1-7M448 1182l-2 6M632 1138l3-6 4-5 0-1M328 1127l2 6 2 6M512 1178l-4 5-1 1M596 1214l2-6 1-2M413 1207l-1 6 0 1M597 1129l3-6 3-5 3-6M355 1113l1 7 1 6 0 3M600 1181l2-6 0 0M406 1175l-1 6M556 1156l4-6 2-3M331 1148l2 6 0 2M466 1206l3-6 0 0M296 1200l3 6 0 1M398 1141l1-6 0-5M164 1130l3 6 2 5 1 1M325 1150l-2-6-1-4M152 1141l0 6 0 3M587 1205l3-6 0-1M397 1199l0 6 0 0M221 1225l-4-5-4-3M145 1217l-4 5-2 3M558 1173l4-5 1-2M348 1167l1 6 0 0M272 1191l3 6 1 1M150 1189l-1 6-1 1M263 1200l-4-5 0-1M152 1194l-3 6 0 0M622 1223l-2-6-2-2M517 1215l-4 6-2 3M322 1210l-1-6-1-1M150 1204l0 6 0 1"/>
<path stroke="#00ffff" d="M392 1164l0-7M163 1158l1 6 1 1M339 1189l-1-6M153 1183l-1 7M342 1198l-2-6 0-1M584 1137l-5-4-5-3-5-3-6-2-1 0M528 1125l-6 2-6 3-5 3-6 4-1 0M343 1197l1 6 0 1M607 1140l1-6 0-5M385 1130l0 6-1 5M559 1128l4-5 4-6 4-5 0 0M271 1128l1 1M450 1179l2-6 0-1M210 1173l3 5 0 1M372 1182l-1-6M159 1177l1 6M367 1152l-1-7 0-2M156 1144l0 6 0 3M280 1175l-3-5-1-2M160 1169l-3 6 0 0M613 1205l0-6 0-1M431 1199l-1 6-1 1M571 1177l3-6 0 0M334 1171l1 6M519 1148l3-6 3-4M247 1139l3 5 2 4M434 1170l1-6 1-1M189 1164l3 6 1 1M361 1218l-1-6 0-2M159 1211l1 6 0 2M373 1131l0 6 0 5M607 1132l1-6 1-6 0-3M579 1135l4-5 3-6 1-2M303 1123l2 6 2 7 0 0M403 1120l0-6 0-6 1-6 0-3M152 1100l1 6 2 6 1 6 1 3M584 1105l-5-5-4-4-5-3-6-3-6-3-6-2-6-1-7-1-7-1-6 1-7 0-7 2-6 1-7 3-6 3-5 3-6 4-5 4-2 2M568 1218l2-3M355 1215l0 7 0 2M223 1120l4 5 4 6 2 3M529 1113l4-5 4-5 4-4 4-5 5-5 1-2M597 1198l-6-3-5-3-3 0M561 1192l-6 2-6 2-4 2M153 1179l-2 6 0 1M603 1202l1-6M398 1196l-1 7M589 1152l2-6 1-4M338 1143l1 7 0 2M495 1116l4-6 3-5 3-6 4-5 3-4M173 1091l4 5 4 4 4 5 4 5 4 6 0 0M627 1197l1-6M395 1192l-1 6M581 1227l4-5 2-4M350 1219l0 6 1 3M513 1131l4-4 4-5 4-4 2-2M144 1117l5 4 5 3 4 4 4 3M422 1175l1-6M149 1169l3 5 0 2M368 1179l0-6M132 1173l1 7M301 1141l-2-6-3-5M138 1132l-2 5-2 5M237 1164l-5-5-4-3M155 1157l-5 4-3 3M637 1190l0-6M447 1184l-2 6M315 1181l-2-6 0-1M128 1175l-1 7M640 1126l0-7 1-6 0-5M396 1147l0 6 0 3M607 1183l3-6 1 0M342 1178l1 6M488 1167l4-6 0-2M192 1160l4 5 2 2M418 1192l1-6M158 1186l3 6 1 0M360 1078l-1-6-2-7-1-6-3-6-3-6-3-6-3-5-5-5-5-4-5-4-5-4-7-3-6-2-7-2M177 1012l-7 2-6 2-6 3-6 3-6 5-4 4-5 6-3 6-3 5-2 6-2 6-1 7-1 7-1 4M158 1186l0 1M368 1177l0-5M131 1172l2 7M627 1210l-6-4-5-3-1 0M581 1203l-6 3-5 3-1 1M321 1203l-2-7 0 0M127 1197l-1 7M636 1181l0-6M449 1176l-1 6M639 1126l3-6 3-5 4-5 0-1M322 1109l2 6 2 6 2 6M517 1172l-4 5-1 1M599 1206l1-6 1-1M414 1200l-1 7M606 1112l3-5 2-6 3-6 3-5 2-6M349 1085l2 6 1 7 1 6 1 7 1 2M602 1175l2-6 0-1M406 1168l0 7 0 0M562 1147l4-5 4-5M328 1138l2 6 1 4M469 1200l3-6 0-1M294 1194l2 6 0 0M399 1130l1-7 1-6 0-2M157 1115l3 6 2 6 2 3M322 1140l-2-6-2-5M154 1129l-1 6-1 6M590 1198l2-6 1-1M398 1192l-1 6 0 1M213 1217l-5-5-3-3M152 1209l-4 5-3 3M563 1166l3-5 1-2M347 1159l1 6 0 2M269 1185l3 5 0 1M151 1183l-1 6M259 1194l-4-5-1-2M155 1187l-3 6 0 1M618 1215l-3-6-1-1M523 1208l-4 5-2 2M320 1203l-1-6-1 0M150 1197l0 6 0 1"/>
<path stroke="#00bfff" d="M392 1157l0-7 0-1M161 1149l1 7 1 2M338 1183l-2-6M153 1177l0 6M340 1191l-2-6M562 1125l-6-2-6-1-7 0-6 1-6 1-3 1M568 1195l2-5M342 1191l1 6M608 1129l1-7 0-6 0-3M387 1114l-1 6 0 6-1 4M571 1112l4-6 4-4 4-5 4-5 5-4 4-5 1-1M241 1083l5 5 4 5 2 3M452 1172l2-6 0-1M206 1166l3 5 1 2M371 1176l-1-7M158 1170l1 6 0 1M366 1143l-1-7-1-4M155 1132l1 7 0 5M276 1168l-4-5-2-2M164 1161l-3 6-1 2M613 1198l0-6M433 1193l-2 6M574 1171l3-6 1-2M332 1164l2 7M525 1138l4-6 3-6 1 0M239 1126l4 6 3 6 1 1M436 1163l1-7 0-1M185 1156l3 6 1 2M360 1210l-1-6 0 0M158 1204l1 6 0 1M374 1116l0 6-1 7 0 2M609 1117l1-6 1-7 0-6 1-5M587 1122l3-5 4-6 3-6 2-2M295 1103l3 7 2 6 3 6 0 1M404 1099l0-6 0-6 0-7 0-6 0-6-1-6 0-7 0-6-1-6-1-6-1-1M148 1037l-1 6 0 7 0 6 0 7 1 6 1 7 0 6 1 6 1 6 1 6M570 1215l2-6 1-1M355 1208l0 6 0 1M205 1098l4 5 4 4 4 5 4 5 2 3M569 1072l5-4 5-4 6-3 6-3 5-3 6-3 6-2 6-2 7-3 7-2 6-1 6-1 6-1 7-2 6 0 7-1 7 0 6-1M122 1045l6 2 7 2 6 2 5 3 6 2 6 4 6 3 5 3 5 4 5 4M583 1192l-2-1M572 1190l-7 1-4 1M155 1173l-2 6M604 1196l1-7 0 0M399 1190l-1 6M592 1142l3-5 2-6M336 1132l1 7 1 4M512 1090l4-5 4-5 4-4 4-5 5-4 5-4 5-4 6-4 5-3 6-4 6-3 6-2 6-3 6-2 6-2 7-1 7-2 7-1 6-1 6-1 6-1 7 0 6 0 7-1 6 0 7 0 6 1 7 0 6 1 6 0 6 1 3 1M69 1032l7 2 6 1 7 2 6 2 6 2 6 2 6 3 6 3 6 3 6 3 5 4 6 3 4 4 5 4 5 4 5 5 5 4 4 5 3 3M628 1191l2-6M395 1185l0 7M587 1218l3-5 1-2M348 1212l1 6 1 1M527 1116l5-4 5-4 5-4 5-3 5-4 6-3 4-2M103 1092l5 3 6 3 6 3 5 3 6 4 5 4 6 3 2 2M423 1169l2-7 0-1M145 1162l3 6 1 1M368 1173l0-7M130 1167l2 6M296 1130l-3-5-3-6-2-3M145 1117l-3 5-2 6-2 4M228 1156l-5-3-6-3-3-2M168 1148l-6 3-5 3-2 3M637 1184l-1-7M449 1178l-2 6M313 1174l-2-6M129 1168l-1 6 0 1M641 1108l0-6 0-7 0-7 0-6-1-7 0-2M403 1075l-2 6 0 4M396 1137l0 6 0 4M611 1177l3-6 0-1M341 1171l1 7M492 1159l4-5 1-2M184 1152l5 5 3 3M419 1186l2-7M154 1179l4 6 0 1M154 1179l3 6 1 1M368 1172l0-7M130 1166l1 6M615 1203l-6-2-6-1-6-1-6 1-6 2-4 1M319 1196l-2-7M127 1190l0 7M636 1175l-1-6 0-1M451 1169l-2 7M649 1109l3-5 4-6 3-5 4-5 4-6 4-5 2-2M304 1075l3 6 4 5 3 6 2 5 3 6 2 5 1 1M607 1171l-4-5-1-2M523 1164l-4 5-2 3M601 1199l1-6M415 1194l-1 6 0 0M619 1084l3-6 3-5 2-6 3-6 3-6 2-6 3-5 3-6 3-5 3-6 3-5 3-5 4-6 4-4 5-4 6-4 6-3 6-3 6-2 3 0M292 991l6 2 6 3 6 3 5 4 5 5 4 5 4 5 3 6 2 6 3 5 2 6 2 6 1 6 2 7 2 6 2 7 1 6 1 6M604 1168l2-6 0-2M407 1161l-1 7 0 0M570 1137l3-4 4-5 2-3M324 1125l2 6 2 6 0 1M472 1193l3-6M291 1188l2 5 1 1M401 1115l1-7 1-6 1-7 1-6M147 1090l2 5 2 6 3 6 2 6 1 2M318 1129l-2-6-2-6-3-5M157 1113l-1 6-2 6 0 4M593 1191l2-6M398 1186l0 6M205 1209l-6-3-5-3-2-1M163 1202l-6 3-5 4 0 0M567 1159l4-6 2-2M345 1152l2 6 0 1M265 1178l3 6 1 1M153 1177l-2 6 0 0M254 1187l-4-4-2-2M159 1181l-3 6-1 0M614 1208l-3-6-1-1M529 1201l-4 5-2 2M318 1197l-2-6 0-1M150 1190l0 7"/>
<path stroke="#0080ff" d="M392 1149l0-6 0-4M159 1140l1 6 1 3M336 1177l-1-7-1 0M153 1170l0 7M338 1185l0-2M570 1190l3-6M342 1184l0 7M609 1113l1-7-1-6 0-6 0-6-1-4M392 1085l-1 6-2 6-1 6 0 7-1 4M597 1082l5-4 5-5 5-4 5-4 5-4 6-3 5-4 6-2 5-3 6-3 6-3 7-2 6-2 6-2 6-1 7-2 7-1 1 0M69 1032l7 0 7-1 6-1 6 0 6 0 6 0 7 0 6 0 6 0 7 1 6 1 7 1 7 1 7 1 7 2 6 2 6 2 6 2 6 3 6 2 6 3 5 4 6 3 5 4 5 4 5 4 5 4 4 5 3 4M454 1165l1-6 1-1M202 1158l3 6 1 2M370 1169l0-6 0-1M157 1162l1 7 0 1M364 1132l-1-6-1-6-1-3M156 1118l-1 6 0 6 0 2M270 1161l-4-5-3-3M170 1154l-4 5-2 2M613 1192l0-6M435 1187l-2 5 0 1M578 1163l2-5 1-2M331 1156l1 7 0 1M533 1126l4-6 3-5 4-4 2-3M227 1108l3 5 4 5 3 5 2 3M437 1155l1-6 1-2M182 1148l2 6 1 2M359 1204l-1-7-1 0M157 1197l1 7 0 0M376 1091l-1 6 0 6-1 6 0 6 0 1M612 1093l0-7 0-6 0-6-1-7-1-6-1-7-1-6-3-6-3-6-3-5-4-5-5-5-6-3-6-4-6-2-7-3-7-1-7-2M439 1007l-7 2-6 1-7 3-6 3-6 3-6 4-5 5-4 5-3 5-3 6-2 6M599 1103l3-5 3-5 4-5 3-6 4-5 4-5 5-5 4-5 4-5 2-1M267 1056l4 5 4 6 4 5 3 5 3 6 3 5 3 5 2 6 2 4M400 1036l-1-6-3-7-3-6-4-5-4-4-6-4-7-3-6-2-2-1M180 999l-6 2-6 3-5 4-5 5-4 6-3 5-2 6-1 7M573 1208l2-6 0-1M354 1202l1 6M174 1069l5 4 5 4 5 5 5 4 4 5 5 4 2 3M289 1171l-4-5M158 1167l-2 6-1 0M605 1189l1-7M400 1184l-1 6M597 1131l3-6 2-6 1-2M333 1118l2 6 1 6 0 2M630 1185l1-7M395 1179l0 6M591 1211l3-6 1-1M347 1204l1 7 0 1M562 1092l6-3 6-3 7-3 5-2 6-2 6-1 6-2 6-1 7-1 6-1 6 0 7-1 6 0 7 0 6 0 6 1 7 0 6 1 6 1 6 1 6 2 5 1M69 1079l6 2 7 2 6 3 6 2 6 3 3 1M425 1161l1-6 1-1M141 1155l3 5 1 2M368 1166l0-7M129 1160l1 6 0 1M288 1116l-4-5-5-6-4-4-5-5-6-4-1-1M158 1099l-4 5-4 4-3 6-2 3M214 1148l-6-2-6-2-6-1-7 0-6 1-7 1-6 2-2 1M636 1177l-1-6M451 1172l-2 6M311 1168l-2-6 0-1M130 1162l-1 6 0 0M640 1073l-1-7-1-7-2-6-2-5-3-6-3-6-4-6-5-4-6-4-5-4-7-3-6-2-6-3M454 1012l-6 2-6 2-6 4-6 3-5 5-5 5-3 4-4 6-3 7-2 6-2 6-2 6-1 7M397 1124l0 7-1 6M614 1170l3-5 1-2M339 1164l1 6 1 1M497 1152l4-6 3-3M175 1143l4 5 5 4M421 1179l1-6M151 1174l3 5 0 0M151 1173l2 5 1 1M368 1165l-1-7 0-1M129 1158l1 6 0 2M317 1189l-1-6M127 1184l0 6M635 1168l-1-6 0-1M454 1162l-2 7-1 0M673 1075l4-5 4-5 4-4 5-5 6-4 0-1M68 1050l5-4 6-3 6-4 6-3 6-2 6-3 6-2 7-2 8-2 6-1 6-1 6-1 7-1 7 0 7-1 7 0 8 0 7 0 7 1 7 0 7 1 7 1 6 1 7 1 6 1 7 2 7 3 6 2 6 3 6 2 6 4 6 4 5 4 4 4 6 5 4 5 4 5 4 5 1 1M602 1164l-5-4-3-3M532 1157l-5 4-4 3M602 1193l2-6 0 0M415 1188l0 6M606 1160l1-6 0-1M408 1153l-1 7 0 1M579 1125l4-5 4-5 4-5 3-4M317 1107l2 6 2 6 3 6 0 0M475 1187l3-6 0-1M288 1181l2 6 1 1M405 1089l1-7 1-6 1-7 1-6 1-7 1-6 1-7 1-7 1-6 1-7 1-6 1-7 1-6 1-6 0-7-3-6-5-4M126 982l-5 3-2 6 1 6 0 6 2 6 1 6 1 6 2 6 2 7 2 6 1 6 2 6 2 6 2 7 2 5 3 6 2 6 2 6 1 2M311 1112l-3-6-3-5-3-5-4-5-4-5-3-3M173 1084l-4 5-3 5-3 5-3 6-2 6-1 2M595 1185l2-6 0 0M399 1179l-1 7M192 1202l-5-2-7-1-6 1-6 1-5 1M573 1151l3-6 3-4M343 1142l2 6 0 4M261 1172l4 5 0 1M155 1170l-2 6 0 1M248 1181l-4-4-2-3M164 1175l-4 5-1 1M610 1201l-4-5-2-2M536 1195l-5 4-2 2M316 1190l-2-6 0-1M151 1184l-1 6"/>
<path stroke="#0040ff" d="M392 1139l0-6 0-6M157 1127l1 7 1 6M334 1170l-2-6 0-1M154 1163l-1 7 0 0M573 1184l3-5 0-2M341 1178l1 6M608 1084l0-6-2-6-1-6-3-7-2-6-4-5-3-5-5-6-5-4-6-4-6-3-6-3-6-2-7-2-7-1-6-2-7 0-6-1-7-1-7 0-7 0-7 0-8 0-7 0-6 1-7 1-6 1-8 2-7 2-6 2-6 2-7 3-5 4-5 3-5 5-4 4-4 5-4 6-3 5-2 6-2 6-2 6-2 6 0 1M456 1158l2-6 0-2M197 1150l3 5 2 3M370 1162l-1-7 0-1M157 1155l0 7 0 0M361 1117l-1-6-2-5M355 1096l0-1M159 1095l-1 6-1 6-1 6 0 5M263 1153l-5-4-5-4 0 0M179 1145l-5 4-4 5M613 1186l-1-7M437 1180l-2 6 0 1M581 1156l3-6 1-2M329 1148l2 7 0 1M546 1108l4-5 4-4 4-5 4-4 5-5 5-4 5-5 4-3M193 1074l4 4 5 4 5 5 5 4 4 5 4 5 4 4 3 3M439 1147l1-6 1-3M177 1138l2 6 3 4M357 1197l-1-7M156 1191l1 6M386 1043l-2 6-2 6-2 6-1 7-1 6-1 6-1 6 0 5M635 1056l5-5 5-4 5-4 5-4 6-3 6-4 6-2 6-3 6-3 6-2 5-1M69 1020l7-2 7-1 8-1 7-1 6-1 7-1 7 0 7-1 7 0 7 0 7 0 7 1 8 0 6 1 7 0 7 1 6 1 6 1 7 2 7 1 7 2 6 2 7 3 6 3 6 3 5 3 5 4 6 4 4 4 5 5 3 3M575 1201l3-6 0-1M354 1195l0 7M285 1166l-3-6-2-2M162 1159l-3 6-1 2M606 1182l1-5M401 1177l-1 7M603 1117l2-6 3-6 2-6 2-5 0-1M328 1094l2 6 1 6 1 6 1 6M631 1178l2-6M395 1172l0 7M595 1204l3-6 1-1M346 1198l1 6M427 1154l1-7 1-2M136 1146l3 5 2 4M368 1159l-1-6 0-2M128 1151l1 6 0 3M263 1091l-6-4-6-3-5-2-6-2-6-2-7-1-6-1-7 0-6 0M635 1171l0-6-1-1M453 1165l-2 6 0 1M309 1161l-2-6-1-2M132 1154l-2 6 0 2M398 1106l0 6-1 6 0 6M618 1163l3-5 1-2M337 1156l2 7 0 1M504 1143l4-6 4-5 1-1M163 1132l4 4 5 4 3 3M422 1173l2-7 0-1M147 1166l3 6 1 2M147 1166l3 5 1 2M367 1157l0-6 0-2M128 1150l1 6 0 2M316 1183l-2-6M128 1178l-1 6M634 1161l-1-6 0-1M456 1154l-2 7 0 1M594 1157l-5-4-5-3-4-1M548 1149l-6 2-5 3-5 3M604 1187l1-6 0-1M416 1181l-1 6 0 1M607 1153l2-7 0-2M409 1144l-1 7 0 2M594 1106l4-5 4-5 4-5 4-4 4-5 4-5 5-4 4-5M296 1069l4 5 3 6 4 6 3 5 2 6 3 6 2 4M478 1180l2-5 1-1M285 1175l2 5 1 1M291 1083l-5-4-5-4-5-3-6-3-6-3-6-2-6-1-2-1M218 1061l-6 1-6 2-6 2-6 2-6 3-5 4-4 4-5 4-1 1M597 1179l2-6 0 0M399 1173l0 6M579 1141l4-5 3-5 1-1M341 1131l1 6 1 5M257 1165l3 6 1 1M158 1163l-3 6 0 1M242 1174l-5-4-3-2M171 1168l-4 5-3 2M604 1194l-5-4-3-2M544 1188l-5 4-3 3M314 1183l-2-5M152 1178l-1 6"/>
<path stroke="#0000ff" d="M392 1127l-1-6 0-6 0-5M154 1111l1 6 1 6 1 4M332 1163l-2-6 0-2M155 1156l-1 6 0 1M576 1177l3-5 0-1M340 1172l1 6M458 1150l2-7 1-3M192 1141l3 5 2 4M369 1154l-1-6-1-2M156 1146l1 7 0 2M355 1095l-2-6-3-6-2-6-4-5-3-6-4-5-5-5-4-4-5-4-6-4-5-3-6-2-6-3-7-2-8-2-6-1-6-1-7 0-6-1-7 0-7 1-6 0-7 1-6 1-6 1-7 2-7 2-6 2-6 3-6 4-5 3-5 5-4 5-4 5-3 5-3 6-2 6-2 6-2 6 0 2M253 1145l-5-4-6-3-5-2-4-2M198 1134l-6 3-6 3-5 4-2 1M612 1179l-1-6M439 1173l-2 6 0 1M585 1148l3-6 2-5M327 1138l2 7 0 3M581 1073l5-4 5-3 6-3 5-4 7-3 5-3 6-2 6-2 6-2 7-2 7-2 6-2 6-1 7-1 6-1 7 0 7-1 7 0 4-1M68 1036l7 0 7 1 7 0 7 1 7 0 4 1M133 1044l6 2 7 2 6 3 6 2 5 3 7 3 6 3 5 3 5 4 5 4 2 1M441 1138l2-7 1-7M171 1126l2 5 3 6 1 1M356 1190l-1-6M156 1185l0 6M578 1194l3-6M353 1189l1 6M280 1158l-3-5-3-2M167 1151l-3 5-2 3M607 1177l0-7 1-1M402 1171l-1 6M612 1093l3-6 2-6 3-5 2-6 3-6 2-6 3-7 3-6 3-5 4-5 3-6 4-5 4-5 5-5 5-4 5-3 6-3 7-3 6-2 2-1M266 999l6 2 7 3 6 3 5 4 5 4 4 5 4 5 3 5 4 6 2 6 3 6 2 6 2 6 2 6 2 6 2 6 1 6 2 6 0 4M633 1172l1-7M395 1165l0 7M599 1197l3-6 1 0M345 1192l1 6M429 1145l2-6 1-4M130 1135l3 6 3 5M367 1151l0-6 0-3M127 1143l0 6 1 2M634 1164l-1-6 0-2M455 1157l-2 6 0 2M306 1153l-2-6-1-3M134 1145l-2 6 0 3M402 1077l-1 6-1 6-1 6 0 7-1 4M622 1156l3-6 2-2M335 1148l1 7 1 1M513 1131l4-4 4-4 4-5 2-1M145 1118l5 3 5 4 4 4 4 3M424 1165l1-6M143 1159l3 6 1 1M143 1158l3 6 1 2M367 1149l0-6 0-4M126 1140l1 7 1 3M314 1177l-2-6M129 1172l-1 6M633 1154l-2-6-1-4M460 1146l-3 6-1 2M580 1149l-6-2-6-1-6 0-6 0-6 2-2 1M605 1180l2-6M417 1175l-1 6M609 1144l1-6 1-5M410 1134l-1 7 0 3M627 1068l5-4 4-5 5-4 5-4 4-4 6-4 5-3 5-3 6-4 6-3 5-2 6-3 7-2M68 1022l6-2 7-1 7-2 6-1 6-1 7-1 7-1 7-1 8 0 7-1 8 0 8 0 8 0 8 0 8 1 8 0 7 1 7 1 7 1 6 1 6 2 8 1 6 2 7 2 5 3 7 2 5 3 6 3 5 4 6 4 4 4 5 4 5 5 4 5 4 5 2 4M481 1174l3-5 0-1M281 1168l3 5 1 2M599 1173l2-6 1-1M399 1166l0 6 0 1M587 1130l3-5 4-5 3-5M336 1115l2 6 2 6 1 4M252 1158l4 5 1 2M162 1155l-3 6-1 2M234 1168l-6-3-5-3-2-1M183 1161l-5 3-5 3-2 1M596 1188l-5-3-6-3-1 0M558 1182l-6 2-5 3-3 1M312 1178l-2-6-1-2M153 1172l-1 6"/>
<path stroke="#4000ff" d="M391 1110l0-6-1-6 0-6-1-6 0-7 0 0M152 1080l0 6 0 6 1 7 0 6 1 6M330 1155l-2-6-1-3M156 1147l-1 7 0 2M579 1171l3-6 0-1M339 1165l1 6 0 1M461 1140l2-6 2-5M185 1129l3 6 4 5 0 1M367 1146l-1-7 0-3M156 1136l0 6 0 4M233 1134l-6-1-7-1-6 0-7 0-6 1-3 1M611 1173l-1-7M441 1167l-2 6 0 0M590 1137l3-5 2-6 1-1M325 1126l1 6 1 6M444 1124l2-6 2-7 1-4M161 1107l3 6 3 6 3 6 1 1M355 1184l-1-6M155 1178l1 7M581 1188l2-5 0-1M353 1182l0 7M274 1151l-4-5-4-4 0-1M175 1141l-5 5-3 5M608 1169l0-6M403 1163l-1 7 0 1M634 1165l1-6 0-2M396 1158l-1 7M603 1191l3-6 0-1M344 1185l1 7M432 1135l2-7 2-6 1-1M123 1122l3 6 3 6 1 1M367 1142l-1-6 0-5M125 1131l1 6 1 6M633 1156l-1-6-1-2M458 1149l-2 6-1 2M303 1144l-3-6-2-5M137 1134l-2 6-1 5M627 1148l3-6 2-4M332 1139l2 6 1 3M527 1117l4-4 5-4 5-4 5-4 5-3 6-4 1-1M107 1094l5 3 5 3 6 3 6 3 5 4 6 4 5 4M425 1159l2-7 1-2M139 1151l3 6 1 2M138 1150l3 6 2 2M367 1139l-1-6 0-6M125 1129l1 6 0 5M312 1171l-2-6 0-1M130 1165l-1 6 0 1M630 1144l-1-6-2-4M464 1135l-3 6-1 5M607 1174l1-6 0 0M418 1168l-1 6 0 1M611 1133l0-6 1-7 0-1M412 1120l-1 6-1 7 0 1M484 1168l3-6 1-2M277 1161l3 5 1 2M602 1166l1-6 1-2M400 1159l-1 6 0 1M597 1115l3-5 4-6 3-5 4-6 3-5M328 1089l2 7 3 6 1 6 2 6 0 1M246 1150l4 5 2 3M167 1147l-4 5-1 3M221 1161l-6-2-1 0M187 1159l-4 2M584 1182l-6-2-7 0-6 0-6 2-1 0M309 1170l-2-5 0-1M154 1165l-1 6 0 1"/>
<path stroke="#8000ff" d="M389 1079l-1-7-1-6-2-6-1-6-2-6-3-6-3-6-3-5-5-5-5-5-5-4-6-3-6-3-7-2-7-2-4-1M206 1006l-6 2-6 2-7 2-5 3-6 4-5 3-5 5-4 5-3 6-2 6-2 6-1 6-1 7-1 6 0 7 0 4M327 1146l-3-6-1-3M158 1137l-1 7-1 3M582 1164l3-6 0-1M338 1157l1 7 0 1M465 1129l3-7 2-6 2-4M175 1113l3 5 4 6 3 5M366 1136l-1-6-1-6 0-2M155 1123l0 6 0 6 1 1M610 1166l-1-6 0-1M444 1160l-2 5-1 2M596 1125l2-6 3-6 3-5M320 1108l2 6 1 6 2 6M449 1107l2-6 2-5 2-6 2-6 2-6 3-5 1-4M141 1070l3 6 4 5 3 6 3 5 3 6 2 5 2 4M354 1178l-1-7M155 1172l0 6M583 1182l2-6 1-1M352 1176l1 6M266 1141l-5-4-5-3-6-4-1 0M189 1130l-6 4-4 3-4 4M608 1163l0-7 0-1M404 1156l-1 6 0 1M635 1157l1-6 0-2M396 1150l0 6 0 2M606 1184l4-6 0 0M342 1179l2 6M437 1121l2-6 2-5 2-6 1-3M111 1102l3 5 3 5 3 5 3 5M366 1131l0-6-1-7 0-3M124 1116l0 7 1 6 0 2M631 1148l-1-6-2-4M462 1139l-2 6-2 4M298 1133l-3-6-4-5-1-3M143 1120l-2 6-3 5-1 3M632 1138l4-6 3-6 0-1M328 1125l2 7 2 7M558 1093l6-3 6-3 7-2 6-3 6-2 6-1 6-2 6-1 6-1 6-1 7-1 6-1 7 0 6 0 6 0 7 1 6 0 6 1 7 1 6 1 6 1 6 1 1 1M68 1079l7 2 6 2 6 2 6 3 6 2 6 3 2 1M428 1150l1-6 1-3M134 1142l3 6 2 3M133 1141l3 6 2 3M366 1127l0-6-1-6 0-4M124 1112l0 7 1 6 0 4M310 1164l-2-6-1-2M131 1157l-1 6 0 2M627 1134l-2-5-2-6-1-2M472 1121l-4 6-3 6-1 2M608 1168l1-7 0-1M419 1161l-1 6 0 1M612 1119l0-7 0-6 0-6 0-3M417 1098l-2 6-1 7-1 6-1 3M488 1160l3-5 2-3M273 1153l3 5 1 3M604 1158l1-6 1-2M400 1151l0 7 0 1M614 1088l4-5 3-5 4-5 3-5 4-5 4-5 4-5 4-5 4-5 5-4 4-4 5-5 5-3 6-4 5-3 6-3 5-3 7-2 1-1M70 1010l6-2 6-1 8-2 6-1 6-1 7-1 2 0M221 1002l7 1 7 1 6 2 7 1 7 2 5 2 7 3 6 3 6 3 5 4 6 4 5 4 4 5 4 5 4 5 4 5 3 6 3 5 2 5 3 6 3 7 2 6 1 2M239 1140l4 5 3 5M175 1137l-4 4-4 5 0 1M307 1164l-3-6-1-2M156 1157l-2 6 0 2"/>
<path stroke="#bf00ff" d="M323 1137l-3-6-3-6-1-1M163 1124l-2 6-2 7-1 0M585 1157l3-6 1-3M337 1149l1 7 0 1M472 1112l3-6 2-6 4-6 2-5 3-5M155 1085l4 5 4 5 3 5 4 5 3 5 2 3M364 1122l-2-6-1-6-1-6-1-1M157 1104l-1 6 0 6-1 6 0 1M609 1159l-1-7-1-1M447 1152l-2 5-1 3M604 1108l2-6 3-5 3-6 3-5 3-6 3-6 1-2M309 1072l2 6 2 6 2 6 2 6 1 6 2 5 0 1M463 1069l3-5 3-6 4-6 4-5 4-6 4-4 5-5 5-4 5-4 6-4 6-3 6-3 7-2 7-2 7-2 7-2M682 1006l7 2 6 1 2 1M71 1011l7 2 6 3 5 2 6 3 6 4 5 4 5 4 5 4 5 5 4 5 4 5 3 5 4 6 4 5 1 2M353 1171l-1-6-1-1M155 1165l0 7M586 1175l2-6 0 0M352 1169l0 7M249 1130l-5-3-6-2-7-2-6-1-6 0-7 0-6 1-6 2-5 2-6 3 0 0M608 1155l1-7 0-1M406 1148l-2 6 0 2M636 1149l1-6 1-3M396 1140l0 6 0 4M610 1178l3-6 0 0M341 1172l1 7M444 1101l3-5 3-6 3-5 3-6 3-5 4-6 4-5 5-5 5-5 5-4 1-1M695 1048l2 2M69 1051l5 5 5 4 4 5 4 4 4 5 4 5 4 6 4 5 4 6 3 5 1 1M365 1115l0-6-1-6-1-7-1-6M123 1091l0 7 0 6 1 7 0 5M628 1138l-2-6-2-6 0 0M468 1127l-3 6-2 5-1 1M290 1119l-4-5-4-5-4-5-5-5-1-1M159 1099l-5 4-3 5-4 5-3 6-1 1M639 1125l4-5 3-6 3-5 1-2M321 1108l2 5 2 6 3 6M430 1141l2-7 2-4M127 1130l4 6 3 6M126 1129l4 5 3 6 0 1M365 1111l-1-7-1-6 0-6-1-6-1-5M124 1082l-1 7 0 6 0 7 1 7 0 3M307 1156l-2-6-1-2M133 1149l-2 6 0 2M622 1121l-3-6-4-5-3-5-4-5M487 1101l-4 5-5 5-3 5-3 5M609 1160l1-6 0-2M420 1153l-1 6 0 2M612 1097l0-6-1-6-2-6-2-6-2-6-3-6-3-5-4-5-4-5-5-4-6-3-6-3-5-3-6-2-7-2-7-1-6-1-7-1-7-1-7 0-8 0-7 1-7 0-7 1-7 1-6 2-6 2-7 2-6 3M445 1047l-4 4-5 5-4 5-3 5-3 5-3 6-2 7-2 6-2 6 0 2M493 1152l3-5 2-3M267 1144l4 5 2 4M606 1150l1-6 1-3M401 1142l-1 6 0 3M230 1128l4 5 4 5 1 2M194 1124l-6 3-5 3-5 4-3 3M303 1156l-3-5-1-3M158 1149l-2 6 0 2"/>
<path stroke="#ff00ff" d="M316 1124l-3-6-3-6-4-5-4-5-5-5-4-4-6-4-5-4-6-3-5-3-6-2-6-2-7-1-6-1-7-1-6 0-7 1-6 1-6 2-6 1-6 3-6 3-5 3-5 4-5 5-4 4-4 5-3 6-3 5-3 6-1 3M589 1148l2-5 3-6 2-6 3-6 2-6 3-7 2-5 3-6 2-5 2-6 3-6 3-6 2-5 3-6 3-6 3-6 3-6 3-6 3-5 4-5 4-6 4-4 5-5 5-4 6-4 5-3 6-3 8-3 7-2M258 1000l6 3 7 2 6 4 6 3 5 4 5 5 5 5 3 5 4 6 3 6 3 6 2 6 3 6 2 6 2 6 1 6 2 6 2 6 1 6 2 6 1 5 1 6 1 6 2 6 1 7 1 7 1 6 1 3M486 1084l3-5 4-5 3-5 4-5 5-5 5-5 4-4 5-4M531 1038l5-3 6-3 7-2 6-3 6-2 7-2 6-1 8-2 7-1 8-1 6-1 6 0 6 0 7-1 6 0 7 0 6 0 7 1 6 0 6 1 6 0 8 1 7 1 7 2 7 1 1 1M69 1024l6 2 7 2 7 3 5 2 6 3 6 3 5 4 6 3 5 4 5 5 5 4 4 4 5 4 4 5 4 5 4 5 2 3M359 1103l-2-6-2-6-2-6-2-6-3-5-3-6-4-5-4-5-4-5-5-4-5-4-6-3-6-3-6-3-7-2-7-2-6-1-7-1-6-1-7-1-7 0-7 0-7 0-7 1-6 0-6 2-6 1-7 2-7 2-6 2-6 4-6 3-4 4-5 5-4 4-4 5-3 6-3 6-2 6-2 6-1 7-2 6 0 4M607 1151l-2-6-2-6-2-6-3-6-3-6-3-5-4-5-5-5-4-5-6-4-5-3-5-3-6-2-6-2-7-1-6-1-7 0-7 0-6 1-7 1-6 2-6 3-6 3-5 3-5 4-5 4-5 4-4 5-4 5-3 5-4 5-3 6-3 5-3 6-2 5M622 1072l3-5 3-6 4-6 3-5 4-5 4-5 4-5 5-5 5-4 5-4 5-4 7-3 5-3 6-2 8-3 4-1M71 1005l5-1M234 1005l7 1 6 2 7 3 6 3 5 2 6 4 5 4 5 5 5 4 4 5 4 6 3 5 4 6 2 6 3 6 3 5M351 1164l-1-6-1-7-2-6-2-7-1-6-2-6-3-7-2-6-3-6-3-6-3-6-3-5-4-5-3-5-5-4-5-5-5-4-6-3-5-3-6-3-6-2-6-2-7-2-7-1-6 0-6-1-6 0-6 1-8 0-6 2-7 1-6 2-6 3-6 3-6 3-5 4-4 4-5 5-4 5-3 6-3 5-2 6-3 6-1 6-2 6-1 6-1 5-1 6-1 7 0 7 0 6 0 7 0 3M588 1169l2-6 3-6 2-6 2-6 2-6 2-6 2-7 2-6 2-7 2-5 2-6 1-6 2-6 2-6 2-6 1-6 2-7 2-6 1-6 2-7 1-6 2-7 1-6 2-7 1-7 2-6 1-5 1-6 2-6 2-6 3-5M323 980l3 5 2 6 1 6 1 6 1 7 1 6 1 6 1 6 1 6 1 7 1 6 1 6 1 6 1 6 1 7 1 6 1 6 1 6 0 6 1 6 1 7 1 6 0 6 1 6 1 6 0 6 1 7 0 6 1 7 1 7 0 3M609 1147l0-7-1-6 0-6 0-6-1-6-1-6-1-6-2-7-2-5-2-6-3-6-3-6-4-5-4-5-5-4-5-5-5-3-5-3-7-3-6-2-6-2-7-1-7-1-7-1-7-1-7 0-7 1-7 0-7 1-7 2-6 1-6 2-6 3-6 3-6 3-5 4-4 4-5 4-5 5-3 5-4 6-3 5-3 6-2 5-2 6-2 6-2 5-2 6-1 7-2 6-1 7-1 7M638 1140l1-6 0-7 1-6 0-7 1-6 0-7 0-6 0-7 0-7-1-6-1-7-1-7-2-6-1-6-3-6-3-5-4-6-4-4-6-5-5-3-6-4-7-3-7-2-2-1M454 1012l-7 2-5 2-7 4-5 3-5 5-5 5-4 5-3 6-3 6-3 6-2 6-1 7-1 6-2 6-1 6 0 7-1 6-1 6 0 6-1 7 0 6 0 6-1 6 0 3M613 1172l3-6 3-5 3-5 3-6 3-5 4-6 3-6 3-6 3-5 4-6 3-6 3-5 4-5 3-5 4-6 4-5 4-5 4-6 4-4 4-5 5-4 5-5 4-3M68 1050l5-3 5-4 6-3 7-4 5-2 6-2 7-3 7-2 7-1 6-2 6-1 7-1 7 0 7-1 7 0 7-1 7 0 7 0 8 1 7 0 7 1 6 1 7 1 6 1 6 1 7 2 7 2 7 3 6 2 5 3 7 4 5 4 5 3 5 4 5 5 5 6 4 5 4 5 4 5 3 6 3 5 3 6 2 5 3 6 2 6 2 5 3 7 2 6 2 7 2 6 2 7 1 7 2 6 1 7 1 1M483 1048l5-4 6-4 6-3 6-3 6-3 7-2M602 1019l7 1 7 1 7 0 6 1 7 1 6 2 7 2 7 2 7 2 6 2 5 3 7 3 6 4 5 3 3 2M362 1090l0-6-2-6-1-7-2-6-2-6-2-6-3-6-3-6-4-5-4-5-5-5-5-3-6-4-7-3-6-2-6-2M176 1012l-7 2-5 2-7 3-5 4-6 4-5 5-4 5-3 6-3 6-2 5-2 6-1 7-1 7-1 7 0 6-1 4M624 1126l-3-6-3-5-3-6-4-5-4-4-4-5-5-4-6-4-6-3-6-3-6-2-6-2-6-1-7-1-6 0-7 0-6 1-7 1-6 2-6 2-6 2-5 3-5 3-6 4-5 5-5 5-4 5-4 5-4 6-3 5-2 3M272 1098l-5-4-6-4-5-3-5-3-6-2-6-2-6-2-7-1-6-1-7 0-6 1-6 0-6 2-6 1-6 2-6 3-6 4-6 4-4 4-2 2M650 1107l4-5 3-6 4-5 3-5 4-6 5-5 3-5 5-4 4-5 5-4 5-5 2-1M69 1050l5-4 5-3 6-4 7-3 5-2 7-3 6-2 7-2 8-2 6-1 6-1 6-1 7-1 7 0 7-1 8 0 7 0 7 0 7 1 7 0 7 1 7 1 6 1 6 1 6 2 8 2 7 2 6 2 6 3 5 3 6 3 6 4 5 4 5 4 5 5 4 5 5 5 3 6 4 5 3 6 3 5 3 6 3 5 2 6M434 1130l2-7 2-7 2-5 3-6 2-5 3-6 2-6 3-5 4-6 3-5 4-5 5-5 4-6 5-4 4-4 6-4 5-4 7-3 5-3 7-3 6-2 7-2 8-2 6-1 6-2 7-1 7-1 7 0 8-1 7 0 8 0 7 0 7 0 8 1 7 1 6 1 7 1 6 1 6 1 8 2 6 2 7 2 6 3 5 2 7 4 5 3 6 4 4 3M68 1051l6 4 4 5 5 5 4 4 4 5 4 5 4 6 4 5 4 5 3 6 3 5 3 5 3 6 4 5 3 6 1 2M101 1087l3 5 4 5 3 6 3 5 4 5 3 5 3 6 2 5M361 1081l-1-6-2-6-1-6-3-7-2-6-3-6-4-6-4-5-4-4-6-5-6-3-6-4-6-2-6-2-5-2M177 1012l-6 2-6 2-7 3-5 3-6 5-5 4-4 5-3 5-3 6-3 6-1 6-2 7-1 6-1 7 0 3M304 1148l-2-6-3-6-3-6-3-6-4-5-3-6-4-5-5-5-5-5-5-4-5-4-6-3-5-3-6-2-6-2-6-2-6-1-7-1-6 0-7 1-6 0-6 2-6 1-6 2-6 3-6 4-5 4-5 4-5 4-4 5-3 5-4 5-2 6-3 5-2 6-2 6-2 5-1 5M608 1100l-5-4-5-5-5-4-6-3-6-3-6-2-6-2-6-1-7-1-6 0-7 0-7 1-6 1-6 2-6 2-6 2-5 3-6 3-5 4-5 4-4 4M610 1152l1-6 0-7 1-6 0-7-1-6 0-7-1-6-1-6-1-6-2-6-2-5-3-6-3-6-4-5-4-4-5-5-5-3-5-4-5-2-6-3-7-2-6-1-6-1-6-1-7-1-7 0-7 0-6 1-7 1-6 1-6 1-6 2-7 2-6 3-5 3-6 4-5 4-4 5-4 4-4 5-4 6-3 6-3 5-2 6-2 7-2 6-2 6-2 6-1 6-2 7-1 6-1 6-1 4M498 1144l4-5 3-5 4-5 4-5 4-5 4-5 4-4 4-5 5-5 4-4 5-4 5-5 5-4 5-3 5-4 6-3 5-4 6-3 6-3 5-2 6-3 6-2 6-3 6-2 6-2 6-1 6-2 7-1 6-1 7-1 7-1 7-1 6-1 6 0 6-1 6 0 5 0M68 1039l6 0 7 0 6 1 6 0 6 1 7 0 7 1 6 1 7 2 6 1 6 2 6 1 6 2 7 2 6 2 6 3 6 2 5 3 6 3 5 3 6 3 5 4 5 3 5 4 5 3 5 5 5 4 5 4 4 5 4 5 5 4 4 5 3 5 4 5 4 5 3 5 4 5 0 1M608 1141l0-1M610 1129l1-6 1-7 1-6 0-6 1-6 0-7-1-6 0-6-1-6-1-6-2-6-3-7-3-5-4-5-4-5-5-4-5-4-5-3-6-3-6-2-6-2-7-1-6-1-7-1-6-1-7-1-7 0-8 0-7 0-7 0-7 1-7 1-6 1-6 1-8 2-6 2-6 2-6 3-6 3-6 4-4 4-5 5-4 5-3 5-3 6-2 5-3 7-2 6-1 6-2 7-1 6-1 7-1 6-1 7-1 7 0 6-1 7 0 4M77 1039l6 1 6 1 7 2 6 1 6 2 6 2 7 2 6 2 6 3 5 2 6 3 6 3 6 3 5 3 5 3 5 4 6 3 5 4 5 4 5 4 5 4 5 4 4 4 4 5 5 4 4 5 5 4 4 5 2 2M233 1122l-6-2-6 0-7-1-6 1-6 1-6 2-2 1M299 1148l-3-5-3-6-4-5-3-5-4-4-4-5-5-4-5-4-5-3-5-4-6-2-6-2-6-2-6-1-6-1-6 0-6 1-6 1-3 1M185 1109l-5 4-4 4-4 5-4 5-3 6-3 5-2 6-2 5"/>
<path stroke="#000" d="M645 1278l-3-5-3-5-4-5-4-4-5-4-5-4-6-2-6-2-6-1-6 0-6 1-6 2-6 3-5 3-5 3-5 4-4 4-5 5-4 5-1 1M173 1290l-1-1M161 1282l-6-3-6-1-6-1-6 0-6 1-6 2-5 3-1 0M648 1288l-4-2M638 1284l-6-1-6 0-6 1-5 2M155 1022l-3 6-2 5-1 7-1 7 0 6 0 7 0 6 1 6 0 7 1 6 1 6 1 7 1 6 1 6 1 6 2 6 1 5 2 7 1 6 2 7 2 6 1 6 2 6 2 6 2 6 2 6 2 6 2 6 2 5 2 6 2 7 3 6 2 6 2 5 3 6 2 6 3 6 2 5 2 6 3 5 2 6 2 3M649 1288l-5-3-6-2-6-1-6 0-6 1-6 2-2 1M400 1266l0-7 0-6-1-7 0-6 0-7 0-6 0-6 0-6 0-6 0-7 0-6 0-7 1-6 0-7 0-7 0-6 0-7 1-7 0-6 0-6 0-6 0-6 0-6 1-6 0-7 0-6 0-6 0-6 0-6 0-7-1-6 0-6 0-7-1-6-1-6-2-6-1-6-3-6-3-7-4-5-5-4-6-4-6-3-5-2-5-2M184 1000l-6 2-6 3-6 4-5 4-4 5-3 5-2 5M125 1280l-5-2-6-3-6-1-6-1-7 1-6 2-5 3-2 1M683 1280l-6-3-5-2-6-2-7 0-6 1-6 1-5 3-6 3-3 3M182 1272l-4-5-4-4-5-4-5-4-5-4-6-2-6-3-6-1-6 0-6 0-6 2-6 2-5 4-5 3-4 4-4 5-4 5-2 2M354 1248l0 6 1 7 0 7 1 6 0 7M683 1280l-5-3-6-2-6-2-6 0-6 1-6 1-6 3-4 2M689 1285l-5-4-5-3-6-3-6-1M662 1273l-7 1-6 1-6 2-5 3M675 1279l-3-5-4-5-4-5-4-5-5-4-5-4-5-3-6-2-6-1M627 1244l-6 1-6 1-6 3-5 2-6 4-5 4-4 4-4 5-5 4-4 5-2 4M655 1283l-4-5-3-5-4-4-5-4-6-3-6-2-6-1-6 1-6 2-6 2-5 4-5 4-5 4-4 5-1 2M204 1287l-3-5-4-5-3-5-4-5-5-4-4-4-5-4-5-4-6-2-6-2-6-1-6 1-6 1M133 1253l-5 4-4 4-4 5-3 6-3 5-3 6-1 4"/>
<path class="sp" stroke="#ff0000" d="M459 1236h0m2-9h0m1-5h0m-199 5h0m7 17h0m11 29h0m113-29h0m0-6h0m-211-13h0m3 6h0m8 21h0m3 6h0m0 1h0m6 14h0m421 4h0m-3 0h0m-478-51h0m-4 7h0m-1 4h0m-1 1h0m-10 40h0m-1 8h0m494-13h0m0-8h0m0-11h0m0-3h0m-1-27h0m-169 5h0m-3 9h0m-2 6h0m-2 4h0m-163 30h0m-2-3h0m-11-21h0m-105 18h0m-2 0h0m-1-1h0m-3 0h0m-3-1h0m-8-1h0m-1 0h0m-6 1h0m-6 3h0m-3 1h0m0 0h0m446-12h0m0-1h0m14-39h0m-212 34h0m126-23h0m-197-10h0m10 47h0m-71-28h0m137 30h0m-3-24h0m-201 4h0m143 32h0m-2-6h0m-4-9h0m-5-10h0m-8-21h0m-1-2h0m-3-8h0m-156-2h0m-3 31h0m0 6h0m0 17h0m487-45h0m-128-13h0m-4 6h0m-1 1h0m-11 21h0m-4 8h0m149 6h0m-1-1h0m-3-1h0m-4-1h0m-7-1h0m-3 0h0m-17 4h0m-3 2h0m-3 1h0m-8 6h0m-2 1h0m-2 2h0m0 0h0m-193-5h0m-3-18h0m-1-7h0m0-2h0m-207-15h0m10 32h0m4 11h0m314-34h0m-1 2h0m-3 6h0m-166 37h0m0 0h0m-2-4h0m-4-10h0m-181-18h0m0 9h0m0 1h0m488-15h0m-6-19h0m-88 26h0m2-4h0m7-14h0m-201 22h0m134-13h0m3-10h0m-188 12h0m1 3h0m4 11h0m2 8h0m0 1h0m125-19h0m-191 2h0m10 22h0m385 4h0m-2-30h0m0-3h0m-2-13h0m-145-10h0m-4 9h0m-170 48h0m-7-15h0m-5-11h0m-7-15h0m-5-10h0m-142 6h0m-4 26h0m0 5h0m236-25h0m189 37h0m1-1h0m5-12h0m8-20h0m8-21h0m-252 19h0m1 6h0m2 13h0m0 5h0m1 7h0m109-42h0m-202-8h0m5 11h0m0 0h0m2 4h0m7 15h0m1 5h0m5 10h0m140-14h0m-1-12h0m0-10h0m0-2h0m0-2h0m-196 30h0m3 5h0m425 3h0m-1-4h0m-6-28h0m-133-2h0m-12 23h0m-163 18h0m-4-8h0m-17-43h0m-153 0h0m-2 10h0m-2 21h0m472-16h0m1-14h0m-189 3h0m-183 44h0m0-1h0m-1-1h0m-3-3h0m-13-16h0m-2-3h0m-6-6h0m-24-15h0m-28 0h0m-3 1h0m-27 25h0m-5 9h0m-7 18h0m156-55h0m4 12h0m12 38h0m1 3h0m175-32h0m1-1h0m0-1h0m0-1h0m1-3h0m-140 37h0m-8-21h0m-2-6h0m-177 3h0m0 10h0m1 12h0m391-6h0m0 0h0m0-1h0m3-5h0m0 0h0m2-5h0m10-20h0m0-1h0m-204-11h0m1 5h0m1 44h0m-91-41h0m1 2h0m11 26h0m0 1h0m6 15h0m173-21h0m1-7h0m0-1h0m62-7h0m6-10h0m-213 2h0m7 20h0m385 31h0m-611 5h0m-18-5h0m609 5h0m-221-50h0m4-11h0m1-3h0m-215 7h0m18 30h0m-84-37h0m10 17h0m9 15h0m6 9h0m445-14h0m-9-4h0m-27-1h0m-20 12h0m-9 10h0m-214-16h0m-207 27h0m173-2h0m-6-26h0m-4-21h0m-200-7h0m522 37h0m-4-34h0m-158 1h0m-199 33h0m-3-10h0m-6-16h0m-161 0h0m-2 14h0m-1 3h0m0 2h0m-1 7h0m0 5h0m0 4h0m-1 12h0m546-19h0m-9 2h0m-5-37h0m0-2h0m-169 31h0m-185 10h0m-1-3h0m-1-2h0m-169-38h0m-1 3h0m-5 36h0m0 3h0m0 4h0m518 1h0m0-1h0m4-26h0m1-13h0m0-5h0m-203 19h0m-2 7h0m-191 20h0m-14-25h0m-17-22h0m-105 38h0m-2 5h0m-3 10h0m-1 4h0m294-56h0m-279 50h0m-37 8h0m422-21h0m19-33h0m-211 8h0m4 14h0m386 32h0m-616 3h0m615-3h0m-431-18h0m5 8h0m403 3h0m-78-18h0m-224-8h0m0-7h0m-225-12h0m7 20h0m108 6h0m7 12h0m4 8h0m138-33h0m1-6h0m-39 26h0m-226-34h0m5 17h0m499 39h0m0-3h0m-1-28h0m-1-7h0m-4-23h0m-162 16h0m-3 7h0m-1 4h0m-188 13h0m-1-3h0m-1-2h0m-8-22h0m-2-5h0m-164 26h0m518 14h0m0-5h0m1-6h0m-388 17h0m-5-11h0m-7-12h0m-131 16h0m498 6h0m7-17h0m0-1h0m6-16h0m0-1h0m2-6h0m4-13h0m-226 14h0m-203 45h0m-6-8h0m-15-16h0m-1-1h0m-11-8h0m-4-1h0m-8-3h0m-6-1h0m-11 1h0m-10 3h0m-4 2h0m-6 5h0m448 11h0m16-25h0m2-3h0m2-2h0m6-11h0m-231-1h0m2 16h0m2 19h0m0 1h0m-232 18h0m-1 0h0m-39 0h0m-2 1h0m419-20h0m2-3h0m-192-12h0m387 38h0m-14 3h0m-5 2h0m-229-28h0m2-6h0m6-18h0m0-2h0m2-5h0m-317 0h0m2 40h0m1 7h0m1 7h0m0 1h0m-8-60h0m-4 13h0m-1 4h0m-3 13h0m507-1h0m-7-13h0m-14-14h0m-2-1h0m-36 0h0m-5 3h0m-1 1h0m-1 0h0m-5 5h0m-1 1h0m-10 11h0m-2 1h0m-8 12h0m-3 4h0m-425 7h0m506 15h0m1-2h0m1-15h0m1-23h0m-113 25h0m1-1h0m0-1h0m7-12h0m6-10h0m1-1h0m7-12h0m4-6h0m-171 10h0m-154 42h0m-1-3h0m-4-4h0m-1-3h0m-16-19h0m0 0h0m-9-7h0m-4-3h0m-6-3h0m-4-1h0m394 30h0m-70-10h0m1-1h0m5-10h0m5-9h0m-157-9h0m1 3h0m4 41h0m0 6h0m0 2h0m298 8h0m-7-1h0m-5 1h0m9-12h0m-3-7h0m-18-29h0m-5-3h0m-5-4h0m-15-3h0m-12 3h0m-1 0h0m-9 5h0m-2 1h0m-7 6h0m-16 18h0m-2 3h0m-160-9h0m0-1h0m0-12h0m0-8h0m0-3h0m-175-8h0m0 1h0m3 5h0m16 26h0m3 5h0m5 8h0m8 15h0m249-59h0m-7 16h0m-8 18h0m-138 4h0m-5-24h0m-3-14h0m-173 15h0m3 8h0m3 8h0m3 10h0m2 4h0m434-3h0m3-18h0m2-11h0m-167 12h0m-141-3h0m-4-13h0m-2-5h0m-157 16h0m404 31h0m-193-40h0m1 10h0m-55 18h0m3 7h0m334-4h0m-3-5h0m-40-30h0m-2 0h0m-53 37h0m-167 3h0m-2-14h0m-236-22h0m-2 8h0m-1 1h0m-5 21h0m-1 6h0m503 0h0m-1-5h0m0-6h0m0-2h0m-1-4h0m0-3h0m-1-6h0m-4-19h0m-127-1h0m-161 59h0m-1-3h0m-1-3h0m-6-17h0m0-2h0m-1-4h0m304-9h0"/>
<path class="sp" stroke="#ff4000" d="M204 1275h0m-61-49h0m137 53h0m-109-2h0m-23-8h0m229-19h0m63-24h0m-62 14h0m-207-12h0m-31 16h0m500 29h0m-21-12h0m-10-1h0m-17 4h0m-422-36h0m143 17h0m-171 27h0m387-6h0m-188-37h0m3 41h0m283-20h0m-163 4h0m-168 5h0m-12-24h0m-145-1h0m232 1h0m0 2h0m-42-3h0m71 4h0m-201 8h0m432 12h0m-2-7h0m-312 22h0m-171-37h0m-2 2h0m-11 14h0m0 0h0m504 22h0m-493-2h0m1 8h0m392-16h0m-188-3h0m-110 5h0m-3-4h0m262 1h0m-38-37h0m-251 46h0m438-22h0m-12-5h0m-264 10h0m285-3h0m-321 18h0m-4-20h0m-3-14h0m318-1h0m-364 9h0m0-2h0m-1-1h0m-167 20h0m518 11h0m16-23h0m-358 15h0m-173-25h0m-2 10h0m132 34h0m369-48h0m-534 44h0m432-43h0m-207 1h0m1 4h0m389 42h0m-436-25h0m6 10h0m381-18h0m-6-3h0m-230-15h0m-215 20h0m-50-18h0m8 23h0m2 4h0m1 4h0m179 15h0m313 1h0m-2-37h0m-3-18h0m-365 13h0m-4-11h0m-51 16h0m-6-9h0m-106 7h0m279 11h0m-292 21h0m-10 2h0m216-41h0m-160 49h0m482-47h0m-8-8h0m-503 42h0m507 12h0m-377-54h0m-4-7h0m285 23h0m-23-11h0m-158-8h0m289 26h0m-244-22h0m-157 25h0m251 4h0m-322-27h0m9 26h0m441 0h0m-468-16h0m411 22h0m6-10h0m-170 2h0m-89 10h0m5 18h0m321-34h0m-27-18h0m-5 0h0m-4 0h0m-50 35h0m-413-11h0m494-22h0m-1-7h0m-306 1h0m-23 37h0"/>
<path class="sp" stroke="#ff8000" d="M264 1229h0m129-1h0m-206 6h0m425 45h0m28-11h0m-286-14h0m-227 22h0m128-42h0m-1-1h0m282 29h0m-363 16h0m204-29h0m-65 0h0m67 0h0m246 14h0m-305 20h0m-22-53h0m-156-1h0m-3 36h0m511 20h0m-38-25h0m-34 13h0m-198-8h0m-200-3h0m-39 5h0m492-5h0m-12-38h0m-86 27h0m4-8h0m-64 7h0m-50-18h0m-198 9h0m401 38h0m-325-4h0m215-21h0m-75-24h0m-197 6h0m8 15h0m146-14h0m-261 39h0m29-52h0m0 0h0m468 49h0m-2-10h0m-3-13h0m-312-8h0m263 38h0m-461-5h0m228-12h0m258-3h0m-215 1h0m-284-5h0m196-27h0m105 31h0m168 17h0m87 2h0m-331-20h0m-1-4h0m-203-3h0m520 2h0m-171-3h0m-190 8h0m148-28h0m-3 14h0m103 1h0m-211-22h0m-49 4h0m-157-2h0m313 24h0m168 28h0m8-20h0m6-18h0m-262-7h0m-236 43h0m-34 3h0m435-48h0m-203 30h0m-70-33h0m-99-3h0m126 50h0m379 1h0m-219-21h0m-326 6h0m515-38h0m-434 54h0m-7-9h0m-3-3h0m-80 9h0m413-30h0m7-12h0m-440 52h0m68-13h0m-13-21h0m510 11h0m-1-3h0m-5-10h0m-7-10h0m-7-8h0m-12-7h0m-69 44h0m85-37h0m-48 30h0m-41-29h0m-325 42h0m-44-38h0m408 10h0m-124 5h0m143-20h0m-4 1h0m-198-5h0m-142 54h0m97-22h0m-202-33h0m1 19h0m248-1h0m-37-8h0m1 11h0m-68-18h0m5 12h0m-148 28h0m497 8h0m-101-7h0m-170-9h0m-1-10h0m-237-8h0m0 1h0m-1 4h0m-2 6h0m-3 12h0m500-9h0m-297 18h0m0-1h0m-1-3h0m-6-18h0m-28 17h0"/>
<path class="sp" stroke="#ffbf00" d="M460 1232h0m1-4h0m-189 19h0m-71 21h0m2 7h0m427-22h0m-7-9h0m-1-1h0m-24-12h0m-2-1h0m-4 0h0m-53 32h0m-399-30h0m480 23h0m-452 20h0m-32-4h0m433 4h0m-190-43h0m-1 9h0m62-18h0m-200 9h0m141 36h0m-205-20h0m8 23h0m-42-46h0m486 20h0m13 30h0m-472-50h0m154 47h0m-182-4h0m487-27h0m-5-13h0m-373 54h0m360-27h0m-192-6h0m-77-23h0m-40 50h0m125-52h0m45 15h0m-333-1h0m423 38h0m-49-7h0m4-10h0m-115-7h0m-192 17h0m424 8h0m-3-25h0m-2-6h0m-313 23h0m-12-30h0m307 10h0m-369 22h0m-31-35h0m-23-12h0m-7-1h0m362 52h0m-265-50h0m10 27h0m2 7h0m187-37h0m33 14h0m-2 3h0m-6 9h0m-175 14h0m-182 7h0m245-8h0m-40-6h0m-86-12h0m-155 9h0m501 4h0m-437 5h0m338-18h0m-199 8h0m61 14h0m-2-28h0m288 21h0m-9-21h0m12 30h0m-421 3h0m-135-9h0m-3 7h0m291-33h0m186-4h0m-479 43h0m350-17h0m199-6h0m-379 23h0m141-35h0m-264-4h0m386 16h0m-405-12h0m522 30h0m-167-30h0m-254 11h0m-109-21h0m492 17h0m-519 27h0m479-31h0m-219-2h0m1 12h0m166-25h0m2-3h0m-219 3h0m-173 28h0m492-24h0m-150 31h0m-66-6h0m-38 3h0m-172-5h0m-4-4h0m262-9h0m-139 13h0m274-22h0m-38 34h0m-159-15h0m-42 21h0m-172-3h0m438-23h0m0-5h0m-164 1h0m-1 3h0m-146-11h0m-159 2h0m159 32h0m-160-29h0m464-5h0m-24-1h0m-36 27h0m-178-16h0m-231-15h0m-4 10h0m-2 6h0m358-11h0m-5 11h0m-163 2h0m-1-3h0m-30 17h0m-157 1h0m0 13h0m15-38h0"/>
<path class="sp" stroke="#ffff00" d="M279 1269h0m3 8h0m353 2h0m-19-1h0m-1 0h0m29 0h0m-28-40h0m-268-12h0m-215 25h0m-2 6h0m320-31h0m-312 44h0m177-2h0m0 3h0m120-16h0m-57-4h0m-210-29h0m5 19h0m468 34h0m-63-2h0m-6 5h0m-258-8h0m-176 11h0m504-5h0m-7-6h0m-44-6h0m-20 13h0m-73-40h0m-355-14h0m110 64h0m357-46h0m-189-5h0m-78 39h0m-52-31h0m1 4h0m-67-9h0m12 25h0m226-10h0m-95 15h0m74-38h0m-254-9h0m122 36h0m-103-24h0m348 10h0m36 6h0m-52 8h0m-420-29h0m-19 45h0m255-3h0m141-6h0m-180 4h0m0 3h0m-59-21h0m4 8h0m150-25h0m207 11h0m-43 33h0m-205-31h0m-1-15h0m-220 10h0m504 6h0m-179 12h0m-40-23h0m-3 13h0m219-9h0m-119 12h0m-9 15h0m-188 0h0m-202 10h0m345-27h0m-203-25h0m-2-4h0m-158 35h0m-6-6h0m-8 21h0m496 11h0m-46-7h0m4-6h0m28-46h0m-494 52h0m-22-197h0m448 155h0m7-10h0m-220-1h0m7 20h0m3 10h0m7 24h0m90-16h0m3-28h0m1-7h0m-220 20h0m467 13h0m-11-9h0m-496 2h0m6 15h0m88-34h0m164 3h0m-265-5h0m508 16h0m-118-1h0m-241 31h0m-57-13h0m368-2h0m4-9h0m-95-18h0m174 49h0m-546-24h0m0 6h0m3 16h0m-11-48h0m501 17h0m-86 0h0m-14 23h0m-417-6h0m505 10h0m0-3h0m2-20h0m-285 22h0m244-33h0m-177 1h0m-40 15h0m-220-24h0m419 23h0m-220-31h0m0 1h0m255 0h0m-31 14h0m-179-10h0m0-10h0m-144 53h0m99-19h0m107-20h0m-137 35h0m256-36h0m1-3h0m-179 7h0m-1 3h0m-138 42h0m-126-37h0m16 3h0m490 8h0m-38-27h0m-4 0h0m-3 0h0m-52 42h0m-167-21h0m-2-22h0m-1-3h0m-239 35h0m499-10h0m-299 14h0m-188-45h0m495 47h0m-485-23h0m1 2h0m1 6h0"/>
<path class="sp" stroke="#bfff00" d="M67 1034h0m566 223h0m-276 10h0m-2-8h0m-3-16h0m-210-15h0m104 16h0m14 32h0m346-15h0m-464 13h0m113 16h0m-13-21h0m-26-30h0m394 9h0m2-19h0m-191 9h0m109 24h0m-186 8h0m-114-23h0m333-18h0m62 6h0m-107-11h0m-18 26h0m-1 2h0m-5 9h0m91 11h0m5-14h0m-410 2h0m-51 6h0m-9 10h0m109-26h0m162 15h0m170-5h0m-205 20h0m254-32h0m-448 25h0m374-27h0m98 13h0m1-14h0m2-14h0m16 14h0m-300-3h0m101 3h0m-199 2h0m-48 20h0m-139-188h0m143 195h0m126 2h0m-11-47h0m-199 0h0m510 1h0m-518 1h0m465-9h0m-473 59h0m513-5h0m-47-16h0m-328-27h0m321 21h0m-7-1h0m-206-26h0m-211 19h0m0 14h0m465-25h0m-16-3h0m-19 5h0m-293 0h0m-145 10h0m-1 4h0m0 4h0m19 10h0"/>
<path class="sp" stroke="#80ff00" d="M157 1244h0m5 25h0m276-32h0m2-12h0m-195 17h0m335 30h0m-263-16h0m-96-12h0m-18-15h0m-43-4h0m452 13h0m-194 10h0m-2 10h0m-348-231h0m288 237h0m151-25h0m-362 40h0m0 2h0m18-27h0m67-4h0m-3-4h0m-111-11h0m275 32h0m-237-18h0m-3-1h0m-11-3h0m-26 6h0m-27 33h0m488-46h0m-205-14h0m-226 1h0m515 37h0m-16-35h0m16 34h0m-16-33h0m-97 4h0m-10 15h0m27 10h0m-104-26h0m-392-181h0m129 201h0m16 24h0m158-50h0m-220 17h0m484 14h0m-200-12h0m-217-12h0m368-222h0m-3-1h0m-3-1h0m-2 0h0m-3-1h0m-3 0h0m-3-1h0m-4 0h0m-3-1h0m-4 0h0m-3-1h0m-4 0h0m-4 0h0m-4 0h0m-3-1h0m-4 0h0m-4 0h0m-4 0h0m-5 0h0m-4 0h0m-4 0h0m-4 0h0m-4 1h0m-3 0h0m-4 0h0m-4 0h0m-4 1h0m-3 0h0m-4 0h0m-3 1h0m-3 0h0m-4 1h0m-3 0h0m-3 1h0m-2 1h0m-3 0h0m-3 1h0m-2 1h0m28 215h0m94 7h0m-131 26h0m-139-23h0m6 25h0m2 4h0m-69 5h0m-8-15h0m58-3h0m-153-28h0m449 8h0m-2 0h0m-53 40h0m-244-4h0m332-28h0m3 12h0m-287 32h0m-2-5h0m-10-34h0"/>
<path class="sp" stroke="#40ff00" d="M620 1242h0m-12-8h0m-10-3h0m-55 16h0m-105-8h0m-59 13h0m-209-28h0m481 63h0m-9-11h0m-58-6h0m-441-42h0m110 59h0m-37-49h0m-94 39h0m484-1h0m-187-32h0m-77-10h0m-118 1h0m322 31h0m91 13h0m-8-34h0m-485 7h0m454-26h0m-209 36h0m-217-5h0m56-9h0m-3-4h0m387 2h0m3-8h0m-222 3h0m-220 21h0m-42-17h0m-43 37h0m325-60h0m-43 8h0m178-1h0m-9 12h0m-1 2h0m-264-20h0m249 46h0m-192-17h0m-3-17h0m23-4h0m-111-9h0m1 1h0m-48 22h0m12 20h0m-53-17h0m402-26h0m-120 21h0m44 2h0m-229-12h0m210-7h0m-153-1h0m7 23h0m6 23h0m2 7h0m233-9h0m1-1h0m-162-15h0m0 2h0m-267 8h0m-3 15h0m0 2h0m166-54h0m313 6h0m-465 25h0m-1 17h0m501-6h0m-4-14h0m0 16h0m-141-11h0"/>
<path class="sp" stroke="#00ff00" d="M159 1256h0m432-26h0m-27 9h0m-217-16h0m287 45h0m-432-40h0m222-1h0m120 7h0m-380 4h0m6 24h0m376 5h0m-402-34h0m22 22h0m67 1h0m-16-24h0m175 14h0m170 13h0m86-25h0m-93-12h0m-23 30h0m-405-28h0m80 44h0m439-36h0m-432-3h0m271-1h0m88 41h0m-121-23h0m4-10h0m-142 17h0m5 16h0m3 18h0m241-34h0m11-20h0m-180 17h0m-2 12h0m-151-6h0m-19-30h0m394 12h0m-329 8h0"/>
<path class="sp" stroke="#00ff40" d="M534 1266h0m5-9h0m-295 15h0m-8-11h0m105-39h0m-180 1h0m382 50h0m-28-45h0m-337 31h0m-51 10h0m101-21h0m-12-17h0m-6-7h0m-96 16h0m29 6h0m-5-1h0m-8 0h0m-11 4h0m-8 4h0m453 3h0m5-9h0m-18-21h0m-3 3h0m-351 22h0m452-15h0m-1 0h0m-525-11h0m-1 1h0m460 24h0m-270-6h0m8 33h0m74-29h0m-150 14h0m-8-15h0m-15-22h0m-1-1h0m-85 10h0m-1 2h0m-4 9h0m-5 20h0m15-33h0m369-6h0"/>
<path class="sp" stroke="#00ff80" d="M630 1252h0m-53-19h0m-7 3h0m-220-1h0m186 28h0m-329-32h0m-20-9h0m-31 5h0m267 1h0m-67 21h0m191 14h0m6-12h0m40-5h0m1-3h0m-204 11h0m-213 4h0m36-31h0m-2-2h0m-79 20h0m280-14h0m-85 2h0m-199 11h0m455 4h0m1-3h0m-175-5h0m-3 16h0m46-8h0m-140-3h0m-61 30h0m-111-51h0m149 2h0m3 6h0m340 26h0m-141 2h0m-153 6h0m-5-20h0m-182-15h0m1 11h0m2 15h0"/>
<path class="sp" stroke="#00ffbf" d="M193 1224h0m-29 13h0m397-3h0m-439-9h0m-9 27h0m468-25h0m-229 9h0m0 1h0m-284-158h0m587 171h0m-527-9h0m460-5h0m-181 13h0m-171-3h0m-3-4h0m-2-3h0m-92-14h0m-2 5h0m-10 27h0m-4 26h0m503-51h0m-115-7h0"/>
<path class="sp" stroke="#00ffff" d="M168 1222h0m254 12h0m-60-12h0m193 47h0m-253-258h0m-3-1h0m-2 0h0m-3-1h0m-3 0h0m-3-1h0m-3 0h0m-3-1h0m-3 0h0m-4-1h0m-3 0h0m-4 0h0m-3-1h0m-4 0h0m-4 0h0m-3 0h0m-4 0h0m-4-1h0m-4 0h0m-4 0h0m-4 0h0m-4 1h0m-3 0h0m-4 0h0m-4 0h0m-3 0h0m-4 1h0m-4 0h0m-3 0h0m-3 1h0m-3 0h0m-4 1h0m-3 0h0m-2 1h0m-3 0h0m-3 1h0m-2 0h0m-3 1h0m375 212h0m36 8h0m-179-7h0m-189 2h0m-95 30h0"/>
<path class="sp" stroke="#00bfff" d="M211 1235h0m145 12h0m0 12h0m-289-227h0m628-42h0m-627-1h0m3 0h0m3-1h0m4 0h0m4-1h0m4 0h0m5-1h0m5 0h0m6-1h0m7 0h0m8-1h0m8 0h0m9 0h0m9 0h0m11-1h0m10 0h0m12 0h0m11 0h0m10 0h0m11 1h0m9 0h0m10 0h0m8 0h0m7 1h0m7 0h0m6 1h0m6 0h0m5 1h0m4 0h0m4 1h0m4 0h0m3 1h0m3 1h0m3 0h0m2 1h0m-70 231h0m-89 23h0m495-14h0"/>
<path class="sp" stroke="#0080ff" d="M68 1033h0m101 189h0m380-216h0m-3-1h0m-3 0h0m-2-1h0m-3 0h0m-3 0h0m-3-1h0m-3 0h0m-4 0h0m-3-1h0m-3 0h0m-4 0h0m-3 0h0m-4 0h0m-3 0h0m-4 0h0m-3 0h0m-4 0h0m-3 0h0m-4 0h0m-3 0h0m-4 0h0m-3 0h0m-4 0h0m-3 1h0m-3 0h0m-3 0h0m-4 1h0m-3 0h0m-3 0h0m-2 1h0m-3 0h0m-3 1h0m-2 0h0m-3 0h0m-80-9h0m-2 0h0m-3-1h0m-4-1h0m-3 0h0m-4-1h0m-3-1h0m-5 0h0m-4-1h0m-5 0h0m-5-1h0m-6 0h0m-5 0h0m-6-1h0m-7 0h0m-6 0h0m-7 0h0m-7 0h0m-7 0h0m-7 0h0m-7 0h0m-7 0h0m-6 0h0m-6 0h0m-6 1h0m-6 0h0m-5 0h0m-5 1h0m-5 0h0m-4 1h0m-4 1h0m-4 0h0m-3 1h0m-4 0h0m-3 1h0m-3 1h0m-2 0h0m-3 1h0m174 237h0m-288-156h0m518-69h0m-2-1h0m-3 0h0m-3-1h0m-2-1h0m-3 0h0m-4-1h0m-3 0h0m-3-1h0m-4 0h0m-3 0h0m-4-1h0m-3 0h0m-4 0h0m-4 0h0m-4-1h0m-4 0h0m-4 0h0m-4 0h0m-4 0h0m-4 0h0m-4 0h0m-4 0h0m-4 1h0m-4 0h0m-4 0h0m-4 0h0m-3 1h0m-4 0h0m-3 1h0m-4 0h0m-3 1h0m-3 0h0m-3 1h0m-3 0h0m-3 1h0m-2 0h0m-3 1h0m-2 1h0m-390 40h0m341-70h0m-3-1h0m-6-1h0m-11 0h0m-22-1h0m-62 0h0m-97 0h0m-44 0h0m-18 1h0m-8 1h0m-5 0h0m-3 1h0"/>
<path class="sp" stroke="#0040ff" d="M68 1021h0"/>
<path class="sp" stroke="#0000ff" d="M67 1036h0m623-39h0m2 0h0m3-1h0m-627-1h0m3 0h0m3-1h0m4-1h0m4 0h0m4-1h0m5 0h0m4-1h0m6 0h0m5-1h0m6 0h0m6-1h0m7 0h0m6 0h0m8 0h0m7 0h0m7-1h0m8 0h0m7 0h0m8 1h0m7 0h0m7 0h0m7 0h0m6 1h0m7 0h0m5 0h0m6 1h0m5 0h0m5 1h0m4 0h0m4 1h0m4 1h0m4 0h0m3 1h0m3 0h0m3 1h0m3 1h0m3 0h0m2 1h0m-197 25h0"/>
<path class="sp" stroke="#8000ff" d="M325 1005h0m-2 0h0m-3-1h0m-3 0h0m-3 0h0m-2-1h0m-4 0h0m-3-1h0m-3 0h0m-3 0h0m-4-1h0m-3 0h0m-4 0h0m-3 0h0m-4 0h0m-4 0h0m-3 0h0m-4-1h0m-4 0h0m-3 0h0m-4 1h0m-4 0h0m-3 0h0m-4 0h0m-4 0h0m-3 0h0m-3 1h0m-4 0h0m-3 0h0m-3 1h0m-3 0h0m-3 0h0m-3 1h0m-3 0h0m-2 1h0m-3 0h0m-2 1h0m-142 73h0m1-68h0m46-10h0m2 0h0m3 0h0m3 0h0m2-1h0m3 0h0m3 0h0m3 0h0m3 0h0m3-1h0m3 0h0m3 0h0m3 0h0m3 0h0m3 0h0m3 0h0m3 0h0m3 0h0m4 0h0m3 0h0m3 0h0m3 0h0m3 0h0m3 0h0m3 0h0m3 0h0m3 0h0m3 1h0m3 0h0m3 0h0m3 0h0m3 0h0m2 1h0m3 0h0m3 0h0m2 1h0m3 0h0"/>
<path class="sp" stroke="#bf00ff" d="M548 1006h0m3-1h0m2 0h0m3 0h0m3-1h0m3 0h0m3-1h0m3 0h0m3 0h0m3-1h0m3 0h0m3 0h0m4 0h0m3-1h0m4 0h0m3 0h0m4 0h0m3 0h0m4 0h0m4 0h0m3 0h0m4 0h0m4 0h0m3 0h0m4 0h0m3 0h0m4 0h0m3 0h0m4 0h0m3 1h0m3 0h0m4 0h0m3 0h0m3 1h0m3 0h0m3 0h0m3 1h0m3 0h0m2 0h0m3 1h0m3 0h0m2 1h0m-610 4h0m-1 40h0"/>
<path class="sp" stroke="#ff00ff" d="M695 999h0m-627-1h0m3-1h0m3 0h0m3-1h0m3 0h0m4-1h0m4 0h0m4-1h0m4 0h0m4-1h0m5 0h0m5-1h0m5 0h0m5 0h0m6-1h0m6 0h0m6 0h0m6 0h0m6 0h0m6 0h0m7 0h0m6 0h0m6 0h0m7 0h0m5 0h0m6 0h0m6 1h0m5 0h0m5 0h0m5 1h0m5 0h0m4 1h0m4 0h0m4 1h0m4 0h0m3 1h0m4 1h0m3 0h0m3 1h0m3 0h0m2 1h0m3 1h0m-188 24h0m1-19h0m9-2h0m3 0h0m3-1h0m2 0h0m3-1h0m3 0h0m3-1h0m4 0h0m3 0h0m3-1h0m4 0h0m4 0h0m3-1h0m4 0h0m4 0h0m4 0h0m4-1h0m4 0h0m5 0h0m4 0h0m4 0h0m4 0h0m5 0h0m4 0h0m4 0h0m4 0h0m5 0h0m4 1h0m4 0h0m4 0h0m4 0h0m3 1h0m4 0h0m4 0h0m3 1h0m3 0h0m4 0h0m3 1h0m3 0h0m3 1h0m3 0h0m2 1h0m3 0h0m2 1h0m416-26h0m10 0h0m-365-1h0m25 1h0m4 1h0m265 31h0m-3-1h0m-3-1h0m-2 0h0m-3-1h0m-3 0h0m-4-1h0m-3 0h0m-3-1h0m-4 0h0m-3 0h0m-4-1h0m-4 0h0m-3 0h0m-4-1h0m-4 0h0m-4 0h0m-4 0h0m-4 0h0m-4 0h0m-4 0h0m-5 0h0m-3 0h0m-4 1h0m-4 0h0m-4 0h0m-4 1h0m-3 0h0m-4 0h0m-3 1h0m-4 0h0m-3 1h0m-3 0h0m-3 1h0m-3 0h0m-2 1h0m-3 1h0m-3 0h0m-2 1h0m-389 40h0m234-40h0m-3-1h0m-2 0h0m-3-1h0m-3-1h0m-3 0h0m-3-1h0m-3 0h0m-3 0h0m-4-1h0m-3 0h0m-4-1h0m-3 0h0m-4 0h0m-4 0h0m-4 0h0m-3-1h0m-4 0h0m-4 0h0m-4 0h0m-4 0h0m-4 1h0m-3 0h0m-4 0h0m-4 0h0m-4 0h0m-3 1h0m-4 0h0m-3 0h0m-3 1h0m-3 0h0m-3 1h0m-3 0h0m-3 1h0m-3 0h0m-3 1h0m-2 1h0m-3 0h0m-110 39h0m-1 0h0m233-39h0m-3-1h0m-3-1h0m-2 0h0m-3-1h0m-3 0h0m-3-1h0m-4 0h0m-3-1h0m-3 0h0m-4 0h0m-3-1h0m-4 0h0m-4 0h0m-3 0h0m-4 0h0m-4 0h0m-4-1h0m-4 0h0m-4 0h0m-3 1h0m-4 0h0m-4 0h0m-4 0h0m-3 0h0m-4 1h0m-4 0h0m-3 0h0m-3 1h0m-3 0h0m-4 1h0m-3 0h0m-3 1h0m-2 0h0m-3 1h0m-3 0h0m-2 1h0m-113 28h0"/>
<path class="sp" stroke="#000" d="M645 1284h0m-3-2h0m-1-1h0m-9-3h0m-8-1h0m-2 0h0m-10 2h0m-9 4h0m-438-1h0m480-1h0m-1-3h0m-285-5h0m0-1h0m-231-1h0m-2 11h0m152-8h0m-109 2h0m0 0h0m-2-1h0m0 0h0m-1-1h0m-6-2h0m-30 1h0m-6 4h0m194 2h0m-59-4h0m-73 1h0m3 8h0m462 2h0m-3-4h0m-66-11h0m-5 4h0m-6 5h0m-252-1h0m330 5h0m-2-3h0m-3-4h0m-74 3h0m-387-9h0m142 6h0m-2-5h0m-181 4h0m111 10h0m-1-2h0m274-13h0m-182 9h0m-44-7h0m-58-1h0m311 2h0m-381-3h0m5 16h0m451-7h0m0-7h0m-322 8h0m-149-1h0m-4-2h0m-5-1h0m0 0h0m-2 0h0m-3 0h0m-15 2h0m-5 2h0m439-8h0m-299 1h0m360 10h0m-484-11h0m0 5h0m217-2h0m292 12h0m-1-1h0m-2-1h0m-1 0h0m-5-2h0m-7-1h0m-5-1h0m-8 2h0m-2 0h0m-1 0h0m-259-285h0m-3-1h0m-3-1h0m-3 0h0m-3-1h0m-3 0h0m-4-1h0m-4-1h0m-4 0h0m-5-1h0m-4 0h0m-5 0h0m-5-1h0m-6 0h0m-5 0h0m-6-1h0m-6 0h0m-6 0h0m-6 0h0m-7 0h0m-6 0h0m-6 0h0m-6 0h0m-6 1h0m-5 0h0m-6 0h0m-5 1h0m-5 0h0m-4 0h0m-5 1h0m-4 0h0m-4 1h0m-3 0h0m-4 1h0m-3 1h0m-3 0h0m-3 1h0m-2 1h0m-3 0h0m453 288h0m-1-6h0m-493-2h0m-21-7h0m410 0h0m-185 4h0m-108-5h0m359 6h0m-508-3h0m461-2h0m-197 3h0m0 5h0m-234-2h0m-13-4h0m-3 0h0m-10 0h0m-8 16h0m-1-1h0m-9-4h0m-2 0h0m-1-1h0m-1 0h0m-2 0h0m624-1h0m-2 0h0m-3 1h0m-13 4h0m-9-14h0m-4-1h0m-1 0h0m-20 4h0m-2 1h0m-9 5h0m38-10h0m-506 9h0m499-2h0m-326 3h0m0-2h0m-225 0h0m519-9h0m-387 6h0m91-3h0m314-2h0m0-1h0m-537 10h0m485 0h0m-474-2h0m-9-4h0m-3-1h0m-3-1h0m-9 0h0m-2 0h0m-4 0h0m-16 8h0m-3 2h0m243-12h0m-232 17h0m-12-5h0m-2 0h0m606 4h0m3-9h0m-3-2h0m-2-1h0m-2-1h0m-9-2h0m-9 0h0m-1 1h0m-1 0h0m-6 1h0m-3 2h0m-435-5h0m2 3h0m368-2h0m-2 3h0m-2 2h0m101-1h0m-4-2h0m-34 5h0m35-3h0m-1-2h0m-300-2h0m-1-2h0m-208 8h0m172-7h0m314 4h0m-19-2h0m1-2h0m-32 5h0m-417-4h0m-91 2h0m14-1h0m-1 0h0m-6 0h0m-25 10h0m-4-1h0m618 1h0m-543-9h0m0 3h0m507 0h0m-2-2h0m-58-3h0m-3 2h0m-461-4h0m-1 12h0m521 3h0m-1-3h0m0-1h0m-2-8h0m-108-2h0m88 1h0m-354 6h0m-2-6h0m-60-2h0m143 5h0m297 10h0m-11 1h0m8-15h0m0 0h0m-400 0h0m1 2h0m0 1h0m1 0h0m2 5h0m361-8h0m-293 4h0m233-1h0m-427-3h0m-1 4h0m80 9h0m-3-5h0m-84-7h0m-2 3h0m193 1h0m2 4h0m232-10h0m-166 1h0m-42 4h0m-1-4h0m-196 2h0m204-1h0"/>
</g>
<rect x="67.0" y="977.00" width="630.0" height="314.50" fill="none" stroke="#000" stroke-width="4.2"/>
<path d="M67.0 977.0v5M67.0 1291.5v-5M119.5 977.0v5M119.5 1291.5v-5M172.0 977.0v5M172.0 1291.5v-5M224.5 977.0v5M224.5 1291.5v-5M277.0 977.0v5M277.0 1291.5v-5M329.5 977.0v5M329.5 1291.5v-5M382.0 977.0v5M382.0 1291.5v-5M434.5 977.0v5M434.5 1291.5v-5M487.0 977.0v5M487.0 1291.5v-5M539.5 977.0v5M539.5 1291.5v-5M592.0 977.0v5M592.0 1291.5v-5M644.5 977.0v5M644.5 1291.5v-5M697.0 977.0v5M697.0 1291.5v-5M84.5 977.0v3.5M84.5 1291.5v-3.5M102.0 977.0v3.5M102.0 1291.5v-3.5M137.0 977.0v3.5M137.0 1291.5v-3.5M154.5 977.0v3.5M154.5 1291.5v-3.5M189.5 977.0v3.5M189.5 1291.5v-3.5M207.0 977.0v3.5M207.0 1291.5v-3.5M242.0 977.0v3.5M242.0 1291.5v-3.5M259.5 977.0v3.5M259.5 1291.5v-3.5M294.5 977.0v3.5M294.5 1291.5v-3.5M312.0 977.0v3.5M312.0 1291.5v-3.5M347.0 977.0v3.5M347.0 1291.5v-3.5M364.5 977.0v3.5M364.5 1291.5v-3.5M399.5 977.0v3.5M399.5 1291.5v-3.5M417.0 977.0v3.5M417.0 1291.5v-3.5M452.0 977.0v3.5M452.0 1291.5v-3.5M469.5 977.0v3.5M469.5 1291.5v-3.5M504.5 977.0v3.5M504.5 1291.5v-3.5M522.0 977.0v3.5M522.0 1291.5v-3.5M557.0 977.0v3.5M557.0 1291.5v-3.5M574.5 977.0v3.5M574.5 1291.5v-3.5M609.5 977.0v3.5M609.5 1291.5v-3.5M627.0 977.0v3.5M627.0 1291.5v-3.5M662.0 977.0v3.5M662.0 1291.5v-3.5M679.5 977.0v3.5M679.5 1291.5v-3.5M67.0 1291.50h5M697.0 1291.50h-5M67.0 1239.08h5M697.0 1239.08h-5M67.0 1186.67h5M697.0 1186.67h-5M67.0 1134.25h5M697.0 1134.25h-5M67.0 1081.83h5M697.0 1081.83h-5M67.0 1029.42h5M697.0 1029.42h-5M67.0 977.00h5M697.0 977.00h-5M67.0 1274.03h3.5M697.0 1274.03h-3.5M67.0 1256.56h3.5M697.0 1256.56h-3.5M67.0 1221.61h3.5M697.0 1221.61h-3.5M67.0 1204.14h3.5M697.0 1204.14h-3.5M67.0 1169.19h3.5M697.0 1169.19h-3.5M67.0 1151.72h3.5M697.0 1151.72h-3.5M67.0 1116.78h3.5M697.0 1116.78h-3.5M67.0 1099.31h3.5M697.0 1099.31h-3.5M67.0 1064.36h3.5M697.0 1064.36h-3.5M67.0 1046.89h3.5M697.0 1046.89h-3.5M67.0 1011.94h3.5M697.0 1011.94h-3.5M67.0 994.47h3.5M697.0 994.47h-3.5" stroke="#000" stroke-width="2" fill="none"/><g font-size="22" text-anchor="middle"><text x="67.0" y="1315.8">0</text><text x="119.5" y="1315.8">30</text><text x="172.0" y="1315.8">60</text><text x="224.5" y="1315.8">90</text><text x="277.0" y="1315.8">120</text><text x="329.5" y="1315.8">150</text><text x="382.0" y="1315.8">180</text><text x="434.5" y="1315.8">210</text><text x="487.0" y="1315.8">240</text><text x="539.5" y="1315.8">270</text><text x="592.0" y="1315.8">300</text><text x="644.5" y="1315.8">330</text><text x="697.0" y="1315.8">360</text></g><g font-size="22" text-anchor="end"><text x="58.5" y="1299.3">0</text><text x="58.5" y="1246.9">15</text><text x="58.5" y="1194.5">30</text><text x="58.5" y="1142.0">45</text><text x="58.5" y="1089.6">60</text><text x="58.5" y="1037.2">75</text><text x="58.5" y="984.8">90</text></g><text transform="translate(21.0 1134.0) rotate(-90)" font-size="21.7" text-anchor="middle" textLength="180.0" lengthAdjust="spacingAndGlyphs">Elevación (grados)</text><text x="381.3" y="1344.4" font-size="21.7" text-anchor="middle" textLength="153" lengthAdjust="spacingAndGlyphs">Azimut (grados)</text>
</g>

<!-- ================= CHART D ================= -->
<g id="chartD">
<use href="#wmark" x="1054" y="1168"/>
<path d="M736.0 1239.08H1366.0M736.0 1186.67H1366.0M736.0 1134.25H1366.0M736.0 1081.83H1366.0M736.0 1029.42H1366.0" stroke="#000" stroke-width="1.3" fill="none"/>
<g class="c" clip-path="url(#cpD)">
<path stroke="#ff0000" d="M820 1261l2-7 2-6 2-6 2-6 2-7 2-6 2-6 2-6 2-7 2-6 2-6 2-7 2-6 2-7 2-6 2-6 1-6 2-6M958 1149l3 6 2 6 2 6 2 6 2 6 3 6 2 6 2 6 2 6 2 6 3 7 2 6 2 6 2 6 2 6 2 6 3 6 2 6 2 7 2 6 2 6 1 2M750 1268l2-7 1-6 2-5M904 1250l2 6 2 5 2 6 3 6 2 6 2 5M1178 1286l5-4 5-3 6-2 6 1 5 3 4 3M751 1237l2 6 2 5 2 6 3 6 2 6 2 6 2 6 2 6 2 5M1039 1284l1-6 2-6 2-6 2-6 2-6 2-6 2-6 2-6 2-6 2-6 2-6 1-2M1150 1217l2 6 2 6 2 5 2 6 2 6 2 6 3 6 0 2M1291 1280l3-6 2-6 2-4M755 1281l4-5 5-3 5-3 7 0 6 1 5 4 4 4M1059 1280l3-6 2-5 2-6 2-6 2-6 3-6 2-6 2-6 2-6 2-6 1-2M1207 1219l2 7 1 6 2 6 2 6 2 6 1 5 2 7 2 6 2 6 1 1M967 1265l3-6 2-6 2-6 2-6 2-6 3-6 2-6 2-6 2-6M1132 1212l2 6 2 6 2 7 2 6 2 6 2 7 2 6 2 6 2 6 2 7 1 4M780 1287l2-6 3-6 2-6 2-5 2-6 3-6 2-6 2-6 2-6 2-6 2-6 2-4M888 1218l2 6 2 6 2 6 2 6 2 6 2 5 2 6 2 6 2 6 2 6 1 6 2 6 1 1M1185 1270l2-6 2-6 3-6 2-6 2-6 2-6 2-6 2-4M1272 1224l3 6 2 6 3 6 2 6 2 6 3 6 1 3M736 1286l3-6 4-5 3-5 5-4 4-4 6-2 5 0M772 1262l5 4 5 4 3 5 4 5 1 1M941 1273l2-6 2-6 2-7 2-6 2-6 1-6 2-6M1082 1231l2 6 2 6 2 6 3 6 2 6 2 6 2 6 0 1M753 1229l2 6 3 6 2 5 3 6 2 6 3 6 0 0M1297 1272l2-6 2-6M1051 1263l2-6 2-6 2-6 2-6 2-6 2-5 0-2M1220 1226l2 6 2 6 2 6 2 6 2 6 2 6 2 6 2 6 0 2M1165 1266l3 6 2 6 2 4M749 1281l2-6 2-6 2-6 2-5 2-6 1-6 2-6 2-6 2-5 1-2M850 1228l2 6 3 6 2 6 2 5 2 6 2 4M983 1286l3-6 2-6 3-6 2-6 2-6 2-5 3-6 2-6 2-5 2-5M1086 1230l3 6 2 6 2 6 2 5 2 6 2 6 2 6 0 2M782 1221l1 6 2 6 2 6 1 6 2 6 2 6 2 5 2 7 2 6 0 1M1259 1279l2-6 2-6 3-6 2-6 2-6 2-5 3-6 2-6 2-6 2-6 2-6 1-1M736 1214l2 6 2 6 1 6 2 6 2 6 1 5 2 6 2 6 2 6 2 7 2 5M1201 1270l2-6 3-6 2-5 2-6 2-6 2-5 3-6 2-6 2-5 1-4M1365 1216l1 4M1117 1259l2-6 2-6 1-6 2-6 2-6 2-6 1-6 2-6 2-6 2-5 1-6 2-6 2-6 2-7 1-6 2-6 2-6 0-2M1252 1155l2 6 3 6 2 6 2 6 2 6 2 6 3 6 2 5 2 6 2 6 2 6 2 6 3 6 2 5 2 6 2 6 2 6 3 5 2 6 2 6 2 4M1176 1266l1-6 2-6 2-6 2-6 1-6 2-6 2-6 2-6 1-6 2-5M1317 1208l2 6 2 6 2 6 2 6 3 6 2 5 2 6 2 6 2 6 3 6 2 6 1 1M869 1280l2-6 1-6 2-6 3-6 2-6 2-6 2-6 2-6 3-6 2-5 2-6 3-6 2-6 3-5 0-1M946 1197l3 6 2 6 3 5 2 6 3 6 2 5 3 6 2 6 3 6 2 6 2 6 1 2M1096 1283l2-6 3-5 2-6 2-6 2-6 2-6 3-6 2-6 2-6 2-6 2-6 1-3M1202 1215l2 6 2 6 2 6 2 6 2 6 2 6 2 6 1 6 2 5 2 6 2 6 2 6M802 1276l2-5 2-6 2-6 2-6 1-6 2-6 2-6 2-6 2-6 2-6 2-6 2-7 1-2M921 1203l2 5 2 6 2 7 1 6 2 6 2 6 2 7 2 6 2 6 2 4M1072 1283l3-5 2-6 3-6 3-5 3-5 3-6 3-5 4-6 3-5 5-4 4-4 6-3 6 0 5 2 5 4 4 5 3 5 4 5 3 6 3 5 2 6 3 6 2 5 3 6 2 6 2 4M788 1214l2 6 2 6 2 6 2 6 2 5 2 6 2 6 2 6 2 5 2 6 2 6 1 4M1252 1262l2-6 2-6 2-6 2-6 2-6 2-6 2-6 2-6 2-6 1-4M807 1274l3-6 2-6 3-6 2-6 2-6 3-6 2-6 1-2M970 1231l2 6 2 6 2 6 1 6 2 5 2 6 2 7 2 6 0 1M867 1206l2 6 2 6 2 6 2 6 3 6 2 6 2 6 2 6 2 6 2 6 3 6 2 5M1337 1260l2-6 2-6 2-7 2-6 2-6 2-7 2-6 2-7 0 0M950 1266l2-6 2-6 2-6 3-6 2-6 2-6 2-6 2-6 3-5 2-6 2-6 2-6 2-4M1094 1192l2 6 2 6 1 6 2 6 2 6 2 6 1 6 2 6 2 6 2 6 1 6 2 6 2 6 1 3M1310 1290l4-4 6-3 6 1 5 3 2 2M901 1260l1-6 2-6 2-6 2-6 1-6 2-6 2-6 1-6M1045 1213l2 6 2 6 3 6 2 6 2 6 2 6 2 6 3 6 2 6 2 6 1 2M1297 1280l1 2M779 1285l2-6 2-6 1-7 2-6 2-6 2-7 1-6 2-6 1-6 2-6 1-3M888 1221l2 6 2 7 2 6 1 6 2 7 2 6 1 6 2 6 2 6 2 6 2 6 0 1M1158 1272l1-6 2-6 2-7 2-6 1-6 2-6 2-6 2-6 1-6 2-6M1241 1211l1 6 2 6 2 6 2 6 1 6 2 5 2 6 2 6 1 4M756 1273l2-6 2-6 1-6 2-6 1-1M851 1249l1 6 2 6 2 6 2 7 1 6 1 4M736 1282l2-7 2-6 1-6 2-6 2-6 1-7 2-6 2-6 2-6 2-6 1-6 2-6 2-6 2-6 2-6 2-6 2-6 2-6 2-6 2-6 3-5 3-5 4-5 5-3 6 3 4 4 3 6 3 5 2 6 3 6 2 6 2 6 2 6 2 6 2 6 2 6 2 7 2 6 1 5 2 6 2 6 2 6 1 6 2 6 2 5 0 2M965 1272l2-6 2-7 2-5 2-6 2-6 1-6 2-6 2-5 2-6 2-7 2-6 2-6 2-6 2-6 1-6 3-6 2-6 2-6 3-6 0-1M1030 1158l3 6 2 5 3 6 2 7 2 5 2 7 2 6 2 6 1 6 2 6 2 6 2 6 1 6 2 6 2 7 2 6 1 6 2 6 2 6 2 7 1 4M1321 1273l2-6 0-1M1329 1246l2-6 1-6 2-7 2-6 2-7 1-6 2-6 1-5 2-6 1-6 2-6 1-6 1-2M793 1195l2 7 1 6 2 6 1 6 2 6 1 6 2 6 2 6 1 6 2 7 1 3M940 1287l2-6 2-6 2-6 3-6 2-6 2-6 2-5 2-5M964 1226l2-6 3-6 4-5 4-4 4-4M989 1201l5 4 4 5 3 5 3 6 3 6 2 5 2 6 3 6 2 6 2 7 2 5 2 6 2 6 2 7 1 3M1268 1284l2-6 2-6 2-5 2-6 2-6 2-6 2-6 2-7 2-6 1-6 2-6 2-6 1-2M771 1235l1 5M777 1258l1 6 2 5M916 1280l5-4 5-2 6 0 6 3 4 4 3 4M1159 1266l2-6 3-6 2-6 2-6 2-6 2-6 3-6 2-5 1-3M1191 1182l2-7 3-6 2-6 3-5 2-6 2-5M1290 1148h0M1296 1165l2 7 1 6 2 5 2 6 2 6 1 6 2 6 2 6 2 6 1 6 2 6 2 6 2 6 1 7 2 6 2 6 2 6 1 6 2 6 2 6 0 0M891 1290l4-4 6-3 5 1M913 1287l1 2M1110 1260l2-5M1270 1256l2 6 3 6 2 5M824 1276l2-5 3-6 3-6 4-5 3-5 5-3 2-1M856 1246l1 1M866 1257l3 5 3 6 3 5 3 6 1 2M1024 1275l2-6 1-6 2-6 1-6 2-6 2-6 1-7 2-6 1-6 2-7 1-6 2-7 1-4M1138 1197l2 7 2 6 2 6 1 6 2 6 2 5 2 7 2 6 2 6 2 6 2 6 2 6 0 3M813 1156l2 6 3 6 2 6 3 6 2 6 2 5 2 6 3 6 2 5 2 6 2 6 2 6 3 6 2 6 2 5 2 6 2 6 2 7 3 6 2 6 1 3M1275 1263l1-5 2-6 1-6 2-7 1-6 2-6 2-6 1-6 2-6 1-7 2-6 1-7 2-6 1-6 2-7 1-6 2-7 0-2M741 1267l2 5 2 6 1 4M944 1288l1-6 2-6 2-7 2-6 1-6 2-6 2-6 2-7 1-6 2-6 2-6 2-6 1-6 2-6 1-4M1027 1198l2 7 2 6 2 6 2 6 1 5 2 6 2 6 2 6 1 6 2 6 2 5M1172 1281l2-6 2-7 2-6 2-6 2-6 1-6 2-5 2-6 2-6 1-6 2-6 1-3M1259 1212l2 6 1 6 2 6 2 6 2 6 1 6 2 7 2 6 2 6 1 6 2 6 1 5M851 1279l2-6 2-5 2-6 2-6 2-6 2-6 2-7 2-6 1-6 2-6 2-6 2-6 1-6 2-6 2-7 2-6 1-7 2-5 1-6 2-6 1-4M962 1154l1 6 1 6 2 6 1 5 2 7 1 7 2 7 1 6 2 7 1 6 2 7 1 6 2 6 1 7 2 6 1 6 2 6 1 6 1 2M1135 1283l3-6 3-5 3-6 3-5 3-5 4-5 5-4 5-2 6 1 5 4 4 4 4 6 3 5 3 6 2 4M795 1277l2-6 2-5 3-6 2-7 3-6 2-5 2-6 2-6 2-6 3-5 2-6 1-3M936 1211l2 6 1 6 2 7 1 6 2 6 1 6 2 6 1 6 2 6 1 5 1 4M1126 1280l4-4 6-2 6 0 5 3 4 4 1 1M740 1267l3-6 2-7 2-6 2-6 2-6 3-5 2-6 2-6 2-6 2-6 2-5 3-6 2-6 2-5 2-6 3-7 2-6 3-5 2-6 2-6 3-6 2-5M867 1135l2 6 2 6 2 6 2 6 2 7 2 6 2 6 1 6 2 6 2 6 2 6 1 6 2 6 2 6 2 6 1 6 2 6 2 6 2 6M1100 1290l3-3M1107 1285l5-2 6 2 5 4 1 0M1319 1260l2-6 2-6 2-6 1-6 2-6 2-6 2-6 1-6 1-4M1343 1178l2-6 2-5 2-7 2-6 2-6 0-1M736 1198l2-6 3-6 2-6 3-6 2-5 3-6 3-5 1-3M802 1155l3 6 3 6 2 5 3 6 2 6 3 5 2 6 3 6 2 6 2 6 3 5 2 6 3 6 2 6 2 6 3 6 2 6 3 6 2 6 3 6 2 6 2 5 1 2M787 1228l3 6 2 5 3 6 2 6 3 6 2 6 3 5 2 6 3 6 2 5 1 3M1140 1288l3-6 3-6 2-5 3-6 3-5 3-6 3-5 3-6 4-5 3-5 5-4 4-4M1204 1225l4 4 5 5 3 4 4 5 3 5 3 6 4 5 3 6 3 5 2 4M1316 1282l2-3M921 1270l3-6 3-5 3-6 3-5 3-6 2-5 3-5 3-6 3-5 3-6 3-5 2-6M1118 1205l2 6 2 6 2 5 2 6 2 6 2 6 2 6 2 6 3 6 2 6 2 6 2 6 1 1M1307 1280l3-5 3-6 3-5 3-5 4-5 4-5 4-5 4-4 5-3 6-2 6 0 6 1M1364 1240l2 2M1103 1265l3-6 2-5 3-6 3-5 2-6 3-5 2-6 1-1M1314 1225l2 6 3 6 2 7 2 6 2 6 2 6 2 6 3 6 2 6 1 2M736 1276l3-5 3-5 3-6 3-5 4-6 3-5 4-4 5-5 5-3 5-2 6-1 6 2 6 4 4 4 4 5 2 1M811 1259l4 6 3 5 1 3M986 1269l2-6 2-6 3-6 2-7 2-5 2-6 2-6 2-6 2-6 1-3M1172 1213l3 5 3 6 3 5 3 5 2 6 3 5 3 6 3 5 3 6 3 5 2 5 3 6 3 5 0 1M780 1213l0 1M783 1221l3 6 0 0M791 1240l3 5 2 6 3 5 2 6 1 2M941 1274l3-6 2-6 2-6 2-5 3-6 2-6 2-6 2-6 2-7 1-2M1098 1219l3 6 2 5 3 6 2 6 3 6 3 5 2 6 3 6 2 5 3 6 2 3M841 1273l2-6 3-5 2-6 3-6 2-6 2-6 3-5 2-6 3-7 2-6 2-6 3-6 2-6 3-6 2-6 3-6 2-6 2-6 3-6 2-5 3-6 2-6 1-2M947 1142l3 5 2 6 3 6 2 6 3 6 2 6 2 5 2 6 2 6 2 5M984 1236l2 5 2 6 3 6 2 6 1 1M1126 1282l2-6 2-5 3-6 2-6 3-6 2-6 2-6 3-6 2-5 2-6 2-6 2-5 3-6 2-6 2-6 2-5 2-6 3-6 2-6 3-6 2-6 1-3M1237 1158l3 6 2 6 3 5 2 6 3 6 2 6 2 6 3 6 2 6 3 6 2 6 2 6 3 6 2 6 3 6 0 2M915 1254l2 6 2 6 3 6 2 6 1 2M1340 1275l2-6 2-7 2-6 1-3M736 1229l3 5 2 6 3 6 2 5 2 6 3 6 2 6 3 6M1058 1279l2-6 2-6 2-5 2-6 2-6 3-6 2-5 2-6 3-6 2-6 2-6 3-5 3-6 2-6 3-5 3-6 2-3M1107 1173l5-4 6-1 6 2 4 3 5 5 3 5 4 5 3 6 3 5 2 6 3 6 3 5 2 6 3 6 2 5 2 6 3 6 2 5 3 6 2 6 1 1M1300 1285l2-6 2-6 3-6 2-5 2-6 2-6 2-6 3-6 2-6 2-6 2-7 2-6 3-6 2-6 2-7 2-6 2-6 3-6 2-6 2-6 1-2"/>
<path stroke="#ff4000" d="M855 1148l2-6 1-4M955 1139l2 6 1 4M755 1250l2-6 2-6 0-1M899 1237l2 6 2 6 1 1M746 1227l3 5 2 5M1061 1216l2-6 0-1M1148 1210l2 6 0 1M1301 1256l3-6 2-5 1-3M1082 1219l0-1M1205 1212l2 6 0 1M987 1211l2-6 1-1M1130 1204l2 7 0 1M1082 1272l2 6 0 1M806 1218l2-6 1-2M885 1211l2 5 1 2M1202 1224l2-6 1-3M1269 1216l2 5 1 3M954 1230l2-6 1-3M1079 1222l2 6 1 3M890 1284l2-6 3-6 2-6 2-6 1-1M1014 1259l2 6 2 6 2 6 0 1M1301 1260l2-6 3-6 1-4M1113 1272l3-6 0 0M1289 1267l2 6 1 6 1 3M1063 1226l2-6 1-3M1217 1218l2 6 1 2M993 1260l2-5 2-6 0-2M1158 1248l3 6 2 6 2 6M767 1227l2-6 1-2M847 1220l2 5 1 3M1006 1229l2-5 1-4M1083 1220l2 6 1 4M779 1213l2 6 1 2M1284 1213l2-6 0-2M1222 1215l2-6 1-1M1363 1208l1 7 1 1M1147 1155l2-6 1-3M1249 1147l2 6 1 2M1193 1207l1-7M1314 1201l2 6 1 1M900 1197l3-5 1-2M942 1191l4 5 0 1M1121 1215l3-6 0-2M1199 1208l2 5 1 2M826 1202l2-7M919 1196l2 6 0 1M786 1207l2 6 0 1M1271 1204l2-6 0 0M825 1230l2-6 1-3M968 1222l1 6 1 3M864 1199l2 6 1 1M978 1191l2-6 0 0M1092 1185l2 6 0 1M914 1212l2-6 0-1M1042 1206l2 6 1 1M856 1264l1-4M1004 1260l2 6 2 6M1242 1277l3-6 2-5 3-6 3-4M1284 1256l4 5 3 6 3 5 2 6 1 2M953 1277l3 6 0 2M797 1220l1-6 1-1M886 1213l2 7 0 1M1175 1211l2-6 0-1M1238 1204l2 7 1 0M764 1248l1-6 2-6 0-1M847 1236l2 7 2 6M989 1284l0 0M1003 1157l3-5 2-3M1026 1149l3 6 1 3M1352 1159l1-3M792 1189l1 6M981 1201l6 0 2 0M1292 1210l1-6 1-2M769 1225l1 6 1 4M1205 1147l2-6 2-4M1287 1138l2 6 1 4M1112 1255l1-6 2-6 1-3M1265 1241l2 6 2 6 1 3M1044 1196l1-6M1137 1191l1 6M810 1147l2 6 1 3M1301 1155l2-6 0-2M1234 1275l1-5M736 1253l2 6 2 6 1 2M969 1198l2-6M1025 1192l2 6M1193 1212l2-7 0 0M1257 1205l2 6 0 1M888 1154l2-7 0-2M960 1146l1 6 1 2M821 1210l2-7 0 0M934 1204l2 6 0 1M862 1122l3 6 2 6 0 1M1353 1147l2-6 1-3M755 1155l3-5 2-4M797 1147l3 5 2 3M782 1219l3 6 2 3M1179 1225l5-3 6-2 6 1 6 2 2 2M736 1268l4 5 3 5 2 3M1075 1287l2-6 3-6 2-6 1-1M1318 1279l2-6 3-6 3-5 1-3M955 1204l2-3M1116 1198l2 6 0 1M1184 1274l2-5 3-6 3-5 0 0M1122 1225l3-6 1-3M1312 1217l2 6 0 2M809 1289l1 0M814 1287l6-1 6 1 0 1M1006 1212l2-6 0-1M1168 1205l3 6 1 2M776 1206l3 6 1 1M962 1218l2-5 1-2M1095 1211l3 6 0 2M895 1141l3-6 3-5 0 0M942 1130l2 6 3 5 0 1M1175 1157l3-6 1-2M1233 1149l3 6 1 3M910 1240l2 6 2 6 1 2M1347 1253l2-6 2-6 1-2M1345 1162l2-6 0-2"/>
<path stroke="#ff8000" d="M858 1138l2-6 2-6M951 1127l2 6 2 6M759 1237l1-6 2-5M895 1227l2 6 2 4M742 1218l3 6 1 3M1063 1209l2-6 0-1M1146 1203l1 5 1 2M1307 1242l3-6 2-5M1203 1205l2 6 0 1M990 1204l2-6 0-1M1128 1198l2 6M903 1260l2-7 1-2M1074 1252l2 6 3 5 2 6 1 3M837 1272l2-6 2-5M990 1262l2 6 2 5 2 6 2 6 1 3M809 1210l2-6 0-1M883 1204l2 6 0 1M1205 1215l3-5 0-2M1266 1209l2 6 1 1M957 1221l1-6 1-2M1076 1214l2 6 1 2M900 1259l2-6 2-6 1-4M1009 1244l2 6 2 6 1 3M1307 1244l2-5 3-6 0-1M1116 1266l2-6 3-6 2-6M1283 1248l2 6 2 6 1 6 1 1M1066 1217l2-6 1-2M1214 1210l2 6 1 2M997 1247l2-6 2-6 0 0M1154 1236l2 5 2 6 0 1M770 1219l2-6 1-2M844 1212l2 5 1 3M1009 1220l3-6 0-2M1080 1213l2 6 1 1M777 1206l2 6 0 1M1286 1205l2-5 0-1M1225 1208l2-6 1-1M1361 1202l1 6 1 0M1150 1146l2-6 1-4M1245 1137l3 6 1 4M1194 1200l2-6M1312 1194l2 6 0 1M904 1190l3-5 0-1M939 1185l3 5 0 1M1124 1207l2-6 1 0M1197 1201l2 6 0 1M828 1195l2-6M917 1189l2 6 0 1M783 1200l2 6 1 1M1273 1198l2-6 0-1M1210 1278l2-4M1341 1275l2 5 1 4M828 1221l2-6 1-2M965 1214l2 6 1 2M862 1193l2 6M980 1185l3-6 0-1M1090 1179l2 5 0 1M916 1205l2-6 0 0M1040 1199l2 6 0 1M857 1260l1-6 2-6 1-4M997 1245l3 5 2 7 2 3M1253 1256l4-5 5-4 5-3 6 1 5 4 5 5 1 2M815 1273l2-6 1-6 2-6 0-2M946 1254l2 6 2 6 2 6 1 5M799 1213l1-7 1-1M884 1206l2 6 0 1M1177 1204l2-6 0-1M1236 1198l2 6M767 1235l2-6 1-3M844 1227l2 6 1 3M989 1284l2-6 1-7 2-6 2-6 0-1M1108 1259l2 6 2 6 1 6 1 1M1008 1149l4-4 6-2 5 4 3 2M1353 1156l1-6 1-3M790 1183l2 6M1294 1202l2-6M767 1219l2 6M1214 1277l2-6 2-6M1209 1137l3-5 2-6 1-1M1283 1126l2 5 2 6 0 1M1116 1240l2-6 1-4M1261 1230l2 6 2 5M1045 1190l1-6M1135 1185l2 6M805 1138l3 5 2 4M1303 1147l2-7 1-4M1235 1270l1-6 2-6 2-6 0-2M1364 1251l2 6 0 1M971 1192l2-6 1-1M1023 1186l2 6 0 0M1195 1205l2-6 1-1M1255 1198l2 7 0 0M902 1274l2-6 2-6 0-3M1152 1281l2-6 2-6 1-3M1231 1267l2 6 2 6 2 6 1 3M890 1145l2-6 1-5M958 1134l1 7 1 5M823 1203l2-6 1-1M933 1197l1 7M801 1113l3-6 3-5 1-2M854 1101l3 6 2 6 2 6 1 3M1356 1138l2-6 2-6 0-1M760 1146l4-5 4-4 1 0M788 1137l4 4 4 5 1 1M778 1212l3 5 1 2M1083 1268l2-6 3-6 2-6 0-1M1210 1249l2 6 3 6 1 1M1114 1192l2 6M1192 1258l3-6 3-6 2-4M1126 1216l3-5 1-2M1309 1209l2 6 1 2M1008 1205l2-6 0-1M1165 1199l3 5 0 1M773 1200l3 6 0 0M965 1211l2-6 0-1M1092 1204l3 6 0 1M901 1130l3-6 4-5 4-4 0-1M931 1114l4 5 3 5 3 6 1 0M1179 1149l2-5 3-5M1229 1140l3 6 1 3M906 1229l2 6 2 5M1115 1277l3-6 3-6 3-5 1-3M1181 1255l3 5 4 6 3 5 1 3M1352 1239l2-6 1-5M1347 1154l3-5 1-4"/>
<path stroke="#ffbf00" d="M862 1126l2-6 2-6 1-4M944 1110l2 6 3 6 2 5M762 1226l2-6 0-2M892 1219l2 6 1 2M851 1264l2 6 2 6 2 6 1 3M738 1211l3 5 1 2M1065 1202l2-6M1143 1196l2 6 1 1M1312 1231l3-5 2-4M1201 1198l2 7M992 1197l2-6M1126 1192l2 6M906 1251l2-6 1-6 1-1M1069 1239l2 5 3 6 0 2M841 1261l2-6 2-7 1-3M984 1246l2 6 2 6 2 4M811 1203l2-5 1-2M880 1197l3 6 0 1M1208 1208l3-6 0-1M1262 1202l3 5 1 2M959 1213l2-6 0-1M1074 1207l2 6 0 1M741 1204l2 3M905 1243l2-6 1 0M1006 1233l1 6 2 5M1312 1232l2-6 1-3M1123 1248l2-7 3-6M1279 1236l2 6 2 6 0 0M1069 1209l2-5 0-1M1212 1203l2 6 0 1M1001 1235l2-6 1-4M1150 1226l2 5 2 5M773 1211l2-6 0-1M841 1205l3 6 0 1M1012 1212l3-6 0-1M1077 1206l3 5 0 2M776 1199l1 7M1288 1199l2-6 1 0M1228 1201l2-5 0-2M1359 1196l2 6M1153 1136l2-6 1-6 1-1M1241 1124l2 6 2 6 0 1M1196 1194l2-7M1310 1188l2 6 0 0M907 1184l4-5 1-1M934 1178l3 5 2 2M1127 1201l2-6 0-1M1194 1195l3 6M830 1189l2-7M915 1183l2 6 0 0M781 1194l2 6 0 0M1275 1191l2-6M1212 1274l2-6 2-6 3-6 1-3M1334 1253l2 6 2 6 2 6 1 4M831 1213l3-6 0-1M964 1207l1 6 0 1M859 1186l3 6 0 1M1364 1173l2-5 0-1M983 1178l2-6 1 0M1088 1173l2 6M918 1199l2-6 0-1M1037 1193l2 6 1 0M861 1244l1-6 2-6M993 1233l2 6 2 5 0 1M820 1253l2-6 2-6 0-2M942 1241l2 6 2 6 0 1M1196 1288l2-7 2-6 0 0M801 1205l1-6M883 1199l1 6 0 1M1179 1197l2-6M1234 1191l2 6 0 1M770 1226l2-6 1-3M842 1218l1 6 1 3M1110 1278l2-6 2-6M996 1258l2-6 2-7 0-3M1104 1243l1 6 2 7 1 3M1355 1147l1-6 1-4M789 1177l1 6M1296 1196l1-6M1218 1265l3-6 2-6 2-5M1364 1248l2 6 0 1M1215 1125l2-6 3-6 2-5 1-1M1276 1107l2 6 2 6 2 6 1 1M1119 1230l2-6 0-3M1258 1221l2 6 1 3M1219 1275l1 4M1046 1184l2-7M1133 1178l2 7M800 1125l2 5 3 6 0 2M1306 1136l1-6 2-7M799 1271l2 5M1240 1250l2-6 1-6 0-1M1359 1238l2 6 2 6 1 1M974 1185l2-6M1021 1180l2 6M1198 1198l2-6M1253 1192l2 6M906 1259l2-6 2-6 1-3M1015 1244l2 7 2 6 0 3M1157 1266l2-6 2-6 2-5 1-1M1225 1249l2 6 2 6 2 6M893 1134l1-6 2-6 0-1M955 1121l1 6 1 6 1 1M826 1196l2-6M931 1191l2 6M808 1100l3-5 3-6 3-5 2-2M830 1073l6 1 5 3 4 5 3 6 3 5 2 6 1 2M1360 1125l2-7 3-6 1-3M769 1137l5-4 6-1 5 2 3 3M774 1205l3 5 1 2M1090 1249l3-6 2-6 1-1M1205 1237l2 5 3 6 0 1M1348 1284l3-6 2-5 2-5M1339 1233l1-3M1112 1186l2 6M1200 1242l3-5 2-6M1130 1209l3-6 0-1M1307 1203l2 6 0 0M1010 1198l2-6M1162 1192l3 6 0 1M769 1193l3 5 1 2M967 1204l2-6 0-1M1090 1198l2 6 0 0M912 1114l5-3 6-1 6 3 2 1M1184 1139l3-5 3-5 0-1M1222 1128l3 5 3 6 1 1M903 1220l2 6 1 3M854 1270l2 6 2 6 2 3M809 1263l2 6 2 6 1 1M1129 1251l3-5 4-5 1 0M1170 1241l4 4 4 5 3 5M1355 1228l2-6 1-2M1351 1145l2-5 2-5M1296 1276l2-6 3-6 0-2"/>
<path stroke="#ffff00" d="M867 1110l2-6 2-6 2-6 2-6 3-6 1-3M932 1077l2 6 2 6 2 5 3 6 2 6 1 4M764 1218l2-7 0 0M889 1211l3 6 0 2M845 1247l2 6 2 5 2 6M1124 1286l3-6 2-5 1-2M1336 1280l2-6 1-3M736 1206l2 5M1067 1196l2-6 1-1M1141 1190l2 6 0 0M1317 1222l3-6 1-2M1199 1192l2 6M994 1191l3-6 0-1M1124 1185l2 7M910 1238l2-6 1-4M1065 1228l2 6 2 5M846 1245l1-5M979 1234l3 6 2 6M1259 1288l3-5 4-5 2-3M1309 1275l4 5 1 1M814 1196l2-5 0-1M878 1191l2 6M1211 1201l3-5 0-1M1259 1195l3 6 0 1M961 1206l2-6 0-1M1072 1200l2 6 0 1M737 1198l3 5 1 1M1002 1223l2 6 2 4M1315 1223l3-5 1-3M1128 1235l2-5 2-5M1277 1226l1 6 1 4M1071 1203l2-6 0-1M1210 1197l2 6 0 0M1004 1225l2-6 0-3M1146 1217l3 6 1 3M775 1204l2-5 1-1M838 1198l3 6 0 1M1015 1205l3-5 0-1M1075 1199l2 6 0 1M774 1193l2 6M1291 1193l1-6 1-1M1230 1194l2-5M1357 1189l2 6 0 1M1157 1123l1-6 2-6 2-6 0-1M1234 1105l2 6 2 6 2 6 1 1M1198 1187l2-6M1308 1182l2 6M912 1178l5-4 6-2 6 2 5 4M1129 1194l2-5 1-1M1192 1188l2 6 0 1M832 1182l2-6M913 1177l2 6M779 1188l2 5 0 1M1277 1185l2-6 1-1M985 1287l2-6 2-6 1-2M1220 1253l2-7 2-5 0-2M1329 1239l2 6 2 6 1 2M834 1206l2-6 0-1M962 1200l1 6 1 1M857 1180l2 6M1366 1167l0-1M736 1272l2-6 2-6 1-3M809 1257l2 6 2 6 2 6 0 2M1060 1281l2-6 1-5M986 1172l2-6 0-1M1086 1166l2 6 0 1M920 1192l2-6M1035 1187l2 5 0 1M864 1232l2-6 0-3M989 1224l3 5 1 4M824 1239l1-6 2-4M938 1229l2 7 2 5M1200 1275l2-7 2-6 2-5 1-4M1273 1254l2 6 2 6 2 5M802 1199l2-7 0 0M881 1193l2 6M1181 1191l2-6M1232 1185l2 6M773 1217l2-6 0-2M839 1210l2 6 1 2M1114 1266l2-6 1-6 2-5M1226 1249l2 6 1 5M1358 1289l2-6 2-6 2-4M782 1271l2-6 2-4M857 1261l2 6 1 5M1000 1242l2-5 1-5M1101 1232l1 6 2 5M1357 1137l2-6 2-6M787 1170l1 6 1 1M1297 1190l2-7M1225 1248l3-6 2-6 0-1M1361 1236l2 6 1 6M1223 1107l3-6 3-5 3-6 3-5 4-5 4-4 6-3 6 1 5 3 4 5 3 6 3 5 2 6 3 6 1 2M1121 1221l2-6 1-2M1254 1213l3 6 1 2M1065 1263l2-6 1-4M1210 1254l3 6 2 6 2 6 2 3M1048 1177l1-6M1131 1172l2 6M736 1114l2-6 1-2M791 1106l3 6 2 5 3 6 1 2M1309 1123l1-6 2-7 1-6M791 1252l2 6 3 6 2 6 1 1M1243 1237l2-6 1-5M1356 1227l2 6 1 5M976 1179l2-6 0-1M1019 1173l2 6 0 1M1200 1192l2-6 0-1M1251 1186l2 6M911 1244l2-7 1-5M1012 1233l2 6 1 5M1164 1248l2-6 2-6 1-1M1220 1236l2 6 2 6 1 1M896 1121l2-7 1-6 2-7 0-2M950 1100l2 7 1 6 1 6 1 2M828 1190l2-6 0-1M930 1185l1 6M769 1198l4 5 1 2M1096 1236l2-6 2-4M1201 1227l2 5 2 5M1355 1268l2-5M1340 1230l3-6 2-3M968 1179l0-1M1110 1179l2 6 0 1M1205 1231l3-5 2-4M1364 1222l2 6 0 1M1133 1202l3-5 1-1M1305 1196l1 6 1 1M1294 1282l2 5M1012 1192l2-6M1159 1186l3 6 0 0M766 1187l3 5 0 1M969 1197l2-6 0 0M1087 1191l3 6 0 1M1190 1128l4-5 4-4 6-3 6 1 5 3 4 5 3 3M754 1277l2-4M901 1213l2 5 0 2M846 1251l2 6 2 5 3 6 1 2M803 1246l2 7 2 6 2 4M1137 1241l5-5 5-3 6-1 6 1 6 3 4 4 1 1M1358 1220l2-6 0-2M1355 1135l3-5 3-6 1-2M868 1274l3-5 2-6 2-5M987 1258l2 6 2 6 2 6M1301 1262l3-5 2-6 3-5"/>
<path stroke="#bfff00" d="M879 1077l2-6 2-6 2-6 3-6 2-5 3-6 4-5 4-4 6 0 5 4 3 5 3 5 3 6 3 5 2 6 2 6 3 5 1 2M766 1211l2-7 0-1M887 1204l2 7 0 0M841 1235l2 6 2 6M1130 1273l2-6 3-5 3-6 2-4M1190 1253l3 5 3 6 4 5 1 2M1339 1271l2-6 2-6 2-6 0-2M1070 1189l2-6 0 0M1139 1184l2 5 0 1M1321 1214l3-5 1-2M1365 1207l1 2M911 1271l2-4M1084 1268l2 4M1198 1185l1 7M997 1184l2-6M1122 1179l2 6M913 1228l2-6 1-3M1062 1219l2 6 1 3M976 1224l2 6 1 4M1268 1275l4-5 4-4 3-3M1289 1261l4 1M1304 1269l4 4 1 2M816 1190l3-6M876 1185l2 5 0 1M1214 1195l3-5 1-2M1256 1189l3 5 0 1M963 1199l2-6M1069 1193l2 6 1 1M736 1196l1 2M1000 1215l2 6 0 2M1319 1215l3-5 0-2M1219 1285l2-6 1-3M1132 1225l2-6 1-2M1274 1218l2 6 1 2M1073 1196l2-6M1208 1190l2 6 0 1M1006 1216l2-6 0-1M1144 1210l2 5 0 2M778 1198l2-6 0-1M836 1192l2 5 0 1M1018 1199l3-6 0-1M1072 1192l2 6 1 1M773 1189l1 4M1293 1186l2-6M1232 1189l3-6 0-1M1355 1182l2 7M1162 1104l2-6 2-5 1-6 2-6 2-7 2-6 2-6 0-1M1218 1062l3 6 2 6 2 6 2 6 2 6 2 6 3 6 0 1M1200 1181l2-7M1305 1176l2 5 1 1M1132 1188l2-6 0-1M1190 1182l2 6 0 0M834 1176l2-6M911 1170l2 6 0 1M777 1181l2 6 0 1M1280 1178l2-6M990 1273l2-6 2-6 3-6 1-3M1079 1252l3 6 2 6 1 2M1224 1239l2-6 2-5M1326 1229l2 6 1 4M870 1282l2-5 2-6 2-6 1-2M1024 1264l2 6 0 0M836 1199l3-6 0 0M960 1193l2 7M855 1174l2 6 0 0M741 1257l3-6 2-6 1-3M804 1243l2 6 2 6 1 2M1063 1270l2-5 2-6 2-6 1-2M1194 1251l1 6 2 6 1 6M774 1280l2 5M988 1165l3-6 0-2M1084 1159l2 6 0 1M922 1186l2-6 0-1M1032 1180l3 6 0 1M866 1223l2-6 0-3M986 1215l2 6 1 3M827 1229l1-7 1-3M936 1221l1 5 1 3M1207 1253l2-6 3-6 0-2M1267 1240l3 6 2 6 1 2M804 1192l1-7M879 1186l2 6 0 1M1183 1185l2-6 0-1M1230 1179l2 6 0 0M775 1209l2-6M838 1204l1 5 0 1M1119 1249l2-7 1-6M1222 1236l2 6 2 7M786 1261l2-6 2-6 2-5M851 1246l2 5 2 6 2 4M1003 1232l2-6 1-4M1098 1223l2 6 1 3M1361 1125l1-6 2-6 2-6M785 1163l2 6 0 1M1299 1183l2-6M1230 1235l2-6 2-4M1359 1226l1 7 1 3M1124 1213l1-6 1-1M1252 1206l2 6 0 1M1068 1253l2-6 1-6 1-2M1205 1240l2 5 2 6 1 3M1049 1171l2-6 0-1M1130 1165l1 6 0 1M739 1106l2-6 3-6 3-5 2-4M755 1076l5-3 7 0 5 3 4 4 4 6 3 5 3 5 3 6 2 4M1313 1104l2-6 1-7 2-6 1-6 2-7 1-6 1-3M1358 1064l1 6 2 6 2 6 2 6 1 5M785 1238l3 6 2 5 1 3M1246 1226l1-6 1-2M1354 1219l2 6 0 2M1198 1285l2-6 2-7 1-6M978 1172l2-5 1-1M1016 1166l2 6 1 1M1202 1185l2-6M1249 1179l1 6 1 1M914 1232l2-7 0-2M1010 1224l1 6 1 3M1169 1235l2-5 2-5M1216 1226l2 6 2 4M901 1099l2-6 1-7 2-7 1-7 2-6 1-7 2-7 1-7 2-7M938 1040l1 6 1 6 2 6 1 7 1 6 2 6 1 7 1 6 2 6 0 4M830 1183l2-5 0-1M928 1178l2 7M736 1192l0-1M763 1192l5 4 1 2M1100 1226l2-6 1-2M1197 1218l3 6 1 3M1345 1221l3-5 0-1M968 1178l3-5 0-1M1108 1173l2 6M1210 1222l2-6 2-2M1361 1214l2 6 1 2M1137 1196l2-6 1-1M1302 1190l2 6 1 0M1056 1260l1-3M1284 1257l2 6 3 6 2 6 2 6 1 1M1014 1186l2-7M1156 1180l3 6 0 0M762 1181l4 5 0 1M971 1191l2-6M1085 1185l2 6M756 1273l3-5 3-5 3-6 2-5M951 1253l2 6 2 6 2 4M898 1205l2 6 1 2M840 1238l3 5 2 6 1 2M798 1234l3 6 2 6M1360 1212l1-4M1362 1122l4-5 0-1M875 1258l3-6 2-6 1-3M981 1243l2 6 2 6 2 3M1309 1246l2-6 3-6 0 0M1096 1284l3-6 2-6 2-5M1248 1267l1 4"/>
<path stroke="#80ff00" d="M768 1203l2-6M885 1197l1 6 1 1M838 1225l2 6 1 4M1140 1252l4-5 3-5 3-3M1180 1239l4 5 4 5 2 4M1345 1251l2-6 2-6 1-1M1072 1183l2-6 0 0M1137 1177l2 7M1325 1207l4-6 1-1M1360 1200l4 6 1 1M913 1267l2-6 2-6 3-6M1079 1249l2 6 1 6 2 6 0 1M1095 1181l1-3M1196 1179l2 6M999 1178l2-6 0 0M1120 1172l2 7M916 1219l1-6 1-2M1059 1212l2 5 1 2M854 1217l0-1M973 1216l2 6 1 2M819 1184l2-6 0 0M873 1178l3 6 0 1M1218 1188l3-5 1-1M1251 1183l4 5 1 1M965 1193l1-7M1067 1187l2 6M916 1212l2-5M997 1207l2 6 1 2M1322 1208l3-6 1-1M860 1290l3-6 2-5 3-6 3-6 1-2M944 1265l2 6 2 6 2 4M1222 1276l2-5 2-6 2-6 2-5M1357 1255l2 6 1 1M1135 1217l2-6 1-1M1272 1210l2 6 0 2M1075 1190l2-6 0-1M1206 1184l2 6M1008 1209l2-6 0-1M1141 1203l2 5 1 2M780 1191l3-6 0 0M833 1185l3 6 0 1M1021 1192l3-5 0-1M1069 1186l3 6 0 0M1295 1180l0-1M1235 1182l2-6 0 0M1354 1176l1 6M1175 1061l2-6 2-5 2-7 3-5 2-6 3-6 4-5 6 0 4 4 3 6 2 6 3 5 2 6 3 6 2 6 0 2M1202 1174l1-6M1303 1169l2 6 0 1M1134 1181l3-5 0-1M1187 1176l2 6 1 0M836 1170l2-7 0 0M909 1163l2 6 0 1M1342 1276l1-4M775 1175l2 6 0 0M1282 1172l2-6 0-1M998 1252l2-6 2-6 1-1M1073 1239l3 6 3 6 0 1M1228 1228l2-5 1-4M1323 1220l2 6 1 3M877 1263l2-6 2-6 2-5M1019 1247l2 6 2 7 1 4M1179 1273l1-3M1225 1270l3 5 1 2M839 1193l2-6 0-1M958 1187l2 6M736 1172l2-6M853 1168l2 6M747 1242l3-6 2-5M799 1231l3 6 2 6M1070 1251l2-7 2-6 0-1M1191 1238l1 6 2 6 0 1M1350 1273l2-6 4-5 0-1M762 1256l3 5 3 6 3 6 2 6 1 1M991 1157l3-5 1-2M1081 1150l2 6 1 3M924 1179l2-5 0-1M1030 1174l2 6M868 1214l2-6 0-1M984 1208l2 6 0 1M829 1219l1-6 0-1M933 1213l2 6 1 2M1212 1239l2-5 3-6M1263 1229l2 6 2 5M805 1185l2-6M878 1181l1 5M1185 1178l3-6 0-1M1228 1172l2 6 0 1M777 1203l2-6 0-1M835 1196l2 7 1 1M1122 1236l2-7 1-4M1220 1226l1 6 1 4M792 1244l2-5 2-6M846 1234l2 5 3 7M1006 1222l1-6 1-2M1098 1221l0 2M1366 1107h0M783 1156l2 6 0 1M1301 1177l2-7M1234 1225l2-6 1-2M1357 1218l1 6 1 2M1126 1206l2-6 0-1M1249 1200l2 5 1 1M1072 1239l1-6 1-4M1201 1229l2 6 2 5M1051 1164l1-6 1-2M1128 1157l1 6 1 2M1323 1063l2-6 1-6 2-7 2-6 2-6 2-6 3-5 6 0 3 6 2 6 2 6 2 6 2 6 2 6 1 6 1 1M782 1228l2 6 1 4M1248 1218l1-6 1-1M1352 1211l1 6 1 2M991 1275l2-6 1-3M1068 1266l2 5M1203 1266l2-6 2-7 1-5M1315 1249l0 1M981 1166l0-1M1013 1159l2 6 1 1M1204 1179l2-6 0-1M1246 1173l2 6 1 0M916 1223l2-7 1-1M1008 1215l1 6 1 3M1173 1225l3-5 1-3M1212 1218l3 6 1 2M915 1038l1-6 2-7 2-6 1-6 2-6 6 0 2 7 2 6 2 6 1 7 1 6 1 1M832 1177l2-6 0-1M927 1172l1 6M736 1191l4-2M745 1186l3-1M752 1185l6 2 5 4 0 1M1103 1218l3-6 0-2M1194 1211l2 5 1 2M988 1275l3-6 3-6 3-5 0-2M1174 1257l2 6 1 2M971 1172h0M1106 1166l2 6 0 1M1214 1214l2-6 1-1M1359 1207l2 6 0 1M1140 1189l3-6 0 0M1300 1183l2 6 0 1M1057 1257l3-6 2-6 1-3M1278 1242l2 6 2 5 2 4M1016 1179l2-6 0-1M1153 1173l2 6 1 1M758 1174l3 5 1 2M973 1185l2-6 1-1M1082 1179l2 6 1 0M767 1252l3-5 3-6 1-2M946 1239l2 6 2 6 1 2M896 1199l2 6 0 0M836 1228l2 5 2 5M795 1225l2 6 1 3M881 1243l3-6 1-2M977 1232l2 6 2 5M1314 1234l3-5 3-5M1103 1267l2-6 2-6 2-6 1 0M1241 1249l3 6 2 6 2 6 0 0"/>
<path stroke="#40ff00" d="M770 1197l2-6M882 1191l2 6 1 0M835 1216l2 7 1 2M1150 1239l4-5 5-3 6-1 6 2 5 3 4 4M1350 1238l2-7 1-3M1074 1177l2-7 0 0M1134 1171l3 6 0 0M1330 1200l4-5 1 0M1354 1194l3 2M920 1249l2-6 3-6 0-1M1075 1236l2 6 2 6 0 1M1096 1178l2-6M1194 1173l2 6M1001 1172l3-6 0-2M1118 1165l2 7 0 0M918 1211l2-6 0-1M1056 1205l2 6 1 1M854 1216l2-7 1-1M971 1209l2 6 0 1M821 1178l3-6 0-1M871 1172l2 6 0 0M1222 1182l4-5 1-1M1246 1176l4 5 1 2M966 1186l2-6M1065 1181l2 6M918 1207l2-6 0-1M995 1201l2 6 0 0M1326 1201l3-5 1-1M1364 1195l2 4M872 1265l3-6 3-5 3-6 0-1M935 1248l3 5M941 1259l2 6 1 0M1230 1254l2-6 2-6 1-2M1353 1241l2 6 2 6 0 2M1138 1210l2-6 0-1M1270 1204l2 6M1077 1183l2-5 1-1M1204 1178l2 5 0 1M1010 1202l2-6 0-1M1138 1196l3 6 0 1M1034 1276l2-6 0-2M1184 1269l2 6 2 6 2 6M783 1185l3-6 0-1M830 1179l3 6 0 0M1024 1186l3-6 0 0M1066 1180l3 6 0 0M1237 1176l2-6 1-1M1352 1170l2 6M1203 1168l2-6 0-1M1301 1162l2 6 0 1M1137 1175l2-5 1-1M1184 1169l3 5 0 2M838 1163l2-7 1-1M907 1156l2 5 0 2M1343 1272l3-6 2-6 2-6 1-3M773 1168l1 6 1 1M1284 1165l2-6 0-1M1003 1239l2-6 2-5M1068 1229l3 5 2 5M1231 1219l2-5 1-2M1320 1212l2 6 1 2M883 1246l2-6 2-6M1015 1234l2 6 1 6 1 1M1180 1270l4-5 5-4 4-4 6-2 6-1 6 2 5 4 4 4 4 5 1 1M841 1186l2-6M956 1180l2 7M738 1166l2-6 0-1M850 1159h0M752 1231l2-6 2-3M795 1222l3 6 1 3M1074 1237l2-6 1-4M1188 1228l2 6 1 4M1356 1261l3-5 4-5 3-2M736 1250l5-4 6-1 6 2 4 4 4 5 1 0M995 1150l2-6 2-4M1078 1141l2 6 1 3M926 1173l2-6 0-1M1027 1167l2 6 1 1M870 1207l2-6M981 1201l2 6 1 1M830 1212l2-6 0-1M931 1206l2 6 0 1M1217 1228l2-5 2-3M1259 1220l2 6 2 3M807 1179l1-6M876 1174l2 6 0 1M1188 1171l2-5 0-1M1225 1166l3 6 0 0M779 1196l2-6M833 1190l2 6M1125 1225l2-6 0-2M1218 1218l1 6 1 2M796 1233l2-6 2-3M841 1224l3 6 2 4M1008 1214l1-6 0-1M781 1147l2 6 0 3M1303 1170l1-6 0-1M1237 1217l2-6 1-2M1355 1210l1 7 1 1M1128 1199l2-6 0-1M1247 1193l2 6 0 1M1074 1229l2-6 0-3M1198 1220l2 6 1 3M1053 1156l1-6 0-2M1126 1149l1 7 1 1M779 1220l2 6 1 2M1250 1211l1-7 0-1M1350 1204l1 6 1 1M994 1266l2-6 2-6 2-6M1061 1248l2 6 2 6 3 6M1208 1248l2-6 1-6 1-1M1311 1237l2 6 2 6M987 1152l1-2M1009 1151l3 5 1 3M1206 1172l3-6 0 0M1244 1166l2 6 0 1M919 1215l1-6 1-2M1006 1208l1 6 1 1M1177 1217l3-5 2-2M1207 1210l3 5 2 3M834 1170l2-6 1 0M925 1164l2 7 0 1M748 1185l4 0M1106 1210l3-5 0-2M1191 1203l2 6 1 2M997 1256l3-5 3-6 2-4M1168 1242l2 7 3 6 1 2M977 1160l1-2M1104 1159l1 6 1 1M1217 1207l2-6 1-1M1356 1200l2 6 1 1M1143 1183l3-6 0-1M1298 1177l2 6 0 0M1063 1242l3-6 2-5M1274 1231l2 6 2 5M1018 1172l2-6M1149 1166l3 6 1 1M752 1167l4 5 2 2M976 1178l2-6 0 0M1080 1172l2 6 0 1M774 1239l3-6 3-5M942 1229l2 6 2 4M1100 1286l3-6 3-5 2-5 3-5M1209 1265l3 6 2 6 3 5 0 1M894 1192l2 6 0 1M832 1219l3 6 1 3M792 1217l2 6 1 2M1365 1196l1-3M973 1222l2 6 2 4M1320 1224l3-5 2-3M1366 1216l0 1M860 1273l3-6 2-5 1-2M966 1261l2 4M1110 1249l2-6 2-7 0 0M1237 1236l2 7 2 6 0 0"/>
<path stroke="#00ff00" d="M772 1191l1-7M880 1185l2 6M833 1209l2 7 0 0M1353 1228l2-6 1-3M1076 1170l3-6 0-1M1132 1164l2 5 0 2M1340 1191l6-1 2 0M1351 1191l3 3M925 1236l2-5 2-5M1072 1227l2 6 1 3M1098 1172l2-6 0-1M1193 1166l1 6 0 1M1004 1164l2-5 1-2M1116 1158l2 6 0 1M920 1204l2-6M1054 1198l2 6 0 1M857 1208l1-6 0-1M969 1201l1 7 1 1M824 1171l3-6 0-1M867 1165l3 5 1 2M1227 1176l5-4 6 0 1 0M1244 1174l2 2M968 1180l2-7M1063 1174l2 7M920 1200l2-6 1 0M993 1195l2 5 0 1M1330 1195l4-6 1-1M1359 1189l3 4 2 2M881 1247l4-5 3-6 1-1M933 1244l2 4M1235 1240l1-6 2-5M1349 1230l2 6 2 5M1140 1203l2-6 1-1M1268 1196l2 7 0 1M1080 1177l2-6 0 0M1202 1171l1 6 1 1M1012 1195l2-6M1136 1190l2 6 0 0M1036 1268l2-6 2-6 2-6 0-1M1177 1250l2 6 2 6 2 6 1 1M786 1178l3-5 0-1M827 1173l3 5 0 1M1027 1180l3-6 1-1M1062 1174l3 5 1 1M1240 1169l2-6 0-1M1350 1163l2 6 0 1M1205 1161l2-6 0-2M1298 1154l2 6 1 2M1140 1169l2-6 1-2M1181 1162l3 5 0 2M841 1155l2-7 0-2M904 1147l2 6 1 3M882 1261l2 5 2 7 2 6 1 2M1351 1251l3-6 2-5 1-2M770 1161l2 6 1 1M1286 1158l2-6 1-2M1007 1228l3-6 1-3M1064 1220l3 5 1 4M1234 1212l2-6 0-1M1318 1206l2 6 0 0M887 1234l2-6 1-4M1012 1225l2 6 1 3M843 1180l3-6 0-1M955 1174l1 6M740 1159l2-6 0-2M847 1152l2 6 1 1M756 1222l3-6 1-2M791 1214l3 5 1 3M1077 1227l2-6 1-2M1186 1219l2 6 0 3M1004 1277l3-6 0-1M1161 1270l1 6 1 5M999 1140l2-6 3-6M1074 1129l2 6 2 6M928 1166l2-6 0-1M1024 1160l2 6 1 1M872 1201l1-7M979 1195l2 6M832 1205l2-7M929 1199l2 6 0 1M1221 1220l2-6 2-2M1254 1213l4 5 1 2M808 1173l2-6 0-1M874 1167l2 6 0 1M1190 1165l3-6 0-1M1222 1158l2 6 1 2M781 1190l2-6 0-1M831 1184l2 6M1127 1217l2-6 0-1M1216 1211l1 6 1 1M800 1224l2-6 2-3M837 1216l3 5 1 3M1009 1207l2-6 0-1M779 1136l1 6 1 5M1304 1163l2-6 0-1M1240 1209l2-6 0 0M1353 1203l2 7 0 0M1130 1192l2-6M1244 1187l2 5 1 1M1076 1220l2-6 0-2M1195 1213l2 6 1 1M1054 1148l2-6 0-4M1123 1140l2 6 1 3M1251 1203l2-6M1348 1198l2 6M1000 1248l2-6 2-6 0-1M1056 1236l2 5 3 6 0 1M1212 1235l1-6 1-3M1308 1226l2 6 1 5M988 1150l4-5 5-3 6 2 4 5 2 2M1209 1166l3-6 0-2M1240 1159l3 5 1 2M921 1207l1-6 0-1M1004 1201l2 6 0 1M1182 1210l4-5 2-2M1201 1203l4 5 2 2M837 1164l2-6 0-2M923 1157l2 6 0 1M1109 1203l3-6 0 0M1188 1197l3 6 0 0M1005 1241l2-5 3-5M1164 1231l2 7 2 4M1359 1196l3-3M978 1158l3-6 1-2M1101 1150l2 7 1 2M1220 1200l2-6 1-1M1354 1194l2 6 0 0M1146 1176l3-5 0-1M1296 1170l2 6 0 1M1068 1231l2-7 1-2M1270 1222l2 6 2 3M1020 1166l2-6 1-2M1146 1159l3 6 0 1M736 1163l6-1 6 2 4 3M978 1172l2-6 0-1M1077 1165l2 6 1 1M780 1228l2-5 2-4M939 1220l2 6 1 3M1111 1265l3-6 2-6 3-6 0 0M1201 1247l3 6 2 5 3 6 0 1M736 1189l2-3M892 1186l2 6M829 1211l2 6 1 2M789 1209l3 6 0 2M970 1215l2 6 1 1M1325 1216l4-5 2-2M1360 1209l4 4 2 3M866 1260l2-6 2-6 2-4M959 1245l3 6 3 6 1 4M1114 1236l2-7 2-3M1233 1227l2 6 2 3"/>
<path stroke="#00ff40" d="M773 1184l2-7M878 1178l2 6 0 1M830 1202l2 7 1 0M1356 1219l1-6 1-2M1079 1163l2-5 1-3M1129 1156l2 6 1 2M929 1226l2-6 0 0M1070 1218l2 6 0 3M1100 1165l2-6 0-1M1191 1159l1 6 1 1M1007 1157l2-6 1-2M1113 1150l2 7 1 1M922 1198l1-6 1-1M1051 1191l2 6 1 1M858 1201l2-7M967 1195l2 6M827 1164l3-5 1-2M864 1157l2 6 1 2M970 1173l2-6M1062 1168l1 6M923 1194l2-6M991 1188l2 7M1335 1188l4-4 4-2M1350 1182l6 3 3 4M889 1235l4-5 3-3M919 1225l5 5 0 0M1238 1229l2-6 1-3M1347 1221l1 7 1 2M1143 1196l2-6M1266 1190l2 6M1082 1171l2-6 0-1M1199 1164l2 6 1 1M1014 1189l2-6M1134 1184l2 6M1042 1249l2-6 2-6 0-1M1172 1237l2 6 2 6 1 1M789 1172l3-5 1-2M823 1165l3 6 1 2M1031 1173l4-5 1-2M1057 1167l4 5 1 2M765 1159l2 6M1242 1162l2-6 1-2M1348 1155l1 6 1 2M1207 1153l1-6 1-2M1296 1145l2 6 0 3M1143 1161l3-5 1-2M1177 1154l3 6 1 2M843 1146l2-6 1-4M901 1137l2 6 1 4M878 1245l2 6 1 6 1 4M1357 1238l2-6 2-4M767 1153l2 7 1 1M1289 1150l2-6 1-3M1011 1219l3-5 1-2M1060 1212l3 6 1 2M1236 1205h0M1316 1199l2 6 0 1M890 1224l2-5 1-3M1010 1216l1 7 1 2M846 1173l2-6M953 1167l2 7M742 1151l2-6 1-4M843 1142l2 6 2 4M760 1214l4-6 2-2M786 1207l4 5 1 2M1080 1219l1-6 1-3M1184 1212l2 6 0 1M1007 1270l2-6 3-6 2-6 1-2M1156 1251l1 6 2 6 1 6 1 1M1004 1128l2-6 3-5 2-5M1068 1113l3 5 2 7 1 4M930 1159l2-6 1-2M1021 1152l2 6 1 2M873 1194l2-6M977 1189l2 5 0 1M834 1198l1-6M928 1193l1 6M1225 1212l3-5 2-2M1249 1205l4 5 1 3M810 1166l2-6 0-1M872 1160l2 6 0 1M1193 1158l3-6 2-3M1217 1150l3 5 2 3M783 1183l3-6M829 1178l2 6 0 0M1129 1210l2-6 0-1M1214 1204l2 6 0 1M804 1215l3-5 1-2M833 1208l3 5 1 3M1011 1200l2-6M775 1124l2 7 2 5M1306 1156l2-6 0-2M756 1170l1 6M1242 1203l2-7 1 0M1352 1197l1 6M1132 1186l1-6 0 0M1242 1180l2 7M1078 1212l2-6 0-1M1192 1205l2 6 1 2M1056 1138l2-6 1-5M1120 1127l2 7 1 6M1253 1197l1-6M1346 1192l2 6M1004 1235l3-6 2-4M1052 1226l2 6 2 4M1214 1226l2-6 0-3M1306 1218l2 6 0 2M1212 1158l3-5 2-3M1236 1151l3 5 1 3M922 1200l2-6 0 0M1003 1195l1 6M1188 1203l5-3 6 2 2 1M839 1156l2-6 1-2M921 1148l2 7 0 2M1112 1197l1-2M1185 1191l3 5 0 1M1010 1231l2-6 2-3M1161 1222l2 6 1 3M1362 1193l4-5 0 0M982 1150l3-6 1-4M1098 1141l2 6 1 3M1223 1193l2-5 0-1M1352 1188l2 6M1149 1170l3-6 1-1M1294 1164l2 6 0 0M1071 1222l3-6 0-3M1267 1214l3 6 0 2M1023 1158l2-6 0-1M1142 1151l3 6 1 2M980 1165l2-6 0-1M1074 1159l3 5 0 1M784 1219l2-5 1-2M937 1212l2 6 0 2M1119 1247l3-5 3-6 1-1M1195 1235l3 6 3 5 0 1M738 1186l3-6 0-1M890 1180l2 6M826 1204l3 6 0 1M787 1202l2 7 0 0M894 1213l2-6 0 0M967 1207l2 6 1 2M1331 1209l4-5 5-2M1359 1208l1 1M872 1244l2-6 3-6M954 1233l3 6 2 6M1118 1226l2-6 1-3M1230 1218l2 6 1 3"/>
<path stroke="#00ff80" d="M775 1177l2-5 0-1M876 1172l2 6M829 1196l1 6M1358 1211l2-6 0-1M1082 1155l2-5 1-3M1125 1147l3 6 1 3M1068 1210l1 7 1 1M1102 1158l2-6 0-2M1188 1150l2 6 1 3M1010 1149l2-6 1-3M1110 1140l2 7 1 3M924 1191l1-6M1049 1186l2 5M860 1194l2-6M965 1189l2 6M831 1157l4-5 2-3M858 1149l3 5 3 3M972 1167l1-7M1059 1161l2 5 1 2M925 1188l2-6 0-1M988 1182l2 6 1 0M1343 1182l6 0 1 0M900 1224l5-3 6 0 6 3 2 1M1241 1220l2-6 0-2M1344 1213l2 7 1 1M1145 1190l2-6 0-1M1265 1184l1 6M1084 1164l2-6 1-2M1197 1157l2 5 0 2M1016 1183l2-7M1132 1177l2 6 0 1M1046 1236l2-5 1-5M1169 1227l2 6 1 4M793 1165l4-5 2-2M817 1158l4 5 2 2M1036 1166l5-3 6-2 6 2 4 4M763 1152l2 6 0 1M1304 1152l2-7 0-3M1245 1154l2-6 1-2M1345 1147l2 6 1 2M1209 1145l2-6 1-6M1292 1134l2 7 2 4M1147 1154l4-5 3-4M1170 1145l4 5 3 4M846 1136l2-6 2-6 1 0M897 1124l2 6 2 6 0 1M874 1233l2 6 2 6M1361 1228l2-6 1-3M764 1145l2 6 1 2M1292 1141l2-6 2-6M1015 1212l3-6 2-1M1056 1205l3 5 1 2M1314 1192l2 6 0 1M893 1216l2-6 1-2M1008 1210l1 6 1 0M848 1167l2-6 1-2M951 1161l2 6M745 1141l2-6 1-4M839 1131l2 6 2 5M766 1206l4-4 6-2 6 3 4 4M1082 1210l2-6 0 0M1183 1205l1 7M1015 1250l2-5 2-6 1-2M1152 1238l2 6 1 6 1 1M1011 1112l3-6 3-5 3-5 3-6 3-5 1-2M1055 1083l3 5 3 6 2 6 3 5 2 6 0 2M933 1151l2-6 1-3M1017 1143l2 5 2 4M875 1188l1-6M975 1182l2 6 0 1M835 1192l2-6M926 1187l2 6M1230 1205l4-4 6-2 6 3 3 3M812 1159l1-6 1-2M870 1152l2 6 0 2M1198 1149l4-4 5-3 6 3 4 4 0 1M786 1177l2-6 0-1M827 1171l2 6 0 1M1131 1203l2-6 0-1M1212 1197l2 6 0 1M808 1208l4-5 3-2M826 1201l5 5 2 2M1013 1194l1-7M1089 1188h0M736 1113l2-6 1-4M770 1105l2 5 1 7 2 6 0 1M1308 1148l2-6 1-4M754 1163l2 6 0 1M1245 1196l2-7M1350 1191l2 6M1133 1180l2-6M1239 1174l3 6 0 0M1080 1205l2-7M1190 1199l2 6 0 0M1059 1127l1-6 2-7 1-5M1116 1111l2 6 1 7 1 3M1254 1191l2-7M1344 1185l2 7M1009 1225l2-5 1-3M1048 1218l3 5 1 3M1216 1217l2-6 0-1M1304 1210l2 7 0 1M1217 1150l4-4 5-3 6 3 4 5M924 1194l2-6M1001 1188l1 6 1 1M842 1148l2-6 1-4M919 1139l2 7 0 2M1182 1184l3 6 0 1M1014 1222l2-6 1-2M1158 1214l2 6 1 2M986 1140l3-5 3-6M1094 1129l2 6 2 6M1225 1187l3-6 0 0M1350 1181l2 7M1153 1163l3-6 1-1M1291 1156l2 6 1 2M1074 1213l3-6 0-1M1264 1207l3 6 0 1M1025 1151l2-7 1-3M1138 1142l3 6 1 3M982 1158l2-6 1-2M1071 1150l2 6 1 3M787 1212l3-6 1-1M935 1205l2 6 0 1M1126 1235l3-6 3-4M1189 1225l4 6 2 4M741 1179l3-5 0-1M888 1173l2 6 0 1M823 1198l3 5 0 1M785 1196l2 6 0 0M896 1207l3-6 0-1M964 1200l3 6 0 1M1340 1202l6-1 0 0M877 1232l2-5 2-4M950 1224l2 5 2 4M1121 1217l2-6 0-1M1228 1211l2 6 0 1"/>
<path stroke="#00ffbf" d="M777 1171l1-6 1-1M874 1165l2 6 0 1M736 1189l0 0M827 1190l2 6M1360 1204l2-6M1085 1147l3-6 2-4M1120 1137l3 6 2 4M1066 1204l2 6M1104 1150l2-6 1-4M1186 1141l2 6 0 3M1013 1140l2-6 2-6M1107 1129l2 6 1 5M925 1185l2-6M1047 1179l2 6 0 1M862 1188l2-6M963 1183l2 6M837 1149l4-5 6-2 6 2 4 4 1 1M973 1160l2-6 1-2M1057 1153l2 6 0 2M927 1181l2-6 1 0M986 1175l2 6 0 1M1243 1212l2-6 0-1M1342 1206l2 6 0 1M1147 1183l3-6 0 0M1263 1177l2 7M1087 1156l2-6 1-2M1194 1148l2 6 1 3M1018 1176l1-6M1129 1171l2 6 1 0M1049 1226l2-6 1-2M1166 1219l2 6 1 2M799 1158l5-4 6 0 5 3 2 1M761 1142l1 6 1 4M1306 1142l2-5 2-5M1248 1146l2-6 2-5M1342 1136l2 7 1 4M1212 1133l2-6 1-6 0-1M1288 1121l2 5 2 6 0 2M1154 1145l5-3 6 0 5 3 0 0M851 1124l2-7 2-6 2-5 1-1M890 1105l3 6 2 6 2 6 0 1M872 1224l1 6 1 3M1364 1219l2-6M760 1134l3 6 1 5M1296 1129l2-6 2-5 1-5M1020 1205l3-5 1-2M1051 1198l3 5 2 2M1312 1186l2 6 0 0M896 1208l2-6 0 0M1006 1203l1 6 1 1M851 1159l2-5 0-2M949 1152l1 6 1 3M748 1131l2-7 2-6 1-2M834 1116l2 6 2 6 1 3M1084 1204l2-7M1181 1198l2 7M1020 1237l2-5 2-5M1150 1228l1 6 1 4M1027 1083l4-5 5-4 6-1 6 2 4 5 3 3M936 1142l2-6 1-5M1012 1131l2 6 3 6M876 1182l2-7M972 1176l2 6 1 0M837 1186l1-7M924 1180l2 7M814 1151l1-6 1-4M868 1142l1 6 1 4M788 1170l3-6 0 0M824 1164l2 6 1 1M1133 1196l1-6 1 0M1211 1190l1 7M815 1201l6-1 5 1M1014 1187l2-6M1088 1182l1 6M739 1103l2-6 2-6 2-6 3-5 4-4 6 1 4 6 2 6 3 5 2 6 1 5M1311 1138l1-6 2-6M753 1156l1 6 0 1M1247 1189l2-5 0-1M1348 1184l2 7M1135 1174l2-6 0-1M1236 1167l3 6 0 1M1082 1198l1-6M1188 1192l2 7M1063 1109l1-6 1-6 2-6 1-7 1-6M1109 1078l1 7 2 7 1 6 2 7 1 6M1256 1184l1-7M1343 1179l1 6M1012 1217l4-5 1-2M1043 1210l3 5 2 3M1218 1210l2-7 0 0M1303 1204l1 6 0 0M926 1188l1-6 0-1M999 1182l2 6M845 1138l2-6 1-6M916 1127l2 6 1 6M1179 1178l3 6 0 0M1017 1214l3-6 1-2M1156 1207l2 6 0 1M992 1129l2-6 2-5 2-6M1090 1113l1 6 2 6 1 4M1228 1181l2-6 1 0M1348 1175l2 6M1157 1156l3-6 1-3M1288 1148l2 6 1 2M1077 1206l3-6 0 0M1262 1200l2 6 0 1M1028 1141l2-5 2-6M1133 1130l3 6 2 6M985 1150l2-6 1-4M1068 1141l2 5 1 4M791 1205l2-6 1-1M932 1199l2 6 1 0M1132 1225l3-5 2-3M1184 1217l4 5 1 3M744 1173l3-6 1-1M886 1167l2 6 0 0M820 1191l3 6 0 1M782 1189l2 6 1 1M899 1200l3-6 0 0M961 1194l3 6 0 0M881 1223l2-6 2-2M946 1215l2 6 2 3M1123 1210l2-6 0-1M1225 1204l2 6 1 1"/>
<path stroke="#00ffff" d="M779 1164l1-6 0-1M872 1158l2 6 0 1M736 1189l2-6M825 1183l2 7M1362 1198l2-6 0-1M1090 1137l3-5 4-5 2-2M1111 1125l4 4 4 6 1 2M1064 1197l2 6 0 1M1107 1140l2-5 2-6M1183 1130l2 6 1 5M1017 1128l3-6 2-6 1-4M1106 1128l1 1M927 1179l2-6 0-1M1044 1173l2 6 1 0M864 1182l1-6M961 1177l2 6M976 1152l1-6 1-3M1054 1144l2 6 1 3M930 1175l2-6 0-1M983 1169l3 6 0 0M1245 1205l2-6 1-1M1340 1199l2 6 0 1M1150 1177l2-6M1261 1171l2 6M1090 1148l2-7 1-3M1191 1139l2 5 1 4M1019 1170l2-6 0-1M1127 1164l2 6 0 1M1052 1218l2-6 0-2M1164 1211l2 6 0 2M758 1131l1 6 2 5M1310 1132l2-6 1-6 1-3M1252 1135l2-6 2-6 0-1M1339 1123l1 6 2 7 0 0M1215 1120l2-6 1-6 2-6 1-3M1282 1100l2 6 2 6 1 6 1 3M858 1105l2-6 3-6 3-5 4-4 6-1 5 4 3 5 3 6 3 5 0 2M736 1218l1-3M869 1215l2 7 1 2M755 1120l3 6 2 6 0 2M1301 1113l3-6 2-6 2-6 2-6 1-2M1024 1198l5-4 3-2M1043 1192l5 3 3 3M1310 1179l2 6 0 1M898 1202l2-6M1004 1196l2 7M853 1152l2-6 1-4M946 1143l2 6 1 3M753 1116l2-6 2-7 2-6 2-6 0-1M824 1091l2 6 3 6 2 5 2 6 1 2M1086 1197l2-6M1180 1192l1 6M1024 1227l2-6 1-3M1147 1219l2 6 1 3M939 1131l2-5 2-7 1-3M1006 1117l2 5 3 6 1 3M878 1175l1-6M970 1169l2 6 0 1M838 1179l1-6M922 1173l2 7M816 1141l2-6 1-5M865 1132l2 6 1 4M791 1164l3-6 0-2M820 1157l3 5 1 2M1135 1190l1-6M1209 1184l2 6M1016 1181l1-6 1-1M1086 1175l1 6 1 1M1314 1126l1-7 2-6 1-5M751 1147l1 6 1 3M1249 1183l2-6 0 0M1347 1178l1 6M1137 1167l2-7 1-1M1234 1160l2 6 0 1M1083 1192l2-6M1185 1186l2 6 1 0M1069 1078l1-6 2-7 1-6 1-6 2-6 1-6 1-6 2-7 1-6 2-6 2-6 3-5 4 4 2 6 2 7 1 6 2 6 1 7 2 6 1 7 2 7 1 7 2 7 1 3M766 1186l1 1M1257 1177l2-5M1341 1172l2 7M1017 1210l4-5 2-2M1037 1203l5 5 1 2M1220 1203l1-7 1 0M1301 1197l1 6 1 1M927 1181l2-6M998 1176l1 6M848 1126l2-6 2-6 1-5M912 1109l2 7 1 6 1 5M1176 1172l3 5 0 1M1021 1206l2-6 0-1M1154 1200l2 6 0 1M998 1112l3-5 2-6 3-6 2-6 2-5M1081 1085l2 6 1 6 2 5 2 6 2 5M1231 1175l2-6 0-1M1346 1168l2 7 0 0M1161 1147l3-6 2-4M1285 1138l2 6 1 4M1080 1200l2-6 0-1M1259 1194l2 6 1 0M1032 1130l1-6 2-6 1-3M1127 1115l2 6 3 6 1 3M988 1140l2-6 2-5M1063 1129l2 6 3 6M794 1198l2-6 1-1M930 1192l2 6 0 1M1137 1217l4-5 2-3M1178 1209l4 5 2 3M748 1166l3-6 0-1M883 1159l2 6 1 2M818 1185l2 6 0 0M780 1183l2 6M902 1194l3-6 0-1M958 1187l3 6 0 1M885 1215l2-6 1-1M942 1208l3 5 1 2M1125 1203l2-6 1 0M1223 1197l2 6 0 1"/>
<path stroke="#00bfff" d="M780 1157l2-6 1-2M869 1149l2 7 1 2M738 1183l2-6M823 1177l1 6 1 0M1364 1191l2-6M1099 1125l6-3 6 2 0 1M941 1195l1-5M1062 1191l2 6M1111 1129l1-7 2-6 1-3M1179 1114l2 6 1 6 1 4M1023 1112l3-6 2-6 2-6 2-6 2-5 1-1M1092 1083l2 6 2 5 0 2M929 1172l2-6 0-1M1042 1166l2 5 0 2M865 1176l2-7M958 1170l2 6 1 1M978 1143l1-6 2-5M1051 1132l2 7 1 5M932 1168l3-6 0-1M980 1161l3 6 0 2M1248 1198l2-6M1338 1193l2 6M1152 1171l2-6 1-2M1259 1164l2 7M1093 1138l2-7 2-5M1186 1126l2 6 2 6 1 1M1021 1163l2-7 0-1M1124 1156l2 6 1 2M1054 1210l2-6 0 0M1162 1204l2 6 0 1M754 1116l2 6 1 7 1 2M1314 1117l2-6 2-7 1-6 2-5M1256 1122l3-6 2-6 2-6 0-1M1333 1103l2 7 2 6 1 6 1 1M1221 1099l1-6 2-6 1-7 2-6 1-6 2-6 1-7 2-6 1-6 2-6 0-1M1265 1037l1 6 2 7 2 6 2 7 1 6 2 7 2 6 2 6 1 6 2 6M737 1215l2-6 1-1M867 1208l2 6 0 1M747 1098l3 6 2 6 2 6 1 4M1317 1072l2-6 3-6 3-6 3-5 3-5 4-5 5-3M1352 1045l3 5 3 6 3 5 2 6 3 6 0 1M1032 1192l1-1M1037 1190l6 2M1307 1173l3 6M900 1196l2-7 0 0M1002 1190l2 6M856 1142l2-5 2-6M944 1132l1 6 1 5M761 1090l2-6 2-5 2-6 2-6 2-6 3-6 2-6 3-6 3-5 3-6 5-3 6 1 4 5 3 5 3 6 2 6 3 5 2 6 3 6 2 6 2 6 2 5 2 5M1088 1191l1-6M1178 1185l2 7M1027 1218l2-6 1-1M1146 1212l1 6 0 1M944 1116l3-6 2-6 2-5 3-6 1-1M993 1092l3 6 3 5 3 6 2 5 2 3M879 1169l2-7 0-1M968 1162l2 6 0 1M839 1173l2-6 0-1M921 1167l1 6 0 0M819 1130l2-6 2-7 0-1M861 1117l2 6 1 6 1 3M794 1156l3-5 3-3M815 1148l4 5 1 4M1136 1184l2-6 0-1M1208 1178l1 6M1018 1174l1-6M1084 1168l2 6 0 1M1318 1108l1-6 2-7 1-7 2-6 2-7 0-2M1364 1075l1 6 1 4M749 1137l1 6 1 4M1251 1177l2-6 0-1M1345 1171l2 7M1140 1159l2-6 0-1M1230 1152l3 6 1 2M1085 1186l1-7M1183 1179l2 6 0 1M764 1179l2 6 0 1M1259 1172l1-6 0-1M1339 1166l2 5 0 1M1023 1203l5-3 6 0 3 3M1222 1196l1-7M1299 1190l2 6 0 1M929 1175l1-6 1-1M996 1169l2 7M853 1109l2-6 2-6 2-6 1-6 2-7 1-3M904 1075l2 7 1 6 2 6 1 7 2 6 0 2M1125 1171l3-5 1-2M1172 1164l3 6 1 2M1023 1199l3-5 0-1M1152 1194l2 6 0 0M1010 1084l2-6 2-5 3-6 2-6 2-6 2-6 2-6 3-6 2-6 2-6 2-7 2-5 2-6 2-6 2-5 2-7 3-5 4 4 2 7 2 6 2 6 2 6 2 6 2 6 2 7 2 6 2 7 2 6 1 6 2 6 2 5 2 6 1 6 2 5M1233 1168l3-6 0-2M1344 1161l2 7 0 0M1166 1137l3-5 3-6 0-1M1281 1125l2 6 2 6 0 1M1082 1193l3-6M1257 1188l2 6M1036 1115l2-6 2-6 1-6 2-6 1-2M1117 1090l2 5 2 6 3 6 2 6 1 2M992 1129l2-6 2-6 2-5M1057 1113l2 5 3 6 1 5M797 1191l2-6M928 1186l2 6M1143 1209l5-4 3-3M1170 1202l5 4 3 3M751 1159l3-6 1-2M881 1152l2 6 0 1M815 1178l2 6 1 1M778 1177l2 6 0 0M905 1187l3-5 0-1M955 1181l3 6 0 0M888 1208l3-6 1-1M938 1201l3 5 1 2M1128 1197l2-6 0-1M1221 1190l1 6 1 1"/>
<path stroke="#0080ff" d="M783 1149l1-6 1-4M866 1140l2 6 1 3M740 1177l1-7 1 0M821 1170l1 6 1 1M1366 1185l0-2M942 1190l2-6M1060 1184l2 7M1115 1113l2-7 2-6 2-6 1-6 1-4M1172 1085l2 6 1 6 2 6 1 7 1 4M1035 1082l2-5 2-6 3-6 2-6 3-6 2-6 3-5 3-6 4-4 6-2 5 3 4 5 3 6 2 5 3 6 2 6 2 6 2 6 3 6 1 4M931 1165l2-6 0-1M1039 1158l2 6 1 2M867 1169l2-6 0-1M956 1162l2 6 0 2M981 1132l1-6 2-6 0-3M1047 1118l2 6 1 6 1 2M935 1161l3-6 1-2M977 1154l3 6 0 1M1250 1192l2-6M1336 1187l2 5 0 1M1155 1163l2-6 0-1M1257 1156l2 7 0 1M1097 1126l3-6 2-6 2-6M1180 1108l2 7 2 6 2 5M1023 1155l2-6 0-2M1121 1148l2 6 1 2M1056 1204l2-7 0 0M1160 1197l1 7 1 0M748 1091l1 6 2 6 1 6 2 6 0 1M1321 1093l2-7 1-6 2-6 2-7 2-6 1-7 2-6 2-6 2-7 1-6 2-6 2-6 2-6 2-6 6-1 3 6 2 6 2 6 1 6 2 7 2 6 1 6 1 3M1263 1103l2-6 2-6 2-5 2-6 2-6 2-6 2-5 2-6 0-1M1320 1056l1 6 2 6 2 6 2 6 1 6 2 7 2 6 1 4M1236 1036l2-6 1-7 2-6 1-6 2-6 2-6 2-6 5 2 2 7 2 6 2 6 2 7 1 7 2 6 1 3M740 1208l2-6 0-1M866 1202l1 6M736 1069l2 6 3 6 2 6 2 6 2 5M1248 1171l2-5M1305 1167l2 6 0 0M902 1189l2-7M1000 1184l2 6M860 1131l2-6 2-6 1-2M940 1118l1 6 2 6 1 2M1089 1185l2-7M1177 1179l1 6M1030 1211l2-6 0-1M1144 1204l2 7 0 1M955 1092l3-6 3-5 4-5 5-3 6 0 5 3 4 4 4 6 3 5 1 1M881 1161l2-6 0-1M966 1155l2 6 0 1M841 1166l1-6 1-1M919 1160l1 6 1 1M823 1116l2-6 2-6 2-6 2-6 0-1M855 1099l2 6 2 6 2 6M800 1148l4-4 6 0 5 4 0 0M1138 1177l1-6M1206 1172l2 6M1019 1168l2-6 0-1M1082 1162l2 6 0 0M1326 1073l2-7 1-7 2-7 1-6 2-7 1-7 2-6 1-6 2-7 2-6 6 0 2 6 2 7 1 6 2 7 1 5 1 7 2 6 1 6 1 6 2 6 1 6M746 1124l1 7 2 6M1253 1170l2-6 1-1M1344 1164l1 6 0 1M1142 1152l2-7 1-2M1226 1143l3 6 1 3M1086 1179l2-6M1181 1174l2 5M762 1173l2 5 0 1M1260 1165l1-6 1-2M1337 1158l2 6 0 2M1223 1189l2-6M1298 1184l1 6M931 1168l1-6 0-1M995 1162l1 7 0 0M863 1075l2-7 2-6 2-6 1-5 2-7 2-6 2-6 3-6 3-5 6 2 3 6 2 6 2 6 2 6 2 7 1 6 2 6 1 6 1 3M1129 1164l3-5 2-2M1166 1157l4 5 2 2M1026 1193l2-6 1 0M1150 1188l2 6M1236 1160l3-6 0-1M1342 1153l1 7 1 1M1172 1125l3-6 3-6 3-6 0-1M1275 1107l2 6 2 6 2 6 0 0M1085 1187l2-6 1-1M1254 1181l2 6 1 1M1044 1089l2-6 1-6 2-6 2-5 2-6 1-6 2-6 2-6 2-6 1-5 2-6 2-6 2-6 1-6 2-7 2-6 2-6 2-7 5 5 2 7 2 6 2 6 2 6 2 6 2 6 2 5 1 6 2 6 3 6 2 6 2 6 2 7 2 5 3 6 2 6 2 6 1 2M998 1112l2-6 2-6 2-6 3-6 2-5M1045 1084l3 6 2 6 3 6 2 6 2 5M799 1185l3-5 0-1M926 1179l2 7M1151 1202l6-2 6 0 6 2 1 0M755 1151l3-6 2-4M878 1142l2 6 1 4M812 1172l3 6 0 0M775 1170l2 6 1 1M908 1181l3-5 1-2M952 1175l3 6 0 0M892 1201l3-5 1-2M934 1195l3 5 1 1M1130 1190l2-6 0-1M1218 1184l2 6 1 0"/>
<path stroke="#0040ff" d="M785 1139l2-6 1-6M862 1127l2 6 2 6 0 1M742 1170l1-6 1-1M818 1163l2 6 1 1M944 1184l3-6 0-1M1059 1178l1 6M1123 1084l2-6 2-6 1-6 2-7 2-6 2-6 1-6 2-6 2-6 3-6 2-6 5-3 4 5 2 6 2 6 2 6 2 6 2 7 2 6 1 6 2 6 1 6 2 6 1 5M933 1158l2-6 1-2M1036 1150l2 6 1 2M869 1162l2-6 0-2M954 1155l2 6 0 1M984 1117l2-6 1-5M990 1096l0-1M1040 1095l2 6 2 6 2 6 1 5M939 1153l2-5 2-3M972 1145l3 5 2 4M1252 1186l2-7M1334 1180l2 6 0 1M1157 1156l3-6 0-2M1255 1148l2 7 0 1M1104 1108l2-6 2-6 2-5 2-6 3-6 2-6M1167 1074l2 6 3 5 2 6 2 6 2 6 2 5M1025 1147l2-6 1-3M1118 1138l1 6 2 4M1058 1197l2-7M1158 1191l2 6M736 1043l2 6 1 6 2 6 1 7 2 6 1 6 2 6 1 5M1279 1056l2-6 3-6 2-6 2-6 2-6 3-6 3-5 6-2 4 5 2 5 3 7 2 6 2 6 2 6 2 6 1 2M742 1201l2-6 1-1M864 1195l2 7M1250 1166l2-6 0-2M1302 1159l2 6 1 2M904 1182l2-5M999 1177l1 7M865 1117l2-6 2-7 2-6 1-5M934 1094l1 6 2 6 1 6 2 6M1091 1178l2-6M1175 1172l2 6 0 1M1032 1204l3-7 0 0M1142 1198l2 6M883 1154l1-7 1-2M963 1146l2 6 1 3M843 1159l1-6 0-2M917 1151l1 6 1 3M831 1091l3-6 3-5 5-4 1 0M1139 1171l2-6 0-1M1205 1165l1 6 0 1M1021 1161l1-6 1-2M1080 1154l2 6 0 2M742 1106l1 6 2 6 1 6M1256 1163l2-6 0-1M1342 1156l1 7 1 1M1145 1143l2-6 2-6M1222 1132l2 6 2 5M1088 1173l1-7 1-1M1179 1166l2 6 0 2M760 1166l2 6 0 1M1262 1157l1-6 1-2M1335 1150l2 6 0 2M1225 1183l1-6M1296 1178l1 5 1 1M932 1161l2-6 0-1M993 1154l1 7 1 1M1134 1157l4-5 4-3M1158 1149l5 4 3 4M1029 1187l2-6 0-1M1147 1181l2 6 1 1M1239 1153l3-6 1-3M1339 1144l2 7 1 2M1181 1106l3-5 2-6 3-5 3-6 2-5 3-6 2-5M1262 1069l2 6 2 5 2 6 2 6 2 6 2 6 1 3M1088 1180l2-5 0-1M1251 1175l3 6 0 0M1009 1083l2-5 3-6 3-5 4-5 1 0M1030 1061l4 4 4 5 3 6 3 5 1 3M802 1179l2-6 1 0M924 1173l2 6M760 1141l2-5 3-6 0 0M874 1131l2 6 2 5M809 1165l2 6 1 1M772 1163l3 6 0 1M912 1174l3-5 1-1M947 1168l4 6 1 1M896 1194l4-5 1-1M929 1188l4 5 1 2M1132 1183l2-5M1216 1178l2 6"/>
<path stroke="#0000ff" d="M788 1127l2-6 1-6 1-5M858 1111l1 6 2 6 1 4M744 1163l1-6 1-2M816 1156l2 6 0 1M947 1177l2-6 0 0M1057 1172l2 6M936 1150l1-7 1-3M1033 1141l2 6 1 3M871 1154l1-6 1-2M951 1146l2 6 1 3M990 1095l2-7 2-7 2-6 1-6 2-6 2-6 2-6 2-6 2-6 3-5 4-5 6 4 2 6 3 5 2 7 2 6 2 6 2 6 1 5 2 6 2 7 2 6 0 2M943 1145l3-5 4-5 1-1M964 1134l5 5 3 5 0 1M1254 1179l2-6M1332 1173l2 6 0 1M1160 1148l2-6 2-5M1252 1138l2 7 1 3M1117 1073l3-6 2-5 3-6 3-5 3-6 4-5 5-3 6 1 2 1M1152 1044l4 5 2 6 3 5 3 6 2 6 1 2M1028 1138l2-7 2-7M1113 1126l2 5 2 6 1 1M1060 1190l2-6M1156 1185l2 6M745 1194l2-6M862 1189l2 6M1252 1158l3-6 1-1M1299 1151l2 6 1 2M906 1177l2-6 0-2M997 1171l2 6M872 1093l2-6 2-6 1-5 2-6 2-6 2-6 1-7 2-6 2-6 2-6 1-6 2-6 2-7 2-6 1-6 2-6 2-6 6 4 1 6 2 7 2 6 2 7 1 5 2 6 1 6 2 6 1 6 2 6 1 6 2 6 1 6 2 6 2 6 1 6 1 3M1093 1172l1-6 1-1M1174 1165l1 6 0 1M1035 1197l2-6M1141 1192l1 6M885 1145l1-6 1-4M960 1135l2 6 1 5M844 1151l2-6 0-3M914 1143l2 6 1 2M1141 1164l2-6 0-2M1203 1157l1 6 1 2M1023 1153l1-6 1-3M1078 1145l1 6 1 3M736 1077l1 6 2 6 1 6 1 7 1 4M1258 1156l2-6 1-2M1340 1148l2 7 0 1M1149 1131l2-5 2-7 1-2M1215 1118l3 5 3 6 1 3M1090 1165l1-6M1177 1159l2 6 0 1M757 1158l2 6 1 2M1264 1149l1-6 1-4M1333 1140l1 7 1 3M1226 1177l2-6M1294 1172l2 6M934 1154l2-6 1-4M990 1146l2 6 1 2M1142 1149l5-3 7 0 4 3M1031 1180l3-6M1146 1175l1 6M1243 1144l2-6 2-5M1336 1134l2 7 1 3M1199 1068l3-6 3-5 2-6 3-6 2-5 3-6 3-5 3-6 3-5 4-5 6-2 4 4 4 5 3 6 2 5 3 6 2 6 2 6 3 6 2 6 2 6 1 2M1090 1174l3-6 0 0M1249 1168l2 6 0 1M805 1173l2-6 1-1M922 1166l2 6 0 1M765 1130l3-6 3-5 1-4M869 1115l2 6 2 6 1 4M806 1158l2 6 1 1M769 1155l2 6 1 2M916 1168l4-5 3-2M941 1161l4 4 2 3M901 1188l4-4 3-2M922 1182l4 4 3 2M1134 1178l2-6 0-2M1214 1172l2 6"/>
<path stroke="#4000ff" d="M792 1110l2-6 1-6 2-6 1-6 2-7 0 0M849 1080l2 6 1 6 2 7 2 6 2 6M746 1155l2-6 0-3M814 1147l1 6 1 3M949 1171l2-7 1 0M1055 1165l2 6 0 1M938 1140l2-6 1-5M1028 1129l3 7 2 5M873 1146l2-6 1-4M949 1136l1 6 1 4M951 1134l6-2 6 1 1 1M1256 1173l2-7M1330 1167l2 6 0 0M1164 1137l2-5 2-6 0-1M1249 1126l2 6 1 6M1032 1124l1-6 2-7 1-4M1107 1107l2 6 2 6 2 6 0 1M1062 1184l1-6M1154 1178l2 7M747 1188l2-6M860 1182l2 7M1256 1151l2-6 2-4M1295 1141l2 6 2 4M908 1169l2-5 0-1M995 1163l2 7 0 1M1095 1165l1-6 0-2M1172 1158l2 6 0 1M1037 1191l2-6 0-1M1139 1185l2 7M887 1135l2-7 1-6 0-1M956 1122l1 6 2 6 1 1M846 1142l2-6 1-5M912 1131l1 6 1 6M1143 1156l2-6 0-2M1201 1149l1 6 1 2M1025 1144l1-6 2-5M1075 1134l2 6 1 5M1261 1148l2-7 1-3M1338 1139l1 6 1 3M1154 1117l2-6 2-5 2-6 3-6 0-1M1203 1094l4 6 2 5 3 6 3 5 0 2M1091 1159l2-7 0-2M1174 1151l2 6 1 2M755 1150l2 6 0 2M1266 1139l1-6 1-6M1330 1129l1 6 2 5M1228 1171l1-6 1-1M1292 1165l2 6 0 1M937 1144l1-6 1-4M988 1135l1 6 1 5M1034 1174l2-6 0 0M1143 1168l2 6 1 1M1247 1133l2-6 2-6 1-2M1331 1120l2 6 2 7 1 1M1093 1168l2-6 1-2M1246 1161l2 6 1 1M808 1166l2-6 1-2M920 1159l2 6 0 1M772 1115l3-6 3-6 2-6 3-6 1-3M861 1089l2 7 2 6 2 6 2 6 0 1M802 1150l2 5 2 3M765 1147l3 6 1 2M923 1161l3-2M939 1159l2 2M908 1182l6-2 6 1 2 1M1136 1170l2-5 0-1M1212 1165l2 6 0 1"/>
<path stroke="#8000ff" d="M800 1079l2-7 1-6 2-6 1-6 2-6 1-6 2-6 1-6 2-7 2-6 2-6 2-6 4-4 4 5 2 6 2 6 2 6 1 6 2 6 2 7 2 6 1 7 2 6 2 7 2 6 1 5M748 1146l2-6 1-3M811 1137l2 7 1 3M952 1164l2-6 0-1M1053 1157l2 7 0 1M941 1129l2-7 2-6 1-4M1023 1113l2 6 2 6 1 4M876 1136l1-6 2-6 0-2M945 1123l1 6 2 6 1 1M1258 1166l1-6 1-1M1328 1160l2 5 0 2M1168 1125l2-6 2-6 2-5M1245 1108l1 6 2 6 1 6M1036 1107l2-6 2-7 1-7 2-6 2-7 1-5M1095 1070l2 7 2 6 2 6 2 6 2 6 2 6M1063 1178l2-7M1152 1172l1 5 1 1M749 1182l2-6 0-1M858 1176l2 6M1260 1141l3-5 3-6 0 0M1288 1130l4 5 2 6 1 0M910 1163l2-6 0-2M993 1156l2 6 0 1M1096 1157l2-6 0-2M1170 1150l2 6 0 2M1039 1184l2-6 0 0M1138 1179l1 6M890 1121l2-7 2-6 1-7M950 1102l1 6 2 6 2 6 1 2M849 1131l1-6 1-7 1-3M908 1116l2 7 1 6 1 2M1145 1148l2-6 1-4M1198 1139l2 6 1 4M1028 1133l1-6 2-6 1-2M1071 1120l2 7 2 6 0 1M1264 1138l2-7 1-6M1335 1125l1 7 2 7M1163 1093l3-5 3-5 4-5 4-4 6-2 6 3 4 4 4 5 3 5 3 5M1093 1150l2-6 0-3M1171 1142l2 6 1 3M752 1141l2 6 1 3M1268 1127l2-6 1-6 1-4M1326 1112l2 7 1 6 1 4M1230 1164l1-6 0-2M1291 1157l1 6 0 2M939 1134l2-6 2-7 0 0M984 1121l2 7 1 6 1 1M1036 1168l3-6 0-2M1141 1161l2 6 0 1M1252 1119l2-6 2-6 3-6 1-4M1324 1098l2 6 2 7 2 6 1 3M1096 1160l2-6 1-2M1242 1153l3 6 1 2M811 1158l2-6 1-2M918 1151l2 7 0 1M784 1088l3-5 2-6 2-5 3-6 2-6 3-6 2-6 2-6 3-6 2-6 3-6 2-5 2-6 3-5 3-6 5-3 4 4 3 6 3 6 2 5 2 6 2 6 2 6 2 6 2 6 2 6 2 6 2 6 2 6 2 6 2 6 1 3M797 1140l3 6 2 4M760 1137l3 5 2 5M1138 1164l2-6 1-2M1209 1157l2 6 1 2"/>
<path stroke="#bf00ff" d="M751 1137l2-6 2-6 0-1M806 1124l2 6 2 7 1 0M954 1157l2-6 1-3M1051 1149l2 6 0 2M946 1112l2-6 2-6 1-6 2-6 1-4M1013 1085l2 6 2 6 2 7 2 6 2 3M879 1122l2-6 1-6 2-6 0-1M939 1104l2 6 2 6 1 6 1 1M1260 1159l2-7 0-1M1326 1152l1 5 1 3M1174 1108l1-6 2-7 2-6 2-6 2-6 2-5M1235 1072l2 6 1 6 2 6 1 6 2 6 1 5 1 1M1046 1069l2-6 2-7 1-6 2-6 2-7 2-6 1-6 2-6 2-6 3-6 2-5 6 2 3 6 2 6 2 5 2 7 2 6 2 6 2 6 2 7 2 6 2 6 1 5M1065 1171l2-6 0-1M1150 1165l1 6 1 1M751 1175l2-6 1 0M857 1169l1 7M1266 1130l4-5 5-3 7 1 4 4 2 3M912 1155l2-6 1-2M991 1148l2 6 0 2M1098 1149l2-6 1-3M1168 1140l2 6 0 4M1041 1178l2-6M1136 1172l2 7M895 1101l2-6 1-7 2-6 1-7 2-6 1-6 2-6 1-6 1-3M934 1048l2 6 2 6 2 6 1 6 2 7 2 6 2 6 1 6 2 5M852 1115l1-6 2-6 1-7 1-6M902 1091l2 7 1 6 2 7 1 5M1148 1138l2-7 1-5M1195 1127l1 6 2 5 0 1M1032 1119l1-6 2-6 2-6 1-3M1065 1099l2 6 2 6 1 6 1 3M1267 1125l2-5 2-6 2-6 0-1M1331 1108l1 6 2 7 1 4M1095 1141l2-7 1-4M1168 1130l1 6 2 6M748 1129l2 5 2 7M1272 1111l1-7 1-6 2-6 1-6 1-5M1319 1082l1 7 2 6 2 7 1 7 1 3M1231 1156l2-6 0-2M1288 1149l2 6 1 2M943 1121l2-7 2-6 2-6 0-2M978 1101l2 6 2 6 2 7 0 1M1039 1160l2-6 1-2M1138 1153l2 6 1 2M1260 1097l2-6 2-6 2-6 3-6 2-6 2-6 2-6 3-6 2-6 3-5 3-6 3-5 6-1 5 4 3 5 0 2M1308 1047l2 6 2 6 2 6 2 6 2 6 2 6 2 6 2 7 0 2M1099 1152l3-5 1-3M1239 1144l2 6 1 3M814 1150l2-6 1-3M915 1142l1 6 2 3M792 1128l2 6 3 5 0 1M751 1124l4 5 4 5 1 3M1141 1156l2-6 1-2M1206 1149l2 6 1 2"/>
<path stroke="#ff00ff" d="M755 1124l2-7 2-6 2-6 2-6 3-6 2-5 3-6 3-5 4-4 6 1 4 5 4 5 2 6 3 6 2 5 2 7 2 5 2 6 1 5M957 1148l2-5 2-6 2-6 2-6 2-6 2-7 2-6 2-6 2-6 2-7 1-6 2-6 2-5 2-6 1-6 2-6 2-6 2-6 1-7 2-6 2-6 2-6 1-6 2-6 2-6 3-5 5 4 1 6 2 6 2 6 2 6 2 7 1 6 2 6 1 6 2 5 1 6 2 6 1 6 2 6 1 6 2 6 1 6 2 6 1 6 2 6 1 6 2 6 2 6 1 6 2 6 1 6 1 3M954 1084l2-5 2-6 1-6 2-7 2-6 2-6 1-2M969 1038l2-6 2-5 3-6 4-4 6 2 4 5 2 6 3 6 2 6 2 5 3 6 2 6 2 7 2 6 2 6 2 6 1 1M884 1103l2-6 1-6 2-7 2-6 2-7 1-6 2-6 2-6 2-6 2-6 2-6 4-5 5-1 4 5 3 5 2 6 2 6 2 6 2 6 1 6 2 6 2 6 2 6 1 7 2 6 1 4M1262 1151l2-6 2-6 2-6 2-6 2-6 3-6 2-6 2-6 3-5 3-6 4-5 5-2 6 2 3 5 3 6 3 5 2 6 3 6 2 6 2 6 2 6 2 6 2 6 2 7M1185 1072l2-6 1-6 2-6 2-5 2-6 1-6 2-6 2-6 2-7 2-6 2-6 3-6 6-1 2 6 2 6 2 6 2 6 2 6 1 7 2 6 2 6 2 7 1 7 2 6 1 4M1067 1164l2-6 1-7 2-6 2-7 2-6 1-6 2-7 2-6 2-6 1-6 2-6 2-6 2-7 2-6 2-6 2-5 3-6 3-6 5-3 5 4 4 5 2 6 3 6 2 6 2 6 2 6 2 6 2 7 2 5 1 6 2 6 2 6 2 6 1 6 2 6 2 6 2 6 1 6 2 4M754 1169l1-6 2-6 2-6 2-6 2-6 2-6 2-7 2-6 2-7 2-5 2-6 1-6 2-6 2-6 2-6 1-6 2-7 2-6 2-6 1-7 2-6 2-7 2-6 1-7 2-6 2-6 1-6 2-6 1-6 2-6 1-6 2 6 2 6 1 6 2 7 1 6 2 6 2 6 1 6 2 7 1 6 2 6 1 6 2 6 1 7 2 6 1 6 2 6 1 6 2 6 1 7 2 6 2 6 1 6 2 6 1 6 2 6 1 6 2 6 1 6 2 6 1 6 1 1M915 1147l1-6 2-6 2-6 2-7 1-6 2-6 2-6 2-6 1-6 2-6 2-5 2-7 2-6 2-6 2-6 2-6 3-5 4-5 6 0 3 5 3 6 2 6 2 5 2 6 2 6 2 6 1 6 2 7 2 6 2 7 1 6 2 7 2 6 1 6 2 6 2 6 1 5M1101 1140l1-6 2-7 1-6 2-7 2-6 1-7 2-6 1-7 2-7 1-6 2-7 1-7 2-7 1-7 2-6 1-7 2-6 1-7 2-6 2-5 2-6 5 4 2 6 1 6 2 6 2 7 1 6 1 6 1 6 2 6 1 6 1 7 2 6 1 6 1 6 2 7 1 6 1 6 2 7 1 6 1 6 1 6 2 6 0 2M1043 1172l2-6 2-6 2-6 2-7 2-6 2-6 2-6 2-6 1-6 2-6 2-6 2-6 1-6 2-6 2-6 2-6 1-6 2-6 2-6 2-6 2-7 2-6 2-6 2-6 3-5 6 2 3 6 2 6 2 6 2 6 2 6 1 6 2 6 1 6 2 7 2 6 1 6 2 7 1 6 2 7 1 6 2 7 1 6 2 7 1 7 2 6 1 7 2 6 1 7 1 3M908 1048l2-6 2-6 2-6 0-1M922 1019l4 5 2 6 2 6 2 6 2 6M857 1090l1-6 2-6 1-7 1-6 2-6 1-6 1-6 2-6 1-6 2-7 1-6 2-6 2-6 3-6 4 5 2 6 1 7 2 6 1 6 2 7 1 7 2 6 1 7 2 7 2 7 1 7 2 6 0 3M1151 1126l2-7 2-6 1-6 2-6 2-6 3-6 2-6 3-5 6-3 5 4 3 6 2 5 2 7 2 6 2 5 2 7 1 6 2 6M1038 1098l2-6 2-6 3-5 5-4 5 2 4 5 3 6 2 6 1 3M1273 1107l2-6 1-6 2-6 2-6 2-6 1-7 2-6 2-6 2-6 1-5 2-6 2-6 2-6 3-6 6-2 3 5 3 6 2 5 1 6 2 6 2 7 1 6 2 6 1 6 2 6 2 6 1 7 2 6 1 7 1 2M1098 1130l1-7 2-7 1-6 2-7 1-6 2-7 2-6 1-7 2-6 1-6 2-6 1-6 2-6 2-7 2-6 2-6 2-6 6-2 3 5 3 5 2 6 2 6 2 7 2 6 1 6 2 6 2 6 2 6 1 6 2 7 2 6 2 6 1 6 2 6 2 6 2 6 1 2M736 1087l2 6 2 6 1 6 2 6 2 6 1 6 2 6M1278 1081l1-6 1-6 2-6 1-7 1-6 2-6 1-6 2-7 1-6 2-6 1-6 3-6 5 2 2 6 2 6 1 7 2 6 2 6 1 7 2 7 1 7 2 6 1 7 2 7 0 1M1233 1148l2-6 1-6 2-6 2-6 2-7 1-6 2-6 2-6 2-6 3-6 2-6 5-4 5 1 4 6 3 5 2 6 2 6 2 6 1 6 2 6 2 6 2 6 2 7 1 6 1 5M949 1100l2-6 2-5 3-6 3-5 6-3 4 5 3 5 3 6 2 6 1 4M1042 1152l2-6 3-5 2-6 2-6 2-6 2-6 3-6 2-6 2-6 2-6 2-6 2-6 3-5 2-6 3-6 2-6 3-6 3-5 4-5 6-2 5 4 3 5 3 5 3 6 2 6 2 6 2 6 3 6 2 6 2 6 2 6 1 6 2 6 2 7 2 6 2 6 2 6 2 7 2 6 0 1M1103 1144l2-6 3-5 2-6 3-6 3-6 2-5 3-6 3-6 2-5 3-6 3-5 3-6 3-5 4-5 3-6 4-5 3-5 5-4 4-4 6-2 6-1 6 2 5 4 4 4 4 5 4 5 3 5 4 6 3 5 3 5 3 6 2 5 3 6 3 6 3 5 2 6 3 6 3 5 2 6 3 6 2 5 1 2M817 1141l1-1M822 1129l2-6 2-6 3-6 2-6 2-6 2-6 2-6 2-6 3-6 2-6 2-7 2-6 2-6 3-6 2-5 2-6 3-6 3-6 4-4 5 1 4 5 3 6 2 6 2 5 2 7 2 6 2 6 2 6 2 6 2 7 2 6 2 6 2 6 1 5 2 6 2 6 2 6 1 6 2 5 2 6 2 6M736 1039l5 4 4 4 3 5 4 5 3 5 4 6 3 5 3 5 3 6 3 5 3 6 3 5 3 5 3 6 3 6 2 5 3 6 1 0M736 1122l5-2 6 1 4 3M1144 1148l2-6 2-6 3-5 2-6 2-6 3-6 3-5 3-5 4-5 6-3 5 2 1 1M1189 1109l3 5 2 6 3 5 2 6 3 6 2 6 2 6"/>
<path stroke="#000" d="M829 1278l3-5 3-5 3-6 4-5 4-4 5-4 6-3 6 0 6 3 4 3 5 5 4 5 3 5 3 5 4 5M958 1290l0-1M965 1282l5-3 6-2 6 0 6 2 5 4 0 0M977 1288l3-2M984 1284l6-1 6 2 4 1M736 1022l2 7 2 6 1 7 2 6 2 7 1 6 2 7 2 6 2 6 2 7 1 6 2 6 2 6 1 6 2 6 2 6 2 6 2 6 1 6 2 6 2 7 2 6 2 6 2 6 2 6 2 6 2 6 2 5 2 6 3 7 2 6 2 6 2 6 2 6 2 5 3 6 2 6 2 6 2 6 3 6 2 6M1080 1288l5-3 6-2 6 0 6 2 2 1M1279 1266l2-6 2-6 2-6 1-5 2-7 2-6 2-6 1-6 2-6 2-7 2-6 1-7 2-6 2-7 1-5 2-6 1-6 2-6 2-6 1-6 2-6 1-6 2-6 1-6 2-7 1-6 2-6 1-6 2-6 1-7 2-6 1-6 2-6 1-7 2-6 2-6 1-6 2-6 1-7 2-6 1-6 2-6 2-6 2-6 6 0 2 6 2 6 1 7 2 6 2 7 0 0M1335 1280l5-4 5-2 6 0 5 3 3 3M1283 1280l5-4 5-3 7 1 5 3 4 4 2 3M931 1272l3-6 3-5 4-5 4-5 4-4 6-2 6 1 5 4 4 5 3 5 3 5 3 6 1 1M736 1248l2 6 1 6 2 6 1 6 2 6 1 3M864 1280l5-4 5-3 7 1 5 3 3 3M1070 1285l4-5 5-4 4-2M1086 1273l6 1 5 4 2 2M1032 1279l2-6 3-5 3-5 3-6 4-5 4-4 5-3M1059 1244l6 2 5 4 4 5 3 5 4 5 2 6 3 5 2 5M1186 1283l4-5 3-5 5-4 4-4 5-4 6-1 6 0 6 2 6 3 4 4 4 4 4 5 4 5M1092 1287l3-5 3-5 4-6 3-5 4-4 4-5 4-4 5-4 6-2 6-1 6 2 1 0M1148 1253l4 4 4 5 4 5 4 5 3 5 3 6 2 4"/>
<path class="sp" stroke="#ff0000" d="M828 1236h0m2-9h0m2-5h0m154 5h0m7 17h0m10 29h0m-246-29h0m1-6h0m136-13h0m3 6h0m7 21h0m3 6h0m0 1h0m6 14h0m281 4h0m3 0h0m-451-51h0m3 7h0m2 4h0m0 1h0m15 40h0m3 8h0m273-13h0m3-8h0m3-11h0m1-3h0m9-27h0m96 5h0m4 9h0m2 6h0m1 4h0m131 30h0m1-3h0m9-21h0m-538 18h0m1 0h0m1-1h0m2 0h0m2-1h0m5-1h0m0 0h0m4 1h0m5 3h0m1 1h0m1 0h0m281-12h0m0-1h0m14-39h0m137 34h0m-239-23h0m156-10h0m15 47h0m-80-28h0m-232 30h0m7-24h0m141 4h0m-205 32h0m2-6h0m4-9h0m4-10h0m8-21h0m0-2h0m3-8h0m88-2h0m11 31h0m2 6h0m5 17h0m290-45h0m73-13h0m3 6h0m0 1h0m9 21h0m3 8h0m-533 6h0m1-1h0m1-1h0m3-1h0m5-1h0m2 0h0m10 4h0m2 2h0m2 1h0m5 6h0m1 1h0m1 2h0m1 0h0m155-5h0m5-18h0m2-7h0m1-2h0m131-15h0m12 32h0m4 11h0m-340-34h0m1 2h0m2 6h0m130 37h0m0 0h0m2-4h0m4-10h0m115-18h0m3 9h0m1 1h0m292-15h0m7-19h0m-193 26h0m1-4h0m6-14h0m158 22h0m-229-13h0m3-10h0m166 12h0m1 3h0m4 11h0m3 8h0m0 1h0m-237-19h0m163 2h0m9 22h0m-419 4h0m10-30h0m1-3h0m4-13h0m83-10h0m3 9h0m135 48h0m6-15h0m5-11h0m5-15h0m4-10h0m82 6h0m9 26h0m2 5h0m-312-25h0m472 37h0m1-1h0m5-12h0m7-20h0m8-21h0m-536 19h0m2 6h0m4 13h0m2 5h0m2 7h0m371-42h0m153-8h0m4 11h0m0 0h0m1 4h0m6 15h0m2 5h0m3 10h0m-115-14h0m4-12h0m3-10h0m0-2h0m1-2h0m148 30h0m3 5h0m-465 3h0m2-4h0m10-28h0m77-2h0m9 23h0m129 18h0m3-8h0m16-43h0m85 0h0m3 10h0m7 21h0m-399-16h0m4-14h0m109 3h0m150 44h0m1-1h0m0-1h0m2-3h0m9-16h0m1-3h0m4-6h0m14-15h0m16 0h0m1 1h0m19 25h0m4 9h0m8 18h0m-366-55h0m4 12h0m13 38h0m1 3h0m449-32h0m0-1h0m1-1h0m0-1h0m1-3h0m-49 37h0m8-21h0m2-6h0m112 3h0m3 10h0m4 12h0m-530-6h0m0 0h0m0-1h0m2-5h0m1 0h0m2-5h0m7-20h0m1-1h0m145-11h0m2 5h0m13 44h0m-107-41h0m1 2h0m9 26h0m0 1h0m6 15h0m447-21h0m2-7h0m0-1h0m-381-7h0m3-10h0m143 2h0m6 20h0m199 36h0m10-5h0m12 5h0m-426-50h0m3-11h0m1-3h0m141 7h0m11 30h0m-74-37h0m7 17h0m6 15h0m3 9h0m252-14h0m4-4h0m14-1h0m11 12h0m5 10h0m-470-16h0m133 27h0m-172-2h0m6-26h0m6-21h0m95-7h0m272 37h0m9-34h0m75 1h0m-485 33h0m3-10h0m5-16h0m78 0h0m4 14h0m1 3h0m1 2h0m2 7h0m1 5h0m1 4h0m4 12h0m-75-19h0m-44 2h0m11-37h0m0-2h0m83 31h0m132 10h0m1-3h0m1-2h0m84-38h0m1 3h0m10 36h0m1 3h0m1 4h0m256 1h0m0-1h0m8-26h0m3-13h0m2-5h0m-529 19h0m2 7h0m138 20h0m9-25h0m9-22h0m56 38h0m1 5h0m4 10h0m1 4h0m-257-56h0m154 50h0m21 8h0m217-21h0m12-33h0m144 8h0m4 14h0m-426 35h0m8-3h0m370-18h0m3 8h0m-452 3h0m43-18h0m164-8h0m1-7h0m116-12h0m6 20h0m-302 6h0m4 12h0m3 8h0m421-33h0m1-6h0m-45 26h0m121-34h0m5 17h0m-418 39h0m1-3h0m8-28h0m2-7h0m7-23h0m78 16h0m2 7h0m1 4h0m134 13h0m1-3h0m1-2h0m6-22h0m2-5h0m85 26h0m-370 14h0m2-5h0m2-6h0m246 17h0m4-11h0m5-12h0m71 16h0m-381 6h0m6-17h0m0-1h0m5-16h0m1-1h0m2-6h0m4-13h0m112 14h0m155 45h0m3-8h0m9-16h0m1-1h0m6-8h0m2-1h0m4-3h0m2-1h0m6 1h0m5 3h0m3 2h0m3 5h0m-381 11h0m10-25h0m1-3h0m1-2h0m4-11h0m125-1h0m4 16h0m4 19h0m1 1h0m178 18h0m0 0h0m22 0h0m1 1h0m-407-20h0m1-3h0m156-12h0m220 41h0m3 2h0m196-28h0m2-6h0m5-18h0m1-2h0m1-5h0m-494 0h0m16 40h0m3 7h0m3 7h0m1 1h0m-72-60h0m6 13h0m2 4h0m6 13h0m359-1h0m7-13h0m13-14h0m1-1h0m25 0h0m4 3h0m1 1h0m0 0h0m4 5h0m1 1h0m7 11h0m1 1h0m7 12h0m2 4h0m-493 7h0m338 15h0m1-2h0m5-15h0m10-23h0m-171 25h0m1-1h0m0-1h0m6-12h0m6-10h0m0-1h0m6-12h0m4-6h0m185 10h0m178 42h0m2-3h0m3-4h0m1-3h0m13-19h0m0 0h0m7-7h0m3-3h0m4-3h0m3-1h0m-155 30h0m-81-10h0m1-1h0m4-10h0m5-9h0m198-9h0m1 3h0m15 41h0m2 6h0m1 2h0m-519 8h0m6-1h0m4 1h0m-88-12h0m4-7h0m18-29h0m4-3h0m5-4h0m10-3h0m9 3h0m0 0h0m7 5h0m1 1h0m5 6h0m13 18h0m2 3h0m176-9h0m0-1h0m4-12h0m3-8h0m1-3h0m179-8h0m1 1h0m2 5h0m14 26h0m3 5h0m4 8h0m7 15h0m-424-59h0m7 16h0m8 18h0m146 4h0m9-24h0m5-14h0m147 15h0m4 8h0m4 8h0m4 10h0m2 4h0m-278-3h0m8-18h0m5-11h0m134 12h0m150-3h0m5-13h0m2-5h0m126 16h0m-518 31h0m154-40h0m3 10h0m-61 18h0m3 7h0m266-4h0m3-5h0m30-30h0m1 0h0m35 37h0m151 3h0m5-14h0m-605-22h0m3 8h0m0 1h0m9 21h0m3 6h0m305 0h0m2-5h0m2-6h0m1-2h0m2-4h0m1-3h0m2-6h0m7-19h0m81-1h0m142 59h0m1-3h0m1-3h0m7-17h0m0-2h0m2-4h0m-3-9h0"/>
<path class="sp" stroke="#ff4000" d="M913 1275h0m-167-49h0m546 53h0m-534-2h0m15-8h0m443-19h0m-303-24h0m-66 14h0m131-12h0m-82 16h0m-152 29h0m15-12h0m5-1h0m11 4h0m306-36h0m-176 17h0m114 27h0m97-6h0m161-37h0m13 41h0m-531-20h0m101 4h0m134 5h0m10-24h0m84-1h0m-302 1h0m0 2h0m-44-3h0m442 4h0m147 8h0m-455 12h0m2-7h0m222 22h0m35-37h0m2 2h0m8 14h0m0 0h0m-156 22h0m351-2h0m3 8h0m-532-16h0m168-3h0m-241 5h0m2-4h0m211 1h0m-40-37h0m97 46h0m250-22h0m6-5h0m-444 10h0m388-3h0m-425 18h0m6-20h0m3-14h0m376-1h0m-403 9h0m0-2h0m1-1h0m88 20h0m258 11h0m-367-23h0m223 15h0m89-25h0m3 10h0m-118 34h0m342-48h0m-344 44h0m230-43h0m147 1h0m1 4h0m-415 42h0m368-25h0m4 10h0m-436-18h0m3-3h0m441-15h0m-492 20h0m567-18h0m8 23h0m-627 4h0m1 4h0m459 15h0m-253 1h0m10-37h0m5-18h0m224 13h0m3-11h0m-23 16h0m4-9h0m53 7h0m-237 11h0m154 21h0m6 2h0m-248-41h0m-40 49h0m310-47h0m8-8h0m-436 42h0m337 12h0m265-54h0m3-7h0m-410 23h0m184-11h0m197-8h0m-565 26h0m250-22h0m194 25h0m-394 4h0m304-27h0m12 26h0m-269 0h0m425-16h0m-511 22h0m5-10h0m186 2h0m-100 10h0m7 18h0m271-34h0m19-18h0m3 0h0m2 0h0m34 35h0m-440-11h0m327-22h0m3-7h0m243 1h0m-449 37h0"/>
<path class="sp" stroke="#ff8000" d="M987 1229h0m-226-1h0m136 6h0m305 45h0m-70-11h0m213-14h0m-579 22h0m545-42h0m0-1h0m-397 29h0m-157 16h0m459-29h0m-72 0h0m-300 0h0m435 14h0m-497 20h0m20-53h0m90-1h0m11 36h0m-167 20h0m26-25h0m22 13h0m160-8h0m149-3h0m-76 5h0m284-5h0m14-38h0m-194 27h0m4-8h0m-70 7h0m-53-18h0m154 9h0m-407 38h0m239-4h0m219-21h0m-81-24h0m156 6h0m6 15h0m-104-14h0m38 39h0m-100-52h0m0 0h0m-132 49h0m3-10h0m5-13h0m225-8h0m-352 38h0m357-5h0m-248-12h0m87-3h0m129 1h0m-434-5h0m343-27h0m-248 31h0m439 17h0m-97 2h0m-413-20h0m1-4h0m110-3h0m266 2h0m90-3h0m-493 8h0m461-28h0m4 14h0m-374 1h0m154-22h0m-26 4h0m74-2h0m-246 24h0m463 28h0m7-20h0m6-18h0m77-7h0m-438 43h0m18 3h0m232-48h0m152 30h0m-64-33h0m-114-3h0m-288 50h0m89 1h0m71-21h0m211 6h0m-360-38h0m269 54h0m4-9h0m2-3h0m-2 9h0m-394-30h0m5-12h0m354 52h0m-256-13h0m-54-21h0m356 11h0m2-3h0m5-10h0m7-10h0m6-8h0m9-7h0m52 44h0m-136-37h0m-102 30h0m-55-29h0m370 42h0m33-38h0m-145 10h0m-139 5h0m-277-20h0m3 1h0m215-5h0m206 54h0m-259-22h0m316-33h0m8 19h0m-325-1h0m-39-8h0m4 11h0m-76-18h0m5 12h0m-31 28h0m305 8h0m74-7h0m156-9h0m3-10h0m-606-8h0m0 1h0m2 4h0m3 6h0m5 12h0m314-9h0m238 18h0m0-1h0m2-3h0m7-18h0m-443 17h0"/>
<path class="sp" stroke="#ffbf00" d="M829 1232h0m1-4h0m164 19h0m-83 21h0m2 7h0m227-22h0m5-9h0m1-1h0m15-12h0m1-1h0m2 0h0m32 32h0m-447-30h0m299 23h0m-287 20h0m19-4h0m281 4h0m150-43h0m2 9h0m-299-18h0m153 9h0m-228 36h0m145-20h0m9 23h0m-103-46h0m304 20h0m-451 30h0m337-50h0m-185 47h0m122-4h0m291-27h0m6-13h0m-450 54h0m366-27h0m126-6h0m-79-23h0m-41 50h0m-232-52h0m-150 15h0m236-1h0m170 38h0m-58-7h0m3-10h0m-25-7h0m160 17h0m-471 8h0m9-25h0m2-6h0m222 23h0m11-30h0m-302 10h0m267 22h0m20-35h0m13-12h0m4-1h0m227 52h0m-550-50h0m9 27h0m3 7h0m461-37h0m-193 14h0m1 3h0m4 9h0m139 14h0m123 7h0m-316-8h0m-45-6h0m-98-12h0m-73 9h0m261 4h0m288 5h0m-398-18h0m153 8h0m-294 14h0m8-28h0m381 21h0m7-21h0m-429 30h0m162 3h0m74-9h0m2 7h0m-251-33h0m461-4h0m-302 43h0m181-17h0m-273-6h0m20 23h0m423-35h0m78-4h0m-297 16h0m250-12h0m-363 30h0m90-30h0m124 11h0m54-21h0m-355 17h0m328 27h0m-381-31h0m134-2h0m3 12h0m-191-25h0m1-3h0m139 3h0m-96 28h0m374-24h0m42 31h0m-42-6h0m-36 3h0m186-5h0m3-4h0m-263-9h0m220 13h0m-496-22h0m29 34h0m176-15h0m-50 21h0m179-3h0m-269-23h0m3-5h0m131 1h0m2 3h0m157-11h0m124 2h0m-416 32h0m-53-29h0m345-5h0m15-1h0m24 27h0m166-16h0m-614-15h0m5 10h0m2 6h0m418-11h0m5 11h0m148 2h0m1-3h0m-441 17h0m114 1h0m5 13h0m244-38h0"/>
<path class="sp" stroke="#ffff00" d="M1002 1269h0m2 8h0m183 2h0m13-1h0m0 0h0m-72 0h0m22-40h0m203-12h0m-597 25h0m2 6h0m395-31h0m-374 44h0m371-2h0m1 3h0m-246-16h0m-61-4h0m131-29h0m7 19h0m285 34h0m41-2h0m4 5h0m-525-8h0m122 11h0m-167-5h0m5-6h0m28-6h0m13 13h0m-32-40h0m246-14h0m-141 64h0m373-46h0m117-5h0m-60 39h0m-65-31h0m1 4h0m-72-9h0m10 25h0m-305-10h0m-64 15h0m329-38h0m197-9h0m-216 36h0m-7-24h0m255 10h0m-472 6h0m-68 8h0m-16-29h0m16 45h0m347-3h0m-211-6h0m167 4h0m0 3h0m-58-21h0m3 8h0m-198-25h0m409 11h0m23 33h0m-474-31h0m4-15h0m116 10h0m267 6h0m46 12h0m-32-23h0m3 13h0m-433-9h0m60 12h0m6 15h0m134 0h0m121 10h0m-280-27h0m145-25h0m2-4h0m81 35h0m-46-6h0m7 21h0m245 11h0m-54-7h0m3-6h0m17-46h0m-298 52h0m235-42h0m4-10h0m138-1h0m6 20h0m2 10h0m7 24h0m-262-16h0m7-28h0m2-7h0m132 20h0m-375 13h0m7-9h0m316 2h0m5 15h0m-317-34h0m439 3h0m75-5h0m-357 16h0m60-1h0m113 31h0m-15-13h0m-301-2h0m3-9h0m-108-18h0m364 49h0m-269-24h0m2 6h0m7 16h0m-66-48h0m369 17h0m66 0h0m13 23h0m-502-6h0m343 10h0m1-3h0m8-20h0m263 22h0m-347-33h0m165 1h0m-32 15h0m221-24h0m-166 23h0m123-31h0m0 1h0m-538 0h0m23 14h0m198-10h0m4-10h0m203 53h0m-257-19h0m37-20h0m145 35h0m-354-36h0m1-3h0m169 7h0m2 3h0m153 42h0m100-37h0m-397 3h0m320 8h0m28-27h0m3 0h0m2 0h0m35 42h0m155-21h0m7-22h0m1-3h0m-604 35h0m316-10h0m240 14h0m-334-45h0m326 47h0m-59-23h0m1 2h0m2 6h0"/>
<path class="sp" stroke="#bfff00" d="M1137 1257h0m203 10h0m3-8h0m5-16h0m-601-15h0m324 16h0m13 32h0m207-15h0m-272 13h0m-159 16h0m10-21h0m17-30h0m345 9h0m6-19h0m114 9h0m-235 24h0m172 8h0m-131-23h0m202-18h0m-356 6h0m62-11h0m12 26h0m1 2h0m4 9h0m-209 11h0m5-14h0m310 2h0m32 6h0m7 10h0m-484-26h0m453 15h0m-186-5h0m152 20h0m115-32h0m-326 25h0m318-27h0m-154 13h0m4-14h0m4-14h0m-333 14h0m572-3h0m-249 3h0m153 2h0m-51 20h0m-417 7h0m401 2h0m13-47h0m96 0h0m-395 1h0m304 1h0m-18-9h0m-455 59h0m334-5h0m-84-16h0m344-27h0m-145 21h0m-427-1h0m139-26h0m-103 19h0m5 14h0m336-25h0m10-3h0m12 5h0m-282 0h0m98 10h0m2 4h0m2 4h0m261 10h0"/>
<path class="sp" stroke="#80ff00" d="M844 1244h0m8 25h0m58-32h0m4-12h0m156 17h0m237 30h0m-407-16h0m-17-12h0m11-15h0m24-4h0m317 13h0m120 10h0m3 10h0m-475 6h0m190-25h0m269 40h0m1 2h0m-143-27h0m-456-4h0m1-4h0m56-11h0m397 32h0m-461-18h0m2-1h0m5-3h0m14 6h0m18 33h0m244-46h0m-192-14h0m109 1h0m267 37h0m13-35h0m-431 34h0m12-33h0m47 4h0m6 15h0m371 10h0m-103-26h0m-329 20h0m10 24h0m446-50h0m115 17h0m-454 14h0m108-12h0m155-12h0m30-6h0m5 7h0m-149 26h0m220-23h0m9 25h0m2 4h0m-179 5h0m7-15h0m-269-3h0m-51-28h0m359 8h0m2 0h0m35 40h0m-320-4h0m440-28h0m-442 12h0m227 32h0m2-5h0m13-34h0"/>
<path class="sp" stroke="#40ff00" d="M1147 1242h0m8-8h0m6-3h0m-241 16h0m-10-8h0m-66 13h0m132-28h0m284 63h0m7-11h0m38-6h0m-301-42h0m-143 59h0m26-49h0m61 39h0m274-1h0m132-32h0m-75-10h0m-126 1h0m192 31h0m-357 13h0m12-34h0m333 7h0m-443-26h0m133 36h0m171-5h0m-449-9h0m1-4h0m325 2h0m3-8h0m117 3h0m164 21h0m-606-17h0m26 37h0m91-60h0m-40 8h0m437-1h0m5 12h0m1 2h0m-498-20h0m88 46h0m139-17h0m4-17h0m358-4h0m-102-9h0m0 1h0m-470 22h0m8 20h0m567-17h0m-313-26h0m-35 21h0m193 2h0m131-12h0m-270-7h0m202-1h0m9 23h0m9 23h0m3 7h0m-533-9h0m0-1h0m192-15h0m1 2h0m256 8h0m7 15h0m1 2h0m-381-54h0m315 6h0m-164 25h0m6 17h0m307-6h0m6-14h0m-443 16h0m103-11h0"/>
<path class="sp" stroke="#00ff00" d="M848 1256h0m317-26h0m15 9h0m174-16h0m-81 45h0m-378-40h0m453-1h0m-220 7h0m45 4h0m8 24h0m164 5h0m-18-34h0m-129 22h0m-456 1h0m9-24h0m442 14h0m-182 13h0m203-25h0m45-12h0m-406 30h0m245-28h0m118 44h0m-210-36h0m166-3h0m29-1h0m-210 41h0m71-23h0m4-10h0m216 17h0m7 16h0m7 18h0m-529-34h0m10-20h0m173 17h0m4 12h0m161-6h0m16-30h0m9 12h0m-260 8h0"/>
<path class="sp" stroke="#00ff40" d="M913 1266h0m4-9h0m-49 15h0m6-11h0m401-39h0m-107 1h0m175 50h0m-275-45h0m123 31h0m32 10h0m-478-21h0m7-17h0m3-7h0m47 16h0m-59 6h0m2-1h0m4 0h0m6 4h0m4 4h0m254 3h0m3-9h0m-174-21h0m2 3h0m365 22h0m-205-15h0m0 0h0m211-11h0m1 1h0m-216 24h0m279-6h0m13 33h0m-343-29h0m163 14h0m8-15h0m12-22h0m1-1h0m61 10h0m1 2h0m5 9h0m9 20h0m-232-33h0m-26-6h0"/>
<path class="sp" stroke="#00ff80" d="M1140 1252h0m33-19h0m4 3h0m173-1h0m-436 28h0m-22-32h0m11-9h0m18 5h0m428 1h0m-470 21h0m468 14h0m4-12h0m-468-5h0m1-3h0m137 11h0m171 4h0m-438-31h0m1-2h0m-7 20h0m326-14h0m138 2h0m102 11h0m-312 4h0m1-3h0m164-5h0m6 16h0m-112-8h0m218-3h0m-173 30h0m83-51h0m-354 2h0m3 6h0m28 26h0m100 2h0m137 6h0m7-20h0m125-15h0m4 11h0m5 15h0"/>
<path class="sp" stroke="#00ffbf" d="M900 1224h0m272 13h0m186-3h0m-561-9h0m-38 27h0m265-25h0m128 9h0m0 1h0m-153 13h0m314-9h0m-306-5h0m164 13h0m-51-3h0m2-4h0m2-3h0m65-14h0m3 5h0m14 27h0m11 26h0m-340-51h0m73-7h0"/>
<path class="sp" stroke="#00ffff" d="M914 1222h0m437 12h0m-300-12h0m-44 47h0m43-46h0m-41 8h0m153-7h0m-31 2h0m74 30h0"/>
<path class="sp" stroke="#00bfff" d="M890 1235h0m-12 12h0m4 12h0m251-37h0m67 23h0m-323-14h0"/>
<path class="sp" stroke="#0080ff" d="M913 1222h0m-38 13h0"/>
<path class="sp" stroke="#000" d="M1180 1284h0m2-2h0m2-1h0m5-3h0m5-1h0m2 0h0m6 2h0m6 4h0m-351-1h0m269-1h0m2-3h0m210-5h0m0-1h0m-574-1h0m4 11h0m526-8h0m-534 2h0m0 0h0m1-1h0m0 0h0m0-1h0m4-2h0m20 1h0m4 4h0m364 2h0m-70-4h0m-88 1h0m3 8h0m263 2h0m2-4h0m43-11h0m3 4h0m4 5h0m-530-1h0m-46 5h0m2-3h0m2-4h0m48 3h0m307-9h0m-203 6h0m2-5h0m125 4h0m-158 10h0m0-2h0m252-13h0m179 9h0m-58-7h0m-67-1h0m-278 2h0m294-3h0m6 16h0m-441-7h0m2-7h0m234 8h0m-17-1h0m2-2h0m3-1h0m1 0h0m1 0h0m2 0h0m9 2h0m4 2h0m271-8h0m36 1h0m-303 10h0m227-11h0m1 5h0m-335-2h0m194 12h0m1-1h0m1-1h0m0 0h0m4-2h0m5-1h0m3-1h0m5 2h0m2 0h0m0 0h0m-117 3h0m2-6h0m355-2h0m-116-7h0m-418 0h0m176 4h0m-248-5h0m325 6h0m-290-3h0m235-2h0m156 3h0m1 5h0m174-2h0m7-4h0m1 0h0m6 0h0m-41 16h0m0-1h0m5-4h0m1 0h0m1-1h0m0 0h0m2 0h0m3-1h0m1 0h0m2 1h0m7 4h0m-41-14h0m2-1h0m1 0h0m11 4h0m1 1h0m5 5h0m-67-10h0m-289 9h0m243-2h0m-418 3h0m0-2h0m80 0h0m252-9h0m250 6h0m-370-3h0m-254-2h0m1-1h0m330 10h0m200 0h0m-352-2h0m5-4h0m2-1h0m1-1h0m5 0h0m1 0h0m2 0h0m10 8h0m1 2h0m383-12h0m-435 17h0m7-5h0m1 0h0m13 4h0m-47-9h0m1-2h0m1-1h0m2-1h0m5-2h0m5 0h0m0 1h0m0 0h0m4 1h0m2 2h0m332-5h0m1 3h0m-344-2h0m1 3h0m2 2h0m199-1h0m2-2h0m19 5h0m-66-3h0m1-2h0m201-2h0m1-2h0m-490 8h0m457-7h0m-255 4h0m-45-2h0m1-2h0m-51 5h0m288-4h0m51 2h0m-55-1h0m1 0h0m3 0h0m-32 10h0m2-1h0m7 1h0m-264-9h0m1 3h0m336 0h0m1-2h0m48-3h0m2 2h0m-435-4h0m5 12h0m330 3h0m1-3h0m1-1h0m4-8h0m89-2h0m-155 1h0m236 6h0m3-6h0m-8-2h0m20 5h0m-516 10h0m10 1h0m-88-15h0m0 0h0m465 0h0m1 2h0m1 1h0m0 0h0m3 5h0m-367-8h0m287 4h0m-373-1h0m457-3h0m2 4h0m-121 9h0m3-5h0m68-7h0m2 3h0m-309 1h0m1 4h0m332-10h0m150 1h0m-37 4h0m2-4h0m-313 2h0m109-1h0"/>
</g>
<rect x="736.0" y="977.00" width="630.0" height="314.50" fill="none" stroke="#000" stroke-width="4.2"/>
<path d="M736.0 977.0v5M736.0 1291.5v-5M814.8 977.0v5M814.8 1291.5v-5M893.5 977.0v5M893.5 1291.5v-5M972.2 977.0v5M972.2 1291.5v-5M1051.0 977.0v5M1051.0 1291.5v-5M1129.8 977.0v5M1129.8 1291.5v-5M1208.5 977.0v5M1208.5 1291.5v-5M1287.2 977.0v5M1287.2 1291.5v-5M1366.0 977.0v5M1366.0 1291.5v-5M762.2 977.0v3.5M762.2 1291.5v-3.5M788.5 977.0v3.5M788.5 1291.5v-3.5M841.0 977.0v3.5M841.0 1291.5v-3.5M867.2 977.0v3.5M867.2 1291.5v-3.5M919.8 977.0v3.5M919.8 1291.5v-3.5M946.0 977.0v3.5M946.0 1291.5v-3.5M998.5 977.0v3.5M998.5 1291.5v-3.5M1024.8 977.0v3.5M1024.8 1291.5v-3.5M1077.2 977.0v3.5M1077.2 1291.5v-3.5M1103.5 977.0v3.5M1103.5 1291.5v-3.5M1156.0 977.0v3.5M1156.0 1291.5v-3.5M1182.2 977.0v3.5M1182.2 1291.5v-3.5M1234.8 977.0v3.5M1234.8 1291.5v-3.5M1261.0 977.0v3.5M1261.0 1291.5v-3.5M1313.5 977.0v3.5M1313.5 1291.5v-3.5M1339.8 977.0v3.5M1339.8 1291.5v-3.5M736.0 1291.50h5M1366.0 1291.50h-5M736.0 1239.08h5M1366.0 1239.08h-5M736.0 1186.67h5M1366.0 1186.67h-5M736.0 1134.25h5M1366.0 1134.25h-5M736.0 1081.83h5M1366.0 1081.83h-5M736.0 1029.42h5M1366.0 1029.42h-5M736.0 977.00h5M1366.0 977.00h-5M736.0 1274.03h3.5M1366.0 1274.03h-3.5M736.0 1256.56h3.5M1366.0 1256.56h-3.5M736.0 1221.61h3.5M1366.0 1221.61h-3.5M736.0 1204.14h3.5M1366.0 1204.14h-3.5M736.0 1169.19h3.5M1366.0 1169.19h-3.5M736.0 1151.72h3.5M1366.0 1151.72h-3.5M736.0 1116.78h3.5M1366.0 1116.78h-3.5M736.0 1099.31h3.5M1366.0 1099.31h-3.5M736.0 1064.36h3.5M1366.0 1064.36h-3.5M736.0 1046.89h3.5M1366.0 1046.89h-3.5M736.0 1011.94h3.5M1366.0 1011.94h-3.5M736.0 994.47h3.5M1366.0 994.47h-3.5" stroke="#000" stroke-width="2" fill="none"/><g font-size="22" text-anchor="middle"><text x="736.0" y="1315.8">0</text><text x="814.8" y="1315.8">3</text><text x="893.5" y="1315.8">6</text><text x="972.2" y="1315.8">9</text><text x="1051.0" y="1315.8">12</text><text x="1129.8" y="1315.8">15</text><text x="1208.5" y="1315.8">18</text><text x="1287.2" y="1315.8">21</text><text x="1366.0" y="1315.8">24</text></g><g font-size="22" text-anchor="end"><text x="1397.0" y="1299.3">0</text><text x="1397.0" y="1246.9">15</text><text x="1397.0" y="1194.5">30</text><text x="1397.0" y="1142.0">45</text><text x="1397.0" y="1089.6">60</text><text x="1397.0" y="1037.2">75</text><text x="1397.0" y="984.8">90</text></g><text transform="translate(1428.0 1134.0) rotate(-90)" font-size="21.7" text-anchor="middle" textLength="180.5" lengthAdjust="spacingAndGlyphs">Elevación (grados)</text><text x="1050.3" y="1344.4" font-size="21.7" text-anchor="middle" textLength="147.4" lengthAdjust="spacingAndGlyphs">Tiempo (horas)</text>
</g>
</svg>
</body></html>
